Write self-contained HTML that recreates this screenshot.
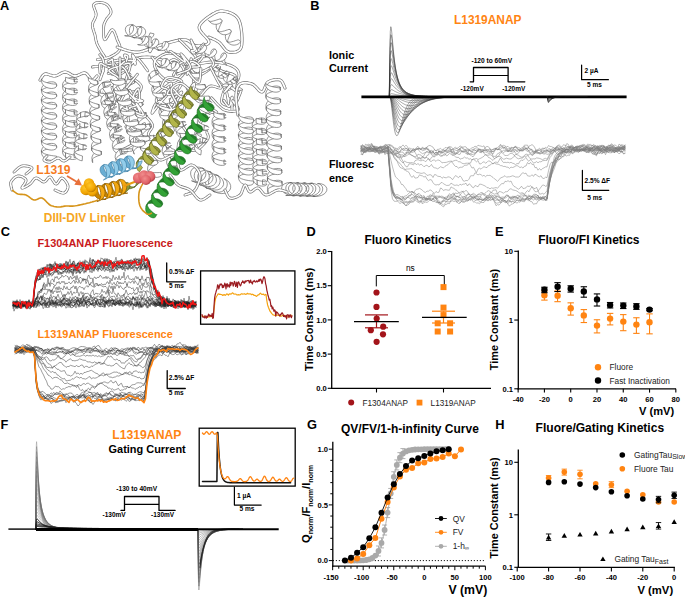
<!DOCTYPE html>
<html><head><meta charset="utf-8"><style>
html,body{margin:0;padding:0;background:#fff;}
use{fill:none}
path{stroke-linejoin:round;stroke-linecap:round}
.og{fill:none;stroke:#707070;stroke-width:4.3}.fg{stroke:#fff;stroke-width:3.0}
.oa{fill:none;stroke:#707070;stroke-width:3.9}.fa{stroke:#fff;stroke-width:2.6}
.ob{fill:none;stroke:#707070;stroke-width:3.5}.fb{stroke:#fff;stroke-width:2.2}
.oc{fill:none;stroke:#707070;stroke-width:3.1}.fc{stroke:#fff;stroke-width:1.8}
.od{fill:none;stroke:#707070;stroke-width:2.9}.fd{stroke:#fff;stroke-width:1.6}
.oe{fill:none;stroke:#707070;stroke-width:2.8}.fe{stroke:#fff;stroke-width:1.5}
svg{display:block;font-family:"Liberation Sans",sans-serif;}
</style></head><body>
<svg width="685" height="597" viewBox="0 0 685 597">
<g class="od"><path id="r1" d="M104.8,57.1l-.6-1-.8-1.3-1.1-1.6-1.1-1.7-1.1-1.8-1-1.8-1-1.7-.7-1.5-.6-1.4-.4-1.3-.3-1.2-.3-1.3-.2-1.1-.2-1.2-.2-1.2-.3-1.3-.4-1.2-.4-1.2-.4-1.3-.4-1.2-.4-1.3-.3-1.2-.2-1.2 0-1.3 .2-1.2 .4-1.3 .6-1.2 .7-1.2 .6-1.3 .6-1.2 .4-1.3 .2-1.2 0-1.3-.4-1.4-.4-1.4-.6-1.3-.5-1.4-.4-1.2-.2-1.1 0-.8 .4-.7 .6-.6 .7-.4 .8-.4 1-.2 .9-.1 1-.1 .9,0 .8,0 1,.1 1,.2 1,.3 1,.4 1,.4 .8,.5 .8,.6 .7,.7 .7,.8 .6,.9 .6,1 .5,1 .4,1 .2,1 0,1-.2,.9-.5,1-.6,.9-.8,.9-.8,1-.8,.9-.7,.9-.5,1-.5,.8-.4,.9-.4,.8-.4,.9-.3,.8-.2,1-.2,1-.1,1.2-.1,1.5 0,1.8 0,2 .1,2 .1,1.9 .3,1.6 .3,1.1 .5,.5 .7-.3 .8-1.1 1-1.6 1-1.8 1.1-1.9 1-1.6 1-1.2 .9-.4 .7,.3 .7,.8 .7,1.1 .6,1.5 .7,1.6 .5,1.7 .5,1.5 .5,1.4 .5,1.3 .6,1.2 .6,1.3 .5,1.3 .4,1.3 .2,1.2 0,1.2-.3,1.1-.6,1.1-.9,1.1-1.2,1-1.3,1-1.5,1-1.5,.8-1.5,.8-1.4,.7-1.5,.5-1.7,.5-1.8,.4-1.8,.3-1.8,.2-1.5,.2-1.4,.2-.9,.2"/></g><use href="#r1" class="fd"/>
<path d="M133.1,25.1l-1.1,.1-1,.7-.9,1.2-.5,1.5-.2,1.9 .2,1.9 .7,1.9 1.2,1.6 1.5,1.2 1.7,.7-1.4-.3-2.6-.9-2.2-1.3-1.8-1.7-1-2-.4-2 .3-1.8 .9-1.5 1.5-1 1.8-.5 1.8,0z" fill="#fff" stroke="#5e5e5e" stroke-width="0.65"/>
<path d="M141.3,26.9l-1,.1-1,.6-.9,1.2-.6,1.6-.2,1.8 .3,2 .7,1.8 1.1,1.6 1.6,1.2 1.7,.7-1.4-.3-2.6-.8-2.3-1.4-1.7-1.7-1.1-1.9-.4-2 .4-1.9 .9-1.5 1.5-1 1.7-.5 1.9,.1z" fill="#fff" stroke="#5e5e5e" stroke-width="0.65"/>
<path d="M126.5,36l2.7,.3 2.6-.3 2.3-.9 1.7-1.3 1.2-1.7 .4-1.8-.2-1.8-.9-1.5-1.5-1.2-1.7-.7-1.5-.3 1,.5 .7,1.1 .3,1.4-.1,1.7-.6,1.7-1,1.7-1.4,1.4-1.7,1-1.9,.5-1.9-.1z" fill="#fff" stroke="#5e5e5e" stroke-width="0.65"/>
<path d="M134.7,37.8l2.7,.2 2.6-.3 2.3-.9 1.8-1.3 1.2-1.7 .4-1.8-.3-1.7-.9-1.6-1.4-1.1-1.8-.7-1.4-.3 .9,.5 .7,1 .3,1.4-.1,1.7-.6,1.8-1,1.7-1.4,1.4-1.7,1-1.8,.5-1.9-.1z" fill="#fff" stroke="#5e5e5e" stroke-width="0.65"/>
<path d="M143,39.5l1.6,.2 1.6,.1 1.6-.2 1.5-.4 1.3-.6 1.1-.8 .9-.9 .7-1 .5-1 .2-1.1-4-.9-.3,1.1-.5,1.1-.6,1-.7,.9-.9,.8-1,.7-1.1,.5-1.1,.2-1.1,.1-1.1-.1z" fill="#fff" stroke="#5e5e5e" stroke-width="0.65"/>
<g class="oc"><path id="r2" d="M117.2,47.1l1.5,.5 2,.7 2.3,.9 2.6,.9 2.8,.8 2.9,.7 2.9,.4 2.9,.1 2.9-.3 3-.7 3.1-1 3.2-1.1 3.2-1.2 3.2-1.2 3.2-1 3-.9 3-.9 3-.8 3-.9 2.9-.8 2.9-.7 2.7-.5 2.5-.3 2.3-.1 2,.3 1.8,.7 1.6,.9 1.4,1.1 1.4,1.1 1.4,1 1.3,.7 1.5,.4 1.7,.1 2-.1 2-.2 1.9-.3 1.8-.6 1.5-.7 1.1-.8 .4-1.1-.3-1.4-1.1-1.6-1.6-1.9-1.9-2-1.9-2.1-1.7-2.1-1.1-2-.3-1.8 .5-1.7 1-1.8 1.5-1.7 1.8-1.7 2-1.6 2-1.5 1.9-1.3 1.7-1.1 1.5-1 1.6-.8 1.5-.8 1.5-.6 1.5-.4 1.5-.3 1.7,0 1.6,.2 1.8,.3 2.1,.5 2.1,.7 2.1,.9 2,1.1 1.9,1.4 1.6,1.7 1.3,2.1 1,2.6 .9,3.4 .6,3.8 .5,4 .2,4 0,3.8-.2,3.2-.5,2.4-.9,1.8-1.2,1.4-1.6,1-1.7,.7-1.9,.3-1.8,.1-1.8,0-1.5-.3-1.4-.6-1.3-.9-1.2-1.3-1.2-1.5-1.2-1.6-1.2-1.5-1.2-1.4-1.2-1.1-1.4-.9-1.4-.8-1.4-.8-1.4-.6-1.4-.6-1.2-.5-1-.4-.8-.4"/></g><use href="#r2" class="fc"/>
<g class="od"><path id="r3" d="M92.4,67l1.3-.2 1.8-.2 2-.2 2.4-.3 2.4-.4 2.6-.3 2.5-.4 2.4-.5 2.3-.5 2.5-.6 2.4-.7 2.5-.7 2.6-.7 2.5-.6 2.5-.6 2.5-.5 2.5-.5 2.5-.5 2.5-.5 2.5-.4 2.4-.4 2.5-.2 2.5-.1 2.5,.1 2.4,.3 2.5,.4 2.4,.7 2.4,.7 2.5,.8 2.5,.8 2.5,.7 2.6,.5 2.7,.5 2.7,.4 2.8,.5 2.8,.3 2.9,.4 2.8,.2 2.9,.2 2.8,0 2.8-.1 2.8-.3 2.8-.5 2.9-.5 2.8-.5 2.8-.4 2.7-.2 2.7,0 2.7,.3 2.8,.3 2.8,.5 2.7,.6 2.6,.7 2.4,.8 2.1,.9 1.7,.9 1.5,1 1.2,1.1 1,1.1 .7,1.3 .5,1.3 .3,1.4 0,1.3-.2,1.4-.5,1.6-.9,1.8-1.2,2-1.4,1.9-1.5,1.8-1.6,1.6-1.5,1.1-1.3,.6-1.3,0-1.4-.6-1.5-1-1.4-1.3-1.3-1.4-1.3-1.3-1-1.1-.7-.7"/></g><use href="#r3" class="fd"/>
<g class="oe"><path id="r4" d="M152,57.1l.7,.9 1,1.3 1.1,1.5 1.3,1.7 1.4,1.6 1.5,1.4 1.5,1 1.4,.5 1.4-.2 1.6-.9 1.6-1.3 1.6-1.5 1.6-1.4 1.6-1.3 1.5-.7 1.5-.1 1.5,.6 1.7,1.1 1.7,1.6 1.6,1.8 1.4,1.9 1.2,2 .7,1.8 .1,1.6-.5,1.4-1,1.6-1.5,1.6-1.8,1.6-2,1.3-2,1.2-1.9,.8-1.7,.4-1.6-.1-1.7-.4-1.7-.8-1.7-1-1.6-1.2-1.5-1.3-1.4-1.4-1.2-1.3-1.1-1.3-1.1-1.5-1-1.6-.8-1.7-.7-1.7-.4-1.6-.1-1.6 .2-1.4 .7-1.3 1.2-1.4 1.4-1.3 1.7-1.2 1.9-1.2 1.9-1 1.9-.7 1.7-.6 1.9-.2 2,.1 2.2,.4 2.2,.4 2,.6 1.9,.5 1.6,.5 1.1,.2"/></g><use href="#r4" class="fe"/>
<g class="od"><path id="r5" d="M179.3,39.7l.7,.8 1.1,1 1.3,1.2 1.4,1.3 1.4,1.5 1.4,1.4 1.4,1.4 1.2,1.3 1.1,1.3 1.3,1.3 1.3,1.3 1.2,1.2 1.1,1.3 .8,1.2 .5,1.2 .1,1.2-.5,1-1.3,1-1.6,.9-1.8,.9-1.9,.9-1.5,.9-1,.9-.3,.9 .5,1 1.1,1.1 1.5,1.2 1.9,1.2 2,1.1 2,.9 1.8,.6 1.6,.3 1.4,0 1.5-.4 1.4-.7 1.4-.9 1.3-.9 1.2-.8 1-.8 .7-.4"/></g><use href="#r5" class="fd"/>
<path d="M221.9,20.5l.1,.5-.2,.9-.4,1.1-.7,1.4-.7,1.5-.6,1.6-.6,1.5-.3,1.4 .1,1.1 .4,.8-1.1-1.2-1-1.5-.6-1.7-.1-1.9 .2-1.8 .6-1.7 .8-1.4 .9-1.1 .9-.6 .8-.3 .4,.2z" fill="#fff" stroke="#5e5e5e" stroke-width="0.65"/>
<path d="M231.1,30.9l.1,.5-.2,.9-.4,1.1-.7,1.4-.7,1.5-.6,1.6-.6,1.5-.3,1.4 .1,1.1 .4,.8-1.1-1.2-1-1.5-.6-1.7-.1-1.9 .2-1.8 .6-1.7 .8-1.4 .9-1.1 .9-.6 .8-.3 .4,.2z" fill="#fff" stroke="#5e5e5e" stroke-width="0.65"/>
<path d="M209.8,21.9l1.4,1.2 1.6,.8 1.8,.4 1.9,0 1.7-.4 1.5-.6 1.2-.8 .7-.8 .4-.7-.1-.5-1.1-1.2-.5-.2-.9,0-1.2,.4-1.4,.4-1.6,.6-1.7,.4-1.5,.4-1.4,.1-1.1-.2-.8-.5z" fill="#fff" stroke="#5e5e5e" stroke-width="0.65"/>
<path d="M219,32.3l1.4,1.2 1.6,.8 1.8,.4 1.9,0 1.7-.4 1.5-.6 1.2-.8 .7-.8 .4-.7-.1-.5-1.1-1.2-.5-.2-.9,0-1.2,.4-1.4,.4-1.6,.6-1.7,.4-1.5,.4-1.4,.1-1.1-.2-.8-.5z" fill="#fff" stroke="#5e5e5e" stroke-width="0.65"/>
<path d="M228.2,42.7l1.4,1.2 1.6,.8 1.8,.4 1.9,0 1.7-.4 1.5-.6 1.2-.8 .7-.8 .4-.7-.1-.5-1.1-1.2-.5-.2-.9,0-1.2,.4-1.4,.4-1.6,.6-1.7,.4-1.5,.4-1.4,.1-1.1-.2-.8-.5z" fill="#fff" stroke="#5e5e5e" stroke-width="0.65"/>
<g class="oe"><path id="r6" d="M182.2,125.5l.7,.9 .8,1.3 1.1,1.5 1.1,1.7 1.2,1.8 1.2,1.8 1.2,1.8 1,1.6 1,1.6 1.2,1.7 1.3,1.7 1.2,1.7 1,1.6 .8,1.4 .3,1.2-.1,.9-.9,.5-1.6,.1-2.1-.1-2.3-.3-2.3-.4-2-.4-1.4-.3-.6-.1 .4,.2 .9,.3 1.6,.4 1.8,.4 2,.3 2.1,.2 2-.1 1.6-.4 1.6-.8 1.6-1.1 1.7-1.4 1.6-1.6 1.5-1.6 1.3-1.6 1.1-1.5 .9-1.2 .4-1.1 .2-1.1-.1-1.1-.3-1-.3-.8-.4-.8-.3-.7-.1-.5"/></g><use href="#r6" class="fe"/>
<g class="oe"><path id="r7" d="M171.8,109.5l-1.1-.7-1.5-1.2-1.9-1.3-2-1.5-2-1.3-2-1.1-1.7-.7-1.5-.1-1.2,.7-1.1,1.3-1.1,1.9-1,2-.7,2.1-.6,1.8-.4,1.3 0,.6 .2-.2 .7-.7 .8-1.1 1.1-1.5 1.2-1.5 1.2-1.7 1.1-1.5 1.1-1.4 1-1.2 1.1-1.3 1.2-1.2 1.1-1.3 1.1-1.3 1.1-1.2 .9-1.3 .8-1.3 .8-1.4 .8-1.7 .8-1.7 .7-1.7 .5-1.5 .2-1.3 0-.8-.5-.3-1,.3-1.6,1-2,1.5-2.2,1.7-2.2,1.8-2,1.7-1.7,1.4-1.2,1"/></g><use href="#r7" class="fe"/>
<g class="oe"><path id="r8" d="M127.6,75.5l1.2,.8 1.7,1 2.1,1.2 2.2,1.4 2.1,1.4 1.9,1.6 1.5,1.5 .9,1.5 .1,1.5-.4,1.7-.8,1.8-1.1,1.8-1.2,1.7-1.1,1.7-.9,1.5-.5,1.2-.2,1 .2,.7 .3,.4 .4,.4 .3,.4 .3,.5 0,.7-.2,.9-.7,1.2-1.1,1.4-1.3,1.5-1.3,1.6-1.4,1.6-1.2,1.7-.9,1.7-.4,1.6 0,1.8 .2,1.9 .5,2 .8,2 .8,1.8 1,1.6 1,1.3 1,.7 1.2,.2 1.4-.4 1.6-.8 1.7-1 1.6-1.1 1.4-1.1 1.3-.9 .9-.5"/></g><use href="#r8" class="fe"/>
<g class="oe"><path id="r9" d="M147.7,70.8l-.8-1.1-1.1-1.5-1.3-1.8-1.4-1.9-1.5-1.9-1.4-1.7-1.3-1.4-1.1-.9-.9-.4-.6,0-.6,.3-.5,.5-.5,.6-.6,.7-.8,.6-1.1,.6-1.4,.6-1.7,.7-1.9,.8-2,.9-2,.8-1.9,.6-1.7,.4-1.3,.2-1.1-.2-1-.6-.9-.7-.7-.9-.5-.9-.4-.8-.1-.8 .2-.5 .5-.3 1.1-.1 1.3-.1 1.5,0 1.6,0 1.3,0 1,0 .6,0 0-.1-.5,0-.7-.1-.9-.1-.9-.1-.9,0-.8-.1-.5,0"/></g><use href="#r9" class="fe"/>
<g class="oe"><path id="r10" d="M193,60.4l1.1-.5 1.5-.8 1.7-1 1.9-1 2-.9 1.9-.8 1.8-.4 1.4,0 1.3,.5 1.4,.9 1.3,1.2 1.2,1.4 1,1.5 .7,1.5 .3,1.4-.2,1.3-.8,1.1-1.3,1.1-1.9,1.2-2.1,1.1-2.1,1-2.1,.9-1.8,.9-1.4,.7-.8,.7-.6,.6-.3,.6-.1,.5-.2,.3-.3,.1-.5-.1-.9-.5-1.3-1-1.6-1.7-1.8-2.1-1.9-2.2-1.9-2.1-1.9-1.8-1.8-1.3-1.6-.5-1.4,.5-1.4,1.2-1.3,1.8-1.2,2.1-1.1,2.2-1,2.1-.9,1.7-.6,1.2"/></g><use href="#r10" class="fe"/>
<g class="oe"><path id="r11" d="M125.9,126.8l1.1,1.1 1.5,1.5 1.8,1.9 1.9,1.9 1.9,2 1.7,1.7 1.4,1.4 .8,.9 .2,.2-.3-.4-.6-.7-.8-.9-.9-.9-.9-.8-.7-.5-.4-.1-.1,.4 .2,.7 .3,1 .4,1.1 .3,1.2 .1,1.2-.1,1.1-.4,1-.9,1-1.5,1-1.7,1-1.9,1-1.8,.9-1.5,.8-1.1,.7-.6,.6 .3,.3 1,.2 1.4,.1 1.6-.1 1.6-.1 1.4-.1 .9-.1 .2,0-.7,0-1.4,0-1.8,0-2.1,0-2.2,0-2,0-1.7,0-1.1,0"/></g><use href="#r11" class="fe"/>
<g class="oe"><path id="r12" d="M112,87.4l.3,.9 .5,1.2 .5,1.4 .6,1.6 .5,1.7 .4,1.7 .3,1.6 0,1.6-.2,1.6-.5,1.7-.6,1.9-.8,1.8-.7,1.6-.7,1.5-.6,1.1-.3,.7-.1,.1 .1-.2 .3-.5 .3-.8 .4-.9 .2-1 .1-1-.1-1-.3-.9-.5-1.1-.6-1.1-.6-1.1-.8-1.2-.8-1.2-.7-1.2-.8-1.2-.9-1.4-1-1.6-1.1-1.7-1.1-1.7-1-1.5-.8-1.2-.6-.7-.3-.1 .1,.7 .5,1.5 .7,1.9 .9,2.3 1,2.3 .9,2.2 .7,1.8 .5,1.2"/></g><use href="#r12" class="fe"/>
<g class="oe"><path id="r13" d="M121.3,59.6l1.2,.1 1.7,.2 1.9,.3 2.2,.2 2.1,.2 2,.2 1.5-.1 1-.1 .5-.5-.1-.8-.4-1-.6-1-.7-1-.6-.8-.5-.5-.2,0 .1,.5 .3,1 .4,1.3 .4,1.6 .5,1.5 .4,1.4 .4,1.1 .1,.7 .2,.2 .1-.2 .1-.6 0-.6-.1-.6-.3-.5-.5-.2-.7,.3-1,.9-1.3,1.4-1.5,1.6-1.7,1.8-1.7,1.9-1.8,1.7-1.8,1.4-1.6,1-1.7,.5-1.9,.3-1.9,0-1.9-.2-1.7-.2-1.7-.3-1.3-.2-1-.1"/></g><use href="#r13" class="fe"/>
<g class="oe"><path id="r14" d="M210.7,67.4l.5,1 .7,1.4 .9,1.6 .9,1.8 .9,1.9 1,1.8 .8,1.7 .8,1.4 .7,1.3 .7,1.3 .8,1.2 .7,1.1 .5,1.1 .4,.8 .1,.8-.3,.5-.7,.1-1-.2-1.4-.4-1.6-.6-1.6-.5-1.7-.4-1.6-.1-1.4,.2-1.3,.8-1.3,1.1-1.4,1.4-1.2,1.5-1.3,1.6-1.2,1.4-1.1,1.1-1,.8-1.1,.3-1.1-.1-1.1-.4-1.1-.5-.8-.5-.6-.3-.2-.1 .2,.3 .9,.7 1.6,1.2 1.9,1.4 2.3,1.5 2.2,1.6 2.1,1.4 1.8,1.2 1.2,.8"/></g><use href="#r14" class="fe"/>
<g class="oe"><path id="r15" d="M228.8,98.1l0,.6 0,.8-.1,1.1 0,1.1 0,1-.1,.9 0,.7-.1,.2 0-.1-.1-.4 0-.6 0-.8-.1-.9-.1-1-.1-1-.2-1-.2-1.2-.3-1.6-.3-1.7-.4-1.7-.3-1.6-.4-1.2-.4-.8-.4-.1-.5,.6-.6,1.4-.7,1.8-.7,2.2-.6,2.2-.4,2.2-.1,1.9 .2,1.3 .7,1 1.1,.8 1.5,.7 1.6,.5 1.6,.3 1.5,.2 1.3,.1 .9,0 .5-.2 .2-.5 0-.6-.1-.7-.2-.8-.2-.7-.1-.6-.1-.4"/></g><use href="#r15" class="fe"/>
<g class="oe"><path id="r16" d="M111.8,80.9l.7,.8 1,1.1 1.2,1.3 1.3,1.4 1.2,1.5 1.1,1.5 .9,1.4 .5,1.3 0,1.1-.5,1.1-.6,1-.9,1.1-.8,.9-.7,1-.4,.9 0,.9 .4,.8 .8,.7 1,.6 1.1,.6 1.2,.6 1.2,.7 1.1,.7 .9,.7 .8,.8 .7,.9 .8,1 .7,.9 .6,1 .5,.9 .3,.9 .2,.9-.1,.8-.2,.9-.4,.8-.6,.8-.6,.8-.6,.6-.7,.6-.7,.4-.7,.2-.8,.1-.9,0-.9-.1-.8-.2-.8-.2-.7-.1-.5-.1"/></g><use href="#r16" class="fe"/>
<g class="oe"><path id="r17" d="M201.6,120.6l-.5,1.1-.8,1.4-.9,1.7-.9,1.9-1,1.9-.8,1.8-.6,1.6-.3,1.1 .2,.8 .6,.5 .9,.3 .9,.2 .9,.1 .7,.1 .3,.1-.3,.2-.9,.2-1.4,.1-1.8,.1-2,.1-2.1,.1-2.1,.1-1.8,.3-1.5,.3-1.3,.4-1.1,.5-1,.5-.9,.5-.8,.7-.8,.6-.6,.8-.5,.8-.5,.9-.3,1.2-.3,1.2-.1,1.2-.1,1.3 0,1.1 .1,.9 .1,.7 .3,.4 .5,.2 .6,0 .6-.1 .7-.1 .6-.2 .5-.1 .4-.1"/></g><use href="#r17" class="fe"/>
<g class="oe"><path id="r18" d="M145.9,116.2l.6,.7 .9,.9 1,1.1 1.1,1.3 1.1,1.3 .9,1.3 .7,1.3 .4,1.3-.1,1.2-.5,1.2-.8,1.3-1,1.3-.8,1.3-.7,1.2-.4,1.1 .1,1 .6,.8 .9,.7 1.2,.6 1.4,.5 1.5,.5 1.6,.6 1.6,.7 1.5,.8 1.7,1.1 1.8,1.3 1.9,1.4 1.9,1.5 1.9,1.4 1.7,1.2 1.4,1.1 1.1,.8 .7,.5 .5,.2 .3,0 .1-.1 0-.2-.3-.2-.3-.1-.5-.1-.8,0-1.1,0-1.3,0-1.5,0-1.4,0-1.4,0-1.1,0-.8,0"/></g><use href="#r18" class="fe"/>
<g class="oe"><path id="r19" d="M223.7,100.3l.5,.6 .6,.9 .7,1.1 .7,1.1 .8,1 .8,.9 .7,.5 .6,.1 .5-.5 .5-1 .4-1.3 .4-1.6 .3-1.5 .3-1.4 .3-1.2 .2-.7 .1-.2 .1,.1 0,.3 0,.5-.1,.5 0,.5-.1,.4 0,.2 0-.2 0-.3 0-.5 0-.5 0-.5 0-.3 0-.1 0,.1 0,.5 0,.8 0,1 0,1.1 0,1.1 0,1.2 0,1.1 0,.9 0,.9 0,.9 0,.9 0,.9 0,.8 0,.7 0,.6 0,.5"/></g><use href="#r19" class="fe"/>
<g class="oe"><path id="r20" d="M103.6,70.2l-.1,.3-.1,.4-.2,.5-.3,.6-.2,.6-.2,.6-.3,.6-.2,.6-.3,.7-.3,1-.4,1-.3,1-.4,.8-.2,.7-.1,.2 0-.2 .2-.8 .4-1.2 .6-1.7 .6-1.9 .6-2 .5-1.9 .5-1.8 .3-1.5 .1-1.2 0-1.2 0-1-.1-1-.2-.9-.2-.8-.2-.8-.2-.8-.3-.7-.4-.7-.4-.6-.4-.5-.4-.5-.4-.4-.4-.4-.2-.3-.1-.2-.1-.1 .1,.1 0,.1 .1,.1"/></g><use href="#r20" class="fe"/>
<g class="oe"><path id="r21" d="M125.5,58.4l-.1-.3-.1-.5-.2-.5-.3-.5-.1-.6-.2-.5 0-.3 .1-.2 .2,0 .5,0 .6,.2 .6,.2 .6,.3 .4,.5 .3,.6-.1,.8-.4,1-.6,1.5-.7,1.7-.9,1.7-1.1,1.8-1.1,1.5-1.3,1.2-1.3,.8-1.4,.4-1.8,0-1.9-.3-1.9-.5-2-.6-1.8-.6-1.7-.6-1.4-.4-1.2-.4-1.1-.5-.9-.6-.8-.5-.7-.4-.6-.3-.5-.1-.4,.3-.4,.6-.1,1.1 0,1.3 0,1.5 .1,1.4 .1,1.4 .1,1.2 0,.8"/></g><use href="#r21" class="fe"/>
<path d="M134.4,82.4l-1.2,.8-1.4,1.1-1.6,1.2-1.5,1.2-1.3,1.2-.9,1.2-.4,1.1 .3,1.1 1,1.6 1.5,1.2-1.3-3.6-1.2-.4-.7-.7-.4-1.6 .1-2 .6-1.9 1.1-1.7 1.4-1.4 1.6-1.1 1.6-.7 1.4-.2z" fill="#fff" stroke="#5e5e5e" stroke-width="0.65"/>
<path d="M138.4,93.7l-1.2,.8-1.4,1.1-1.6,1.1-1.5,1.3-1.3,1.2-.9,1.2-.4,1 .3,1.1 1,1.6 1.5,1.3-1.3-3.6-1.2-.5-.7-.6-.4-1.7 .1-1.9 .6-1.9 1.1-1.7 1.4-1.5 1.6-1.1 1.6-.6 1.4-.3z" fill="#fff" stroke="#5e5e5e" stroke-width="0.65"/>
<path d="M142.4,104.9l-1.2,.9-1.4,1-1.6,1.2-1.5,1.2-1.3,1.3-.9,1.1-.4,1.1 .3,1.1 1,1.6 1.5,1.3-1.3-3.6-1.2-.5-.7-.7-.4-1.6 .1-1.9 .6-1.9 1.1-1.8 1.4-1.4 1.6-1.1 1.6-.7 1.4-.2z" fill="#fff" stroke="#5e5e5e" stroke-width="0.65"/>
<path d="M146.4,116.2l-1.2,.9-1.4,1-1.6,1.2-1.5,1.2-1.3,1.2-.9,1.2-.4,1.1 .3,1.1 1,1.6 1.5,1.3-1.3-3.7-1.2-.4-.7-.7-.4-1.6 .1-1.9 .6-1.9 1.1-1.8 1.4-1.4 1.6-1.1 1.6-.7 1.4-.2z" fill="#fff" stroke="#5e5e5e" stroke-width="0.65"/>
<path d="M150.4,127.5l-1.2,.8-1.4,1.1-1.6,1.1-1.5,1.3-1.3,1.2-.9,1.2-.4,1 .3,1.1 1,1.7 1.5,1.2-1.3-3.6-1.2-.4-.7-.7-.4-1.6 .1-2 .6-1.9 1.1-1.7 1.4-1.5 1.6-1 1.6-.7 1.4-.2z" fill="#fff" stroke="#5e5e5e" stroke-width="0.65"/>
<path d="M124.9,82.9l1.8,.9 2,.4 2,.1 1.8-.4 1.5-.6 1-.7 .5-.8 0-.5-.3,.4-.8,.7-1.3-3.6 1.1,.1 .6,.5-.1,0-.8-.1-1.3,0-1.7,.2-1.9,.1-2,0-1.8-.1-1.6-.2z" fill="#fff" stroke="#5e5e5e" stroke-width="0.65"/>
<path d="M128.9,94.1l1.8,.9 2,.5 2,0 1.8-.3 1.5-.6 1-.8 .5-.8 0-.5-.3,.5-.8,.7-1.3-3.7 1.1,.2 .6,.5-.1-.1-.8,0-1.3,0-1.7,.1-1.9,.1-2,.1-1.8-.1-1.6-.3z" fill="#fff" stroke="#5e5e5e" stroke-width="0.65"/>
<path d="M132.9,105.4l1.8,.9 2,.5 2,0 1.8-.3 1.5-.6 1-.8 .5-.8 0-.5-.3,.5-.8,.6-1.3-3.6 1.1,.2 .6,.4-.1,0-.8-.1-1.3,.1-1.7,.1-1.9,.1-2,0-1.8,0-1.6-.3z" fill="#fff" stroke="#5e5e5e" stroke-width="0.65"/>
<path d="M136.9,116.7l1.8,.9 2,.4 2,.1 1.8-.3 1.5-.6 1-.8 .5-.8 0-.5-.3,.4-.8,.7-1.3-3.6 1.1,.1 .6,.5-.1,0-.8-.1-1.3,.1-1.7,.1-1.9,.1-2,0-1.8-.1-1.6-.2z" fill="#fff" stroke="#5e5e5e" stroke-width="0.65"/>
<path d="M140.9,128l1.8,.9 2,.4 2,.1 1.8-.4 1.5-.6 1-.7 .5-.8 0-.5-.3,.4-.8,.7-1.3-3.6 1.1,.1 .6,.5-.1,0-.8-.1-1.3,0-1.7,.1-1.9,.2-2,0-1.8-.1-1.6-.3z" fill="#fff" stroke="#5e5e5e" stroke-width="0.65"/>
<path d="M144.9,139.2l1.8,.9 2,.5 2,0 1.8-.3 1.5-.6 1-.8 .5-.8 0-.5-.3,.5-.8,.6-1.3-3.6 1.1,.2 .6,.5-.1-.1-.8,0-1.3,0-1.7,.1-1.9,.1-2,.1-1.8-.1-1.6-.3z" fill="#fff" stroke="#5e5e5e" stroke-width="0.65"/>
<path d="M156.7,74.9l1.1-.7 .7-.8 0-.7-.2,.4-.7,.5-1.1,.8-1.5,1-1.6,1.1-1.5,1.1-1.4,1.2-1.4-4.1 1.3-1.7 1.5-1.3 1.6-.9 1.6-.5 1.4-.1 1,.2 .5,.6-.4-.2-.9-.1-1.4,.1z" fill="#fff" stroke="#5e5e5e" stroke-width="0.65"/>
<path d="M160.3,86.1l1.1-.7 .7-.8 0-.7-.2,.4-.7,.5-1.1,.8-1.5,1-1.6,1.1-1.5,1.1-1.4,1.2-1.4-4.1 1.3-1.7 1.5-1.3 1.6-.9 1.6-.5 1.4-.1 1,.2 .5,.6-.4-.2-.9-.1-1.4,.1z" fill="#fff" stroke="#5e5e5e" stroke-width="0.65"/>
<path d="M163.9,97.3l1.1-.7 .7-.8 0-.7-.2,.4-.7,.5-1.1,.8-1.5,1-1.6,1.1-1.5,1.1-1.4,1.2-1.4-4.1 1.3-1.7 1.5-1.3 1.6-.9 1.6-.5 1.4-.1 1,.2 .5,.6-.4-.2-.9-.1-1.4,.1z" fill="#fff" stroke="#5e5e5e" stroke-width="0.65"/>
<path d="M167.5,108.5l1.1-.7 .7-.8 0-.7-.2,.4-.7,.5-1.1,.8-1.5,1-1.6,1.1-1.5,1.1-1.4,1.2-1.4-4.1 1.3-1.7 1.5-1.3 1.6-.9 1.6-.5 1.4-.1 1,.2 .5,.6-.4-.2-.9-.1-1.4,.1z" fill="#fff" stroke="#5e5e5e" stroke-width="0.65"/>
<path d="M171.1,119.7l1.1-.7 .7-.8 0-.7-.2,.4-.7,.5-1.1,.8-1.5,1-1.6,1.1-1.5,1.1-1.4,1.2-1.4-4.1 1.3-1.7 1.5-1.3 1.6-.9 1.6-.5 1.4-.1 1,.2 .5,.6-.4-.2-.9-.1-1.4,.1z" fill="#fff" stroke="#5e5e5e" stroke-width="0.65"/>
<path d="M150.5,78.8l-1,1.2-.6,1 0,1 .8,1.6 1.4,1.4 1.7,1.1 2,.6 2,.2 1.9-.2 1.6-.6-1.4-4.1-1.7,0-1.9,.1-2,0-1.8-.2-1.5-.3-1.1-.6-.5-.7-.3-1.9 .2-1.9 .8-1.8z" fill="#fff" stroke="#5e5e5e" stroke-width="0.65"/>
<path d="M154.1,90l-1,1.2-.6,1 0,1 .8,1.6 1.4,1.4 1.7,1.1 2,.6 2,.2 1.9-.2 1.6-.6-1.4-4.1-1.7,0-1.9,.1-2,0-1.8-.2-1.5-.3-1.1-.6-.5-.7-.3-1.9 .2-1.9 .8-1.8z" fill="#fff" stroke="#5e5e5e" stroke-width="0.65"/>
<path d="M157.7,101.2l-1,1.2-.6,1 0,1 .8,1.6 1.4,1.4 1.7,1.1 2,.6 2,.2 1.9-.2 1.6-.6-1.4-4.1-1.7,0-1.9,.1-2,0-1.8-.2-1.5-.3-1.1-.6-.5-.7-.3-1.9 .2-1.9 .8-1.8z" fill="#fff" stroke="#5e5e5e" stroke-width="0.65"/>
<path d="M161.3,112.4l-1,1.2-.6,1 0,1 .8,1.6 1.4,1.4 1.7,1.1 2,.6 2,.2 1.9-.2 1.6-.6-1.4-4.1-1.7,0-1.9,.1-2,0-1.8-.2-1.5-.3-1.1-.6-.5-.7-.3-1.9 .2-1.9 .8-1.8z" fill="#fff" stroke="#5e5e5e" stroke-width="0.65"/>
<path d="M164.9,123.6l-1,1.2-.6,1 0,1 .8,1.6 1.4,1.4 1.7,1.1 2,.6 2,.2 1.9-.2 1.6-.6-1.4-4.1-1.7,0-1.9,.1-2,0-1.8-.2-1.5-.3-1.1-.6-.5-.7-.3-1.9 .2-1.9 .8-1.8z" fill="#fff" stroke="#5e5e5e" stroke-width="0.65"/>
<path d="M176.4,103.1l-1.6,1-1.6,1.1-1.5,1.2-1.2,1.2-.8,1.1-.3,1 .4,1.3 1.1,1.6 1.5,1.3 1.9,.8-1.4-4.4-1.6-.3-1.3-.5-.9-.6-.4-1.4 0-1.9 .6-1.9 1.1-1.8 1.4-1.4 1.6-1.2 1.6-.7z" fill="#fff" stroke="#5e5e5e" stroke-width="0.65"/>
<path d="M180,114.6l-1.6,1-1.6,1.2-1.5,1.1-1.2,1.2-.9,1.1-.2,1 .4,1.4 1.1,1.6 1.5,1.2 1.9,.9-1.4-4.5-1.7-.3-1.3-.4-.8-.7-.4-1.3 0-1.9 .6-1.9 1-1.8 1.4-1.5 1.6-1.1 1.7-.7z" fill="#fff" stroke="#5e5e5e" stroke-width="0.65"/>
<path d="M183.5,126.2l-1.5,1-1.7,1.1-1.5,1.2-1.2,1.2-.8,1.1-.3,1 .4,1.3 1.1,1.6 1.6,1.3 1.8,.8-1.4-4.4-1.6-.3-1.3-.5-.8-.6-.5-1.4 .1-1.9 .5-1.9 1.1-1.7 1.4-1.5 1.6-1.2 1.6-.7z" fill="#fff" stroke="#5e5e5e" stroke-width="0.65"/>
<path d="M187.1,137.7l-1.6,1-1.6,1.2-1.5,1.2-1.2,1.1-.8,1.2-.3,1 .4,1.3 1.1,1.6 1.5,1.2 1.9,.9-1.4-4.5-1.7-.2-1.3-.5-.8-.7-.4-1.3 0-1.9 .6-1.9 1-1.8 1.4-1.5 1.7-1.1 1.6-.7z" fill="#fff" stroke="#5e5e5e" stroke-width="0.65"/>
<path d="M170.7,103.2l2,.4 2,0 1.8-.3 1.4-.6 .9-.8 .4-.7-.1-.2-.4,.5-1,.7-1.3,.9-1.4-4.5 1.5-.3 1.2,.1 .8,.4 0,.2-.6-.1-1.2-.1-1.6,.1-1.8,0-2,0-1.9-.2z" fill="#fff" stroke="#5e5e5e" stroke-width="0.65"/>
<path d="M174.3,114.7l2,.5 2,0 1.7-.3 1.4-.6 1-.8 .3-.8 0-.1-.5,.5-.9,.6-1.3,.9-1.4-4.4 1.5-.3 1.2,.1 .7,.4 .1,.2-.7-.2-1.1,0-1.6,0-1.9,0-2,0-1.9-.1z" fill="#fff" stroke="#5e5e5e" stroke-width="0.65"/>
<path d="M177.9,126.3l2,.4 1.9,0 1.8-.3 1.4-.6 .9-.7 .4-.8-.1-.2-.4,.5-1,.7-1.3,.9-1.4-4.5 1.5-.3 1.2,.1 .8,.5 0,.1-.6-.1-1.2-.1-1.6,.1-1.8,0-2,0-1.9-.2z" fill="#fff" stroke="#5e5e5e" stroke-width="0.65"/>
<path d="M181.4,137.8l2,.5 2,0 1.7-.3 1.5-.6 .9-.8 .3-.8 0-.1-.5,.5-.9,.7-1.3,.8-1.4-4.4 1.5-.3 1.2,.1 .7,.4 .1,.2-.7-.2-1.1,0-1.6,0-1.9,.1-1.9-.1-2-.1z" fill="#fff" stroke="#5e5e5e" stroke-width="0.65"/>
<path d="M185,149.4l2,.4 1.9,0 1.8-.3 1.4-.6 .9-.7 .4-.8-.1-.2-.4,.5-1,.7-1.3,.9-1.3-4.5 1.5-.3 1.1,.1 .8,.5 0,.1-.6-.1-1.2,0-1.6,0-1.8,0-2,0-1.9-.2z" fill="#fff" stroke="#5e5e5e" stroke-width="0.65"/>
<path d="M145.8,126.8l-.5,.6-1,.7-1.3,1-1.6,1.1-1.5,1.2-1.5,1.2-1.1,1.3-.7,1.1-.2,1 .6,1.5-.8-2.3-.5-1.2-.1-1.9 .4-2 1-1.8 1.3-1.6 1.6-1.3 1.6-.8 1.5-.4 1.2,0 .8,.3z" fill="#fff" stroke="#5e5e5e" stroke-width="0.65"/>
<path d="M149.8,138.8l-.5,.6-1,.7-1.3,1-1.6,1.1-1.5,1.2-1.5,1.2-1.1,1.3-.7,1.1-.2,1 .6,1.5-.8-2.3-.5-1.2-.1-1.9 .4-2 1-1.8 1.3-1.6 1.6-1.3 1.6-.8 1.5-.4 1.2,0 .8,.3z" fill="#fff" stroke="#5e5e5e" stroke-width="0.65"/>
<path d="M153.8,150.8l-.5,.6-1,.7-1.3,1-1.6,1.1-1.5,1.2-1.5,1.2-1.1,1.3-.7,1.1-.2,1 .6,1.5-.8-2.3-.5-1.2-.1-1.9 .4-2 1-1.8 1.3-1.6 1.6-1.3 1.6-.8 1.5-.4 1.2,0 .8,.3z" fill="#fff" stroke="#5e5e5e" stroke-width="0.65"/>
<path d="M157.8,162.8l-.5,.6-1,.7-1.3,1-1.6,1.1-1.5,1.2-1.5,1.2-1.1,1.3-.7,1.1-.2,1 .6,1.5-.8-2.3-.5-1.2-.1-1.9 .4-2 1-1.8 1.3-1.6 1.6-1.3 1.6-.8 1.5-.4 1.2,0 .8,.3z" fill="#fff" stroke="#5e5e5e" stroke-width="0.65"/>
<path d="M133,125.5l1.2,1.5 1.6,1.2 1.9,.8 2,.4 2-.1 1.7-.4 1.4-.6 .8-.8 .3-.7-.1,0-.8-2.3 .2,.3-.6-.2-1.1-.1-1.5,.1-1.9,0-1.9,0-2-.1-1.7-.2-1.4-.5-.9-.6z" fill="#fff" stroke="#5e5e5e" stroke-width="0.65"/>
<path d="M137,137.5l1.2,1.5 1.6,1.2 1.9,.8 2,.4 2-.1 1.7-.4 1.4-.6 .8-.8 .3-.7-.1,0-.8-2.3 .2,.3-.6-.2-1.1-.1-1.5,.1-1.9,0-1.9,0-2-.1-1.7-.2-1.4-.5-.9-.6z" fill="#fff" stroke="#5e5e5e" stroke-width="0.65"/>
<path d="M141,149.5l1.2,1.5 1.6,1.2 1.9,.8 2,.4 2-.1 1.7-.4 1.4-.6 .8-.8 .3-.7-.1,0-.8-2.3 .2,.3-.6-.2-1.1-.1-1.5,.1-1.9,0-1.9,0-2-.1-1.7-.2-1.4-.5-.9-.6z" fill="#fff" stroke="#5e5e5e" stroke-width="0.65"/>
<path d="M145,161.5l1.2,1.5 1.6,1.2 1.9,.8 2,.4 2-.1 1.7-.4 1.4-.6 .8-.8 .3-.7-.1,0-.8-2.3 .2,.3-.6-.2-1.1-.1-1.5,.1-1.9,0-1.9,0-2-.1-1.7-.2-1.4-.5-.9-.6z" fill="#fff" stroke="#5e5e5e" stroke-width="0.65"/>
<path d="M149,173.5l1.2,1.5 1.6,1.2 1.9,.8 2,.4 2-.1 1.7-.4 1.4-.6 .8-.8 .3-.7-.1,0-.8-2.3 .2,.3-.6-.2-1.1-.1-1.5,.1-1.9,0-1.9,0-2-.1-1.7-.2-1.4-.5-.9-.6z" fill="#fff" stroke="#5e5e5e" stroke-width="0.65"/>
<path d="M161.9,136.4l1.7-.3 1.5-.5 1-.7 .5-.7 0-.6-.2,.5-.6,.7-1,.9-1.2,1.1-1.4,1.2-1.8-4.7 1.4-1.1 1.4-.6 1.2-.3 1,.2 .5,.4-.3-.2-.9-.1-1.2,0-1.6,.1-1.8,.1z" fill="#fff" stroke="#5e5e5e" stroke-width="0.65"/>
<path d="M166.5,147.8l1.7-.2 1.4-.6 1-.7 .5-.7 0-.6-.1,.5-.6,.7-1,.9-1.3,1.1-1.3,1.2-1.9-4.7 1.4-1 1.4-.7 1.3-.2 .9,.1 .6,.4-.4-.2-.8-.1-1.3,0-1.6,.1-1.8,.1z" fill="#fff" stroke="#5e5e5e" stroke-width="0.65"/>
<path d="M171.1,159.3l1.7-.3 1.4-.5 1-.7 .5-.8 0-.5-.1,.5-.6,.7-1,.9-1.3,1-1.3,1.2-1.9-4.6 1.4-1.1 1.4-.7 1.3-.2 .9,.1 .5,.5-.3-.3-.8-.1-1.3,0-1.6,.1-1.8,.1z" fill="#fff" stroke="#5e5e5e" stroke-width="0.65"/>
<path d="M175.6,170.7l1.8-.3 1.4-.5 1-.7 .5-.7 0-.6-.2,.5-.6,.7-1,.9-1.2,1.1-1.4,1.1-1.8-4.6 1.4-1.1 1.4-.6 1.2-.3 1,.1 .5,.5-.3-.2-.9-.1-1.2,0-1.6,.1-1.8,0z" fill="#fff" stroke="#5e5e5e" stroke-width="0.65"/>
<path d="M162.2,138l-1.3,1.2-1.2,1.2-.8,1.2-.3,1 .1,.9 1,1.6 1.4,1.3 1.7,.9 1.8,.5 1.9,0-1.9-4.6-1.8,0-1.7,0-1.4-.3-1.1-.4-.6-.7-.4-1.7 0-1.9 .5-1.8 1-1.7 1.3-1.4z" fill="#fff" stroke="#5e5e5e" stroke-width="0.65"/>
<path d="M166.8,149.4l-1.3,1.2-1.2,1.2-.8,1.2-.4,1 .2,1 .9,1.5 1.4,1.3 1.7,.9 1.9,.5 1.9,.1-1.9-4.7-1.8,.1-1.7-.1-1.5-.3-1-.4-.6-.7-.5-1.7 .1-1.8 .5-1.9 1-1.7 1.2-1.4z" fill="#fff" stroke="#5e5e5e" stroke-width="0.65"/>
<path d="M171.4,160.8l-1.4,1.2-1.1,1.3-.8,1.1-.4,1.1 .1,.9 1,1.6 1.4,1.2 1.7,.9 1.9,.5 1.8,.1-1.8-4.7-1.8,.1-1.7-.1-1.5-.2-1-.5-.7-.6-.4-1.7 0-1.9 .6-1.8 .9-1.7 1.3-1.4z" fill="#fff" stroke="#5e5e5e" stroke-width="0.65"/>
<g class="oe"><path id="r22" d="M108.1,61.8l.2-.1 .4-.3 .4-.2 .5-.3 .5-.3 .4-.2 .4-.2 .4-.2 .2-.2 .2-.2 .1-.3 .2-.2 .1-.1 .1,.1 .1,.3 .2,.6 .2,1.1 .2,1.6 .1,1.8 .2,2.1 .2,2 .3,1.8 .5,1.5 .6,.9 .8,.4 1,0 1.2-.4 1.2-.5 1.3-.7 1.2-.6 1.2-.3 1-.1 1,.2 .9,.4 .9,.6 .9,.6 .8,.7 .7,.6 .6,.5 .5,.4"/></g><use href="#r22" class="fe"/>
<g class="oe"><path id="r23" d="M107.9,67.1l.2,.1 .1,0 .1-.1 .2,.1 .3,.1 .4,.3 .6,.5 .8,.8 1.2,1.2 1.5,1.7 1.8,1.9 1.9,2.1 1.9,2.1 1.8,1.8 1.5,1.4 1.2,.9 .9,.4 .6,0 .4-.3 .2-.5 .2-.7 .2-.9 .2-1.1 .4-1.1 .5-1.4 .7-1.7 .7-2.1 .7-2.1 .6-2.1 .4-1.9 .1-1.6-.2-1-.8-.6-1.2-.1-1.5,.3-1.8,.4-1.7,.5-1.7,.6-1.3,.4-1,.3"/></g><use href="#r23" class="fe"/>
<g class="oe"><path id="r24" d="M116.5,67l.4,1 .4,1.3 .6,1.6 .7,1.7 .6,1.7 .5,1.6 .3,1.3 .2,.8-.1,.4-.2,.1-.3-.1-.5-.3-.5-.5-.6-.5-.6-.5-.7-.5-.9-.6-1.2-.7-1.4-.7-1.4-.9-1.3-.8-.9-.8-.6-.7 0-.7 .7-.6 1.3-.7 1.7-.8 2-.6 2.1-.6 2-.3 1.9,0 1.5,.3 1.3,.8 1.3,1.3 1.1,1.6 1,1.9 1,1.8 .8,1.7 .7,1.5 .6,1"/></g><use href="#r24" class="fe"/>
<g class="oe"><path id="r25" d="M176.9,91.3l.5-.8 .8-1.2 1-1.3 .9-1.5 .9-1.5 .6-1.4 .3-1.3-.3-1-.9-.9-1.4-.7-1.8-.8-2.1-.5-2.1-.5-2.1-.3-1.8,0-1.5,.2-1.2,.5-1.2,.9-1,1.2-.9,1.3-.8,1.4-.6,1.3-.4,1.2-.2,.9 .1,.6 .5,.4 .7,.4 .9,.2 .9,.3 .9,.2 .8,.3 .5,.4 .4,.5 .3,.6 .3,.7 .2,.6 .1,.7 .1,.6 .2,.5 .1,.3"/></g><use href="#r25" class="fe"/>
<g class="oe"><path id="r26" d="M137.4,74.3l-.7,.9-1,1.2-1.2,1.5-1.3,1.5-1.4,1.7-1.3,1.7-1.3,1.5-1.2,1.4-1.1,1.2-1.2,1.3-1.2,1.2-1.1,1.1-1.1,1.1-.9,1.1-.8,1-.6,.9-.4,.9-.2,.9 0,.8 .1,.8 .1,.6 .2,.6 .1,.4 .1,.3-.1,.1-.1,0-.2-.1-.2-.2-.1-.4 0-.5 .2-.7 .5-.9 .8-1.3 1.1-1.6 1.4-2 1.5-2 1.5-2.1 1.3-1.8 1.2-1.6 .8-1.1"/></g><use href="#r26" class="fe"/>
<g class="oe"><path id="r27" d="M127.3,111.4l-.1-1.1-.2-1.5-.2-1.9-.2-2-.1-1.9 0-1.6 .4-1.1 .6-.4 1.3,.5 1.8,1.3 2.2,1.8 2.3,2.1 2.2,2.2 1.9,2 1.4,1.6 .6,1-.2,.5-.8,.1-1.3-.2-1.6-.3-1.9-.5-1.8-.6-1.8-.6-1.5-.5-1.4-.5-1.5-.5-1.5-.6-1.6-.6-1.4-.7-1.2-.7-1-.8-.6-.9-.2-1 .2-1.3 .4-1.3 .7-1.4 .7-1.4 .7-1.2 .6-1 .3-.8"/></g><use href="#r27" class="fe"/>
<g class="oe"><path id="r28" d="M203.6,44l-.7,.8-1.1,1.1-1.2,1.3-1.4,1.4-1.4,1.4-1.3,1.2-1.2,1-.9,.6-.7,.3-.6-.1-.4-.3-.4-.4-.3-.5-.2-.5-.1-.4-.1-.3 .1-.1 .4,0 .4,.1 .5,.1 .5,.1 .4-.1 .3-.3 .1-.5-.2-.9-.4-1.4-.6-1.7-.6-1.8-.6-1.7-.5-1.3-.3-.9 0-.2 .4,.6 .6,1.4 .9,1.8 1.1,2.1 1,2.2 1,2.1 .8,1.7 .5,1.2"/></g><use href="#r28" class="fe"/>
<g class="oe"><path id="r29" d="M237.2,91.8l-.4-.4-.6-.5-.7-.7-.7-.7-.7-.6-.5-.5-.4-.4-.1-.1 .4,.3 .7,.6 1,.9 1,.9 1,.9 .8,.7 .5,.5 0,.1-.7-.4-1.1-.8-1.4-1-1.7-1.2-1.7-1.3-1.7-1.1-1.4-1-1.2-.6-.9-.4-.8-.1-.8,0-.6,.2-.5,.2-.3,.2-.1,.1 .2,.1 .6,0 .9,0 1.2,0 1.4,0 1.4,0 1.3,0 1.1,0 .8,0"/></g><use href="#r29" class="fe"/>
<g class="oe"><path id="r30" d="M123.4,104.2l-.2,0-.2,.1-.2,.1-.3,.2-.3,.1-.3,0-.2,0-.3,0-.2-.2-.2-.4-.2-.4-.2-.5-.2-.4-.2-.3-.1,0-.1,.2-.1,.5 0,.8 0,1.1 0,1.1 0,1.2 .1,1.2 0,.9 0,.8 0,.4 0,.3 0,.1 0,.1 0,.1 0,.4 0,.5 0,.7 0,.8 0,.8 0,.8 0,.8 0,.6 0,.5"/></g><use href="#r30" class="fe"/>
<g class="oe"><path id="r31" d="M124.4,61.6l-.3,.3-.6,.5-.6,.5-.7,.7-.6,.6-.7,.5-.5,.4-.3,.3-.3,.1-.1,.1 .1-.1 0-.2 .1-.3 .1-.3 0-.4 0-.7 0-1 0-1.1 0-1.2 0-1 0-.8 0-.5 0,.2 0,.7 0,1.1 0,1.6 0,1.8 0,2 0,2 0,1.9 0,1.7 0,1.7 0,1.8 0,1.9 0,1.8 0,1.7 0,1.6 0,1.3 0,1"/></g><use href="#r31" class="fe"/>
<g class="oe"><path id="r32" d="M140.1,112.1l-.4-.8-.5-1.2-.7-1.5-.7-1.6-.7-1.4-.5-1.3-.3-.7 0-.2 .5,.6 1,1.3 1.2,1.7 1.4,2 1.3,2 1,1.8 .6,1.4 0,.7-.9,.1-1.6-.5-2.1-.8-2.4-1-2.3-1.2-2.1-1.2-1.6-1-.8-.9 0-.6 .7-.4 1.2-.4 1.4-.3 1.5-.4 1.4-.6 .9-.7 .4-1-.2-1.4-.7-1.7-1-2-1.2-2-1.3-2.1-1.2-1.9-.9-1.5-.7-1.1"/></g><use href="#r32" class="fe"/>
<g class="oe"><path id="r33" d="M124.8,88.3l1.1,1.3 1.7,1.8 1.9,2.3 2.1,2.4 2.1,2.3 1.9,1.9 1.6,1.4 1.1,.5 .7-.5 .4-1.4 .2-2 0-2.3-.2-2.5-.3-2.1-.3-1.7-.3-.8-.5,0-.8,.6-.9,1-.9,1.4-.9,1.4-.7,1.4-.3,1.3 0,1 .6,.7 1.1,.6 1.5,.6 1.6,.5 1.6,.4 1.4,.4 1,.4 .5,.3-.2,.2-.7,.2-1.1,.1-1.2,.1-1.4,0-1.2,.1-1.1,0-.7,0"/></g><use href="#r33" class="fe"/>
<g class="oe"><path id="r34" d="M177.3,88.9l-.6,1.1-1,1.7-1.2,1.9-1.2,2.2-1.2,2-.9,1.7-.5,1.3-.1,.6 .7-.3 1.3-1 1.6-1.5 1.9-1.8 1.9-1.8 1.7-1.6 1.3-1.1 .7-.3 .1,.3-.4,.8-.7,1.2-.9,1.5-1,1.7-1.1,1.7-1,1.7-.9,1.5-.8,1.5-.8,1.7-1,1.7-.9,1.8-.8,1.7-.8,1.5-.6,1.4-.5,1.1-.2,.9-.1,.6 0,.5 .2,.4 .1,.3 .2,.1 .2,.2 .1,.2"/></g><use href="#r34" class="fe"/>
<g class="oe"><path id="r35" d="M204.6,56.7l-.6-.6-.8-.9-.9-1.1-1.1-1.2-1-1.1-.8-1-.6-.6-.3-.4 .3,.1 .6,.3 .9,.5 1.1,.7 1,.9 .8,.9 .5,1 0,1.1-.6,1.2-1.1,1.5-1.4,1.7-1.6,1.8-1.7,1.6-1.6,1.4-1.3,1.1-1,.5-.7-.2-.5-.8-.3-1.3-.2-1.5-.1-1.5-.1-1.2-.2-.7-.2-.1-.2,.8-.3,1.5-.3,1.9-.2,2.1-.2,2.2-.3,2.1-.1,1.7-.2,1.2"/></g><use href="#r35" class="fe"/>
<g class="oe"><path id="r36" d="M187.2,88.7l.9,1.1 1.3,1.6 1.5,1.9 1.7,2 1.8,2.1 1.6,1.8 1.6,1.5 1.3,1 1.2,.3 1.1-.2 1-.5 1-.7 .9-.7 .8-.6 .7-.2 .6,.3 .5,.8 .4,1.2 .2,1.6 .1,1.7 .2,1.7 .2,1.7 .4,1.4 .5,1.1 .8,.7 1.1,.6 1.3,.4 1.3,.3 1.2,.2 1.1,.1 .9,0 .4-.1 0-.2-.3-.4-.6-.5-.7-.6-.8-.6-.8-.6-.6-.4-.5-.4"/></g><use href="#r36" class="fe"/>
<path d="M167.2,59.1l-.5,.1-.5,.5-.5,1-.4,1.4-.1,1.6 .2,1.6 .5,1.7 .8,1.4 1.1,1.1 1.4,.7-1.4-.5-2.2-.9-1.8-1.3-1.4-1.7-.9-1.7-.3-1.7 .3-1.6 .7-1.2 1-.8 1.3-.3 1.3,.1z" fill="#fff" stroke="#5e5e5e" stroke-width="0.65"/>
<path d="M177.2,62.3l-.5,.1-.5,.5-.5,1-.4,1.4-.1,1.6 .2,1.6 .5,1.7 .8,1.4 1.1,1.1 1.4,.7-1.4-.5-2.2-.9-1.8-1.3-1.4-1.7-.9-1.7-.3-1.7 .3-1.6 .7-1.2 1-.8 1.3-.3 1.3,.1z" fill="#fff" stroke="#5e5e5e" stroke-width="0.65"/>
<path d="M159.2,67l2.3,.5 2.3-.1 2-.5 1.7-.9 1.3-1.2 .7-1.4 .1-1.4-.4-1.3-.8-1-1.2-.6-1.4-.5 .4,.4 .1,.8-.2,1.1-.5,1.3-.8,1.3-1.1,1.3-1.4,1-1.5,.7-1.5,.3-1.5-.3z" fill="#fff" stroke="#5e5e5e" stroke-width="0.65"/>
<path d="M169.2,70.2l2.3,.5 2.3-.1 2-.5 1.7-.9 1.3-1.2 .7-1.4 .1-1.4-.4-1.3-.8-1-1.2-.6-1.4-.5 .4,.4 .1,.8-.2,1.1-.5,1.3-.8,1.3-1.1,1.3-1.4,1-1.5,.7-1.5,.3-1.5-.3z" fill="#fff" stroke="#5e5e5e" stroke-width="0.65"/>
<path d="M179.2,73.4l2.3,.5 2.3-.1 2-.5 1.7-.9 1.3-1.2 .7-1.4 .1-1.4-.4-1.3-.8-1-1.2-.6-1.4-.5 .4,.4 .1,.8-.2,1.1-.5,1.3-.8,1.3-1.1,1.3-1.4,1-1.5,.7-1.5,.3-1.5-.3z" fill="#fff" stroke="#5e5e5e" stroke-width="0.65"/>
<path d="M112.6,105.4l-1.2,.9-1.4,.9-1.3,1-1.3,.9-.9,1-.6,.9-.1,.8 .6,1.5 1,1.4 1.4,1.2-1.1-4.2-1.2-.4-.8-.6-.4-.8-.1-1.7 .4-1.8 .8-1.6 1.1-1.4 1.3-1.1 1.4-.7 1.3-.3z" fill="#fff" stroke="#5e5e5e" stroke-width="0.65"/>
<path d="M115.4,116.9l-1.2,.8-1.3,.9-1.4,1-1.2,1-1,.9-.5,.9-.2,.8 .6,1.5 1,1.4 1.4,1.2-1-4.2-1.2-.4-.8-.5-.4-.8-.1-1.8 .3-1.7 .8-1.7 1.1-1.3 1.4-1.1 1.4-.7 1.3-.4z" fill="#fff" stroke="#5e5e5e" stroke-width="0.65"/>
<path d="M118.3,128.3l-1.2,.8-1.4,1-1.3,.9-1.3,1-.9,.9-.6,.9-.1,.8 .6,1.5 1,1.5 1.4,1.1-1.1-4.1-1.2-.5-.8-.5-.4-.8-.1-1.8 .4-1.7 .8-1.6 1.1-1.4 1.3-1.1 1.4-.7 1.3-.4z" fill="#fff" stroke="#5e5e5e" stroke-width="0.65"/>
<path d="M105.9,104.4l1.6,.8 1.7,.5 1.6,0 1.4-.2 1.1-.5 .6-.6 .2-.6-.1,.3-.5,.6-.9,.7-1.1-4.1 1.1,0 .8,.3 .2,.4-.4-.4-.8-.3-1.3-.1-1.5-.2-1.6-.2-1.7-.2-1.4-.3z" fill="#fff" stroke="#5e5e5e" stroke-width="0.65"/>
<path d="M108.8,115.9l1.6,.8 1.7,.4 1.6,0 1.4-.2 1-.5 .7-.6 .2-.6-.1,.4-.6,.6-.9,.7-1-4.2 1.1,0 .7,.3 .3,.4-.4-.4-.9-.2-1.2-.2-1.5-.2-1.7-.2-1.6-.2-1.5-.3z" fill="#fff" stroke="#5e5e5e" stroke-width="0.65"/>
<path d="M111.6,127.3l1.6,.8 1.7,.4 1.6,.1 1.4-.3 1.1-.4 .6-.6 .2-.7-.1,.4-.5,.6-.9,.7-1.1-4.2 1.1,0 .8,.3 .3,.4-.5-.3-.8-.3-1.2-.2-1.6-.2-1.6-.1-1.6-.3-1.5-.3z" fill="#fff" stroke="#5e5e5e" stroke-width="0.65"/>
<path d="M114.5,138.7l1.6,.8 1.7,.4 1.6,.1 1.4-.2 1.1-.5 .6-.6 .2-.6-.1,.3-.6,.6-.9,.7-1-4.1 1.1,0 .7,.3 .3,.3-.4-.3-.9-.3-1.2-.2-1.5-.1-1.6-.2-1.7-.2-1.5-.3z" fill="#fff" stroke="#5e5e5e" stroke-width="0.65"/>
<path d="M197.1,64.5l-.7,.7-1.1,.9-1.3,1.1-1.4,1.1-1.3,1.3-1.1,1.1-.8,1.2-.3,.9 .3,1.1 1,1.6-1.1-2.9-.6-.6-.5-1.5 0-1.9 .5-1.8 .9-1.7 1.3-1.4 1.4-1.1 1.4-.7 1.3-.3 1,.1z" fill="#fff" stroke="#5e5e5e" stroke-width="0.65"/>
<path d="M201.4,75.9l-.7,.8-1.1,.9-1.3,1-1.4,1.2-1.3,1.2-1.1,1.2-.8,1.1-.3,1 .3,1 1,1.6-1.1-2.8-.7-.7-.4-1.5 0-1.8 .5-1.9 .9-1.7 1.3-1.4 1.4-1.1 1.4-.7 1.3-.3 1,.1z" fill="#fff" stroke="#5e5e5e" stroke-width="0.65"/>
<path d="M205.7,87.4l-.7,.7-1.1,.9-1.3,1-1.4,1.2-1.3,1.2-1.1,1.2-.8,1.1-.3,1 .2,1.1 1.1,1.5-1.1-2.8-.7-.6-.4-1.5 0-1.9 .5-1.8 .9-1.7 1.2-1.5 1.5-1.1 1.4-.7 1.3-.2 1,0z" fill="#fff" stroke="#5e5e5e" stroke-width="0.65"/>
<path d="M186.1,64l1.4,1.3 1.8,.8 1.8,.5 1.9,0 1.7-.3 1.3-.5 .9-.7 .5-.8-.1-.3-.2,.5-1.1-2.8 .6,.4-.1-.1-.8-.1-1.2-.1-1.5,.1-1.8,0-1.8,.1-1.7-.1-1.5-.3-1.2-.4z" fill="#fff" stroke="#5e5e5e" stroke-width="0.65"/>
<path d="M190.4,75.5l1.4,1.2 1.7,.8 1.9,.5 1.9,0 1.6-.3 1.4-.5 .9-.7 .4-.7 0-.4-.2,.5-1.1-2.8 .6,.4-.1-.1-.8-.1-1.2,0-1.5,0-1.8,.1-1.8,0-1.7-.1-1.5-.2-1.2-.5z" fill="#fff" stroke="#5e5e5e" stroke-width="0.65"/>
<path d="M194.7,86.9l1.4,1.2 1.7,.9 1.9,.4 1.9,.1 1.6-.3 1.4-.6 .9-.7 .4-.7 0-.4-.2,.6-1.1-2.9 .6,.4-.2,0-.7-.2-1.2,0-1.5,0-1.8,.1-1.8,0-1.8-.1-1.5-.2-1.1-.4z" fill="#fff" stroke="#5e5e5e" stroke-width="0.65"/>
<path d="M199,98.3l1.4,1.2 1.7,.9 1.9,.4 1.8,.1 1.7-.3 1.4-.5 .9-.7 .4-.8 0-.3-.2,.5-1.1-2.8 .6,.4-.2-.1-.7-.2-1.2,0-1.6,.1-1.7,0-1.8,0-1.8,0-1.5-.3-1.1-.4z" fill="#fff" stroke="#5e5e5e" stroke-width="0.65"/>
<g class="oe"><path id="r37" d="M151.2,43.4l-.1,.5-.2,.8-.1,1-.2,1-.2,.9-.2,.7-.1,.4-.1-.1-.1-.7 0-1.3 0-1.7 0-1.9 0-1.8 .1-1.7 0-1.2 0-.6 0,.1 0,.5 0,.8 0,1.1 0,1.3 0,1.2 0,1.2 0,1 0,1-.1,1.2-.1,1.1-.1,1.2 0,1 0,.8 .1,.4 .2,.1 .4-.6 .5-1 .7-1.4 .7-1.7 .7-1.7 .6-1.6 .6-1.3 .3-.9"/></g><use href="#r37" class="fe"/>
<g class="oe"><path id="r38" d="M200.9,68.6l-.1,1.2-.1,1.9-.2,2.3-.1,2.4-.3,2.3-.4,1.9-.5,1.4-.8,.5-1.1-.5-1.6-1.2-1.9-1.8-2-2.2-1.8-2.3-1.6-2.2-1-1.9-.4-1.4 .6-.8 1.3-.5 1.9-.4 2.2-.2 2.2-.1 2-.1 1.5-.2 .7-.4-.1-.6-.7-.8-1.1-1-1.4-.9-1.4-.8-1.5-.6-1.3-.2-1,.2-.7,.8-.6,1.4-.6,1.8-.5,2.1-.4,2-.4,1.9-.3,1.6-.3,1.1"/></g><use href="#r38" class="fe"/>
<g class="oe"><path id="r39" d="M170,51.3l.1,0 .1,0 .2,0 .2,.1 .4,.3 .6,.3 .8,.6 1.2,.9 1.6,1.3 1.9,1.5 2,1.6 2,1.6 1.7,1.3 1.4,.9 .9,.4 .2-.4-.4-1-.7-1.4-1-1.6-.9-1.6-.8-1.4-.5-.8 0-.1 .7,.7 1.3,1.3 1.6,1.8 1.7,2.1 1.7,2.2 1.4,2.1 .8,2 .2,1.5-.6,1.2-1.4,1.1-1.8,1-2.1,.8-2.3,.8-2,.6-1.7,.6-1.2,.5"/></g><use href="#r39" class="fe"/>
<g class="oe"><path id="r40" d="M232.5,83.8l-.7,.8-1.1,1.1-1.2,1.4-1.4,1.4-1.2,1.4-1.1,1.2-.8,.8-.4,.2 .1-.2 .6-.7 .8-1.1 1-1.2 1.1-1.4 1.1-1.4 1-1.4 .7-1.1 .8-1.1 .8-1 .8-1.1 .8-1 .6-1 .4-1 .1-.9-.3-.8-.9-.7-1.3-.7-1.8-.6-1.9-.6-2-.5-1.9-.5-1.7-.5-1.4-.5-1-.5-.8-.4-.7-.4-.6-.4-.5-.4-.4-.3-.3-.3-.3-.2"/></g><use href="#r40" class="fe"/>
<g class="oe"><path id="r41" d="M211.4,97.7l1,1 1.3,1.5 1.6,1.8 1.7,1.9 1.9,1.9 1.9,1.7 1.8,1.5 1.8,1 1.8,.6 2,.5 2.1,.2 2.1,0 2-.1 1.7-.3 1.3-.4 .8-.5 .2-.8-.4-1.1-.8-1.3-1.1-1.4-1.1-1.4-1.1-1.3-.8-1.1-.3-.7 0-.2 .2,.1 .3,.4 .5,.5 .6,.5 .6,.3 .7,.1 .5-.4 .6-.9 .7-1.3 .7-1.6 .7-1.8 .7-1.8 .6-1.6 .5-1.4 .4-1"/></g><use href="#r41" class="fe"/>
<g class="oe"><path id="r42" d="M168.3,104.1l.3,.5 .6,.7 .6,.8 .6,.9 .6,.9 .4,.7 .1,.6-.3,.3-.9,0-1.5-.2-1.9-.5-1.9-.5-2-.6-1.6-.5-1.1-.4-.5-.1 .4,.2 .8,.5 1.4,.6 1.6,.7 1.8,.7 1.9,.5 1.9,.2 1.7-.1 1.7-.6 1.9-1.1 2.1-1.4 2-1.5 1.9-1.4 1.7-1.3 1.5-.9 1-.3 .5,.3 .2,.8-.1,1.2-.4,1.4-.4,1.4-.5,1.4-.4,1.2-.2,.7"/></g><use href="#r42" class="fe"/>
<g class="oe"><path id="r43" d="M192.2,94.2l.3-1 .4-1.5 .4-1.8 .5-1.9 .4-1.8 .2-1.5 0-1-.4-.2-.8,.7-1.1,1.5-1.4,2-1.6,2.4-1.6,2.4-1.7,2.1-1.6,1.6-1.5,.8-1.4-.1-1.4-.8-1.5-1.3-1.4-1.6-1.4-1.6-1.3-1.5-1.2-1.1-1-.6-1,.1-.9,.6-.9,.8-.8,1-.6,1.1-.4,1-.2,.9 .2,.5 .6,.2 1.1,.1 1.4-.1 1.5-.2 1.7-.2 1.5-.2 1.2-.2 .9-.1"/></g><use href="#r43" class="fe"/>
<g class="oe"><path id="r44" d="M197.3,94.1l-.5-.3-.8-.5-1-.6-1-.6-1-.6-.9-.5-.6-.3-.4-.1 .1,.2 .4,.5 .7,.8 .8,.8 .7,.8 .6,.6 .2,.2-.3-.1-.9-.8-1.3-1.3-1.6-1.7-1.9-1.8-1.9-1.8-2-1.6-1.8-1.3-1.6-.6-1.5-.1-1.6,.3-1.6,.6-1.5,.9-1.4,1-1.1,1.1-.9,1.3-.5,1.2 0,1.4 .4,1.7 .7,2 1,1.9 1,2 1,1.7 .8,1.5 .5,1.1"/></g><use href="#r44" class="fe"/>
<path d="M205.5,45.6l0,.3-.2,.7-.3,1.1-.2,1.4-.1,1.6 0,1.6 .2,1.6 .4,1.4 .6,1 .9,.6-1.3-.5-1.7-1-1.4-1.3-1-1.6-.5-1.7-.1-1.7 .2-1.5 .6-1.3 .8-.9 .9-.4 .9,.1z" fill="#fff" stroke="#5e5e5e" stroke-width="0.65"/>
<path d="M215.5,49.6l0,.3-.2,.7-.3,1.1-.2,1.4-.1,1.6 0,1.6 .2,1.6 .4,1.4 .6,1 .9,.6-1.3-.5-1.7-1-1.4-1.3-1-1.6-.5-1.7-.1-1.7 .2-1.5 .6-1.3 .8-.9 .9-.4 .9,.1z" fill="#fff" stroke="#5e5e5e" stroke-width="0.65"/>
<path d="M225.5,53.6l0,.3-.2,.7-.3,1.1-.2,1.4-.1,1.6 0,1.6 .2,1.6 .4,1.4 .6,1 .9,.6-1.3-.5-1.7-1-1.4-1.3-1-1.6-.5-1.7-.1-1.7 .2-1.5 .6-1.3 .8-.9 .9-.4 .9,.1z" fill="#fff" stroke="#5e5e5e" stroke-width="0.65"/>
<path d="M196.8,52.9l1.9,.5 1.9,0 1.8-.5 1.6-.9 1.2-1.1 .9-1.3 .5-1.3 0-1.2-.4-.9-.7-.6-1.3-.5-.1,.2-.4,.6-.6,1-.8,1.2-1,1.2-1.1,1.2-1.2,1-1.3,.7-1.2,.3-1-.1z" fill="#fff" stroke="#5e5e5e" stroke-width="0.65"/>
<path d="M206.8,56.9l1.9,.5 1.9,0 1.8-.5 1.6-.9 1.2-1.1 .9-1.3 .5-1.3 0-1.2-.4-.9-.7-.6-1.3-.5-.1,.2-.4,.6-.6,1-.8,1.2-1,1.2-1.1,1.2-1.2,1-1.3,.7-1.2,.3-1-.1z" fill="#fff" stroke="#5e5e5e" stroke-width="0.65"/>
<path d="M216.8,60.9l1.9,.5 1.9,0 1.8-.5 1.6-.9 1.2-1.1 .9-1.3 .5-1.3 0-1.2-.4-.9-.7-.6-1.3-.5-.1,.2-.4,.6-.6,1-.8,1.2-1,1.2-1.1,1.2-1.2,1-1.3,.7-1.2,.3-1-.1z" fill="#fff" stroke="#5e5e5e" stroke-width="0.65"/>
<path d="M219.4,70.1l-.4,1.6-.4,1.6-.3,1.4-.1,1.3 .2,.9 .5,.6 1.6,.7 1.7,.2 1.7-.2 1.7-.6-4-2.7-1.3,.8-1.2,.6-1,.2-.7-.1-1.2-1-.9-1.4-.6-1.7-.1-1.7 .3-1.7 .5-1.5z" fill="#fff" stroke="#5e5e5e" stroke-width="0.65"/>
<path d="M228.1,76.1l-.5,1.6-.4,1.6-.3,1.4 0,1.3 .1,.9 .6,.6 1.6,.7 1.7,.2 1.7-.2 1.6-.6-4-2.7-1.3,.8-1.1,.6-1,.2-.7-.1-1.2-1-1-1.4-.5-1.7-.1-1.7 .2-1.7 .6-1.5z" fill="#fff" stroke="#5e5e5e" stroke-width="0.65"/>
<path d="M236.8,82.1l-.5,1.6-.4,1.6-.3,1.4-.1,1.3 .2,.9 .6,.6 1.5,.7 1.7,.2 1.8-.2 1.6-.6-4-2.7-1.3,.8-1.2,.6-.9,.2-.8-.1-1.1-1-1-1.4-.5-1.7-.2-1.7 .3-1.7 .6-1.5z" fill="#fff" stroke="#5e5e5e" stroke-width="0.65"/>
<path d="M216.9,71.6l1.4-.9 1.2-1.1 .7-1.1 .3-1.1-.1-.8-.3-.4 .2,.5-.1,.8-.3,1.2-.5,1.4-4-2.7 .8-1.2 .9-.8 .8-.4 .7,.1-.3,0-.7,.3-.9,.7-1.2,.8-1.3,1-1.3,1z" fill="#fff" stroke="#5e5e5e" stroke-width="0.65"/>
<path d="M225.6,77.6l1.4-.9 1.1-1.1 .8-1.1 .3-1.1-.1-.8-.3-.4 .1,.5-.1,.8-.3,1.2-.4,1.4-4-2.7 .8-1.2 .8-.8 .9-.4 .7,.1-.3,0-.7,.3-1,.7-1.1,.8-1.3,1-1.3,1z" fill="#fff" stroke="#5e5e5e" stroke-width="0.65"/>
<path d="M234.2,83.6l1.5-.9 1.1-1.1 .7-1.1 .4-1.1-.1-.8-.3-.4 .1,.5-.1,.8-.3,1.2-.4,1.4-4-2.7 .7-1.2 .9-.8 .8-.4 .7,.1-.3,0-.7,.3-.9,.7-1.2,.8-1.2,1-1.4,1z" fill="#fff" stroke="#5e5e5e" stroke-width="0.65"/>
<path d="M147,36.7l-.2,.2-.3,.7-.2,1-.2,1.4 0,1.6 .3,1.7 .4,1.6 .7,1.3 .8,.9 1.1,.6-1.4-.4-1.9-.7-1.6-1.2-1.3-1.5-.8-1.7-.3-1.6 .1-1.6 .5-1.3 .9-.9 1-.5 1,0z" fill="#fff" stroke="#5e5e5e" stroke-width="0.65"/>
<path d="M157,39.4l-.2,.2-.3,.6-.2,1.1-.2,1.4 0,1.6 .3,1.7 .4,1.5 .7,1.3 .8,1 1.1,.6-1.4-.4-1.9-.8-1.6-1.2-1.3-1.4-.8-1.7-.3-1.7 .1-1.5 .5-1.3 .9-1 1-.4 1,0z" fill="#fff" stroke="#5e5e5e" stroke-width="0.65"/>
<path d="M167,42l-.2,.2-.3,.7-.2,1.1-.2,1.4 0,1.6 .3,1.6 .4,1.6 .7,1.3 .8,1 1.1,.5-1.4-.4-1.9-.7-1.6-1.2-1.3-1.5-.8-1.6-.3-1.7 .1-1.6 .5-1.3 .9-.9 1-.5 1,0z" fill="#fff" stroke="#5e5e5e" stroke-width="0.65"/>
<path d="M139.4,45l2,.3 2-.2 1.9-.7 1.5-1 1.1-1.3 .7-1.4 .2-1.4-.3-1.2-.6-.9-.9-.5-1.4-.4 .1,.3-.2,.7-.3,1-.6,1.3-.7,1.4-1,1.4-1.2,1.1-1.2,.8-1.3,.4-1.2-.1z" fill="#fff" stroke="#5e5e5e" stroke-width="0.65"/>
<path d="M149.4,47.7l2,.3 2-.2 1.9-.7 1.5-1 1.1-1.3 .7-1.4 .2-1.4-.3-1.2-.6-1-.9-.4-1.4-.4 .1,.3-.2,.7-.3,1-.6,1.3-.7,1.4-1,1.3-1.2,1.2-1.2,.8-1.3,.4-1.2-.1z" fill="#fff" stroke="#5e5e5e" stroke-width="0.65"/>
<path d="M159.4,50.4l2,.2 2-.2 1.9-.6 1.5-1.1 1.1-1.3 .7-1.4 .2-1.4-.3-1.2-.6-.9-.9-.5-1.4-.4 .1,.3-.2,.7-.3,1.1-.6,1.3-.7,1.4-1,1.3-1.2,1.1-1.2,.8-1.3,.4-1.2,0z" fill="#fff" stroke="#5e5e5e" stroke-width="0.65"/>
<g class="oc"><path id="r45" d="M40,80l.4-.5 .4-.8 .5-.9 .6-.9 .6-1 .8-.8 .8-.7 .9-.4 1-.1 1.1,.2 1.3,.3 1.3,.5 1.3,.4 1.4,.4 1.3,.3 1.3,0 1.2-.3 1.3-.5 1.3-.6 1.2-.7 1.2-.7 1.3-.6 1.3-.4 1.2-.2 1.2,.2 1.3,.4 1.3,.6 1.2,.7 1.2,.8 1.3,.6 1.3,.5 1.2,.2 1.3-.1 1.3-.4 1.3-.6 1.3-.6 1.3-.6 1.2-.5 1.2-.3 1.1,.1 1,.5 1,.8 .9,1.1 .9,1.2 .9,1.1 .8,1.1 .7,.8 .8,.4 .8,0 .7-.3 .7-.6 .7-.7 .7-.7 .5-.7 .5-.6 .4-.4"/></g><use href="#r45" class="fc"/>
<path d="M56.5,86l-.4,.1-1,0-1.7,.2-2.1,.3-2.3,.4-2.3,.6-2.1,.8-1.7,.8-1,1-.4,.9 0-1.7 .4-2 1-1.8 1.7-1.6 2.1-1.2 2.3-.8 2.3-.2 2.1,.1 1.7,.6 1,.8 .4,1z" fill="#fff" stroke="#5e5e5e" stroke-width="0.65"/>
<path d="M56.5,96.3l-.4,0-1,.1-1.7,.2-2.1,.3-2.3,.4-2.3,.6-2.1,.7-1.7,.9-1,.9-.4,1 0-1.7 .4-2 1-1.9 1.7-1.5 2.1-1.2 2.3-.8 2.3-.3 2.1,.2 1.7,.5 1,.9 .4,.9z" fill="#fff" stroke="#5e5e5e" stroke-width="0.65"/>
<path d="M56.5,106.5l-.4,.1-1,.1-1.7,.1-2.1,.3-2.3,.5-2.3,.6-2.1,.7-1.7,.9-1,.9-.4,1 0-1.8 .4-2 1-1.8 1.7-1.6 2.1-1.2 2.3-.7 2.3-.3 2.1,.2 1.7,.5 1,.8 .4,1z" fill="#fff" stroke="#5e5e5e" stroke-width="0.65"/>
<path d="M56.5,116.8l-.4,.1-1,0-1.7,.2-2.1,.3-2.3,.4-2.3,.6-2.1,.8-1.7,.8-1,1-.4,.9 0-1.7 .4-2 1-1.8 1.7-1.6 2.1-1.2 2.3-.8 2.3-.2 2.1,.1 1.7,.6 1,.8 .4,1z" fill="#fff" stroke="#5e5e5e" stroke-width="0.65"/>
<path d="M56.5,127.1l-.4,0-1,.1-1.7,.2-2.1,.3-2.3,.4-2.3,.6-2.1,.7-1.7,.9-1,.9-.4,1 0-1.7 .4-2 1-1.9 1.7-1.5 2.1-1.2 2.3-.8 2.3-.3 2.1,.2 1.7,.5 1,.9 .4,.9z" fill="#fff" stroke="#5e5e5e" stroke-width="0.65"/>
<path d="M56.5,137.3l-.4,.1-1,.1-1.7,.1-2.1,.3-2.3,.5-2.3,.6-2.1,.7-1.7,.9-1,.9-.4,1 0-1.8 .4-2 1-1.8 1.7-1.6 2.1-1.2 2.3-.7 2.3-.3 2.1,.2 1.7,.5 1,.8 .4,1z" fill="#fff" stroke="#5e5e5e" stroke-width="0.65"/>
<path d="M56.5,147.6l-.4,.1-1,0-1.7,.2-2.1,.3-2.3,.4-2.3,.6-2.1,.8-1.7,.8-1,1-.4,.9 0-1.7 .4-2 1-1.8 1.7-1.6 2.1-1.2 2.3-.8 2.3-.2 2.1,.1 1.7,.6 1,.8 .4,1z" fill="#fff" stroke="#5e5e5e" stroke-width="0.65"/>
<path d="M41.5,80.9l.4,2 1,1.8 1.7,1.6 2.1,1.2 2.3,.7 2.3,.3 2.1-.2 1.7-.5 1-.8 .4-1 0-1.7-.4-.1-1-.1-1.7-.1-2.1-.3-2.3-.5-2.3-.6-2.1-.7-1.7-.9-1-.9-.4-1z" fill="#fff" stroke="#5e5e5e" stroke-width="0.65"/>
<path d="M41.5,91.1l.4,2 1,1.9 1.7,1.5 2.1,1.2 2.3,.8 2.3,.3 2.1-.2 1.7-.5 1-.9 .4-.9 0-1.8-.4,0-1-.1-1.7-.2-2.1-.3-2.3-.4-2.3-.6-2.1-.7-1.7-.9-1-.9-.4-1z" fill="#fff" stroke="#5e5e5e" stroke-width="0.65"/>
<path d="M41.5,101.4l.4,2 1,1.8 1.7,1.6 2.1,1.2 2.3,.8 2.3,.2 2.1-.1 1.7-.6 1-.8 .4-1 0-1.7-.4-.1-1,0-1.7-.2-2.1-.3-2.3-.4-2.3-.6-2.1-.8-1.7-.8-1-1-.4-.9z" fill="#fff" stroke="#5e5e5e" stroke-width="0.65"/>
<path d="M41.5,111.7l.4,2 1,1.8 1.7,1.6 2.1,1.2 2.3,.7 2.3,.3 2.1-.2 1.7-.5 1-.8 .4-1 0-1.7-.4-.1-1-.1-1.7-.1-2.1-.3-2.3-.5-2.3-.6-2.1-.7-1.7-.9-1-.9-.4-1z" fill="#fff" stroke="#5e5e5e" stroke-width="0.65"/>
<path d="M41.5,121.9l.4,2 1,1.9 1.7,1.5 2.1,1.2 2.3,.8 2.3,.3 2.1-.2 1.7-.5 1-.9 .4-.9 0-1.8-.4,0-1-.1-1.7-.2-2.1-.3-2.3-.4-2.3-.6-2.1-.7-1.7-.9-1-.9-.4-1z" fill="#fff" stroke="#5e5e5e" stroke-width="0.65"/>
<path d="M41.5,132.2l.4,2 1,1.8 1.7,1.6 2.1,1.2 2.3,.8 2.3,.2 2.1-.1 1.7-.6 1-.8 .4-1 0-1.7-.4-.1-1,0-1.7-.2-2.1-.3-2.3-.4-2.3-.6-2.1-.8-1.7-.8-1-1-.4-.9z" fill="#fff" stroke="#5e5e5e" stroke-width="0.65"/>
<path d="M41.5,142.5l.4,2 1,1.8 1.7,1.6 2.1,1.2 2.3,.7 2.3,.3 2.1-.2 1.7-.5 1-.8 .4-1 0-1.7-.4-.1-1-.1-1.7-.1-2.1-.3-2.3-.5-2.3-.6-2.1-.7-1.7-.9-1-.9-.4-1z" fill="#fff" stroke="#5e5e5e" stroke-width="0.65"/>
<path d="M41.5,152.7l.4,2 1,1.9 1.7,1.5 2.1,1.2 2.3,.8 2.3,.3 2.1-.2 1.7-.5 1-.9 .4-.9 0-1.8-.4,0-1-.1-1.7-.2-2.1-.3-2.3-.4-2.3-.6-2.1-.7-1.7-.9-1-.9-.4-1z" fill="#fff" stroke="#5e5e5e" stroke-width="0.65"/>
<path d="M74.1,82l-2.2,.3-2.3,.5-2.3,.7-2,.8-1.6,.9-1,.9-.2,1.2 .5,2 1.2,1.9 1.7,1.5 0-4.5-1.7-.8-1.2-1-.5-1 .2-1.8 1-2 1.6-1.6 2-1.3 2.3-.9 2.3-.4 2.2,.1z" fill="#fff" stroke="#5e5e5e" stroke-width="0.65"/>
<path d="M74.1,92.8l-2.2,.3-2.3,.5-2.3,.7-2,.8-1.6,.9-1,.9-.2,1.2 .5,2 1.2,1.9 1.7,1.5 0-4.5-1.7-.8-1.2-1-.5-1 .2-1.8 1-2 1.6-1.6 2-1.3 2.3-.9 2.3-.4 2.2,.1z" fill="#fff" stroke="#5e5e5e" stroke-width="0.65"/>
<path d="M74.1,103.6l-2.2,.3-2.3,.5-2.3,.7-2,.8-1.6,.9-1,.9-.2,1.2 .5,2 1.2,1.9 1.7,1.5 0-4.5-1.7-.8-1.2-1-.5-1 .2-1.8 1-2 1.6-1.6 2-1.3 2.3-.9 2.3-.4 2.2,.1z" fill="#fff" stroke="#5e5e5e" stroke-width="0.65"/>
<path d="M74.1,114.4l-2.2,.3-2.3,.5-2.3,.7-2,.8-1.6,.9-1,.9-.2,1.2 .5,2 1.2,1.9 1.7,1.5 0-4.5-1.7-.8-1.2-1-.5-1 .2-1.8 1-2 1.6-1.6 2-1.3 2.3-.9 2.3-.4 2.2,.1z" fill="#fff" stroke="#5e5e5e" stroke-width="0.65"/>
<path d="M74.1,125.2l-2.2,.3-2.3,.5-2.3,.7-2,.8-1.6,.9-1,.9-.2,1.2 .5,2 1.2,1.9 1.7,1.5 0-4.5-1.7-.8-1.2-1-.5-1 .2-1.8 1-2 1.6-1.6 2-1.3 2.3-.9 2.3-.4 2.2,.1z" fill="#fff" stroke="#5e5e5e" stroke-width="0.65"/>
<path d="M74.1,136l-2.2,.3-2.3,.5-2.3,.7-2,.8-1.6,.9-1,.9-.2,1.2 .5,2 1.2,1.9 1.7,1.5 0-4.5-1.7-.8-1.2-1-.5-1 .2-1.8 1-2 1.6-1.6 2-1.3 2.3-.9 2.3-.4 2.2,.1z" fill="#fff" stroke="#5e5e5e" stroke-width="0.65"/>
<path d="M74.1,146.8l-2.2,.3-2.3,.5-2.3,.7-2,.8-1.6,.9-1,.9-.2,1.2 .5,2 1.2,1.9 1.7,1.5 0-4.5-1.7-.8-1.2-1-.5-1 .2-1.8 1-2 1.6-1.6 2-1.3 2.3-.9 2.3-.4 2.2,.1z" fill="#fff" stroke="#5e5e5e" stroke-width="0.65"/>
<path d="M65.9,81.9l2.2,1.1 2.3,.7 2.3,.2 2-.2 1.6-.5 1-.9 .2-.7-.5,0-1.2,.2-1.7,.2 0-4.5 1.7,.5 1.2,.7 .5,.9-.2,.2-1-.2-1.6-.1-2-.3-2.3-.5-2.3-.6-2.2-.7z" fill="#fff" stroke="#5e5e5e" stroke-width="0.65"/>
<path d="M65.9,92.7l2.2,1.1 2.3,.7 2.3,.2 2-.2 1.6-.5 1-.9 .2-.7-.5,0-1.2,.2-1.7,.2 0-4.5 1.7,.5 1.2,.7 .5,.9-.2,.2-1-.2-1.6-.1-2-.3-2.3-.5-2.3-.6-2.2-.7z" fill="#fff" stroke="#5e5e5e" stroke-width="0.65"/>
<path d="M65.9,103.5l2.2,1.1 2.3,.7 2.3,.2 2-.2 1.6-.5 1-.9 .2-.7-.5,0-1.2,.2-1.7,.2 0-4.5 1.7,.5 1.2,.7 .5,.9-.2,.2-1-.2-1.6-.1-2-.3-2.3-.5-2.3-.6-2.2-.7z" fill="#fff" stroke="#5e5e5e" stroke-width="0.65"/>
<path d="M65.9,114.3l2.2,1.1 2.3,.7 2.3,.2 2-.2 1.6-.5 1-.9 .2-.7-.5,0-1.2,.2-1.7,.2 0-4.5 1.7,.5 1.2,.7 .5,.9-.2,.2-1-.2-1.6-.1-2-.3-2.3-.5-2.3-.6-2.2-.7z" fill="#fff" stroke="#5e5e5e" stroke-width="0.65"/>
<path d="M65.9,125.1l2.2,1.1 2.3,.7 2.3,.2 2-.2 1.6-.5 1-.9 .2-.7-.5,0-1.2,.2-1.7,.2 0-4.5 1.7,.5 1.2,.7 .5,.9-.2,.2-1-.2-1.6-.1-2-.3-2.3-.5-2.3-.6-2.2-.7z" fill="#fff" stroke="#5e5e5e" stroke-width="0.65"/>
<path d="M65.9,135.9l2.2,1.1 2.3,.7 2.3,.2 2-.2 1.6-.5 1-.9 .2-.7-.5,0-1.2,.2-1.7,.2 0-4.5 1.7,.5 1.2,.7 .5,.9-.2,.2-1-.2-1.6-.1-2-.3-2.3-.5-2.3-.6-2.2-.7z" fill="#fff" stroke="#5e5e5e" stroke-width="0.65"/>
<path d="M65.9,146.7l2.2,1.1 2.3,.7 2.3,.2 2-.2 1.6-.5 1-.9 .2-.7-.5,0-1.2,.2-1.7,.2 0-4.5 1.7,.5 1.2,.7 .5,.9-.2,.2-1-.2-1.6-.1-2-.3-2.3-.5-2.3-.6-2.2-.7z" fill="#fff" stroke="#5e5e5e" stroke-width="0.65"/>
<path d="M65.9,157.5l2.2,1.1 2.3,.7 2.3,.2 2-.2 1.6-.5 1-.9 .2-.7-.5,0-1.2,.2-1.7,.2 0-4.5 1.7,.5 1.2,.7 .5,.9-.2,.2-1-.2-1.6-.1-2-.3-2.3-.5-2.3-.6-2.2-.7z" fill="#fff" stroke="#5e5e5e" stroke-width="0.65"/>
<path d="M85.2,116.8l1.5-.1 1.2-.3 .7-.7 .1-.3-.5,.2-1,.3-1.5,.2-1.8,.4-1.9,.4-1.9,.5 .3-4.7 1.9-.8 1.9-.3 1.8,0 1.4,.3 1,.6 .5,.8-.1,.1-.6-.4-1.2-.4-1.5-.5z" fill="#fff" stroke="#5e5e5e" stroke-width="0.65"/>
<path d="M84.4,127.8l1.6-.1 1.2-.3 .7-.7 .1-.3-.5,.2-1.1,.3-1.5,.2-1.8,.4-1.9,.4-1.8,.5 .3-4.7 1.9-.8 1.9-.3 1.7,0 1.5,.3 1,.6 .4,.8 0,.1-.7-.4-1.1-.4-1.6-.5z" fill="#fff" stroke="#5e5e5e" stroke-width="0.65"/>
<path d="M83.7,138.8l1.5-.1 1.2-.3 .7-.7 .1-.3-.5,.2-1,.3-1.5,.2-1.8,.4-1.9,.4-1.9,.5 .3-4.7 1.9-.8 1.9-.3 1.8,0 1.4,.3 1,.6 .5,.8-.1,.1-.6-.4-1.2-.4-1.5-.5z" fill="#fff" stroke="#5e5e5e" stroke-width="0.65"/>
<path d="M82.9,149.8l1.6-.1 1.2-.3 .7-.7 .1-.3-.5,.2-1.1,.3-1.5,.2-1.8,.4-1.9,.4-1.8,.5 .3-4.7 1.9-.8 1.9-.3 1.7,0 1.5,.3 1,.6 .4,.8 0,.1-.7-.4-1.1-.4-1.6-.5z" fill="#fff" stroke="#5e5e5e" stroke-width="0.65"/>
<path d="M80.1,117.4l-1.6,.6-1.2,.7-.7,.7-.2,1.2 .4,1.9 .9,1.7 1.4,1.4 1.7,1.1 1.8,.8 1.8,.3 .3-4.7-1.7-.6-1.9-.7-1.7-.7-1.4-.9-1-.8-.4-.9 .2-1.4 .7-1.8 1.3-1.4 1.6-1.2z" fill="#fff" stroke="#5e5e5e" stroke-width="0.65"/>
<path d="M79.4,128.4l-1.6,.6-1.2,.7-.8,.7-.1,1.2 .4,1.9 .9,1.7 1.4,1.4 1.7,1.1 1.8,.8 1.8,.3 .3-4.7-1.8-.6-1.8-.7-1.7-.7-1.4-.9-1-.8-.5-.9 .2-1.4 .8-1.8 1.3-1.4 1.6-1.2z" fill="#fff" stroke="#5e5e5e" stroke-width="0.65"/>
<path d="M78.6,139.4l-1.6,.6-1.2,.7-.7,.7-.2,1.2 .4,1.9 .9,1.7 1.4,1.4 1.7,1.1 1.8,.8 1.8,.3 .3-4.7-1.7-.6-1.9-.7-1.7-.7-1.4-.9-1-.8-.4-.9 .2-1.4 .7-1.8 1.3-1.4 1.6-1.2z" fill="#fff" stroke="#5e5e5e" stroke-width="0.65"/>
<path d="M77.9,150.4l-1.6,.6-1.2,.7-.8,.7-.1,1.2 .4,1.9 .9,1.7 1.4,1.4 1.7,1.1 1.8,.8 1.8,.3 .3-4.7-1.8-.6-1.8-.7-1.7-.7-1.4-.9-1-.8-.5-.9 .2-1.4 .8-1.8 1.3-1.4 1.6-1.2z" fill="#fff" stroke="#5e5e5e" stroke-width="0.65"/>
<path d="M97.7,84.2l-.9,.4-1.3,.6-1.5,.6-1.5,.7-1.5,.7-1.2,.7-.8,.8-.4,.8 .1,1.3 .6,1.7-.1-3.1-.6-.7-.1-1.2 .4-1.7 .8-1.5 1.1-1.4 1.5-1 1.5-.7 1.5-.3 1.3,0 .9,.2z" fill="#fff" stroke="#5e5e5e" stroke-width="0.65"/>
<path d="M98.3,95.9l-1,.5-1.2,.5-1.5,.6-1.5,.7-1.5,.7-1.2,.8-.8,.7-.4,.8 .1,1.3 .6,1.7-.2-3.1-.5-.7-.1-1.2 .3-1.6 .8-1.6 1.2-1.3 1.4-1.1 1.6-.7 1.5-.3 1.2,0 1,.2z" fill="#fff" stroke="#5e5e5e" stroke-width="0.65"/>
<path d="M98.8,107.6l-.9,.5-1.3,.5-1.4,.6-1.6,.7-1.4,.7-1.2,.8-.9,.8-.4,.7 .1,1.4 .7,1.6-.2-3.1-.6-.7-.1-1.2 .4-1.6 .8-1.6 1.2-1.3 1.4-1.1 1.5-.7 1.5-.3 1.3,0 1,.2z" fill="#fff" stroke="#5e5e5e" stroke-width="0.65"/>
<path d="M99.4,119.3l-.9,.5-1.3,.5-1.5,.6-1.5,.7-1.4,.7-1.2,.8-.9,.8-.4,.8 .1,1.3 .6,1.6-.1-3-.6-.8-.1-1.1 .4-1.7 .8-1.6 1.2-1.3 1.4-1 1.5-.7 1.5-.4 1.3,0 1,.3z" fill="#fff" stroke="#5e5e5e" stroke-width="0.65"/>
<path d="M100,131l-1,.5-1.2,.5-1.5,.6-1.5,.7-1.5,.7-1.2,.8-.8,.8-.4,.8 .1,1.3 .6,1.6-.2-3-.5-.8-.1-1.1 .3-1.7 .9-1.6 1.1-1.3 1.5-1 1.5-.7 1.5-.4 1.3,0 .9,.3z" fill="#fff" stroke="#5e5e5e" stroke-width="0.65"/>
<path d="M100.6,142.7l-1,.5-1.2,.6-1.5,.6-1.6,.6-1.4,.7-1.2,.8-.8,.8-.4,.8 .1,1.3 .6,1.6-.2-3-.5-.8-.1-1.1 .3-1.7 .8-1.5 1.2-1.4 1.4-1 1.6-.7 1.4-.4 1.3,0 1,.3z" fill="#fff" stroke="#5e5e5e" stroke-width="0.65"/>
<path d="M101.1,154.4l-.9,.5-1.3,.6-1.5,.6-1.5,.6-1.4,.8-1.2,.7-.9,.8-.4,.8 .1,1.3 .6,1.6-.1-3-.6-.7-.1-1.2 .4-1.7 .8-1.5 1.2-1.4 1.4-1 1.5-.7 1.5-.3 1.3-.1 1,.3z" fill="#fff" stroke="#5e5e5e" stroke-width="0.65"/>
<path d="M88.7,80.7l1.1,1.5 1.3,1.1 1.6,.9 1.5,.4 1.5,.2 1.3-.2 .8-.4 .4-.5-.5,.5-.2-3.1 .6,.5 0,.1-.4-.4-.9-.4-1.3-.4-1.5-.4-1.6-.5-1.5-.6-1.3-.6-1-.7z" fill="#fff" stroke="#5e5e5e" stroke-width="0.65"/>
<path d="M89.3,92.5l1,1.4 1.4,1.1 1.5,.9 1.6,.4 1.5,.2 1.2-.2 .9-.4 .4-.5-.5,.5-.2-3.1 .6,.5 0,.1-.4-.4-.9-.3-1.3-.4-1.5-.5-1.6-.5-1.5-.6-1.3-.6-1-.7z" fill="#fff" stroke="#5e5e5e" stroke-width="0.65"/>
<path d="M89.9,104.2l1,1.4 1.4,1.2 1.5,.8 1.6,.5 1.5,.1 1.2-.2 .9-.4 .4-.5-.1,.1-.5,.4-.1-3.1 .5,.5 .1,.1-.5-.3-.9-.4-1.2-.4-1.5-.5-1.6-.5-1.6-.6-1.3-.6-1-.7z" fill="#fff" stroke="#5e5e5e" stroke-width="0.65"/>
<path d="M90.5,115.9l1,1.4 1.3,1.2 1.6,.8 1.6,.5 1.4,.1 1.3-.2 .8-.3 .5-.5-.1,0-.5,.4-.1-3 .5,.4 .1,.2-.5-.4-.9-.4-1.3-.4-1.5-.5-1.5-.5-1.6-.5-1.3-.7-1-.7z" fill="#fff" stroke="#5e5e5e" stroke-width="0.65"/>
<path d="M91,127.6l1.1,1.4 1.3,1.2 1.5,.8 1.6,.5 1.5,.1 1.2-.1 .9-.4 .4-.5-.5,.4-.2-3 .6,.4 0,.2-.4-.4-.9-.4-1.3-.4-1.5-.5-1.6-.5-1.5-.5-1.3-.7-1-.6z" fill="#fff" stroke="#5e5e5e" stroke-width="0.65"/>
<path d="M91.6,139.3l1,1.4 1.4,1.2 1.5,.8 1.6,.5 1.5,.1 1.2-.1 .9-.4 .4-.5-.5,.4-.2-3 .6,.4 0,.2-.5-.4-.9-.4-1.2-.4-1.5-.4-1.6-.5-1.5-.6-1.4-.6-1-.7z" fill="#fff" stroke="#5e5e5e" stroke-width="0.65"/>
<path d="M92.2,151l1,1.5 1.3,1.1 1.6,.8 1.6,.5 1.5,.2 1.2-.2 .9-.4 .4-.5-.1,0-.5,.4-.1-3 .5,.5 .1,.1-.5-.4-.9-.4-1.2-.4-1.5-.4-1.6-.5-1.6-.6-1.3-.6-1-.7z" fill="#fff" stroke="#5e5e5e" stroke-width="0.65"/>
<path d="M104.8,87l-2,1.2-1.7,1.2-1.4,1.2-.9,1.2-.2,1 .6,1.7 1.3,1.6 1.8,1.3 2.1,.8 2.3,.3-1.2-4.8-2.2-.1-2.1-.3-1.6-.5-1-.7-.5-1.2 0-2 .6-2 1.2-1.9 1.7-1.6 2-1.2z" fill="#fff" stroke="#5e5e5e" stroke-width="0.65"/>
<path d="M107.7,98.2l-2,1.1-1.8,1.2-1.4,1.2-.8,1.2-.3,1.1 .7,1.7 1.2,1.6 1.9,1.2 2.1,.8 2.3,.4-1.3-4.9-2.2-.1-2-.3-1.6-.5-1.1-.7-.5-1.1 0-2.1 .7-2 1.2-1.9 1.7-1.5 1.9-1.3z" fill="#fff" stroke="#5e5e5e" stroke-width="0.65"/>
<path d="M110.5,109.3l-1.9,1.1-1.8,1.3-1.4,1.2-.9,1.2-.2,1 .6,1.7 1.3,1.6 1.8,1.3 2.2,.8 2.2,.3-1.2-4.8-2.2-.1-2-.3-1.7-.5-1-.8-.5-1.1 0-2 .6-2 1.3-1.9 1.6-1.6 2-1.2z" fill="#fff" stroke="#5e5e5e" stroke-width="0.65"/>
<path d="M113.4,120.5l-2,1.1-1.8,1.2-1.4,1.2-.8,1.2-.3,1.1 .7,1.6 1.3,1.7 1.8,1.2 2.1,.8 2.3,.4-1.2-4.9-2.3-.1-2-.3-1.6-.5-1.1-.7-.4-1.1-.1-2.1 .7-2 1.2-1.9 1.7-1.6 1.9-1.2z" fill="#fff" stroke="#5e5e5e" stroke-width="0.65"/>
<path d="M116.2,131.6l-1.9,1.1-1.8,1.2-1.4,1.3-.9,1.2-.2,1 .6,1.7 1.3,1.6 1.8,1.3 2.2,.8 2.3,.3-1.3-4.8-2.2-.2-2-.3-1.6-.5-1.1-.7-.5-1.1 0-2 .6-2 1.3-1.9 1.6-1.6 2-1.2z" fill="#fff" stroke="#5e5e5e" stroke-width="0.65"/>
<path d="M119.1,142.7l-2,1.2-1.7,1.2-1.4,1.2-.9,1.2-.2,1.1 .6,1.6 1.3,1.6 1.8,1.3 2.1,.8 2.3,.3-1.2-4.8-2.3-.1-2-.3-1.6-.5-1-.7-.5-1.2 0-2 .6-2 1.2-1.9 1.7-1.6 1.9-1.2z" fill="#fff" stroke="#5e5e5e" stroke-width="0.65"/>
<path d="M121.9,153.9l-1.9,1.1-1.8,1.2-1.4,1.3-.8,1.1-.3,1.1 .6,1.7 1.3,1.6 1.8,1.2 2.2,.8 2.3,.4-1.3-4.9-2.2-.1-2-.3-1.6-.5-1.1-.7-.5-1.1 0-2 .7-2.1 1.2-1.8 1.7-1.6 1.9-1.3z" fill="#fff" stroke="#5e5e5e" stroke-width="0.65"/>
<path d="M103.9,87.4l2.2-.1 2-.5 1.5-.8 .9-.9 .3-.9-.2,0-.8,.4-1.3,.6-1.8,.8-1.9,1-1.2-4.8 2-.8 1.8-.3 1.5,.1 1,.5 .4,.6-.5-.1-1.2,.1-1.7,.1-2,.1-2.3,0z" fill="#fff" stroke="#5e5e5e" stroke-width="0.65"/>
<path d="M106.7,98.5l2.3-.1 1.9-.5 1.5-.7 1-.9 .2-.9-.2-.1-.7,.4-1.4,.7-1.7,.8-1.9,1-1.3-4.9 2-.7 1.9-.4 1.5,.2 1,.5 .3,.5-.5,0-1.1,.1-1.7,.1-2.1,.1-2.2,0z" fill="#fff" stroke="#5e5e5e" stroke-width="0.65"/>
<path d="M109.6,109.7l2.2-.1 2-.5 1.5-.8 .9-.9 .3-.9-.2,0-.8,.4-1.3,.6-1.7,.8-2,1-1.2-4.8 2-.8 1.8-.3 1.6,.1 1,.5 .3,.6-.5-.1-1.2,.1-1.7,.1-2,.1-2.3,0z" fill="#fff" stroke="#5e5e5e" stroke-width="0.65"/>
<path d="M112.4,120.8l2.3-.1 1.9-.5 1.5-.7 1-.9 .2-1-.2,0-.7,.4-1.4,.6-1.7,.9-1.9,1-1.3-4.9 2-.8 1.9-.3 1.5,.2 1,.5 .4,.5-.6,0-1.1,0-1.7,.2-2.1,.1-2.2,0z" fill="#fff" stroke="#5e5e5e" stroke-width="0.65"/>
<path d="M115.3,132l2.2-.2 2-.4 1.5-.8 .9-.9 .3-.9-.2,0-.8,.4-1.3,.6-1.7,.8-2,1-1.2-4.8 2-.8 1.8-.3 1.6,.1 1,.5 .3,.6-.5-.1-1.2,.1-1.6,.1-2.1,.1-2.2,0z" fill="#fff" stroke="#5e5e5e" stroke-width="0.65"/>
<path d="M118.2,143.1l2.2-.1 1.9-.5 1.6-.8 .9-.9 .3-.9-.2,0-.8,.4-1.3,.6-1.8,.8-1.9,1-1.3-4.8 2-.8 1.9-.3 1.5,.2 1,.5 .4,.5-.6,0-1.1,0-1.7,.1-2,.1-2.3,.1z" fill="#fff" stroke="#5e5e5e" stroke-width="0.65"/>
<path d="M121,154.2l2.2-.1 2-.4 1.5-.8 .9-.9 .3-.9-.2,0-.8,.4-1.3,.6-1.7,.8-2,1-1.2-4.9 2-.7 1.9-.3 1.5,.1 1,.5 .3,.6-.5-.1-1.1,.1-1.7,.1-2.1,.1-2.2,0z" fill="#fff" stroke="#5e5e5e" stroke-width="0.65"/>
<path d="M125.2,81.6l-.9,.4-1.4,.7-1.7,.9-1.9,1.2-1.9,1.2-1.7,1.3-1.2,1.2-.7,1.2-.1,1 .9,1.7-.8-2.5-.6-.9-.3-2 .5-2 1-1.9 1.5-1.7 1.8-1.4 2-1 1.9-.4 1.6,0 1.1,.4z" fill="#fff" stroke="#5e5e5e" stroke-width="0.65"/>
<path d="M128.4,91.9l-.8,.4-1.4,.7-1.7,.9-2,1.1-1.8,1.3-1.7,1.3-1.2,1.2-.7,1.2-.1,1 .9,1.7-.8-2.6-.6-.8-.3-2 .4-2 1.1-1.9 1.5-1.8 1.8-1.3 2-1 1.9-.4 1.6,0 1.1,.4z" fill="#fff" stroke="#5e5e5e" stroke-width="0.65"/>
<path d="M131.7,102.1l-.8,.5-1.4,.7-1.8,.9-1.9,1.1-1.9,1.3-1.6,1.2-1.2,1.3-.7,1.2-.1,1 .9,1.7-.9-2.6-.6-.8-.2-2 .4-2 1.1-2 1.5-1.7 1.8-1.3 2-1 1.9-.4 1.6-.1 1.1,.5z" fill="#fff" stroke="#5e5e5e" stroke-width="0.65"/>
<path d="M135,112.4l-.9,.5-1.3,.7-1.8,.9-1.9,1.1-1.9,1.2-1.6,1.3-1.3,1.3-.7,1.2 0,1 .8,1.7-.8-2.6-.6-.8-.2-2 .4-2 1-2 1.6-1.7 1.8-1.4 2-.9 1.8-.5 1.6,0 1.2,.4z" fill="#fff" stroke="#5e5e5e" stroke-width="0.65"/>
<path d="M138.3,122.7l-.9,.5-1.3,.7-1.8,.9-1.9,1.1-1.9,1.2-1.6,1.3-1.3,1.3-.7,1.1 0,1.1 .8,1.7-.8-2.6-.6-.9-.2-1.9 .4-2 1-2 1.5-1.7 1.9-1.4 1.9-.9 1.9-.5 1.6,0 1.2,.4z" fill="#fff" stroke="#5e5e5e" stroke-width="0.65"/>
<path d="M141.6,133l-.9,.5-1.4,.7-1.7,.9-1.9,1.1-1.9,1.2-1.6,1.3-1.3,1.3-.7,1.1-.1,1 .9,1.8-.8-2.6-.6-.9-.2-1.9 .4-2.1 1-1.9 1.5-1.7 1.9-1.4 1.9-.9 1.9-.5 1.6,0 1.2,.4z" fill="#fff" stroke="#5e5e5e" stroke-width="0.65"/>
<path d="M144.9,143.3l-.9,.4-1.4,.7-1.7,1-1.9,1.1-1.9,1.2-1.7,1.3-1.2,1.2-.7,1.2-.1,1 .9,1.8-.8-2.6-.6-.9-.3-1.9 .5-2.1 1-1.9 1.5-1.7 1.9-1.4 1.9-.9 1.9-.5 1.6,0 1.2,.4z" fill="#fff" stroke="#5e5e5e" stroke-width="0.65"/>
<path d="M111.3,82.2l1.5,1.4 1.9,1 2.2,.6 2.3,.1 2.2-.4 1.8-.7 1.4-.9 .7-1 .1-.9-.2,.2-.9-2.6 .6,.7-.4,0-1,.1-1.6,.2-2,.3-2.2,.2-2.2,.1-2.1-.1-1.7-.4-1.2-.5z" fill="#fff" stroke="#5e5e5e" stroke-width="0.65"/>
<path d="M114.6,92.4l1.5,1.5 1.9,1 2.2,.6 2.3,.1 2.2-.4 1.8-.7 1.4-.9 .7-1 .1-.9-.3,.2-.8-2.6 .6,.7-.4,0-1.1,.1-1.5,.2-2,.3-2.2,.2-2.3,.1-2-.1-1.7-.4-1.2-.5z" fill="#fff" stroke="#5e5e5e" stroke-width="0.65"/>
<path d="M117.9,102.7l1.5,1.5 1.9,1 2.2,.6 2.3,0 2.2-.3 1.8-.7 1.4-.9 .7-1 .1-.9-.3,.1-.8-2.5 .6,.7-.4-.1-1.1,.2-1.5,.2-2,.3-2.2,.2-2.3,.1-2-.2-1.7-.3-1.2-.6z" fill="#fff" stroke="#5e5e5e" stroke-width="0.65"/>
<path d="M121.2,113l1.4,1.5 2,1 2.2,.5 2.3,.1 2.1-.3 1.9-.7 1.3-.9 .8-1 .1-.9-.3,.1-.8-2.6 .5,.7-.4,0-1,.2-1.6,.2-1.9,.3-2.2,.2-2.3,0-2.1-.1-1.7-.3-1.2-.6z" fill="#fff" stroke="#5e5e5e" stroke-width="0.65"/>
<path d="M124.4,123.3l1.5,1.4 2,1.1 2.2,.5 2.3,.1 2.1-.3 1.9-.7 1.3-.9 .8-1 .1-1-.3,.2-.8-2.6 .5,.7-.4,0-1,.2-1.6,.2-1.9,.2-2.3,.2-2.2,.1-2.1-.1-1.7-.3-1.2-.6z" fill="#fff" stroke="#5e5e5e" stroke-width="0.65"/>
<path d="M127.7,133.6l1.5,1.4 1.9,1 2.3,.6 2.2,.1 2.2-.3 1.9-.7 1.3-.9 .8-1 .1-1-.3,.2-.8-2.6 .5,.7-.4,0-1,.1-1.6,.3-2,.2-2.2,.2-2.2,.1-2.1-.1-1.7-.3-1.2-.6z" fill="#fff" stroke="#5e5e5e" stroke-width="0.65"/>
<path d="M131,143.9l1.5,1.4 1.9,1 2.2,.6 2.3,.1 2.2-.4 1.8-.6 1.4-1 .8-1 0-.9-.2,.2-.8-2.6 .5,.7-.4,0-1,.1-1.6,.3-2,.2-2.2,.2-2.2,.1-2.1-.1-1.7-.3-1.2-.6z" fill="#fff" stroke="#5e5e5e" stroke-width="0.65"/>
<g class="od"><path id="r46" d="M47,156l-.3,.3-.5,.5-.5,.5-.6,.6-.5,.6-.4,.5-.2,.6 0,.4 .3,.4 .5,.4 .7,.4 .8,.3 .9,.3 .9,.2 1,.1 .9-.1 .9-.3 1-.4 1-.7 1.1-.7 1.1-.6 1-.7 1-.4 .9-.2 .8,.1 .8,.3 .8,.5 .7,.6 .7,.6 .7,.5 .8,.3 .7,.1 .8-.2 .8-.4 .9-.6 .9-.6 .8-.7 .7-.6 .6-.5 .5-.4"/></g><use href="#r46" class="fd"/>
<g class="od"><path id="r47" d="M12,190l-.1-.6-.3-.9-.3-1-.2-1.1-.3-1.2-.1-1.2 0-1 .3-1 .5-.9 .7-1 .8-.9 .9-1 1.1-.8 1-.6 1-.5 1-.3 1,0 1.2,.2 1.3,.4 1.2,.5 1.1,.7 1,.7 .8,.7 .4,.8 0,.9-.4,1.1-.7,1.2-.9,1.3-.9,1.2-.7,1.1-.4,.7 0,.5 .4,.1 .8-.2 1-.4 1.2-.6 1.2-.7 1.3-.8 1.1-.7 1-.7 .8-.7 .8-.9 .7-.9 .7-1 .7-.9 .7-.8 .8-.5 .8-.3 .9,.1 1,.4 1,.7 1.1,.7 1.1,.8 1,.7 1,.5 .9,.1 .8-.3 .8-.6 .8-.8 .7-1 .7-.9 .7-.8 .8-.5 .7-.1 .8,.4 .7,.8 .7,1.1 .8,1.3 .8,1.2 .7,1.1 .7,.8 .8,.3 .8-.2 .7-.7 .7-1 .8-1.2 .8-1.1 .7-1 .7-.6 .8-.2 .8,.3 .9,.7 1,1 .9,1.2 .9,1.3 .7,1.2 .5,1.3 .3,1 0,1-.2,1.1-.3,1-.6,1.1-.6,1-.7,.8-.8,.6-.8,.4-.9,.1-1.2-.2-1.3-.4-1.4-.6-1.3-.6-1.2-.5-1-.5-.7-.3"/></g><use href="#r47" class="fd"/>
<g class="oe"><path id="r48" d="M14,172l.6-.5 .8-.8 .9-.9 1.1-.9 1.1-1 1.2-.8 1.1-.7 1.2-.4 1.3-.2 1.4,0 1.6,.2 1.6,.2 1.4,.4 1.3,.4 .9,.5 .5,.5 0,.6-.5,.8-.8,.8-1.1,.9-1.1,.9-1,.8-.9,.7-.6,.5"/></g><use href="#r48" class="fe"/>
<g class="oc"><path id="r49" d="M238,115l-.2-1.6-.3-2.2-.4-2.6-.3-2.9-.4-3-.3-2.9-.1-2.6 0-2.2 .2-1.9 .2-1.7 .3-1.7 .4-1.5 .6-1.3 .6-1.1 .8-1 .9-.8 1.1-.6 1.4-.4 1.5-.2 1.6,0 1.7,.1 1.7,.3 1.5,.3 1.5,.5 1.4,.7 1.3,1.2 1.4,1.3 1.3,1.4 1.2,1.4 1.2,1.1 1.2,.7 1,.2 .9-.4 .7-1 .7-1.4 .6-1.6 .6-1.6 .7-1.6 .8-1.4 1-1 1.3-.7 1.4-.6 1.7-.5 1.7-.3 1.6-.2 1.7-.1 1.4,.1 1.2,.3 1,.6 .9,.9 .7,1.1 .6,1.3 .6,1.2 .5,1.2 .4,1 .3,.7"/></g><use href="#r49" class="fc"/>
<path d="M253.5,121l-.4,.1-1,.1-1.7,.1-2.1,.3-2.3,.5-2.3,.6-2.1,.7-1.7,.9-1,.9-.4,1 0-1.8 .4-2 1-1.8 1.7-1.6 2.1-1.2 2.3-.7 2.3-.3 2.1,.2 1.7,.5 1,.8 .4,1z" fill="#fff" stroke="#5e5e5e" stroke-width="0.65"/>
<path d="M253.5,131.3l-.4,.1-1,.1-1.7,.1-2.1,.3-2.3,.5-2.3,.6-2.1,.7-1.7,.9-1,.9-.4,1 0-1.8 .4-2 1-1.8 1.7-1.6 2.1-1.2 2.3-.7 2.3-.3 2.1,.2 1.7,.5 1,.8 .4,1z" fill="#fff" stroke="#5e5e5e" stroke-width="0.65"/>
<path d="M253.5,141.6l-.4,.1-1,.1-1.7,.2-2.1,.3-2.3,.4-2.3,.6-2.1,.7-1.7,.9-1,.9-.4,1 0-1.8 .4-1.9 1-1.9 1.7-1.6 2.1-1.2 2.3-.7 2.3-.3 2.1,.2 1.7,.5 1,.8 .4,1z" fill="#fff" stroke="#5e5e5e" stroke-width="0.65"/>
<path d="M253.5,152l-.4,0-1,.1-1.7,.2-2.1,.3-2.3,.4-2.3,.6-2.1,.7-1.7,.9-1,.9-.4,1 0-1.7 .4-2 1-1.9 1.7-1.6 2.1-1.1 2.3-.8 2.3-.3 2.1,.2 1.7,.5 1,.8 .4,1z" fill="#fff" stroke="#5e5e5e" stroke-width="0.65"/>
<path d="M253.5,162.3l-.4,0-1,.1-1.7,.2-2.1,.3-2.3,.4-2.3,.6-2.1,.7-1.7,.9-1,.9-.4,1 0-1.7 .4-2 1-1.9 1.7-1.5 2.1-1.2 2.3-.8 2.3-.3 2.1,.2 1.7,.5 1,.8 .4,1z" fill="#fff" stroke="#5e5e5e" stroke-width="0.65"/>
<path d="M253.5,172.6l-.4,0-1,.1-1.7,.2-2.1,.3-2.3,.4-2.3,.6-2.1,.7-1.7,.9-1,.9-.4,1 0-1.7 .4-2 1-1.9 1.7-1.5 2.1-1.2 2.3-.8 2.3-.3 2.1,.2 1.7,.5 1,.9 .4,.9z" fill="#fff" stroke="#5e5e5e" stroke-width="0.65"/>
<path d="M238.5,115.9l.4,2 1,1.8 1.7,1.6 2.1,1.2 2.3,.7 2.3,.3 2.1-.2 1.7-.5 1-.8 .4-1 0-1.7-.4-.1-1-.1-1.7-.1-2.1-.3-2.3-.5-2.3-.6-2.1-.7-1.7-.8-1-1-.4-1z" fill="#fff" stroke="#5e5e5e" stroke-width="0.65"/>
<path d="M238.5,126.2l.4,2 1,1.8 1.7,1.6 2.1,1.2 2.3,.7 2.3,.3 2.1-.1 1.7-.6 1-.8 .4-1 0-1.7-.4-.1-1,0-1.7-.2-2.1-.3-2.3-.5-2.3-.6-2.1-.7-1.7-.8-1-1-.4-1z" fill="#fff" stroke="#5e5e5e" stroke-width="0.65"/>
<path d="M238.5,136.5l.4,2 1,1.8 1.7,1.6 2.1,1.2 2.3,.7 2.3,.3 2.1-.1 1.7-.6 1-.8 .4-1 0-1.7-.4,0-1-.1-1.7-.2-2.1-.3-2.3-.5-2.3-.5-2.1-.8-1.7-.8-1-1-.4-1z" fill="#fff" stroke="#5e5e5e" stroke-width="0.65"/>
<path d="M238.5,146.8l.4,2 1,1.8 1.7,1.6 2.1,1.2 2.3,.8 2.3,.2 2.1-.1 1.7-.6 1-.8 .4-.9 0-1.8-.4,0-1-.1-1.7-.2-2.1-.3-2.3-.4-2.3-.6-2.1-.8-1.7-.8-1-1-.4-1z" fill="#fff" stroke="#5e5e5e" stroke-width="0.65"/>
<path d="M238.5,157.1l.4,2 1,1.8 1.7,1.6 2.1,1.2 2.3,.8 2.3,.2 2.1-.1 1.7-.6 1-.8 .4-.9 0-1.8-.4,0-1-.1-1.7-.2-2.1-.3-2.3-.4-2.3-.6-2.1-.8-1.7-.8-1-1-.4-.9z" fill="#fff" stroke="#5e5e5e" stroke-width="0.65"/>
<path d="M238.5,167.4l.4,2 1,1.9 1.7,1.5 2.1,1.2 2.3,.8 2.3,.2 2.1-.1 1.7-.6 1-.8 .4-.9 0-1.8-.4,0-1-.1-1.7-.2-2.1-.3-2.3-.4-2.3-.6-2.1-.8-1.7-.8-1-.9-.4-1z" fill="#fff" stroke="#5e5e5e" stroke-width="0.65"/>
<path d="M238.5,177.7l.4,2 1,1.9 1.7,1.5 2.1,1.2 2.3,.8 2.3,.3 2.1-.2 1.7-.5 1-.9 .4-.9 0-1.8-.4,0-1-.1-1.7-.2-2.1-.3-2.3-.4-2.3-.6-2.1-.7-1.7-.9-1-.9-.4-1z" fill="#fff" stroke="#5e5e5e" stroke-width="0.65"/>
<path d="M261.6,122.8l-2.1,.4-2.2,.6-2,.7-1.6,.8-1.1,.9-.5,1 .3,1.7 .9,1.8 1.5,1.6 1.9,1.2-.1-4.8-1.9-.7-1.5-.8-.8-.9-.3-1.1 .5-1.9 1-1.8 1.6-1.5 2-1.1 2.2-.7 2.1-.2z" fill="#fff" stroke="#5e5e5e" stroke-width="0.65"/>
<path d="M261.8,133.1l-2.2,.4-2.1,.6-2,.7-1.7,.8-1,.9-.5,1 .2,1.7 1,1.8 1.4,1.6 1.9,1.2 0-4.8-1.9-.7-1.5-.8-.9-.9-.2-1.1 .4-1.9 1.1-1.8 1.6-1.4 2-1.2 2.2-.7 2.1-.2z" fill="#fff" stroke="#5e5e5e" stroke-width="0.65"/>
<path d="M261.9,143.4l-2.1,.4-2.2,.6-2,.7-1.6,.9-1.1,.8-.4,1 .2,1.7 .9,1.8 1.5,1.6 1.9,1.2-.1-4.8-1.9-.7-1.4-.8-.9-.9-.3-1.1 .5-1.9 1-1.8 1.7-1.4 1.9-1.2 2.2-.7 2.1-.2z" fill="#fff" stroke="#5e5e5e" stroke-width="0.65"/>
<path d="M262.1,153.7l-2.2,.4-2.1,.6-2,.7-1.7,.9-1,.8-.5,1 .3,1.7 .9,1.8 1.4,1.6 2,1.2-.1-4.8-1.9-.7-1.5-.8-.9-.9-.2-1.1 .4-1.9 1.1-1.7 1.6-1.5 2-1.2 2.2-.6 2.1-.3z" fill="#fff" stroke="#5e5e5e" stroke-width="0.65"/>
<path d="M262.2,164l-2.1,.5-2.2,.5-2,.8-1.6,.8-1.1,.9-.4,.9 .2,1.7 .9,1.8 1.5,1.6 1.9,1.2-.1-4.8-1.9-.7-1.4-.8-.9-.8-.3-1.2 .5-1.9 1-1.7 1.7-1.5 1.9-1.1 2.2-.7 2.2-.3z" fill="#fff" stroke="#5e5e5e" stroke-width="0.65"/>
<path d="M262.4,174.3l-2.2,.5-2.1,.6-2,.7-1.6,.8-1.1,.9-.5,.9 .3,1.7 .9,1.8 1.5,1.6 1.9,1.2-.1-4.8-1.9-.7-1.5-.8-.9-.8-.2-1.1 .4-2 1.1-1.7 1.6-1.5 2-1.1 2.2-.7 2.1-.3z" fill="#fff" stroke="#5e5e5e" stroke-width="0.65"/>
<path d="M256.5,123.2l2.2,.8 2.2,.3 2-.1 1.6-.5 1.1-.7 .5-.9-.3-.1-.8,.2-1.5,.2-1.9,.4-.1-4.8 1.9,.2 1.5,.5 .9,.8 .2,.7-.4-.1-1.1-.2-1.7-.2-2-.3-2.2-.4-2.1-.6z" fill="#fff" stroke="#5e5e5e" stroke-width="0.65"/>
<path d="M256.7,133.5l2.1,.8 2.2,.3 2-.1 1.7-.4 1.1-.8 .4-.9-.2,0-.9,.1-1.5,.2-1.8,.4-.1-4.8 1.9,.2 1.5,.5 .8,.8 .3,.7-.5-.1-1.1-.2-1.6-.2-2-.3-2.2-.4-2.2-.6z" fill="#fff" stroke="#5e5e5e" stroke-width="0.65"/>
<path d="M256.8,143.8l2.2,.8 2.2,.3 2-.1 1.6-.4 1.1-.8 .5-.9-.3,0-.8,.1-1.5,.2-1.9,.4-.1-4.8 1.9,.2 1.5,.5 .9,.8 .2,.7-.4-.1-1.1-.1-1.7-.3-2-.3-2.2-.4-2.1-.6z" fill="#fff" stroke="#5e5e5e" stroke-width="0.65"/>
<path d="M257,154.1l2.2,.8 2.1,.3 2-.1 1.7-.4 1.1-.8 .4-.9-.2,0-.9,.1-1.4,.3-1.9,.3-.1-4.8 1.9,.2 1.5,.5 .9,.8 .2,.7-.5-.1-1.1-.1-1.6-.3-2-.3-2.2-.4-2.2-.6z" fill="#fff" stroke="#5e5e5e" stroke-width="0.65"/>
<path d="M257.2,164.4l2.1,.8 2.2,.3 2-.1 1.6-.4 1.1-.8 .5-.8-.3-.1-.8,.1-1.5,.3-1.9,.3 0-4.8 1.8,.2 1.5,.5 .9,.8 .2,.7-.4-.1-1.1-.1-1.7-.2-2-.4-2.2-.4-2.1-.6z" fill="#fff" stroke="#5e5e5e" stroke-width="0.65"/>
<path d="M257.3,174.7l2.2,.8 2.1,.3 2-.1 1.7-.4 1.1-.8 .4-.8-.2-.1-.9,.1-1.4,.3-1.9,.3-.1-4.8 1.9,.2 1.5,.5 .9,.8 .2,.7-.5-.1-1.1-.1-1.6-.2-2-.4-2.2-.4-2.2-.6z" fill="#fff" stroke="#5e5e5e" stroke-width="0.65"/>
<path d="M257.5,185l2.1,.8 2.2,.3 2-.1 1.6-.4 1.1-.7 .5-.9-.2-.1-.9,.1-1.5,.3-1.9,.3 0-4.8 1.9,.2 1.4,.5 .9,.8 .2,.7-.4-.1-1.1-.1-1.7-.2-2-.4-2.2-.4-2.1-.6z" fill="#fff" stroke="#5e5e5e" stroke-width="0.65"/>
<path d="M280,90l-1.2,.2-1.8,.4-2.2,.4-2.3,.6-2.3,.8-1.9,.8-1.5,1-.9,1.1-.1,1.3 .6,2-.1-3-.6-1 .2-1.8 .8-2 1.5-1.8 1.9-1.4 2.3-1 2.3-.5 2.2-.1 1.8,.4 1.3,.6z" fill="#fff" stroke="#5e5e5e" stroke-width="0.65"/>
<path d="M280.2,101.8l-1.2,.2-1.8,.3-2.1,.5-2.4,.6-2.2,.7-2,.9-1.5,1-.9,1-.1,1.4 .6,2-.1-3-.6-1 .2-1.8 .8-2 1.5-1.8 2-1.4 2.2-1 2.4-.5 2.1-.1 1.8,.3 1.3,.7z" fill="#fff" stroke="#5e5e5e" stroke-width="0.65"/>
<path d="M280.5,113.6l-1.3,.2-1.8,.3-2.1,.5-2.4,.6-2.2,.7-2,.9-1.5,1-.8,1-.2,1.4 .6,2 0-3-.6-1.1 .1-1.8 .8-2 1.5-1.7 2-1.4 2.3-1 2.3-.5 2.2-.1 1.8,.3 1.2,.7z" fill="#fff" stroke="#5e5e5e" stroke-width="0.65"/>
<path d="M280.7,125.4l-1.2,.2-1.8,.3-2.2,.4-2.3,.6-2.3,.8-2,.9-1.5,1-.8,1-.2,1.3 .6,2.1 0-3-.6-1.1 .1-1.8 .9-2 1.4-1.7 2-1.5 2.3-.9 2.3-.6 2.2,0 1.8,.3 1.2,.7z" fill="#fff" stroke="#5e5e5e" stroke-width="0.65"/>
<path d="M280.9,137.2l-1.2,.2-1.8,.3-2.2,.4-2.3,.6-2.3,.8-2,.8-1.4,1-.9,1.1-.1,1.3 .6,2.1-.1-3.1-.6-1 .1-1.8 .9-2 1.5-1.8 1.9-1.4 2.3-1 2.3-.5 2.2-.1 1.8,.4 1.3,.6z" fill="#fff" stroke="#5e5e5e" stroke-width="0.65"/>
<path d="M281.1,148.9l-1.2,.2-1.8,.4-2.2,.4-2.3,.6-2.3,.7-1.9,.9-1.5,1-.9,1.1-.1,1.3 .6,2-.1-3-.6-1 .2-1.8 .8-2 1.5-1.8 2-1.4 2.2-1 2.3-.5 2.2-.1 1.8,.4 1.3,.6z" fill="#fff" stroke="#5e5e5e" stroke-width="0.65"/>
<path d="M281.4,160.7l-1.3,.2-1.8,.3-2.1,.5-2.4,.6-2.2,.7-2,.9-1.5,1-.9,1-.1,1.4 .6,2-.1-3-.5-1 .1-1.9 .8-1.9 1.5-1.8 2-1.4 2.2-1 2.4-.5 2.1-.1 1.8,.3 1.3,.7z" fill="#fff" stroke="#5e5e5e" stroke-width="0.65"/>
<path d="M281.6,172.5l-1.3,.2-1.7,.3-2.2,.5-2.3,.6-2.3,.7-2,.9-1.5,1-.8,1-.2,1.4 .6,2 0-3-.6-1.1 .1-1.8 .9-2 1.4-1.7 2-1.4 2.3-1 2.3-.6 2.2,0 1.8,.3 1.2,.7z" fill="#fff" stroke="#5e5e5e" stroke-width="0.65"/>
<path d="M281.8,184.3l-1.2,.2-1.8,.3-2.2,.4-2.3,.6-2.3,.8-2,.9-1.5,.9-.8,1.1-.2,1.3 .6,2.1 0-3.1-.6-1 .1-1.8 .9-2 1.5-1.7 1.9-1.5 2.3-1 2.3-.5 2.2,0 1.8,.3 1.2,.6z" fill="#fff" stroke="#5e5e5e" stroke-width="0.65"/>
<path d="M266.1,86.9l1.3,1.8 1.8,1.5 2.2,1.1 2.4,.7 2.3,.2 2-.3 1.5-.6 .8-.8 .2-.6-.6,.1 0-3 .5,.9-.1,.1-.9-.1-1.5-.2-2-.3-2.3-.4-2.4-.6-2.1-.7-1.9-.9-1.2-1z" fill="#fff" stroke="#5e5e5e" stroke-width="0.65"/>
<path d="M266.4,98.6l1.2,1.9 1.9,1.5 2.2,1.1 2.3,.7 2.3,.1 2-.2 1.5-.6 .9-.8 .1-.6-.6,.1 0-3 .6,.9-.2,.1-.9-.1-1.5-.2-2-.3-2.3-.4-2.3-.6-2.2-.7-1.8-.9-1.3-1z" fill="#fff" stroke="#5e5e5e" stroke-width="0.65"/>
<path d="M266.6,110.4l1.3,1.9 1.8,1.5 2.2,1.1 2.3,.6 2.3,.2 2-.2 1.5-.6 .9-.8 .1-.6-.5,.1-.1-3 .6,.8-.2,.2-.9-.1-1.5-.2-2-.3-2.3-.5-2.3-.5-2.2-.8-1.8-.8-1.3-1z" fill="#fff" stroke="#5e5e5e" stroke-width="0.65"/>
<path d="M266.8,122.2l1.3,1.8 1.8,1.5 2.2,1.2 2.4,.6 2.2,.2 2-.2 1.5-.6 .9-.8 .2-.7-.6,.2-.1-3 .6,.8-.2,.2-.8-.2-1.5-.1-2-.3-2.3-.5-2.4-.6-2.2-.7-1.8-.8-1.2-1z" fill="#fff" stroke="#5e5e5e" stroke-width="0.65"/>
<path d="M267,134l1.3,1.8 1.8,1.5 2.2,1.1 2.4,.7 2.3,.2 2-.3 1.5-.5 .8-.9 .2-.6-.6,.2 0-3.1 .5,.9-.1,.2-.9-.2-1.5-.2-2-.3-2.3-.4-2.4-.6-2.2-.7-1.8-.9-1.2-.9z" fill="#fff" stroke="#5e5e5e" stroke-width="0.65"/>
<path d="M267.3,145.8l1.2,1.8 1.9,1.5 2.2,1.1 2.3,.7 2.3,.2 2-.3 1.5-.6 .8-.8 .2-.6-.6,.1 0-3 .6,.9-.2,.1-.9-.1-1.5-.2-2-.3-2.3-.4-2.3-.6-2.2-.7-1.8-.9-1.3-1z" fill="#fff" stroke="#5e5e5e" stroke-width="0.65"/>
<path d="M267.5,157.5l1.3,1.9 1.8,1.5 2.2,1.1 2.3,.6 2.3,.2 2-.2 1.5-.6 .9-.8 .1-.6-.5,.1-.1-3 .6,.8-.2,.2-.9-.1-1.5-.2-2-.3-2.3-.4-2.3-.6-2.2-.8-1.8-.8-1.3-1z" fill="#fff" stroke="#5e5e5e" stroke-width="0.65"/>
<path d="M267.7,169.3l1.3,1.8 1.8,1.6 2.2,1.1 2.3,.6 2.3,.2 2-.2 1.5-.6 .9-.8 .1-.7-.5,.2-.1-3 .6,.8-.2,.2-.8-.1-1.6-.2-2-.3-2.2-.5-2.4-.5-2.2-.8-1.8-.8-1.3-1z" fill="#fff" stroke="#5e5e5e" stroke-width="0.65"/>
<path d="M267.9,181.1l1.3,1.8 1.8,1.5 2.2,1.1 2.4,.7 2.3,.2 1.9-.3 1.5-.5 .9-.8 .2-.7-.6,.2-.1-3.1 .6,.9-.1,.2-.9-.2-1.5-.2-2-.3-2.3-.4-2.4-.6-2.2-.7-1.8-.9-1.2-.9z" fill="#fff" stroke="#5e5e5e" stroke-width="0.65"/>
<path d="M223.9,117.7l-1.8,.4-2.1,.4-2.2,.6-2.1,.7-1.7,.8-1.3,.9-.6,1 0,1.6 .7,1.9 1.3,1.7 0-4.1-1.3-.9-.7-1 0-1.4 .6-1.9 1.3-1.8 1.7-1.4 2.1-1.1 2.2-.6 2.1-.1 1.8,.2z" fill="#fff" stroke="#5e5e5e" stroke-width="0.65"/>
<path d="M223.9,129.3l-1.8,.3-2.1,.5-2.2,.5-2.1,.8-1.7,.8-1.3,.9-.6,1 0,1.5 .7,1.9 1.3,1.8 0-4.1-1.3-.9-.7-1 0-1.4 .6-2 1.3-1.7 1.7-1.5 2.1-1 2.2-.6 2.1-.2 1.8,.3z" fill="#fff" stroke="#5e5e5e" stroke-width="0.65"/>
<path d="M223.9,140.8l-1.8,.4-2.1,.4-2.2,.6-2.1,.7-1.7,.8-1.3,1-.6,.9 0,1.6 .7,1.9 1.3,1.7 0-4.1-1.3-.9-.7-.9 0-1.5 .6-1.9 1.3-1.8 1.7-1.4 2.1-1.1 2.2-.5 2.1-.2 1.8,.2z" fill="#fff" stroke="#5e5e5e" stroke-width="0.65"/>
<path d="M223.9,152.4l-1.8,.3-2.1,.5-2.2,.6-2.1,.7-1.7,.8-1.3,.9-.6,1 0,1.5 .7,2 1.3,1.7 0-4.1-1.3-.9-.7-1 0-1.4 .6-2 1.3-1.7 1.7-1.5 2.1-1 2.2-.6 2.1-.2 1.8,.3z" fill="#fff" stroke="#5e5e5e" stroke-width="0.65"/>
<path d="M214.1,116.1l1.8,1.5 2.1,.9 2.2,.6 2.1,.1 1.7-.3 1.3-.5 .6-.8 0-.3-.7,.2-1.3,.2 0-4.1 1.3,.6 .7,.8 0,.4-.6-.2-1.3-.3-1.7-.3-2.1-.4-2.2-.6-2.1-.7-1.8-.8z" fill="#fff" stroke="#5e5e5e" stroke-width="0.65"/>
<path d="M214.1,127.7l1.8,1.4 2.1,1 2.2,.6 2.1,.1 1.7-.3 1.3-.6 .6-.8 0-.3-.7,.2-1.3,.3 0-4.1 1.3,.5 .7,.8 0,.4-.6-.2-1.3-.2-1.7-.3-2.1-.5-2.2-.6-2.1-.7-1.8-.8z" fill="#fff" stroke="#5e5e5e" stroke-width="0.65"/>
<path d="M214.1,139.3l1.8,1.4 2.1,1 2.2,.5 2.1,.1 1.7-.2 1.3-.6 .6-.8 0-.3-.7,.2-1.3,.2 0-4.1 1.3,.6 .7,.8 0,.4-.6-.2-1.3-.3-1.7-.3-2.1-.4-2.2-.6-2.1-.7-1.8-.8z" fill="#fff" stroke="#5e5e5e" stroke-width="0.65"/>
<path d="M214.1,150.8l1.8,1.4 2.1,1 2.2,.6 2.1,.1 1.7-.3 1.3-.6 .6-.8 0-.3-.7,.2-1.3,.3 0-4.1 1.3,.6 .7,.7 0,.4-.6-.2-1.3-.2-1.7-.3-2.1-.5-2.2-.6-2.1-.7-1.8-.8z" fill="#fff" stroke="#5e5e5e" stroke-width="0.65"/>
<path d="M214.1,162.4l1.8,1.4 2.1,1 2.2,.5 2.1,.1 1.7-.2 1.3-.6 .6-.8 0-.3-.7,.2-1.3,.2 0-4 1.3,.5 .7,.8 0,.4-.6-.2-1.3-.2-1.7-.4-2.1-.4-2.2-.6-2.1-.7-1.8-.8z" fill="#fff" stroke="#5e5e5e" stroke-width="0.65"/>
<path d="M206.8,105l1.7,.4 1.4,0 1.1-.4 .5-.6-.2,.1-.7,.3-1.3,.2-1.6,.3-1.9,.4-1.9,.4 .6-4.9 1.9-.5 1.9-.1 1.6,.3 1.1,.5 .6,.6 .1,.4-.4-.4-.9-.5-1.4-.6-1.6-.7z" fill="#fff" stroke="#5e5e5e" stroke-width="0.65"/>
<path d="M205.3,117.5l1.7,.4 1.4,0 1.1-.4 .5-.6-.2,.1-.7,.3-1.3,.2-1.6,.3-1.9,.4-1.9,.4 .6-4.9 1.9-.5 1.9-.1 1.6,.3 1.1,.5 .6,.6 .1,.4-.4-.4-.9-.5-1.4-.6-1.6-.7z" fill="#fff" stroke="#5e5e5e" stroke-width="0.65"/>
<path d="M203.8,130l1.7,.4 1.4,0 1.1-.4 .5-.6-.2,.1-.7,.3-1.3,.2-1.6,.3-1.9,.4-1.9,.4 .6-4.9 1.9-.5 1.9-.1 1.6,.3 1.1,.5 .6,.6 .1,.4-.4-.4-.9-.5-1.4-.6-1.6-.7z" fill="#fff" stroke="#5e5e5e" stroke-width="0.65"/>
<path d="M202.3,142.5l1.7,.4 1.4,0 1.1-.4 .5-.6-.2,.1-.7,.3-1.3,.2-1.6,.3-1.9,.4-1.9,.4 .6-4.9 1.9-.5 1.9-.1 1.6,.3 1.1,.5 .6,.6 .1,.4-.4-.4-.9-.5-1.4-.6-1.6-.7z" fill="#fff" stroke="#5e5e5e" stroke-width="0.65"/>
<path d="M203.9,106.1l-1.8,.5-1.5,.6-1.1,.8-.6,.8 0,1.7 .4,1.9 1,1.7 1.5,1.5 1.7,1.2 1.8,.7 .6-4.8-1.8-.9-1.8-.9-1.4-.9-1.2-1-.5-1 0-1.2 .6-1.8 1.2-1.6 1.6-1.3 1.9-.9z" fill="#fff" stroke="#5e5e5e" stroke-width="0.65"/>
<path d="M202.4,118.6l-1.8,.5-1.5,.6-1.1,.8-.6,.8 0,1.7 .4,1.9 1,1.7 1.5,1.5 1.7,1.2 1.8,.7 .6-4.8-1.8-.9-1.8-.9-1.4-.9-1.2-1-.5-1 0-1.2 .6-1.8 1.2-1.6 1.6-1.3 1.9-.9z" fill="#fff" stroke="#5e5e5e" stroke-width="0.65"/>
<path d="M200.9,131.1l-1.8,.5-1.5,.6-1.1,.8-.6,.8 0,1.7 .4,1.9 1,1.7 1.5,1.5 1.7,1.2 1.8,.7 .6-4.8-1.8-.9-1.8-.9-1.4-.9-1.2-1-.5-1 0-1.2 .6-1.8 1.2-1.6 1.6-1.3 1.9-.9z" fill="#fff" stroke="#5e5e5e" stroke-width="0.65"/>
<path d="M199.4,143.6l-1.8,.5-1.5,.6-1.1,.8-.6,.8 0,1.7 .4,1.9 1,1.7 1.5,1.5 1.7,1.2 1.8,.7 .6-4.8-1.8-.9-1.8-.9-1.4-.9-1.2-1-.5-1 0-1.2 .6-1.8 1.2-1.6 1.6-1.3 1.9-.9z" fill="#fff" stroke="#5e5e5e" stroke-width="0.65"/>
<path d="M291.4,182.6l-1.9,.3-1.6,.9-1.3,1.4-.7,1.8-.1,2 .6,2 1.3,1.8 1.9,1.5 2.3,1 2.5,.4-1.5,0-3.3-.4-3.1-1.1-2.4-1.5-1.7-1.8-.8-2.1 .2-2 1.1-1.8 1.9-1.3 2.4-.9 2.7-.2z" fill="#fff" stroke="#5e5e5e" stroke-width="0.65"/>
<path d="M298.3,182.9l-1.9,.2-1.6,.9-1.3,1.4-.7,1.8-.1,2 .6,2 1.3,1.9 1.9,1.5 2.3,1 2.5,.4-1.5-.1-3.3-.4-3.1-1-2.4-1.5-1.7-1.9-.8-2.1 .2-2 1.1-1.7 1.9-1.4 2.4-.9 2.7-.2z" fill="#fff" stroke="#5e5e5e" stroke-width="0.65"/>
<path d="M305.2,183.1l-1.9,.2-1.6,.9-1.3,1.4-.7,1.8-.1,2 .6,2 1.3,1.9 1.9,1.5 2.3,1 2.5,.4-1.5-.1-3.3-.4-3.1-1-2.5-1.5-1.6-1.9-.8-2 .2-2 1.1-1.8 1.9-1.4 2.4-.8 2.7-.3z" fill="#fff" stroke="#5e5e5e" stroke-width="0.65"/>
<path d="M312.1,183.3l-1.9,.3-1.7,.8-1.2,1.4-.7,1.8-.1,2 .6,2.1 1.3,1.8 1.9,1.5 2.3,1 2.5,.4-1.5,0-3.4-.5-3-1-2.5-1.5-1.7-1.9-.7-2 .2-2 1.1-1.8 1.9-1.4 2.4-.8 2.7-.2z" fill="#fff" stroke="#5e5e5e" stroke-width="0.65"/>
<path d="M287.5,195.5l3.4-.2 3.1-.8 2.6-1.4 1.8-1.7 .9-2-.1-2-1-1.9-1.8-1.5-2.3-1-2.7-.4-1.5,0 1.9,.4 1.6,.9 1.1,1.5 .6,1.9 0,2-.8,1.9-1.4,1.8-2,1.4-2.3,.8-2.5,.3z" fill="#fff" stroke="#5e5e5e" stroke-width="0.65"/>
<path d="M294.4,195.7l3.4-.2 3.1-.8 2.6-1.3 1.8-1.8 .9-2-.1-2-1-1.8-1.8-1.5-2.3-1-2.7-.4-1.5-.1 1.8,.4 1.6,1 1.2,1.4 .6,1.9 0,2-.8,2-1.4,1.7-2,1.4-2.3,.9-2.6,.2z" fill="#fff" stroke="#5e5e5e" stroke-width="0.65"/>
<path d="M301.3,196l3.4-.2 3.1-.9 2.6-1.3 1.8-1.8 .8-2 0-2-1-1.8-1.8-1.5-2.4-1-2.6-.4-1.5-.1 1.8,.4 1.6,1 1.2,1.5 .6,1.8-.1,2-.7,2-1.4,1.8-2,1.3-2.3,.9-2.6,.2z" fill="#fff" stroke="#5e5e5e" stroke-width="0.65"/>
<path d="M308.2,196.2l3.4-.2 3.1-.8 2.5-1.4 1.8-1.8 .9-1.9 0-2-1-1.9-1.8-1.5-2.4-1-2.6-.4-1.5,0 1.8,.3 1.6,1 1.2,1.5 .6,1.8-.1,2-.7,2-1.4,1.8-2,1.4-2.3,.8-2.6,.2z" fill="#fff" stroke="#5e5e5e" stroke-width="0.65"/>
<path d="M315.1,196.4l3.4-.2 3.1-.8 2.5-1.4 1.8-1.7 .9-2 0-2-1-1.9-1.8-1.5-2.4-1-2.7-.4-1.4,0 1.8,.4 1.6,.9 1.2,1.5 .6,1.8-.1,2-.7,2-1.4,1.8-2,1.4-2.3,.8-2.6,.3z" fill="#fff" stroke="#5e5e5e" stroke-width="0.65"/>
<path d="M203.7,168.8l-2.1-.6-2.2,.2-2.1,1-1.6,1.7-1.1,2.2-.4,2.6 .5,2.7 1.2,2.5 2,2.2 2.4,1.7-1.3-.7-3.2-2-2.6-2.5-1.8-2.8-.8-2.9 .2-2.6 1.2-2.2 2-1.5 2.6-.7 2.9,.1 2.9,1z" fill="#fff" stroke="#5e5e5e" stroke-width="0.65"/>
<path d="M210.8,172.2l-2.1-.5-2.2,.2-2,1-1.7,1.6-1.1,2.3-.3,2.5 .4,2.7 1.3,2.6 1.9,2.2 2.5,1.6-1.3-.6-3.3-2-2.6-2.6-1.8-2.8-.8-2.8 .3-2.7 1.1-2.1 2.1-1.5 2.6-.8 2.8,.2 2.9,.9z" fill="#fff" stroke="#5e5e5e" stroke-width="0.65"/>
<path d="M218,175.7l-2.1-.6-2.2,.2-2.1,1-1.6,1.7-1.1,2.2-.4,2.6 .5,2.6 1.2,2.6 1.9,2.2 2.5,1.6-1.3-.6-3.2-2-2.7-2.5-1.7-2.8-.8-2.9 .2-2.6 1.2-2.2 2-1.5 2.6-.7 2.9,.1 2.9,.9z" fill="#fff" stroke="#5e5e5e" stroke-width="0.65"/>
<path d="M193.2,181.5l3.6,1.3 3.6,.5 3.3-.4 2.7-1.2 1.9-1.8 1-2.3-.1-2.5-1.1-2.5-1.9-2.1-2.5-1.7-1.3-.6 1.7,1.3 1.3,1.8 .5,2.2-.3,2.4-1.1,2.2-1.7,1.9-2.4,1.3-2.8,.7-2.9-.2-2.8-.9z" fill="#fff" stroke="#5e5e5e" stroke-width="0.65"/>
<path d="M200.3,185l3.6,1.2 3.6,.5 3.3-.4 2.8-1.1 1.9-1.9 .9-2.2-.1-2.6-1-2.4-1.9-2.2-2.6-1.7-1.3-.6 1.8,1.3 1.2,1.8 .5,2.3-.2,2.3-1.1,2.2-1.8,1.9-2.4,1.3-2.7,.7-3-.2-2.8-.9z" fill="#fff" stroke="#5e5e5e" stroke-width="0.65"/>
<path d="M207.5,188.4l3.6,1.3 3.6,.4 3.3-.3 2.7-1.2 1.9-1.8 1-2.3-.1-2.5-1.1-2.5-1.9-2.2-2.5-1.6-1.3-.7 1.7,1.3 1.2,1.9 .6,2.2-.3,2.3-1.1,2.3-1.8,1.8-2.3,1.4-2.8,.6-2.9-.1-2.8-.9z" fill="#fff" stroke="#5e5e5e" stroke-width="0.65"/>
<path d="M214.6,191.8l3.6,1.3 3.6,.5 3.3-.4 2.8-1.2 1.9-1.8 .9-2.3-.1-2.5-1-2.5-1.9-2.1-2.6-1.7-1.3-.6 1.8,1.3 1.2,1.8 .5,2.2-.3,2.4-1,2.2-1.8,1.9-2.4,1.3-2.8,.6-2.9-.1-2.8-.9z" fill="#fff" stroke="#5e5e5e" stroke-width="0.65"/>
<g class="od"><path id="r50" d="M225,190l.4,.7 .4,1 .5,1.2 .6,1.3 .6,1.3 .8,1.1 .8,.9 .9,.5 1,.2 1.3,0 1.3-.2 1.4-.4 1.4-.5 1.3-.6 1.3-.7 1-.8 .9-1 .7-1.4 .6-1.6 .6-1.6 .5-1.6 .6-1.3 .5-1 .6-.5 .6,.1 .6,.7 .5,1.1 .6,1.2 .6,1.3 .6,1.2 .7,.9 .8,.5 .9,0 .9-.5 1-.7 1-.8 1.1-.8 1-.7 1.1-.5 1,0 1,.4 .9,.9 .9,1 1,1.3 .9,1.2 1,1 1.1,.8 1.2,.4 1.3-.1 1.5-.5 1.5-.7 1.6-.9 1.6-.9 1.6-.9 1.5-.6 1.4-.4 1.3-.1 1.4,.2 1.3,.2 1.2,.4 1.2,.4 1.1,.4 .8,.3 .7,.2"/></g><use href="#r50" class="fd"/>
<g class="od"><path id="r51" d="M150,150l.7,.9 1,1.2 1.1,1.6 1.3,1.6 1.3,1.6 1.5,1.4 1.5,1.1 1.6,.6 1.7,0 1.9-.7 2.1-1 2.1-1.1 2.1-1.1 1.9-.9 1.8-.4 1.4,.2 1.1,1.1 .7,1.7 .5,2.2 .4,2.5 .4,2.5 .4,2.2 .6,1.7 .9,1.1 1.2,.2 1.4-.4 1.6-.9 1.6-1.1 1.7-1.1 1.6-1 1.5-.7 1.4,0 1.3,.5 1.3,.8 1.3,1.1 1.2,1.4 1,1.4 .9,1.6 .6,1.6 .4,1.6 0,1.7-.2,1.9-.5,2.1-.7,2.1-.8,2.1-.9,1.9-.9,1.8-1,1.4-1.1,1.1-1.3,1-1.4,.7-1.5,.6-1.5,.5-1.3,.4-1.1,.4-.8,.3"/></g><use href="#r51" class="fd"/>
<g class="od"><path id="r52" d="M170,175l.6,.8 .7,1.1 .9,1.3 1,1.5 1.2,1.5 1.1,1.4 1.3,1.3 1.2,1.1 1.3,.8 1.5,.7 1.5,.5 1.6,.5 1.6,.5 1.5,.5 1.6,.7 1.4,.8 1.3,1.1 1.3,1.4 1.3,1.5 1.2,1.6 1.2,1.5 1.2,1.3 1.3,1 1.2,.6 1.3,.1 1.4-.4 1.5-.7 1.4-.9 1.4-.9 1.2-1 1-.7 .8-.5"/></g><use href="#r52" class="fd"/>
<path d="M197.6,98.1l-1.2-.7-1.5-.8-1.9-.9-2.1-.7-2.1-.5-1.9-.3-1.6,.2-1.1,.6-1.1,1.6-.6,2.2 2.1-3 0-1.4 .9-1.3 1.8-1.5 2.2-.9 2.3-.4 2.3,.2 2.1,.8 1.7,1.1 1.2,1.3 .6,1.4z" fill="#8e9238" stroke="#5f6420" stroke-width="0.7"/>
<path d="M191,107.4l-1.1-.7-1.6-.8-1.9-.9-2.1-.8-2-.5-2-.2-1.6,.2-1.1,.6-1,1.5-.7,2.2 2.1-2.9 .1-1.4 .9-1.4 1.7-1.4 2.2-1 2.3-.3 2.3,.2 2.1,.7 1.7,1.2 1.2,1.3 .6,1.4z" fill="#8e9238" stroke="#5f6420" stroke-width="0.7"/>
<path d="M184.4,116.6l-1.1-.6-1.6-.9-1.9-.8-2.1-.8-2-.5-2-.2-1.6,.2-1.1,.6-1,1.5-.7,2.2 2.1-3 .1-1.3 .9-1.4 1.8-1.5 2.1-.9 2.3-.3 2.3,.2 2.1,.7 1.7,1.1 1.2,1.4 .6,1.4z" fill="#8e9238" stroke="#5f6420" stroke-width="0.7"/>
<path d="M177.8,125.9l-1.1-.7-1.6-.8-1.9-.9-2-.7-2.1-.5-1.9-.3-1.6,.2-1.2,.6-1,1.6-.7,2.2 2.1-3 .1-1.4 .9-1.3 1.8-1.5 2.1-.9 2.3-.4 2.3,.3 2.1,.7 1.7,1.1 1.2,1.3 .6,1.5z" fill="#8e9238" stroke="#5f6420" stroke-width="0.7"/>
<path d="M171.2,135.2l-1.1-.7-1.6-.8-1.8-.9-2.1-.7-2.1-.6-1.9-.2-1.6,.2-1.2,.6-1,1.5-.7,2.2 2.1-2.9 .1-1.4 .9-1.4 1.8-1.4 2.1-1 2.3-.3 2.3,.2 2.1,.7 1.7,1.2 1.2,1.3 .6,1.4z" fill="#8e9238" stroke="#5f6420" stroke-width="0.7"/>
<path d="M164.6,144.5l-1.1-.7-1.5-.9-1.9-.8-2.1-.8-2.1-.5-1.9-.2-1.6,.2-1.2,.6-1,1.5-.7,2.2 2.1-3 .1-1.3 .9-1.4 1.8-1.5 2.1-.9 2.3-.3 2.3,.2 2.1,.7 1.7,1.1 1.2,1.4 .6,1.4z" fill="#8e9238" stroke="#5f6420" stroke-width="0.7"/>
<path d="M158,153.7l-1.1-.7-1.5-.8-1.9-.9-2.1-.7-2.1-.5-1.9-.2-1.6,.1-1.1,.6-1.1,1.6-.7,2.2 2.2-3 0-1.3 .9-1.4 1.8-1.5 2.1-.9 2.4-.4 2.3,.3 2,.7 1.8,1.1 1.2,1.4 .6,1.4z" fill="#8e9238" stroke="#5f6420" stroke-width="0.7"/>
<path d="M151.5,163l-1.1-.7-1.6-.8-1.9-.9-2.1-.7-2.1-.6-1.9-.2-1.6,.2-1.1,.6-1.1,1.5-.6,2.2 2.1-2.9 0-1.4 .9-1.3 1.8-1.5 2.2-.9 2.3-.4 2.3,.2 2.1,.8 1.7,1.1 1.2,1.3 .6,1.4z" fill="#8e9238" stroke="#5f6420" stroke-width="0.7"/>
<path d="M189,89.5l0,2.3 .5,2.3 1.1,2 1.4,1.7 1.6,1.1 1.7,.6 1.5,0 1.1-.5 .2-.5-.5-.4 2.1-3-.1,1.3-.3,.6-.5-.3-1-.7-1.2-1.2-1.4-1.4-1.5-1.7-1.2-1.8-.9-1.8-.4-1.6z" fill="#b3b64a" stroke="#5f6420" stroke-width="0.7"/>
<path d="M182.5,98.8l-.1,2.3 .5,2.3 1.1,2 1.4,1.7 1.7,1.1 1.6,.6 1.5,0 1.1-.6 .3-.4-.6-.4 2.1-3-.1,1.3-.3,.6-.5-.3-.9-.8-1.3-1.1-1.4-1.5-1.4-1.7-1.3-1.7-.9-1.8-.4-1.6z" fill="#b3b64a" stroke="#5f6420" stroke-width="0.7"/>
<path d="M175.9,108l-.1,2.4 .5,2.2 1.1,2.1 1.4,1.6 1.7,1.2 1.6,.6 1.5,0 1.1-.6 .3-.4-.6-.5 2.1-2.9 0,1.3-.4,.6-.5-.4-.9-.7-1.3-1.1-1.4-1.5-1.4-1.7-1.3-1.8-.9-1.7-.4-1.6z" fill="#b3b64a" stroke="#5f6420" stroke-width="0.7"/>
<path d="M169.3,117.3l-.1,2.3 .6,2.3 1,2 1.4,1.7 1.7,1.1 1.6,.6 1.5,0 1.1-.5 .3-.5-.6-.4 2.1-2.9 0,1.2-.4,.6-.5-.3-.9-.7-1.3-1.2-1.4-1.4-1.4-1.7-1.3-1.8-.9-1.8-.4-1.6z" fill="#b3b64a" stroke="#5f6420" stroke-width="0.7"/>
<path d="M162.7,126.6l-.1,2.3 .6,2.3 1,2 1.5,1.7 1.6,1.1 1.7,.6 1.4,0 1.2-.6 .2-.4-.6-.4 2.1-3 0,1.3-.4,.6-.5-.3-.9-.8-1.3-1.1-1.4-1.5-1.4-1.6-1.2-1.8-.9-1.8-.5-1.6z" fill="#b3b64a" stroke="#5f6420" stroke-width="0.7"/>
<path d="M156.1,135.8l0,2.4 .5,2.2 1,2.1 1.5,1.6 1.6,1.2 1.7,.6 1.4,0 1.2-.6 .2-.4-.6-.4 2.1-3 0,1.3-.4,.6-.4-.4-1-.7-1.3-1.1-1.4-1.5-1.4-1.7-1.2-1.8-.9-1.7-.5-1.6z" fill="#b3b64a" stroke="#5f6420" stroke-width="0.7"/>
<path d="M149.5,145.1l0,2.3 .5,2.3 1.1,2 1.4,1.7 1.6,1.2 1.7,.5 1.5,0 1.1-.5 .2-.5-.6-.4 2.2-2.9-.1,1.2-.3,.6-.5-.3-1-.7-1.2-1.2-1.5-1.4-1.4-1.7-1.2-1.8-.9-1.8-.5-1.6z" fill="#b3b64a" stroke="#5f6420" stroke-width="0.7"/>
<path d="M142.9,154.4l0,2.3 .5,2.3 1.1,2 1.4,1.7 1.6,1.1 1.7,.6 1.5,0 1.1-.5 .2-.5-.5-.4 2.1-3-.1,1.3-.3,.6-.5-.3-1-.8-1.2-1.1-1.4-1.5-1.5-1.6-1.2-1.8-.9-1.8-.4-1.6z" fill="#b3b64a" stroke="#5f6420" stroke-width="0.7"/>
<path d="M136.4,163.6l-.1,1 0,.9 .1,.9 .2,1 .2,.8 .4,.9 .4,.8 .5,.8 .6,.6 .6,.6 3.2-4.4-.6-.6-.6-.7-.5-.7-.5-.7-.5-.8-.4-.7-.3-.7-.3-.7-.2-.6-.1-.6z" fill="#b3b64a" stroke="#5f6420" stroke-width="0.7"/>
<path d="M104.3,164.7l-.5,.6-.2,1.1 .2,1.6 .6,1.8 1,2 1.3,1.8 1.5,1.5 1.6,1.1 1.7,.4 1.5-.1-1.5,.5-2.3,.5-2.4-.2-2.3-.8-1.9-1.4-1.4-1.8-.9-2-.2-2 .4-1.8 1-1.4 1.3-.8z" fill="#6aaed3" stroke="#3f7fa6" stroke-width="0.7"/>
<path d="M112.1,161.9l-.5,.5-.1,1.1 .2,1.6 .6,1.9 1,1.9 1.2,1.8 1.6,1.6 1.6,1 1.6,.5 1.5-.2-1.4,.5-2.4,.5-2.4-.2-2.2-.8-1.9-1.4-1.5-1.8-.8-2-.2-2 .4-1.7 .9-1.4 1.4-.9z" fill="#6aaed3" stroke="#3f7fa6" stroke-width="0.7"/>
<path d="M120,159l-.5,.6-.2,1.1 .2,1.5 .6,1.9 1,1.9 1.3,1.9 1.5,1.5 1.7,1.1 1.6,.4 1.5-.2-1.5,.6-2.3,.5-2.4-.2-2.3-.8-1.9-1.4-1.4-1.8-.9-2-.2-2 .4-1.8 1-1.4 1.3-.9z" fill="#6aaed3" stroke="#3f7fa6" stroke-width="0.7"/>
<path d="M127.8,156.2l-.4,.5-.2,1.1 .2,1.6 .6,1.8 1,2 1.3,1.8 1.5,1.5 1.6,1.1 1.7,.5 1.5-.2-1.5,.5-2.4,.5-2.4-.2-2.2-.8-1.9-1.4-1.5-1.8-.8-2-.2-2 .4-1.8 .9-1.4 1.4-.8z" fill="#6aaed3" stroke="#3f7fa6" stroke-width="0.7"/>
<path d="M105.1,179.3l2.2-1.1 1.7-1.7 1.2-2.1 .5-2.3 0-2.3-.7-2-1.1-1.7-1.4-1.1-1.7-.5-1.5,.2-1.5,.6 .7,.1 .9,.7 .8,1.4 .8,1.8 .5,2.1 .1,2.2-.1,2.2-.6,1.8-1,1.4-1.2,.8z" fill="#93cdea" stroke="#3f7fa6" stroke-width="0.7"/>
<path d="M113,176.5l2.1-1.2 1.7-1.7 1.2-2 .6-2.3-.1-2.3-.6-2.1-1.1-1.7-1.5-1.1-1.6-.4-1.6,.2-1.4,.5 .7,.1 .8,.8 .9,1.3 .7,1.8 .5,2.1 .2,2.3-.2,2.1-.6,1.9-.9,1.4-1.3,.8z" fill="#93cdea" stroke="#3f7fa6" stroke-width="0.7"/>
<path d="M120.8,173.6l2.2-1.1 1.7-1.7 1.2-2.1 .6-2.3-.1-2.3-.6-2-1.2-1.7-1.4-1.1-1.6-.5-1.6,.2-1.5,.5 .7,.1 .9,.8 .8,1.3 .8,1.8 .5,2.2 .2,2.2-.2,2.1-.6,1.9-1,1.4-1.2,.8z" fill="#93cdea" stroke="#3f7fa6" stroke-width="0.7"/>
<path d="M128.7,170.7l2.1-1.1 1.7-1.7 1.2-2.1 .6-2.2 0-2.3-.7-2.1-1.1-1.7-1.5-1.1-1.6-.5-1.6,.3-1.4,.5 .7,.1 .8,.7 .9,1.4 .7,1.8 .5,2.1 .2,2.2-.2,2.2-.5,1.8-1,1.4-1.3,.9z" fill="#93cdea" stroke="#3f7fa6" stroke-width="0.7"/>
<path d="M136.6,167.9l.8-.4 .9-.5 .8-.6 .7-.6 .6-.7 .5-.8 .5-.9 .4-.9 .2-.9 .2-.9-4.1,1.5-.1,.9 0,.8-.2,.8-.2,.8-.3,.7-.3,.6-.4,.6-.5,.4-.5,.4-.5,.2z" fill="#93cdea" stroke="#3f7fa6" stroke-width="0.7"/>
<path d="M212.7,110l-.6-.3-1.3-.5-1.6-.7-2.1-.5-2.1-.5-2.2-.2-1.9,.1-1.6,.4-1,.8-.9,1.7 1.3-2.3 .7-1.5 1.5-1.7 2-1.2 2.3-.7 2.3-.2 2.2,.4 1.9,.9 1.4,1.1 .8,1.3 .2,1.3z" fill="#23802a" stroke="#1c6b20" stroke-width="0.6"/>
<path d="M207,120.7l-.6-.4-1.3-.5-1.7-.6-2-.6-2.1-.4-2.2-.2-1.9,.1-1.6,.4-1,.8-.9,1.7 1.3-2.3 .7-1.5 1.5-1.7 2-1.3 2.3-.7 2.3-.1 2.2,.4 1.9,.9 1.4,1.1 .8,1.3 .2,1.2z" fill="#23802a" stroke="#1c6b20" stroke-width="0.6"/>
<path d="M201.3,131.3l-.7-.3-1.2-.5-1.7-.6-2-.6-2.2-.4-2.1-.3-1.9,.1-1.6,.4-1.1,.8-.8,1.8 1.3-2.4 .6-1.4 1.6-1.8 2-1.2 2.3-.7 2.3-.1 2.2,.4 1.9,.8 1.4,1.2 .8,1.3 .2,1.2z" fill="#23802a" stroke="#1c6b20" stroke-width="0.6"/>
<path d="M195.6,142l-.7-.3-1.2-.5-1.7-.7-2-.5-2.2-.5-2.1-.2-1.9,.1-1.6,.4-1.1,.8-.8,1.7 1.2-2.3 .7-1.5 1.6-1.7 2-1.2 2.3-.7 2.3-.2 2.2,.4 1.9,.9 1.4,1.1 .8,1.3 .1,1.3z" fill="#23802a" stroke="#1c6b20" stroke-width="0.6"/>
<path d="M189.9,152.7l-.7-.4-1.2-.5-1.7-.6-2-.6-2.2-.4-2.1-.2-2,.1-1.5,.4-1.1,.8-.8,1.7 1.2-2.3 .7-1.5 1.6-1.7 2-1.3 2.3-.7 2.3-.1 2.2,.4 1.8,.9 1.4,1.1 .9,1.3 .1,1.2z" fill="#23802a" stroke="#1c6b20" stroke-width="0.6"/>
<path d="M184.2,163.3l-.7-.3-1.2-.5-1.7-.6-2-.6-2.2-.4-2.1-.3-2,.1-1.5,.4-1.1,.8-.8,1.8 1.2-2.4 .7-1.4 1.6-1.8 2-1.2 2.2-.7 2.4-.1 2.2,.4 1.8,.8 1.4,1.2 .8,1.3 .2,1.2z" fill="#23802a" stroke="#1c6b20" stroke-width="0.6"/>
<path d="M178.5,174l-.7-.3-1.2-.5-1.7-.7-2-.5-2.2-.5-2.2-.2-1.9,.1-1.6,.4-1,.8-.8,1.7 1.2-2.3 .7-1.5 1.6-1.7 2-1.2 2.2-.7 2.4-.2 2.1,.4 1.9,.9 1.4,1.1 .8,1.3 .2,1.3z" fill="#23802a" stroke="#1c6b20" stroke-width="0.6"/>
<path d="M172.7,184.7l-.6-.4-1.3-.5-1.6-.6-2.1-.6-2.1-.4-2.2-.2-1.9,.1-1.6,.4-1,.8-.9,1.7 1.3-2.3 .7-1.5 1.5-1.7 2-1.3 2.3-.7 2.3-.1 2.2,.4 1.9,.9 1.4,1.1 .8,1.3 .2,1.2z" fill="#23802a" stroke="#1c6b20" stroke-width="0.6"/>
<path d="M167,195.3l-.6-.3-1.3-.5-1.7-.6-2-.6-2.1-.4-2.2-.3-1.9,.1-1.6,.4-1,.8-.9,1.8 1.3-2.4 .7-1.4 1.5-1.8 2-1.2 2.3-.7 2.3-.1 2.2,.4 1.9,.8 1.4,1.2 .8,1.3 .2,1.2z" fill="#23802a" stroke="#1c6b20" stroke-width="0.6"/>
<path d="M161.3,206l-.7-.3-1.2-.5-1.7-.7-2-.5-2.2-.5-2.1-.2-1.9,.1-1.6,.4-1.1,.8-.8,1.7 1.3-2.3 .6-1.5 1.6-1.7 2-1.2 2.3-.7 2.3-.2 2.2,.4 1.9,.9 1.4,1.1 .8,1.3 .2,1.3z" fill="#23802a" stroke="#1c6b20" stroke-width="0.6"/>
<path d="M203.2,99.7l-.4,2.3 .2,2.3 .8,2.2 1.3,2 1.6,1.4 1.8,1 1.7,.3 1.4-.1 1-.7 .1-.4 1.3-2.3-.3,.6-.5-.2-1-.7-1.3-1-1.6-1.3-1.6-1.5-1.4-1.6-1.1-1.7-.7-1.6-.1-1.4z" fill="#33a236" stroke="#1c6b20" stroke-width="0.6"/>
<path d="M197.4,110.3l-.4,2.3 .3,2.4 .8,2.2 1.3,1.9 1.6,1.5 1.8,.9 1.7,.4 1.4-.2 1-.6 .1-.4 1.3-2.4-.3,.7-.5-.3-1-.6-1.3-1-1.6-1.3-1.6-1.5-1.4-1.6-1.2-1.7-.6-1.6-.1-1.4z" fill="#33a236" stroke="#1c6b20" stroke-width="0.6"/>
<path d="M191.7,121l-.4,2.3 .3,2.4 .8,2.2 1.3,1.9 1.6,1.5 1.8,.9 1.7,.4 1.4-.2 1-.7 .1-.4 1.3-2.3-.3,.7-.5-.3-1-.7-1.3-.9-1.6-1.3-1.6-1.5-1.5-1.7-1.1-1.7-.6-1.5-.1-1.4z" fill="#33a236" stroke="#1c6b20" stroke-width="0.6"/>
<path d="M186,131.7l-.4,2.3 .3,2.3 .8,2.2 1.3,2 1.6,1.4 1.8,1 1.7,.3 1.4-.1 1-.7 .1-.4 1.2-2.3-.2,.6-.5-.2-1-.7-1.4-1-1.5-1.3-1.6-1.5-1.5-1.6-1.1-1.7-.6-1.6-.1-1.4z" fill="#33a236" stroke="#1c6b20" stroke-width="0.6"/>
<path d="M180.3,142.3l-.4,2.3 .2,2.4 .9,2.2 1.3,1.9 1.6,1.5 1.7,.9 1.7,.4 1.5-.2 1-.6 .1-.4 1.2-2.4-.2,.7-.5-.3-1-.6-1.4-1-1.5-1.3-1.6-1.5-1.5-1.6-1.1-1.7-.7-1.6-.1-1.4z" fill="#33a236" stroke="#1c6b20" stroke-width="0.6"/>
<path d="M174.6,153l-.4,2.3 .2,2.4 .9,2.2 1.3,1.9 1.6,1.5 1.7,.9 1.7,.4 1.5-.2 1-.7 .1-.4 1.2-2.3-.2,.7-.5-.3-1-.7-1.4-.9-1.6-1.3-1.6-1.5-1.4-1.7-1.1-1.7-.7-1.5-.1-1.4z" fill="#33a236" stroke="#1c6b20" stroke-width="0.6"/>
<path d="M168.9,163.7l-.4,2.3 .2,2.3 .8,2.2 1.3,2 1.7,1.4 1.7,1 1.7,.3 1.4-.1 1-.7 .2-.4 1.2-2.3-.3,.6-.4-.2-1-.7-1.4-1-1.6-1.3-1.6-1.5-1.4-1.6-1.1-1.7-.7-1.6-.1-1.4z" fill="#33a236" stroke="#1c6b20" stroke-width="0.6"/>
<path d="M163.2,174.3l-.4,2.3 .2,2.4 .8,2.2 1.3,1.9 1.6,1.5 1.8,.9 1.7,.4 1.4-.2 1-.6 .1-.4 1.3-2.4-.3,.7-.5-.3-1-.6-1.3-1-1.6-1.3-1.6-1.5-1.4-1.6-1.1-1.7-.7-1.6-.1-1.4z" fill="#33a236" stroke="#1c6b20" stroke-width="0.6"/>
<path d="M157.4,185l-.4,2.3 .3,2.4 .8,2.2 1.3,1.9 1.6,1.5 1.8,.9 1.7,.4 1.4-.2 1-.7 .1-.4 1.3-2.3-.3,.7-.5-.3-1-.7-1.3-.9-1.6-1.3-1.6-1.5-1.4-1.7-1.2-1.7-.6-1.5-.1-1.4z" fill="#33a236" stroke="#1c6b20" stroke-width="0.6"/>
<path d="M151.7,195.7l-.4,2.3 .3,2.3 .8,2.2 1.3,2 1.6,1.4 1.8,1 1.7,.3 1.4-.1 1-.7 .1-.4 1.3-2.3-.3,.6-.5-.2-1-.7-1.3-1-1.6-1.3-1.6-1.5-1.5-1.6-1.1-1.7-.6-1.6-.1-1.4z" fill="#33a236" stroke="#1c6b20" stroke-width="0.6"/>
<path d="M146,206.3l-.4,2.3 .3,2.4 .8,2.2 1.3,1.9 1.6,1.5 1.8,.9 1.7,.4 1.4-.2 1-.6 .1-.4 1.2-2.4-.2,.7-.5-.3-1-.6-1.4-1-1.5-1.3-1.6-1.5-1.5-1.6-1.1-1.7-.6-1.6-.1-1.4z" fill="#33a236" stroke="#1c6b20" stroke-width="0.6"/>
<polyline points="12.0,190.0 12.6,190.5 13.5,191.1 14.5,191.9 15.6,192.7 16.8,193.5 18.0,194.0 19.2,194.3 20.5,194.4 21.9,194.4 23.3,194.5 24.6,194.6 26.0,195.0 27.3,195.7 28.7,196.6 30.0,197.7 31.3,198.7 32.7,199.5 34.0,200.0 35.3,200.0 36.7,199.5 38.0,198.9 39.3,198.3 40.7,197.9 42.0,198.0 43.3,198.7 44.7,199.9 46.0,201.2 47.3,202.7 48.7,204.0 50.0,205.0 51.3,205.7 52.7,206.1 54.0,206.5 55.3,206.7 56.7,206.9 58.0,207.0 59.3,207.0 60.7,206.9 62.0,206.6 63.3,206.4 64.7,206.1 66.0,206.0 67.3,206.0 68.6,206.0 69.9,206.1 71.2,206.1 72.6,206.1 74.0,206.0 75.6,205.8 77.3,205.5 79.0,205.1 80.7,204.7 82.4,204.4 84.0,204.0 85.5,203.7 86.9,203.3 88.2,203.0 89.6,202.7 90.8,202.3 92.0,202.0 93.2,201.6 94.4,201.3 95.5,200.9 96.5,200.5 97.4,200.2 98.0,200.0" fill="none" stroke="#d6941a" stroke-width="1.6" stroke-linejoin="round"/>
<polyline points="143.0,183.0 142.5,184.1 141.8,185.5 140.9,187.2 140.1,189.1 139.4,191.0 139.0,193.0 138.8,195.1 138.7,197.3 138.8,199.6 139.0,201.9 139.4,204.1 140.0,206.0 140.8,207.7 142.0,209.4 143.2,210.9 144.6,212.2 145.9,213.2 147.0,214.0 148.0,214.3 149.0,214.3 149.9,214.0 150.8,213.6 151.5,213.2 152.0,213.0" fill="none" stroke="#d6941a" stroke-width="1.6" stroke-linejoin="round"/>
<path d="M125.9,182.8l.1,.2 .4,.4 .6,.7 .9,.8 1.1,.7 1.3,.7 1.3,.5 1.4,.1 1.3-.1 1.2-.5-1.4,.9-2,1-2.1,.6-1.9,.2-1.8-.2-1.4-.6-1-.9-.5-1 0-1 .4-.9 .7-.7z" fill="#8e9a3a" stroke="#4d5a18" stroke-width="0.6"/>
<path d="M124.8,192.9l1.8-1.3 1.5-1.6 1-1.7 .6-1.6 .1-1.5-.4-1.3-.7-.9-.9-.5-1,0-.9,.3-1.4,.9 .1,.2 .3,.5 .3,.8 .3,1.2 .2,1.3 0,1.4-.2,1.5-.4,1.3-.7,1.1-1,.8z" fill="#8e9a3a" stroke="#4d5a18" stroke-width="0.6"/>
<path d="M135.5,186.3l1.8-1.4 1.4-1.5 1.1-1.7 .5-1.7 .1-1.5-.3-1.3-.7-.9-.9-.4-1-.1-.9,.4-1.4,.9 .1,.1 .2,.5 .3,.9 .3,1.1 .3,1.3 0,1.5-.2,1.4-.4,1.3-.8,1.1-.9,.9z" fill="#8e9a3a" stroke="#4d5a18" stroke-width="0.6"/>
<path d="M98.4,185.6l-.7,.5-.4,1.2 0,1.8 .4,2 .8,2.2 1.2,2.1 1.4,1.8 1.7,1.2 1.6,.7 1.6-.1-1.5,.4-2.5,.3-2.4-.4-2.3-1.1-1.8-1.7-1.3-2-.7-2.2 0-2.2 .7-1.9 1.1-1.4 1.6-.8z" fill="#c98600" stroke="#8a5a00" stroke-width="0.7"/>
<path d="M105.6,183.6l-.6,.5-.4,1.2 0,1.8 .4,2 .8,2.2 1.2,2.1 1.4,1.8 1.6,1.2 1.7,.7 1.6-.1-1.6,.4-2.4,.3-2.5-.4-2.2-1.1-1.8-1.7-1.3-2-.7-2.2 0-2.2 .6-1.9 1.2-1.4 1.5-.8z" fill="#c98600" stroke="#8a5a00" stroke-width="0.7"/>
<path d="M112.9,181.6l-.7,.5-.4,1.2 0,1.8 .4,2 .8,2.2 1.2,2.1 1.4,1.8 1.7,1.2 1.6,.7 1.6-.1-1.5,.4-2.5,.3-2.4-.4-2.3-1.1-1.8-1.7-1.3-2-.7-2.2 0-2.2 .7-1.9 1.1-1.4 1.6-.8z" fill="#c98600" stroke="#8a5a00" stroke-width="0.7"/>
<path d="M120.1,179.6l-.6,.5-.4,1.2 0,1.8 .4,2 .8,2.2 1.2,2.1 1.4,1.8 1.6,1.2 1.7,.7 1.6-.1-1.6,.4-2.4,.3-2.5-.4-2.2-1.1-1.8-1.7-1.3-2-.7-2.2 0-2.2 .6-1.9 1.2-1.4 1.5-.8z" fill="#c98600" stroke="#8a5a00" stroke-width="0.7"/>
<path d="M98.8,201l2.2-1 1.9-1.6 1.4-2.1 .7-2.4 0-2.4-.5-2.2-1.1-1.9-1.6-1.3-1.7-.6-1.7,.1-1.5,.4 .8,.1 1,.9 .9,1.4 .7,2 .4,2.3 .1,2.4-.3,2.2-.8,2-1.1,1.4-1.4,.7z" fill="#f3a812" stroke="#8a5a00" stroke-width="0.7"/>
<path d="M106,199l2.3-1 1.9-1.6 1.3-2.1 .7-2.4 .1-2.4-.6-2.2-1.1-1.9-1.5-1.3-1.7-.6-1.8,.1-1.5,.4 .9,.1 .9,.9 .9,1.4 .7,2 .5,2.3 0,2.4-.3,2.2-.7,2-1.1,1.4-1.4,.7z" fill="#f3a812" stroke="#8a5a00" stroke-width="0.7"/>
<path d="M113.3,197l2.2-1 1.9-1.6 1.4-2.1 .7-2.4 0-2.4-.5-2.2-1.1-1.9-1.6-1.3-1.7-.6-1.7,.1-1.5,.4 .8,.1 1,.9 .9,1.4 .7,2 .4,2.3 .1,2.4-.3,2.2-.8,2-1.1,1.4-1.4,.7z" fill="#f3a812" stroke="#8a5a00" stroke-width="0.7"/>
<path d="M120.5,195l2.3-1 1.9-1.6 1.3-2.1 .7-2.4 .1-2.4-.6-2.2-1.1-1.9-1.5-1.3-1.7-.6-1.8,.1-1.5,.4 .9,.1 .9,.9 .9,1.4 .7,2 .5,2.3 0,2.4-.3,2.2-.7,2-1.1,1.4-1.4,.7z" fill="#f3a812" stroke="#8a5a00" stroke-width="0.7"/>
<line x1="124" y1="186" x2="137" y2="181" stroke="#e89a10" stroke-width="2"/>
<defs><radialGradient id="og" cx="0.38" cy="0.35" r="0.7"><stop offset="0" stop-color="#ffc629"/><stop offset="0.7" stop-color="#f0a300"/><stop offset="1" stop-color="#b57600"/></radialGradient><radialGradient id="pg" cx="0.38" cy="0.35" r="0.7"><stop offset="0" stop-color="#f08c8c"/><stop offset="0.7" stop-color="#df6066"/><stop offset="1" stop-color="#a8393f"/></radialGradient></defs>
<circle cx="86" cy="189.5" r="5.8" fill="url(#og)"/>
<circle cx="92.5" cy="191" r="5.5" fill="url(#og)"/>
<circle cx="89" cy="183.5" r="5.2" fill="url(#og)"/>
<circle cx="91" cy="187" r="5.2" fill="url(#og)"/>
<circle cx="138.5" cy="178" r="5.6" fill="url(#pg)"/>
<circle cx="144" cy="176" r="5.8" fill="url(#pg)"/>
<circle cx="150" cy="176.5" r="5.4" fill="url(#pg)"/>
<circle cx="146" cy="180" r="5" fill="url(#pg)"/>
<text x="36.3" y="173.8" font-size="12.1" font-weight="bold" fill="#f67c1f">L1319</text>
<line x1="67" y1="176" x2="77.5" y2="182.3" stroke="#e8703a" stroke-width="1.9"/>
<path d="M82,185.6 L74.3,184.8 L78.6,178.2 Z" fill="#e8703a"/>
<text x="43.8" y="222.1" font-size="11.95" font-weight="bold" fill="#f5a623">DIII-DIV Linker</text>
<text x="0" y="9.6" font-size="12.8" font-weight="bold" fill="#000" text-anchor="start" >A</text>
<text x="310.2" y="9.6" font-size="12.8" font-weight="bold" fill="#000" text-anchor="start" >B</text>
<text x="0.7" y="235.7" font-size="12.8" font-weight="bold" fill="#000" text-anchor="start" >C</text>
<text x="306.6" y="235.6" font-size="12.8" font-weight="bold" fill="#000" text-anchor="start" >D</text>
<text x="495" y="235.6" font-size="12.8" font-weight="bold" fill="#000" text-anchor="start" >E</text>
<text x="0.6" y="429.2" font-size="12.8" font-weight="bold" fill="#000" text-anchor="start" >F</text>
<text x="307" y="429.2" font-size="12.8" font-weight="bold" fill="#000" text-anchor="start" >G</text>
<text x="495.2" y="429" font-size="12.8" font-weight="bold" fill="#000" text-anchor="start" >H</text>
<text x="454" y="24" font-size="11.9" font-weight="bold" fill="#ff8412" text-anchor="start" >L1319ANAP</text>
<text x="329" y="59" font-size="10.8" font-weight="bold" fill="#000" text-anchor="start" >Ionic</text>
<text x="329" y="71.8" font-size="10.8" font-weight="bold" fill="#000" text-anchor="start" >Current</text>
<text x="329" y="168.3" font-size="10.8" font-weight="bold" fill="#000" text-anchor="start" >Fluoresc</text>
<text x="329" y="181.7" font-size="10.8" font-weight="bold" fill="#000" text-anchor="start" >ence</text>
<path d="M470.2,81.8l3.3,0 0-14.3 34.6,0 0,14.3 16.7,0" fill="none" stroke="#000" stroke-width="1.3" stroke-linejoin="round" />
<line x1="473.5" y1="75.5" x2="508.1" y2="75.5" stroke="#000" stroke-width="1.2" />
<text x="491.8" y="62.6" font-size="6.6" font-weight="bold" fill="#000" text-anchor="middle" >-120 to 60mV</text>
<text x="460.6" y="91.1" font-size="6.5" font-weight="bold" fill="#000" text-anchor="start" >-120mV</text>
<text x="502.2" y="91.1" font-size="6.5" font-weight="bold" fill="#000" text-anchor="start" >-120mV</text>
<path d="M581.6,65.1l0,14.6 26.8,0" fill="none" stroke="#000" stroke-width="1.2" stroke-linejoin="round" />
<text x="584.6" y="73" font-size="6.5" font-weight="bold" fill="#000" text-anchor="start" >2 µA</text>
<text x="587.1" y="86.7" font-size="6.5" font-weight="bold" fill="#000" text-anchor="start" >5 ms</text>
<path d="M582.4,170.4l0,19.9 26.4,0" fill="none" stroke="#000" stroke-width="1.2" stroke-linejoin="round" />
<text x="584.6" y="183.4" font-size="6.6" font-weight="bold" fill="#000" text-anchor="start" >2.5% ΔF</text>
<text x="587.3" y="199.7" font-size="6.5" font-weight="bold" fill="#000" text-anchor="start" >5 ms</text>
<path d="M388.8,96.7l.5,0 .5,.3 .5,1.3 .5,2.4 .5,3.5 .5,4.1 .5,4.5 .5,4.5 .5,4.2 .5,3.8 .5,3.3 .5,2.6 .5,2.1 .5,1.3 .5,.8 .5,.3 .5-.2 .5-.7 .5-1 .5-1.3 .5-1.5 .5-1.7 .5-1.7 .5-1.9 .5-1.9 .5-1.9 .5-1.9 .5-1.8 .5-1.7 .5-1.7 .5-1.6 .5-1.5 .5-1.4 .5-1.3 .5-1.2 .5-1.1 .5-1 .5-1 .5-.8 .5-.8 .5-.7 .5-.6 .5-.6 .5-.5 .5-.5 .5-.4 .5-.3 .5-.4 .5-.3 .5-.2 .5-.2 .5-.3 .5-.1 .5-.2 .5-.1 .5-.2 .5-.1 .5-.1 .5,0 .5-.1 .5-.1 .5,0 .5-.1 .5,0 .5-.1 .5,0 .5,0 .5,0 .5-.1 .5,0 .5,0 .5,0 .5,0 .5,0 .5,0 .5-.1 .5,0 .5,0 .5,0 .5,0 .5,0 .5,0 .5,0 .5,0 .5,0 .5,0 .5,0 .5,0 .5,0 .5,0 .5,0 .5,0 .5,0 .5,0 .5,0 .5,0 .5,0 .5,0 .5,0 .5,0 .5,0 .5,0 .5,0 .5,0 .5,0 .5,0 .5,0 .5,0 .5,0 .5,0 .5,0 .5,0 .5,0 .5,0 .5,0 .5,0 .5,0 .5,0 .5,0 .5,0 .5,0 .5,0 .5,0 .5,0 .5,0 .5,0 .5,0 .5,0 .5,0 .5,0 .5,0 .5,0 .5,0 .5,0 .5,0 .5,0 .5,0 .5,0 .5,0 .5,0 .5,0 .5,0 .5,0 .5,0 .5,0 .5,0 .5,0 .5,0 .5,0 .5,0 .5,0 .5,0 .5,0 .5,0 .5,0 .5,0 .5,0 .5,0 .5,0 .5,0 .5,0 .5,0 .5,0 .5,0 .5,0 .5,0 .5,0 .5,0 .5,0 .5,0 .5,0 .5,0 .5,0 .5,0 .5,0 .5,0 .5,0 .5,0 .5,0 .5,0 .5,0 .5,0 .5,0 .5,0 .5,0 .5,0 .5,0 .5,0 .5,0 .5,0 .5,0 .5,0 .5,0 .5,0 .5,0 .5,0 .5,0 .5,0 .5,0 .5,0 .5,0 .5,0 .5,0 .5,0 .5,0 .5,0 .5,0 .5,0 .5,0 .5,0 .5,0 .5,0 .5,0 .5,0 .5,0 .5,0 .5,0 .5,0 .5,0 .5,0 .5,0 .5,0 .5,0 .5,0 .5,0 .5,0 .5,0 .5,0 .5,0 .5,0 .5,0 .5,0 .5,0 .5,0 .5,0 .5,0 .5,0 .5,0 .5,0 .5,0" fill="none" stroke="#333" stroke-width="0.45" stroke-linejoin="round" />
<path d="M388.8,96.7l.5,0 .5,.2 .5,.9 .5,1.7 .5,2.5 .5,3.1 .5,3.5 .5,3.7 .5,3.6 .5,3.5 .5,3.1 .5,2.8 .5,2.3 .5,1.9 .5,1.5 .5,1 .5,.5 .5,.2 .5-.2 .5-.4 .5-.8 .5-.9 .5-1.2 .5-1.3 .5-1.4 .5-1.4 .5-1.5 .5-1.6 .5-1.5 .5-1.5 .5-1.5 .5-1.5 .5-1.4 .5-1.4 .5-1.3 .5-1.2 .5-1.1 .5-1.1 .5-1 .5-1 .5-.9 .5-.8 .5-.7 .5-.7 .5-.7 .5-.5 .5-.6 .5-.5 .5-.4 .5-.4 .5-.4 .5-.3 .5-.3 .5-.3 .5-.2 .5-.3 .5-.2 .5-.1 .5-.2 .5-.1 .5-.2 .5-.1 .5-.1 .5-.1 .5-.1 .5,0 .5-.1 .5-.1 .5,0 .5-.1 .5,0 .5,0 .5-.1 .5,0 .5,0 .5,0 .5-.1 .5,0 .5,0 .5,0 .5,0 .5,0 .5,0 .5,0 .5,0 .5-.1 .5,0 .5,0 .5,0 .5,0 .5,0 .5,0 .5,0 .5,0 .5,0 .5,0 .5,0 .5,0 .5,0 .5,0 .5,0 .5,0 .5,0 .5,0 .5,0 .5,0 .5,0 .5,0 .5,0 .5,0 .5,0 .5,0 .5,0 .5,0 .5,0 .5,0 .5,0 .5,0 .5,0 .5,0 .5,0 .5,0 .5,0 .5,0 .5,0 .5,0 .5,0 .5,0 .5,0 .5,0 .5,0 .5,0 .5,0 .5,0 .5,0 .5,0 .5,0 .5,0 .5,0 .5,0 .5,0 .5,0 .5,0 .5,0 .5,0 .5,0 .5,0 .5,0 .5,0 .5,0 .5,0 .5,0 .5,0 .5,0 .5,0 .5,0 .5,0 .5,0 .5,0 .5,0 .5,0 .5,0 .5,0 .5,0 .5,0 .5,0 .5,0 .5,0 .5,0 .5,0 .5,0 .5,0 .5,0 .5,0 .5,0 .5,0 .5,0 .5,0 .5,0 .5,0 .5,0 .5,0 .5,0 .5,0 .5,0 .5,0 .5,0 .5,0 .5,0 .5,0 .5,0 .5,0 .5,0 .5,0 .5,0 .5,0 .5,0 .5,0 .5,0 .5,0 .5,0 .5,0 .5,0 .5,0 .5,0 .5,0 .5,0 .5,0 .5,0 .5,0 .5,0 .5,0 .5,0 .5,0 .5,0 .5,0 .5,0 .5,0 .5,0 .5,0 .5,0 .5,0 .5,0 .5,0 .5,0 .5,0 .5,0 .5,0 .5,0 .5,0 .5,0 .5,0 .5,0 .5,0 .5,0 .5,0 .5,0 .5,0 .5,0 .5,0" fill="none" stroke="#333" stroke-width="0.45" stroke-linejoin="round" />
<path d="M388.8,96.7l.5,0 .5,.1 .5,.6 .5,1.3 .5,1.8 .5,2.4 .5,2.7 .5,2.9 .5,3 .5,3 .5,2.8 .5,2.6 .5,2.4 .5,2 .5,1.7 .5,1.4 .5,1 .5,.8 .5,.4 .5,.1 .5-.1 .5-.4 .5-.5 .5-.8 .5-.8 .5-1 .5-1.1 .5-1.1 .5-1.3 .5-1.2 .5-1.3 .5-1.2 .5-1.3 .5-1.2 .5-1.2 .5-1.2 .5-1.2 .5-1.1 .5-1 .5-1 .5-1 .5-.9 .5-.8 .5-.8 .5-.8 .5-.7 .5-.7 .5-.6 .5-.5 .5-.6 .5-.5 .5-.4 .5-.4 .5-.4 .5-.4 .5-.3 .5-.3 .5-.3 .5-.2 .5-.2 .5-.2 .5-.2 .5-.2 .5-.2 .5-.1 .5-.1 .5-.1 .5-.1 .5-.1 .5-.1 .5-.1 .5-.1 .5,0 .5-.1 .5-.1 .5,0 .5,0 .5-.1 .5,0 .5,0 .5-.1 .5,0 .5,0 .5,0 .5-.1 .5,0 .5,0 .5,0 .5,0 .5,0 .5,0 .5,0 .5,0 .5,0 .5-.1 .5,0 .5,0 .5,0 .5,0 .5,0 .5,0 .5,0 .5,0 .5,0 .5,0 .5,0 .5,0 .5,0 .5,0 .5,0 .5,0 .5,0 .5,0 .5,0 .5,0 .5,0 .5,0 .5,0 .5,0 .5,0 .5,0 .5,0 .5,0 .5,0 .5,0 .5,0 .5,0 .5,0 .5,0 .5,0 .5,0 .5,0 .5,0 .5,0 .5,0 .5,0 .5,0 .5,0 .5,0 .5,0 .5,0 .5,0 .5,0 .5,0 .5,0 .5,0 .5,0 .5,0 .5,0 .5,0 .5,0 .5,0 .5,0 .5,0 .5,0 .5,0 .5,0 .5,0 .5,0 .5,0 .5,0 .5,0 .5,0 .5,0 .5,0 .5,0 .5,0 .5,0 .5,0 .5,0 .5,0 .5,0 .5,0 .5,0 .5,0 .5,0 .5,0 .5,0 .5,0 .5,0 .5,0 .5,0 .5,0 .5,0 .5,0 .5,0 .5,0 .5,0 .5,0 .5,0 .5,0 .5,0 .5,0 .5,0 .5,0 .5,0 .5,0 .5,0 .5,0 .5,0 .5,0 .5,0 .5,0 .5,0 .5,0 .5,0 .5,0 .5,0 .5,0 .5,0 .5,0 .5,0 .5,0 .5,0 .5,0 .5,0 .5,0 .5,0 .5,0 .5,0 .5,0 .5,0 .5,0 .5,0 .5,0 .5,0 .5,0 .5,0 .5,0 .5,0 .5,0 .5,0 .5,0 .5,0 .5,0 .5,0 .5,0 .5,0 .5,0 .5,0" fill="none" stroke="#333" stroke-width="0.45" stroke-linejoin="round" />
<path d="M388.8,96.7l.5,0 .5,.1 .5,.4 .5,.9 .5,1.4 .5,1.8 .5,2 .5,2.4 .5,2.4 .5,2.5 .5,2.4 .5,2.3 .5,2.2 .5,2 .5,1.7 .5,1.5 .5,1.3 .5,1 .5,.8 .5,.5 .5,.3 .5,.1 .5-.1 .5-.3 .5-.4 .5-.5 .5-.7 .5-.8 .5-.8 .5-.9 .5-1 .5-1 .5-1 .5-1 .5-1.1 .5-1 .5-1 .5-1 .5-1 .5-1 .5-.9 .5-.9 .5-.9 .5-.8 .5-.8 .5-.8 .5-.7 .5-.7 .5-.6 .5-.6 .5-.6 .5-.5 .5-.5 .5-.5 .5-.4 .5-.4 .5-.4 .5-.4 .5-.3 .5-.3 .5-.3 .5-.2 .5-.3 .5-.2 .5-.2 .5-.2 .5-.2 .5-.1 .5-.2 .5-.1 .5-.1 .5-.1 .5-.1 .5-.1 .5-.1 .5-.1 .5-.1 .5,0 .5-.1 .5-.1 .5,0 .5-.1 .5,0 .5,0 .5-.1 .5,0 .5,0 .5-.1 .5,0 .5,0 .5,0 .5,0 .5-.1 .5,0 .5,0 .5,0 .5,0 .5,0 .5,0 .5,0 .5,0 .5,0 .5,0 .5-.1 .5,0 .5,0 .5,0 .5,0 .5,0 .5,0 .5,0 .5,0 .5,0 .5,0 .5,0 .5,0 .5,0 .5,0 .5,0 .5,0 .5,0 .5,0 .5,0 .5,0 .5,0 .5,0 .5,0 .5,0 .5,0 .5,0 .5,0 .5,0 .5,0 .5,0 .5,0 .5,0 .5,0 .5,0 .5,0 .5,0 .5,0 .5,0 .5,0 .5,0 .5,0 .5,0 .5,0 .5,0 .5,0 .5,0 .5,0 .5,0 .5,0 .5,0 .5,0 .5,0 .5,0 .5,0 .5,0 .5,0 .5,0 .5,0 .5,0 .5,0 .5,0 .5,0 .5,0 .5,0 .5,0 .5,0 .5,0 .5,0 .5,0 .5,0 .5,0 .5,0 .5,0 .5,0 .5,0 .5,0 .5,0 .5,0 .5,0 .5,0 .5,0 .5,0 .5,0 .5,0 .5,0 .5,0 .5,0 .5,0 .5,0 .5,0 .5,0 .5,0 .5,0 .5,0 .5,0 .5,0 .5,0 .5,0 .5,0 .5,0 .5,0 .5,0 .5,0 .5,0 .5,0 .5,0 .5,0 .5,0 .5,0 .5,0 .5,0 .5,0 .5,0 .5,0 .5,0 .5,0 .5,0 .5,0 .5,0 .5,0 .5,0 .5,0 .5,0 .5,0 .5,0 .5,0 .5,0 .5,0 .5,0 .5,0 .5,0 .5,0 .5,0 .5,0 .5,0 .5,0" fill="none" stroke="#333" stroke-width="0.45" stroke-linejoin="round" />
<path d="M388.8,96.7l.5,0 .5,.1 .5,.2 .5,.7 .5,.9 .5,1.3 .5,1.5 .5,1.7 .5,1.9 .5,2 .5,1.9 .5,2 .5,1.9 .5,1.8 .5,1.6 .5,1.6 .5,1.3 .5,1.2 .5,1 .5,.8 .5,.6 .5,.5 .5,.3 .5,.2 .5,0 .5-.1 .5-.3 .5-.3 .5-.4 .5-.6 .5-.6 .5-.6 .5-.7 .5-.8 .5-.7 .5-.9 .5-.8 .5-.8 .5-.8 .5-.9 .5-.8 .5-.8 .5-.8 .5-.8 .5-.8 .5-.7 .5-.7 .5-.7 .5-.7 .5-.6 .5-.7 .5-.6 .5-.5 .5-.6 .5-.5 .5-.4 .5-.5 .5-.4 .5-.4 .5-.4 .5-.4 .5-.3 .5-.4 .5-.3 .5-.2 .5-.3 .5-.3 .5-.2 .5-.2 .5-.2 .5-.2 .5-.2 .5-.1 .5-.2 .5-.1 .5-.2 .5-.1 .5-.1 .5-.1 .5-.1 .5-.1 .5-.1 .5,0 .5-.1 .5-.1 .5,0 .5-.1 .5,0 .5-.1 .5,0 .5-.1 .5,0 .5,0 .5-.1 .5,0 .5,0 .5,0 .5-.1 .5,0 .5,0 .5,0 .5,0 .5-.1 .5,0 .5,0 .5,0 .5,0 .5,0 .5,0 .5,0 .5,0 .5,0 .5,0 .5,0 .5-.1 .5,0 .5,0 .5,0 .5,0 .5,0 .5,0 .5,0 .5,0 .5,0 .5,0 .5,0 .5,0 .5,0 .5,0 .5,0 .5,0 .5,0 .5,0 .5,0 .5,0 .5,0 .5,0 .5,0 .5,0 .5,0 .5,0 .5,0 .5,0 .5,0 .5,0 .5,0 .5,0 .5,0 .5,0 .5,0 .5,0 .5,0 .5,0 .5,0 .5,0 .5,0 .5,0 .5,0 .5,0 .5,0 .5,0 .5,0 .5,0 .5,0 .5,0 .5,0 .5,0 .5,0 .5,0 .5,0 .5,0 .5,0 .5,0 .5,0 .5,0 .5,0 .5,0 .5,0 .5,0 .5,0 .5,0 .5,0 .5,0 .5,0 .5,0 .5,0 .5,0 .5,0 .5,0 .5,0 .5,0 .5,0 .5,0 .5,0 .5,0 .5,0 .5,0 .5,0 .5,0 .5,0 .5,0 .5,0 .5,0 .5,0 .5,0 .5,0 .5,0 .5,0 .5,0 .5,0 .5,0 .5,0 .5,0 .5,0 .5,0 .5,0 .5,0 .5,0 .5,0 .5,0 .5,0 .5,0 .5,0 .5,0 .5,0 .5,0 .5,0 .5,0 .5,0 .5,0 .5,0 .5,0 .5,0 .5,0 .5,0 .5,0 .5,0 .5,0 .5,0 .5,0" fill="none" stroke="#333" stroke-width="0.45" stroke-linejoin="round" />
<path d="M388.8,96.7l.5,0 .5,0 .5,.2 .5,.4 .5,.6 .5,.9 .5,1.1 .5,1.2 .5,1.5 .5,1.5 .5,1.6 .5,1.6 .5,1.6 .5,1.5 .5,1.5 .5,1.4 .5,1.3 .5,1.2 .5,1.1 .5,.9 .5,.8 .5,.7 .5,.5 .5,.4 .5,.3 .5,.1 .5,.1 .5-.1 .5-.1 .5-.2 .5-.3 .5-.4 .5-.5 .5-.5 .5-.5 .5-.6 .5-.6 .5-.6 .5-.7 .5-.7 .5-.6 .5-.7 .5-.7 .5-.7 .5-.7 .5-.7 .5-.6 .5-.7 .5-.6 .5-.6 .5-.6 .5-.6 .5-.5 .5-.6 .5-.5 .5-.5 .5-.5 .5-.4 .5-.5 .5-.4 .5-.4 .5-.4 .5-.3 .5-.4 .5-.3 .5-.3 .5-.3 .5-.2 .5-.3 .5-.2 .5-.3 .5-.2 .5-.2 .5-.2 .5-.1 .5-.2 .5-.2 .5-.1 .5-.1 .5-.2 .5-.1 .5-.1 .5-.1 .5-.1 .5-.1 .5-.1 .5,0 .5-.1 .5-.1 .5,0 .5-.1 .5-.1 .5,0 .5-.1 .5,0 .5,0 .5-.1 .5,0 .5,0 .5-.1 .5,0 .5,0 .5,0 .5-.1 .5,0 .5,0 .5,0 .5,0 .5,0 .5-.1 .5,0 .5,0 .5,0 .5,0 .5,0 .5,0 .5,0 .5,0 .5,0 .5,0 .5,0 .5,0 .5-.1 .5,0 .5,0 .5,0 .5,0 .5,0 .5,0 .5,0 .5,0 .5,0 .5,0 .5,0 .5,0 .5,0 .5,0 .5,0 .5,0 .5,0 .5,0 .5,0 .5,0 .5,0 .5,0 .5,0 .5,0 .5,0 .5,0 .5,0 .5,0 .5,0 .5,0 .5,0 .5,0 .5,0 .5,0 .5,0 .5,0 .5,0 .5,0 .5,0 .5,0 .5,0 .5,0 .5,0 .5,0 .5,0 .5,0 .5,0 .5,0 .5,0 .5,0 .5,0 .5,0 .5,0 .5,0 .5,0 .5,0 .5,0 .5,0 .5,0 .5,0 .5,0 .5,0 .5,0 .5,0 .5,0 .5,0 .5,0 .5,0 .5,0 .5,0 .5,0 .5,0 .5,0 .5,0 .5,0 .5,0 .5,0 .5,0 .5,0 .5,0 .5,0 .5,0 .5,0 .5,0 .5,0 .5,0 .5,0 .5,0 .5,0 .5,0 .5,0 .5,0 .5,0 .5,0 .5,0 .5,0 .5,0 .5,0 .5,0 .5,0 .5,0 .5,0 .5,0 .5,0 .5,0 .5,0 .5,0 .5,0 .5,0 .5,0 .5,0 .5,0 .5,0 .5,0 .5,0 .5,0 .5,0" fill="none" stroke="#333" stroke-width="0.45" stroke-linejoin="round" />
<path d="M388.8,96.7l.5,0 .5,0 .5,.1 .5,.2 .5,.4 .5,.6 .5,.7 .5,.9 .5,1 .5,1.1 .5,1.1 .5,1.3 .5,1.2 .5,1.3 .5,1.3 .5,1.2 .5,1.1 .5,1.1 .5,1.1 .5,.9 .5,.9 .5,.7 .5,.7 .5,.6 .5,.5 .5,.3 .5,.3 .5,.2 .5,.2 .5,0 .5,0 .5-.1 .5-.2 .5-.2 .5-.3 .5-.4 .5-.3 .5-.4 .5-.5 .5-.4 .5-.5 .5-.6 .5-.5 .5-.5 .5-.6 .5-.5 .5-.6 .5-.5 .5-.6 .5-.5 .5-.5 .5-.6 .5-.5 .5-.5 .5-.5 .5-.5 .5-.4 .5-.5 .5-.4 .5-.5 .5-.4 .5-.4 .5-.3 .5-.4 .5-.4 .5-.3 .5-.3 .5-.3 .5-.3 .5-.3 .5-.3 .5-.2 .5-.2 .5-.3 .5-.2 .5-.2 .5-.2 .5-.2 .5-.1 .5-.2 .5-.1 .5-.2 .5-.1 .5-.2 .5-.1 .5-.1 .5-.1 .5-.1 .5-.1 .5-.1 .5-.1 .5,0 .5-.1 .5-.1 .5,0 .5-.1 .5-.1 .5,0 .5-.1 .5,0 .5,0 .5-.1 .5,0 .5-.1 .5,0 .5,0 .5,0 .5-.1 .5,0 .5,0 .5,0 .5-.1 .5,0 .5,0 .5,0 .5,0 .5,0 .5,0 .5-.1 .5,0 .5,0 .5,0 .5,0 .5,0 .5,0 .5,0 .5,0 .5,0 .5,0 .5,0 .5,0 .5,0 .5-.1 .5,0 .5,0 .5,0 .5,0 .5,0 .5,0 .5,0 .5,0 .5,0 .5,0 .5,0 .5,0 .5,0 .5,0 .5,0 .5,0 .5,0 .5,0 .5,0 .5,0 .5,0 .5,0 .5,0 .5,0 .5,0 .5,0 .5,0 .5,0 .5,0 .5,0 .5,0 .5,0 .5,0 .5,0 .5,0 .5,0 .5,0 .5,0 .5,0 .5,0 .5,0 .5,0 .5,0 .5,0 .5,0 .5,0 .5,0 .5,0 .5,0 .5,0 .5,0 .5,0 .5,0 .5,0 .5,0 .5,0 .5,0 .5,0 .5,0 .5,0 .5,0 .5,0 .5,0 .5,0 .5,0 .5,0 .5,0 .5,0 .5,0 .5,0 .5,0 .5,0 .5,0 .5,0 .5,0 .5,0 .5,0 .5,0 .5,0 .5,0 .5,0 .5,0 .5,0 .5,0 .5,0 .5,0 .5,0 .5,0 .5,0 .5,0 .5,0 .5,0 .5,0 .5,0 .5,0 .5,0 .5,0 .5,0 .5,0 .5,0 .5,0 .5,0 .5,0 .5,0 .5,0 .5,0 .5,0" fill="none" stroke="#333" stroke-width="0.45" stroke-linejoin="round" />
<path d="M388.8,96.7l.5,0 .5,0 .5,.1 .5,.1 .5,.2 .5,.4 .5,.4 .5,.6 .5,.7 .5,.8 .5,.8 .5,.9 .5,1 .5,.9 .5,1 .5,1 .5,1 .5,.9 .5,.9 .5,.9 .5,.8 .5,.8 .5,.6 .5,.7 .5,.5 .5,.5 .5,.4 .5,.4 .5,.2 .5,.2 .5,.2 .5,.1 .5,0 .5,0 .5-.1 .5-.1 .5-.2 .5-.2 .5-.3 .5-.2 .5-.3 .5-.4 .5-.3 .5-.4 .5-.4 .5-.4 .5-.4 .5-.4 .5-.5 .5-.4 .5-.4 .5-.5 .5-.4 .5-.5 .5-.4 .5-.4 .5-.4 .5-.4 .5-.4 .5-.4 .5-.4 .5-.4 .5-.4 .5-.3 .5-.3 .5-.4 .5-.3 .5-.3 .5-.3 .5-.3 .5-.3 .5-.2 .5-.3 .5-.2 .5-.3 .5-.2 .5-.2 .5-.2 .5-.2 .5-.2 .5-.2 .5-.1 .5-.2 .5-.1 .5-.2 .5-.1 .5-.1 .5-.2 .5-.1 .5-.1 .5-.1 .5-.1 .5-.1 .5-.1 .5,0 .5-.1 .5-.1 .5-.1 .5,0 .5-.1 .5-.1 .5,0 .5-.1 .5,0 .5-.1 .5,0 .5,0 .5-.1 .5,0 .5,0 .5-.1 .5,0 .5,0 .5,0 .5-.1 .5,0 .5,0 .5,0 .5-.1 .5,0 .5,0 .5,0 .5,0 .5,0 .5,0 .5,0 .5-.1 .5,0 .5,0 .5,0 .5,0 .5,0 .5,0 .5,0 .5,0 .5,0 .5,0 .5,0 .5,0 .5,0 .5-.1 .5,0 .5,0 .5,0 .5,0 .5,0 .5,0 .5,0 .5,0 .5,0 .5,0 .5,0 .5,0 .5,0 .5,0 .5,0 .5,0 .5,0 .5,0 .5,0 .5,0 .5,0 .5,0 .5,0 .5,0 .5,0 .5,0 .5,0 .5,0 .5,0 .5,0 .5,0 .5,0 .5,0 .5,0 .5,0 .5,0 .5,0 .5,0 .5,0 .5,0 .5,0 .5,0 .5,0 .5,0 .5,0 .5,0 .5,0 .5,0 .5,0 .5,0 .5,0 .5,0 .5,0 .5,0 .5,0 .5,0 .5,0 .5,0 .5,0 .5,0 .5,0 .5,0 .5,0 .5,0 .5,0 .5,0 .5,0 .5,0 .5,0 .5,0 .5,0 .5,0 .5,0 .5,0 .5,0 .5,0 .5,0 .5,0 .5,0 .5,0 .5,0 .5,0 .5,0 .5,0 .5,0 .5,0 .5,0 .5,0 .5,0 .5,0 .5,0 .5,0 .5,0 .5,0 .5,0 .5,0 .5,0 .5,0 .5,0" fill="none" stroke="#333" stroke-width="0.45" stroke-linejoin="round" />
<path d="M388.8,96.7l.5,0 .5,0 .5,0 .5,.1 .5,.1 .5,.3 .5,.3 .5,.3 .5,.5 .5,.5 .5,.6 .5,.6 .5,.7 .5,.7 .5,.8 .5,.7 .5,.8 .5,.7 .5,.8 .5,.7 .5,.7 .5,.6 .5,.6 .5,.6 .5,.6 .5,.5 .5,.4 .5,.4 .5,.3 .5,.3 .5,.3 .5,.2 .5,.1 .5,.1 .5,.1 .5,0 .5,0 .5-.1 .5-.1 .5-.1 .5-.1 .5-.2 .5-.2 .5-.3 .5-.2 .5-.3 .5-.2 .5-.3 .5-.3 .5-.4 .5-.3 .5-.3 .5-.3 .5-.4 .5-.3 .5-.4 .5-.3 .5-.3 .5-.4 .5-.3 .5-.3 .5-.4 .5-.3 .5-.3 .5-.3 .5-.3 .5-.3 .5-.3 .5-.3 .5-.2 .5-.3 .5-.2 .5-.3 .5-.2 .5-.2 .5-.3 .5-.2 .5-.2 .5-.2 .5-.2 .5-.1 .5-.2 .5-.2 .5-.1 .5-.2 .5-.1 .5-.2 .5-.1 .5-.1 .5-.2 .5-.1 .5-.1 .5-.1 .5-.1 .5-.1 .5-.1 .5-.1 .5,0 .5-.1 .5-.1 .5-.1 .5,0 .5-.1 .5-.1 .5,0 .5-.1 .5,0 .5-.1 .5,0 .5,0 .5-.1 .5,0 .5-.1 .5,0 .5,0 .5-.1 .5,0 .5,0 .5,0 .5-.1 .5,0 .5,0 .5,0 .5,0 .5,0 .5-.1 .5,0 .5,0 .5,0 .5,0 .5,0 .5,0 .5-.1 .5,0 .5,0 .5,0 .5,0 .5,0 .5,0 .5,0 .5,0 .5,0 .5,0 .5,0 .5,0 .5,0 .5,0 .5,0 .5-.1 .5,0 .5,0 .5,0 .5,0 .5,0 .5,0 .5,0 .5,0 .5,0 .5,0 .5,0 .5,0 .5,0 .5,0 .5,0 .5,0 .5,0 .5,0 .5,0 .5,0 .5,0 .5,0 .5,0 .5,0 .5,0 .5,0 .5,0 .5,0 .5,0 .5,0 .5,0 .5,0 .5,0 .5,0 .5,0 .5,0 .5,0 .5,0 .5,0 .5,0 .5,0 .5,0 .5,0 .5,0 .5,0 .5,0 .5,0 .5,0 .5,0 .5,0 .5,0 .5,0 .5,0 .5,0 .5,0 .5,0 .5,0 .5,0 .5,0 .5,0 .5,0 .5,0 .5,0 .5,0 .5,0 .5,0 .5,0 .5,0 .5,0 .5,0 .5,0 .5,0 .5,0 .5,0 .5,0 .5,0 .5,0 .5,0 .5,0 .5,0 .5,0 .5,0 .5,0 .5,0 .5,0 .5,0 .5,0 .5,0 .5,0 .5,0 .5,0" fill="none" stroke="#333" stroke-width="0.45" stroke-linejoin="round" />
<path d="M388.8,96.7l.5,0 .5,0 .5,0 .5,0 .5,.1 .5,.1 .5,.2 .5,.2 .5,.3 .5,.3 .5,.4 .5,.4 .5,.4 .5,.5 .5,.5 .5,.6 .5,.5 .5,.6 .5,.6 .5,.5 .5,.6 .5,.5 .5,.5 .5,.5 .5,.5 .5,.4 .5,.5 .5,.3 .5,.4 .5,.3 .5,.3 .5,.2 .5,.2 .5,.2 .5,.2 .5,.1 .5,0 .5,.1 .5,0 .5,0 .5-.1 .5,0 .5-.1 .5-.1 .5-.2 .5-.1 .5-.2 .5-.2 .5-.1 .5-.3 .5-.2 .5-.2 .5-.2 .5-.3 .5-.2 .5-.3 .5-.2 .5-.3 .5-.3 .5-.2 .5-.3 .5-.2 .5-.3 .5-.3 .5-.2 .5-.3 .5-.2 .5-.2 .5-.3 .5-.2 .5-.2 .5-.3 .5-.2 .5-.2 .5-.2 .5-.2 .5-.2 .5-.2 .5-.1 .5-.2 .5-.2 .5-.1 .5-.2 .5-.2 .5-.1 .5-.1 .5-.2 .5-.1 .5-.1 .5-.1 .5-.2 .5-.1 .5-.1 .5-.1 .5-.1 .5-.1 .5,0 .5-.1 .5-.1 .5-.1 .5,0 .5-.1 .5-.1 .5,0 .5-.1 .5-.1 .5,0 .5-.1 .5,0 .5,0 .5-.1 .5,0 .5-.1 .5,0 .5,0 .5-.1 .5,0 .5,0 .5-.1 .5,0 .5,0 .5,0 .5-.1 .5,0 .5,0 .5,0 .5,0 .5,0 .5-.1 .5,0 .5,0 .5,0 .5,0 .5,0 .5,0 .5,0 .5-.1 .5,0 .5,0 .5,0 .5,0 .5,0 .5,0 .5,0 .5,0 .5,0 .5,0 .5,0 .5,0 .5,0 .5,0 .5,0 .5-.1 .5,0 .5,0 .5,0 .5,0 .5,0 .5,0 .5,0 .5,0 .5,0 .5,0 .5,0 .5,0 .5,0 .5,0 .5,0 .5,0 .5,0 .5,0 .5,0 .5,0 .5,0 .5,0 .5,0 .5,0 .5,0 .5,0 .5,0 .5,0 .5,0 .5,0 .5,0 .5,0 .5,0 .5,0 .5,0 .5,0 .5,0 .5,0 .5,0 .5,0 .5,0 .5,0 .5,0 .5,0 .5,0 .5,0 .5,0 .5,0 .5,0 .5,0 .5,0 .5,0 .5,0 .5,0 .5,0 .5,0 .5,0 .5,0 .5,0 .5,0 .5,0 .5,0 .5,0 .5,0 .5,0 .5,0 .5,0 .5,0 .5,0 .5,0 .5,0 .5,0 .5,0 .5,0 .5,0 .5,0 .5,0 .5,0 .5,0 .5,0 .5,0 .5,0 .5,0 .5,0 .5,0 .5,0 .5,0" fill="none" stroke="#333" stroke-width="0.45" stroke-linejoin="round" />
<path d="M388.8,96.7l.5,0 .5,0 .5,0 .5,0 .5,0 .5,.1 .5,.1 .5,.1 .5,.1 .5,.2 .5,.2 .5,.2 .5,.3 .5,.3 .5,.3 .5,.3 .5,.4 .5,.4 .5,.3 .5,.4 .5,.4 .5,.4 .5,.4 .5,.3 .5,.4 .5,.4 .5,.3 .5,.3 .5,.3 .5,.3 .5,.3 .5,.2 .5,.3 .5,.2 .5,.1 .5,.2 .5,.1 .5,.2 .5,0 .5,.1 .5,.1 .5,0 .5,0 .5,0 .5,0 .5-.1 .5,0 .5-.1 .5-.1 .5-.1 .5-.1 .5-.1 .5-.2 .5-.1 .5-.1 .5-.2 .5-.2 .5-.1 .5-.2 .5-.2 .5-.2 .5-.1 .5-.2 .5-.2 .5-.2 .5-.2 .5-.1 .5-.2 .5-.2 .5-.2 .5-.2 .5-.1 .5-.2 .5-.2 .5-.1 .5-.2 .5-.2 .5-.1 .5-.2 .5-.1 .5-.2 .5-.1 .5-.2 .5-.1 .5-.1 .5-.1 .5-.2 .5-.1 .5-.1 .5-.1 .5-.1 .5-.1 .5-.1 .5-.1 .5-.1 .5-.1 .5-.1 .5-.1 .5,0 .5-.1 .5-.1 .5-.1 .5,0 .5-.1 .5,0 .5-.1 .5-.1 .5,0 .5-.1 .5,0 .5-.1 .5,0 .5,0 .5-.1 .5,0 .5-.1 .5,0 .5,0 .5-.1 .5,0 .5,0 .5,0 .5-.1 .5,0 .5,0 .5,0 .5,0 .5-.1 .5,0 .5,0 .5,0 .5,0 .5-.1 .5,0 .5,0 .5,0 .5,0 .5,0 .5,0 .5,0 .5,0 .5-.1 .5,0 .5,0 .5,0 .5,0 .5,0 .5,0 .5,0 .5,0 .5,0 .5,0 .5,0 .5,0 .5,0 .5,0 .5,0 .5,0 .5,0 .5-.1 .5,0 .5,0 .5,0 .5,0 .5,0 .5,0 .5,0 .5,0 .5,0 .5,0 .5,0 .5,0 .5,0 .5,0 .5,0 .5,0 .5,0 .5,0 .5,0 .5,0 .5,0 .5,0 .5,0 .5,0 .5,0 .5,0 .5,0 .5,0 .5,0 .5,0 .5,0 .5,0 .5,0 .5,0 .5,0 .5,0 .5,0 .5,0 .5,0 .5,0 .5,0 .5,0 .5,0 .5,0 .5,0 .5,0 .5,0 .5,0 .5,0 .5,0 .5,0 .5,0 .5,0 .5,0 .5,0 .5,0 .5,0 .5,0 .5,0 .5,0 .5,0 .5,0 .5,0 .5,0 .5,0 .5,0 .5,0 .5,0 .5,0 .5,0 .5,0 .5,0 .5,0 .5,0 .5,0 .5,0 .5,0 .5,0 .5,0 .5,0" fill="none" stroke="#333" stroke-width="0.45" stroke-linejoin="round" />
<path d="M388.8,96.7l.5,0 .5,0 .5,0 .5,0 .5,0 .5,0 .5,.1 .5,0 .5,.1 .5,.1 .5,.1 .5,.1 .5,.1 .5,.2 .5,.1 .5,.2 .5,.2 .5,.2 .5,.2 .5,.2 .5,.3 .5,.2 .5,.2 .5,.3 .5,.2 .5,.3 .5,.2 .5,.2 .5,.2 .5,.2 .5,.2 .5,.2 .5,.2 .5,.2 .5,.1 .5,.2 .5,.1 .5,.1 .5,.1 .5,.1 .5,.1 .5,.1 .5,0 .5,0 .5,.1 .5,0 .5,0 .5,0 .5,0 .5,0 .5-.1 .5,0 .5-.1 .5,0 .5-.1 .5-.1 .5-.1 .5,0 .5-.1 .5-.1 .5-.1 .5-.1 .5-.1 .5-.1 .5-.1 .5-.2 .5-.1 .5-.1 .5-.1 .5-.1 .5-.1 .5-.1 .5-.2 .5-.1 .5-.1 .5-.1 .5-.1 .5-.1 .5-.1 .5-.1 .5-.1 .5-.1 .5-.1 .5-.1 .5-.1 .5-.1 .5-.1 .5-.1 .5-.1 .5-.1 .5-.1 .5-.1 .5,0 .5-.1 .5-.1 .5-.1 .5,0 .5-.1 .5-.1 .5,0 .5-.1 .5,0 .5-.1 .5,0 .5-.1 .5,0 .5-.1 .5,0 .5-.1 .5,0 .5-.1 .5,0 .5,0 .5-.1 .5,0 .5,0 .5-.1 .5,0 .5,0 .5-.1 .5,0 .5,0 .5,0 .5-.1 .5,0 .5,0 .5,0 .5,0 .5-.1 .5,0 .5,0 .5,0 .5,0 .5,0 .5-.1 .5,0 .5,0 .5,0 .5,0 .5,0 .5,0 .5,0 .5,0 .5-.1 .5,0 .5,0 .5,0 .5,0 .5,0 .5,0 .5,0 .5,0 .5,0 .5,0 .5,0 .5,0 .5,0 .5,0 .5,0 .5,0 .5,0 .5,0 .5-.1 .5,0 .5,0 .5,0 .5,0 .5,0 .5,0 .5,0 .5,0 .5,0 .5,0 .5,0 .5,0 .5,0 .5,0 .5,0 .5,0 .5,0 .5,0 .5,0 .5,0 .5,0 .5,0 .5,0 .5,0 .5,0 .5,0 .5,0 .5,0 .5,0 .5,0 .5,0 .5,0 .5,0 .5,0 .5,0 .5,0 .5,0 .5,0 .5,0 .5,0 .5,0 .5,0 .5,0 .5,0 .5,0 .5,0 .5,0 .5,0 .5,0 .5,0 .5,0 .5,0 .5,0 .5,0 .5,0 .5,0 .5,0 .5,0 .5,0 .5,0 .5,0 .5,0 .5,0 .5,0 .5,0 .5,0 .5,0 .5,0 .5,0 .5,0 .5,0 .5,0 .5,0 .5,0 .5,0 .5,0 .5,0" fill="none" stroke="#333" stroke-width="0.45" stroke-linejoin="round" />
<path d="M388.8,96.7l.5,0 .5,0 .5,0 .5,0 .5,0 .5,0 .5,0 .5,0 .5,.1 .5,0 .5,.1 .5,0 .5,.1 .5,.1 .5,0 .5,.1 .5,.1 .5,.1 .5,.2 .5,.1 .5,.1 .5,.2 .5,.1 .5,.2 .5,.1 .5,.1 .5,.2 .5,.1 .5,.2 .5,.1 .5,.2 .5,.1 .5,.1 .5,.2 .5,.1 .5,.1 .5,.1 .5,.1 .5,.1 .5,.1 .5,0 .5,.1 .5,.1 .5,0 .5,.1 .5,0 .5,0 .5,.1 .5,0 .5,0 .5,0 .5,0 .5,0 .5,0 .5,0 .5-.1 .5,0 .5,0 .5-.1 .5,0 .5-.1 .5,0 .5-.1 .5,0 .5-.1 .5-.1 .5,0 .5-.1 .5-.1 .5,0 .5-.1 .5-.1 .5,0 .5-.1 .5-.1 .5-.1 .5,0 .5-.1 .5-.1 .5-.1 .5,0 .5-.1 .5-.1 .5,0 .5-.1 .5-.1 .5,0 .5-.1 .5-.1 .5,0 .5-.1 .5,0 .5-.1 .5-.1 .5,0 .5-.1 .5,0 .5-.1 .5,0 .5-.1 .5,0 .5-.1 .5,0 .5-.1 .5,0 .5,0 .5-.1 .5,0 .5-.1 .5,0 .5,0 .5-.1 .5,0 .5,0 .5-.1 .5,0 .5,0 .5,0 .5-.1 .5,0 .5,0 .5,0 .5-.1 .5,0 .5,0 .5,0 .5,0 .5,0 .5-.1 .5,0 .5,0 .5,0 .5,0 .5,0 .5-.1 .5,0 .5,0 .5,0 .5,0 .5,0 .5,0 .5,0 .5,0 .5,0 .5-.1 .5,0 .5,0 .5,0 .5,0 .5,0 .5,0 .5,0 .5,0 .5,0 .5,0 .5,0 .5,0 .5,0 .5,0 .5,0 .5,0 .5,0 .5,0 .5,0 .5,0 .5-.1 .5,0 .5,0 .5,0 .5,0 .5,0 .5,0 .5,0 .5,0 .5,0 .5,0 .5,0 .5,0 .5,0 .5,0 .5,0 .5,0 .5,0 .5,0 .5,0 .5,0 .5,0 .5,0 .5,0 .5,0 .5,0 .5,0 .5,0 .5,0 .5,0 .5,0 .5,0 .5,0 .5,0 .5,0 .5,0 .5,0 .5,0 .5,0 .5,0 .5,0 .5,0 .5,0 .5,0 .5,0 .5,0 .5,0 .5,0 .5,0 .5,0 .5,0 .5,0 .5,0 .5,0 .5,0 .5,0 .5,0 .5,0 .5,0 .5,0 .5,0 .5,0 .5,0 .5,0 .5,0 .5,0 .5,0 .5,0 .5,0 .5,0 .5,0 .5,0 .5,0 .5,0 .5,0" fill="none" stroke="#333" stroke-width="0.45" stroke-linejoin="round" />
<path d="M388.8,96.7l.5,0 .5,0 .5,0 .5,0 .5,0 .5,0 .5,0 .5,0 .5,0 .5,0 .5,.1 .5,0 .5,0 .5,0 .5,.1 .5,0 .5,.1 .5,0 .5,.1 .5,0 .5,.1 .5,0 .5,.1 .5,.1 .5,0 .5,.1 .5,.1 .5,0 .5,.1 .5,.1 .5,0 .5,.1 .5,.1 .5,0 .5,.1 .5,0 .5,.1 .5,.1 .5,0 .5,.1 .5,0 .5,0 .5,.1 .5,0 .5,0 .5,.1 .5,0 .5,0 .5,0 .5,.1 .5,0 .5,0 .5,0 .5,0 .5,0 .5,0 .5,0 .5,0 .5,0 .5,0 .5,0 .5-.1 .5,0 .5,0 .5,0 .5,0 .5-.1 .5,0 .5,0 .5,0 .5-.1 .5,0 .5,0 .5-.1 .5,0 .5,0 .5-.1 .5,0 .5,0 .5-.1 .5,0 .5,0 .5-.1 .5,0 .5,0 .5-.1 .5,0 .5,0 .5-.1 .5,0 .5,0 .5-.1 .5,0 .5,0 .5-.1 .5,0 .5,0 .5,0 .5-.1 .5,0 .5,0 .5,0 .5-.1 .5,0 .5,0 .5,0 .5-.1 .5,0 .5,0 .5,0 .5-.1 .5,0 .5,0 .5,0 .5,0 .5-.1 .5,0 .5,0 .5,0 .5,0 .5,0 .5,0 .5-.1 .5,0 .5,0 .5,0 .5,0 .5,0 .5,0 .5,0 .5-.1 .5,0 .5,0 .5,0 .5,0 .5,0 .5,0 .5,0 .5,0 .5,0 .5,0 .5-.1 .5,0 .5,0 .5,0 .5,0 .5,0 .5,0 .5,0 .5,0 .5,0 .5,0 .5,0 .5,0 .5,0 .5,0 .5,0 .5,0 .5,0 .5,0 .5,0 .5,0 .5,0 .5,0 .5-.1 .5,0 .5,0 .5,0 .5,0 .5,0 .5,0 .5,0 .5,0 .5,0 .5,0 .5,0 .5,0 .5,0 .5,0 .5,0 .5,0 .5,0 .5,0 .5,0 .5,0 .5,0 .5,0 .5,0 .5,0 .5,0 .5,0 .5,0 .5,0 .5,0 .5,0 .5,0 .5,0 .5,0 .5,0 .5,0 .5,0 .5,0 .5,0 .5,0 .5,0 .5,0 .5,0 .5,0 .5,0 .5,0 .5,0 .5,0 .5,0 .5,0 .5,0 .5,0 .5,0 .5,0 .5,0 .5,0 .5,0 .5,0 .5,0 .5,0 .5,0 .5,0 .5,0 .5,0 .5,0 .5,0 .5,0 .5,0 .5,0 .5,0 .5,0 .5,0 .5,0 .5,0 .5,0 .5,0" fill="none" stroke="#333" stroke-width="0.45" stroke-linejoin="round" />
<path d="M388.8,96.7l.5,0 .5-46.7 .5-18.5 .5-4.8 .5,1.7 .5,4.5 .5,5.6 .5,5.7 .5,5.5 .5,5 .5,4.6 .5,4.2 .5,3.7 .5,3.3 .5,2.9 .5,2.6 .5,2.3 .5,2.1 .5,1.8 .5,1.7 .5,1.4 .5,1.3 .5,1.1 .5,1 .5,.9 .5,.8 .5,.7 .5,.6 .5,.6 .5,.5 .5,.4 .5,.4 .5,.4 .5,.3 .5,.2 .5,.3 .5,.2 .5,.2 .5,.2 .5,.1 .5,.1 .5,.2 .5,.1 .5,.1 .5,0 .5,.1 .5,.1 .5,0 .5,.1 .5,0 .5,.1 .5,0 .5,0 .5,.1 .5,0 .5,0 .5,0 .5,.1 .5,0 .5,0 .5,0 .5,0 .5,0 .5,0 .5,0 .5,0 .5,.1 .5,0 .5,0 .5,0 .5,0 .5,0 .5,0 .5,0 .5,0 .5,0 .5,0 .5,0 .5,0 .5,0 .5,0 .5,0 .5,0 .5,0 .5,0 .5,0 .5,0 .5,0 .5,0 .5,0 .5,0 .5,0 .5,0 .5,0 .5,0 .5,0 .5,0 .5,0 .5,0 .5,0 .5,0 .5,0 .5,0 .5,0 .5,0 .5,0 .5,0 .5,0 .5,0 .5,0 .5,0 .5,0 .5,0 .5,0 .5,0 .5,0 .5,0 .5,0 .5,0 .5,0 .5,0 .5,0 .5,0 .5,0 .5,0 .5,0 .5,0 .5,0 .5,0 .5,0 .5,0 .5,0 .5,0 .5,0 .5,0 .5,0 .5,0 .5,0 .5,0 .5,0 .5,0 .5,0 .5,0 .5,0 .5,0 .5,0 .5,0 .5,0 .5,0 .5,0 .5,0 .5,0 .5,0 .5,0 .5,0 .5,0 .5,0 .5,0 .5,0 .5,0 .5,0 .5,0 .5,0 .5,0 .5,0 .5,0 .5,0 .5,0 .5,0 .5,0 .5,0 .5,0 .5,0 .5,0 .5,0 .5,0 .5,0 .5,0 .5,0 .5,0 .5,0 .5,0 .5,0 .5,0 .5,0 .5,0 .5,0 .5,0 .5,0 .5,0 .5,0 .5,0 .5,0 .5,0 .5,0 .5,0 .5,0 .5,0 .5,0 .5,0" fill="none" stroke="#333" stroke-width="0.45" stroke-linejoin="round" />
<path d="M388.8,96.7l.5,0 .5-40.1 .5-16.8 .5-5.1 .5,.6 .5,3.2 .5,4.3 .5,4.5 .5,4.5 .5,4.3 .5,3.9 .5,3.6 .5,3.2 .5,2.9 .5,2.7 .5,2.4 .5,2.2 .5,1.9 .5,1.8 .5,1.6 .5,1.4 .5,1.3 .5,1.1 .5,1.1 .5,.9 .5,.9 .5,.7 .5,.7 .5,.6 .5,.6 .5,.5 .5,.5 .5,.4 .5,.3 .5,.4 .5,.3 .5,.2 .5,.3 .5,.2 .5,.2 .5,.2 .5,.1 .5,.2 .5,.1 .5,.1 .5,.1 .5,.1 .5,.1 .5,.1 .5,.1 .5,0 .5,.1 .5,0 .5,.1 .5,0 .5,.1 .5,0 .5,0 .5,.1 .5,0 .5,0 .5,0 .5,0 .5,.1 .5,0 .5,0 .5,0 .5,0 .5,0 .5,0 .5,0 .5,0 .5,0 .5,0 .5,.1 .5,0 .5,0 .5,0 .5,0 .5,0 .5,0 .5,0 .5,0 .5,0 .5,0 .5,0 .5,0 .5,0 .5,0 .5,0 .5,0 .5,0 .5,0 .5,0 .5,0 .5,0 .5,0 .5,0 .5,0 .5,0 .5,0 .5,0 .5,0 .5,0 .5,0 .5,0 .5,0 .5,0 .5,0 .5,0 .5,0 .5,0 .5,0 .5,0 .5,0 .5,0 .5,0 .5,0 .5,0 .5,0 .5,0 .5,0 .5,0 .5,0 .5,0 .5,0 .5,0 .5,0 .5,0 .5,0 .5,0 .5,0 .5,0 .5,0 .5,0 .5,0 .5,0 .5,0 .5,0 .5,0 .5,0 .5,0 .5,0 .5,0 .5,0 .5,0 .5,0 .5,0 .5,0 .5,0 .5,0 .5,0 .5,0 .5,0 .5,0 .5,0 .5,0 .5,0 .5,0 .5,0 .5,0 .5,0 .5,0 .5,0 .5,0 .5,0 .5,0 .5,0 .5,0 .5,0 .5,0 .5,0 .5,0 .5,0 .5,0 .5,0 .5,0 .5,0 .5,0 .5,0 .5,0 .5,0 .5,0 .5,0 .5,0 .5,0 .5,0 .5,0 .5,0 .5,0 .5,0 .5,0 .5,0 .5,0 .5,0 .5,0 .5,0 .5,0 .5,0 .5,0" fill="none" stroke="#333" stroke-width="0.45" stroke-linejoin="round" />
<path d="M388.8,96.7l.5,0 .5-34.1 .5-14.8 .5-5 .5-.1 .5,2.2 .5,3.3 .5,3.6 .5,3.6 .5,3.4 .5,3.3 .5,3 .5,2.8 .5,2.5 .5,2.3 .5,2.1 .5,2 .5,1.7 .5,1.6 .5,1.5 .5,1.3 .5,1.3 .5,1.1 .5,1 .5,.9 .5,.8 .5,.8 .5,.7 .5,.6 .5,.6 .5,.5 .5,.5 .5,.5 .5,.4 .5,.3 .5,.4 .5,.3 .5,.2 .5,.3 .5,.2 .5,.2 .5,.2 .5,.2 .5,.2 .5,.1 .5,.1 .5,.2 .5,.1 .5,.1 .5,.1 .5,0 .5,.1 .5,.1 .5,.1 .5,0 .5,.1 .5,0 .5,.1 .5,0 .5,0 .5,.1 .5,0 .5,0 .5,0 .5,.1 .5,0 .5,0 .5,0 .5,0 .5,.1 .5,0 .5,0 .5,0 .5,0 .5,0 .5,0 .5,0 .5,0 .5,0 .5,0 .5,0 .5,.1 .5,0 .5,0 .5,0 .5,0 .5,0 .5,0 .5,0 .5,0 .5,0 .5,0 .5,0 .5,0 .5,0 .5,0 .5,0 .5,0 .5,0 .5,0 .5,0 .5,0 .5,0 .5,0 .5,0 .5,0 .5,0 .5,0 .5,0 .5,0 .5,0 .5,0 .5,0 .5,0 .5,0 .5,0 .5,0 .5,0 .5,0 .5,0 .5,0 .5,0 .5,0 .5,0 .5,0 .5,0 .5,0 .5,0 .5,0 .5,0 .5,0 .5,0 .5,0 .5,0 .5,0 .5,0 .5,0 .5,0 .5,0 .5,0 .5,0 .5,0 .5,0 .5,0 .5,0 .5,0 .5,0 .5,0 .5,0 .5,0 .5,0 .5,0 .5,0 .5,0 .5,0 .5,0 .5,0 .5,0 .5,0 .5,0 .5,0 .5,0 .5,0 .5,0 .5,0 .5,0 .5,0 .5,0 .5,0 .5,0 .5,0 .5,0 .5,0 .5,0 .5,0 .5,0 .5,0 .5,0 .5,0 .5,0 .5,0 .5,0 .5,0 .5,0 .5,0 .5,0 .5,0 .5,0 .5,0 .5,0 .5,0 .5,0 .5,0 .5,0 .5,0 .5,0 .5,0 .5,0 .5,0 .5,0" fill="none" stroke="#333" stroke-width="0.45" stroke-linejoin="round" />
<path d="M388.8,96.7l.5,0 .5-28.2 .5-12.7 .5-4.6 .5-.5 .5,1.5 .5,2.4 .5,2.7 .5,2.9 .5,2.7 .5,2.6 .5,2.5 .5,2.2 .5,2.1 .5,2 .5,1.8 .5,1.6 .5,1.5 .5,1.4 .5,1.3 .5,1.2 .5,1.1 .5,1 .5,.9 .5,.9 .5,.7 .5,.8 .5,.6 .5,.6 .5,.6 .5,.5 .5,.5 .5,.4 .5,.4 .5,.4 .5,.3 .5,.3 .5,.3 .5,.3 .5,.2 .5,.2 .5,.2 .5,.2 .5,.2 .5,.2 .5,.1 .5,.1 .5,.2 .5,.1 .5,.1 .5,.1 .5,.1 .5,.1 .5,0 .5,.1 .5,.1 .5,0 .5,.1 .5,0 .5,.1 .5,0 .5,.1 .5,0 .5,0 .5,.1 .5,0 .5,0 .5,0 .5,.1 .5,0 .5,0 .5,0 .5,0 .5,0 .5,0 .5,.1 .5,0 .5,0 .5,0 .5,0 .5,0 .5,0 .5,0 .5,0 .5,0 .5,0 .5,0 .5,0 .5,.1 .5,0 .5,0 .5,0 .5,0 .5,0 .5,0 .5,0 .5,0 .5,0 .5,0 .5,0 .5,0 .5,0 .5,0 .5,0 .5,0 .5,0 .5,0 .5,0 .5,0 .5,0 .5,0 .5,0 .5,0 .5,0 .5,0 .5,0 .5,0 .5,0 .5,0 .5,0 .5,0 .5,0 .5,0 .5,0 .5,0 .5,0 .5,0 .5,0 .5,0 .5,0 .5,0 .5,0 .5,0 .5,0 .5,0 .5,0 .5,0 .5,0 .5,0 .5,0 .5,0 .5,0 .5,0 .5,0 .5,0 .5,0 .5,0 .5,0 .5,0 .5,0 .5,0 .5,0 .5,0 .5,0 .5,0 .5,0 .5,0 .5,0 .5,0 .5,0 .5,0 .5,0 .5,0 .5,0 .5,0 .5,0 .5,0 .5,0 .5,0 .5,0 .5,0 .5,0 .5,0 .5,0 .5,0 .5,0 .5,0 .5,0 .5,0 .5,0 .5,0 .5,0 .5,0 .5,0 .5,0 .5,0 .5,0 .5,0 .5,0 .5,0 .5,0 .5,0 .5,0 .5,0 .5,0 .5,0 .5,0 .5,0 .5,0 .5,0" fill="none" stroke="#333" stroke-width="0.45" stroke-linejoin="round" />
<path d="M388.8,96.7l.5,0 .5-22.8 .5-10.5 .5-4 .5-.7 .5,.9 .5,1.8 .5,2 .5,2.2 .5,2.1 .5,2.1 .5,1.9 .5,1.8 .5,1.7 .5,1.5 .5,1.5 .5,1.3 .5,1.3 .5,1.1 .5,1.1 .5,1 .5,.9 .5,.9 .5,.8 .5,.7 .5,.7 .5,.7 .5,.5 .5,.6 .5,.5 .5,.5 .5,.4 .5,.4 .5,.4 .5,.3 .5,.3 .5,.3 .5,.3 .5,.3 .5,.2 .5,.2 .5,.2 .5,.2 .5,.2 .5,.1 .5,.2 .5,.1 .5,.2 .5,.1 .5,.1 .5,.1 .5,.1 .5,.1 .5,.1 .5,0 .5,.1 .5,.1 .5,0 .5,.1 .5,0 .5,.1 .5,0 .5,.1 .5,0 .5,0 .5,.1 .5,0 .5,0 .5,.1 .5,0 .5,0 .5,0 .5,.1 .5,0 .5,0 .5,0 .5,0 .5,0 .5,0 .5,.1 .5,0 .5,0 .5,0 .5,0 .5,0 .5,0 .5,0 .5,0 .5,0 .5,0 .5,0 .5,0 .5,0 .5,0 .5,.1 .5,0 .5,0 .5,0 .5,0 .5,0 .5,0 .5,0 .5,0 .5,0 .5,0 .5,0 .5,0 .5,0 .5,0 .5,0 .5,0 .5,0 .5,0 .5,0 .5,0 .5,0 .5,0 .5,0 .5,0 .5,0 .5,0 .5,0 .5,0 .5,0 .5,0 .5,0 .5,0 .5,0 .5,0 .5,0 .5,0 .5,0 .5,0 .5,0 .5,0 .5,0 .5,0 .5,0 .5,0 .5,0 .5,0 .5,0 .5,0 .5,0 .5,0 .5,0 .5,0 .5,0 .5,0 .5,0 .5,0 .5,0 .5,0 .5,0 .5,0 .5,0 .5,0 .5,0 .5,0 .5,0 .5,0 .5,0 .5,0 .5,0 .5,0 .5,0 .5,0 .5,0 .5,0 .5,0 .5,0 .5,0 .5,0 .5,0 .5,0 .5,0 .5,0 .5,0 .5,0 .5,0 .5,0 .5,0 .5,0 .5,0 .5,0 .5,0 .5,0 .5,0 .5,0 .5,0 .5,0 .5,0 .5,0 .5,0 .5,0 .5,0 .5,0 .5,0 .5,0 .5,0" fill="none" stroke="#333" stroke-width="0.45" stroke-linejoin="round" />
<path d="M388.8,96.7l.5,0 .5-18.3 .5-8.5 .5-3.4 .5-.8 .5,.6 .5,1.2 .5,1.5 .5,1.7 .5,1.6 .5,1.6 .5,1.5 .5,1.4 .5,1.3 .5,1.2 .5,1.2 .5,1.1 .5,1 .5,1 .5,.8 .5,.9 .5,.7 .5,.7 .5,.7 .5,.6 .5,.6 .5,.6 .5,.5 .5,.4 .5,.5 .5,.4 .5,.4 .5,.3 .5,.4 .5,.3 .5,.3 .5,.2 .5,.3 .5,.2 .5,.2 .5,.2 .5,.2 .5,.2 .5,.2 .5,.1 .5,.2 .5,.1 .5,.1 .5,.2 .5,.1 .5,.1 .5,.1 .5,.1 .5,0 .5,.1 .5,.1 .5,.1 .5,0 .5,.1 .5,0 .5,.1 .5,0 .5,.1 .5,0 .5,.1 .5,0 .5,0 .5,.1 .5,0 .5,0 .5,0 .5,.1 .5,0 .5,0 .5,0 .5,0 .5,.1 .5,0 .5,0 .5,0 .5,0 .5,0 .5,0 .5,.1 .5,0 .5,0 .5,0 .5,0 .5,0 .5,0 .5,0 .5,0 .5,0 .5,0 .5,0 .5,0 .5,0 .5,0 .5,0 .5,.1 .5,0 .5,0 .5,0 .5,0 .5,0 .5,0 .5,0 .5,0 .5,0 .5,0 .5,0 .5,0 .5,0 .5,0 .5,0 .5,0 .5,0 .5,0 .5,0 .5,0 .5,0 .5,0 .5,0 .5,0 .5,0 .5,0 .5,0 .5,0 .5,0 .5,0 .5,0 .5,0 .5,0 .5,0 .5,0 .5,0 .5,0 .5,0 .5,0 .5,0 .5,0 .5,0 .5,0 .5,0 .5,0 .5,0 .5,0 .5,0 .5,0 .5,0 .5,0 .5,0 .5,0 .5,0 .5,0 .5,0 .5,0 .5,0 .5,0 .5,0 .5,0 .5,0 .5,0 .5,0 .5,0 .5,0 .5,0 .5,0 .5,0 .5,0 .5,0 .5,0 .5,0 .5,0 .5,0 .5,0 .5,0 .5,0 .5,0 .5,0 .5,0 .5,0 .5,0 .5,0 .5,0 .5,0 .5,0 .5,0 .5,0 .5,0 .5,0 .5,0 .5,0 .5,0 .5,0 .5,0 .5,0 .5,0 .5,0 .5,0" fill="none" stroke="#333" stroke-width="0.45" stroke-linejoin="round" />
<path d="M388.8,96.7l.5,0 .5-13.9 .5-6.6 .5-2.8 .5-.7 .5,.3 .5,.9 .5,1 .5,1.2 .5,1.2 .5,1.1 .5,1.2 .5,1 .5,1 .5,.9 .5,.9 .5,.8 .5,.8 .5,.7 .5,.7 .5,.6 .5,.6 .5,.6 .5,.5 .5,.5 .5,.5 .5,.4 .5,.4 .5,.4 .5,.4 .5,.3 .5,.3 .5,.3 .5,.3 .5,.3 .5,.2 .5,.2 .5,.3 .5,.2 .5,.1 .5,.2 .5,.2 .5,.1 .5,.2 .5,.1 .5,.2 .5,.1 .5,.1 .5,.1 .5,.1 .5,.1 .5,.1 .5,.1 .5,0 .5,.1 .5,.1 .5,0 .5,.1 .5,.1 .5,0 .5,.1 .5,0 .5,0 .5,.1 .5,0 .5,.1 .5,0 .5,0 .5,.1 .5,0 .5,0 .5,0 .5,.1 .5,0 .5,0 .5,0 .5,0 .5,.1 .5,0 .5,0 .5,0 .5,0 .5,0 .5,0 .5,0 .5,.1 .5,0 .5,0 .5,0 .5,0 .5,0 .5,0 .5,0 .5,0 .5,0 .5,0 .5,0 .5,0 .5,0 .5,0 .5,0 .5,0 .5,0 .5,.1 .5,0 .5,0 .5,0 .5,0 .5,0 .5,0 .5,0 .5,0 .5,0 .5,0 .5,0 .5,0 .5,0 .5,0 .5,0 .5,0 .5,0 .5,0 .5,0 .5,0 .5,0 .5,0 .5,0 .5,0 .5,0 .5,0 .5,0 .5,0 .5,0 .5,0 .5,0 .5,0 .5,0 .5,0 .5,0 .5,0 .5,0 .5,0 .5,0 .5,0 .5,0 .5,0 .5,0 .5,0 .5,0 .5,0 .5,0 .5,0 .5,0 .5,0 .5,0 .5,0 .5,0 .5,0 .5,0 .5,0 .5,0 .5,0 .5,0 .5,0 .5,0 .5,0 .5,0 .5,0 .5,0 .5,0 .5,0 .5,0 .5,0 .5,0 .5,0 .5,0 .5,0 .5,0 .5,0 .5,0 .5,0 .5,0 .5,0 .5,0 .5,0 .5,0 .5,0 .5,0 .5,0 .5,0 .5,0 .5,0 .5,0 .5,0 .5,0 .5,0 .5,0 .5,0 .5,0 .5,0" fill="none" stroke="#333" stroke-width="0.45" stroke-linejoin="round" />
<path d="M388.8,96.7l.5,0 .5-10.3 .5-5 .5-2.1 .5-.6 .5,.2 .5,.5 .5,.8 .5,.8 .5,.8 .5,.8 .5,.8 .5,.8 .5,.7 .5,.7 .5,.6 .5,.6 .5,.6 .5,.5 .5,.5 .5,.5 .5,.5 .5,.4 .5,.4 .5,.4 .5,.3 .5,.4 .5,.3 .5,.3 .5,.2 .5,.3 .5,.3 .5,.2 .5,.2 .5,.2 .5,.2 .5,.2 .5,.2 .5,.1 .5,.2 .5,.1 .5,.2 .5,.1 .5,.1 .5,.1 .5,.1 .5,.1 .5,.1 .5,.1 .5,.1 .5,.1 .5,.1 .5,0 .5,.1 .5,.1 .5,0 .5,.1 .5,0 .5,.1 .5,0 .5,.1 .5,0 .5,.1 .5,0 .5,0 .5,.1 .5,0 .5,0 .5,.1 .5,0 .5,0 .5,0 .5,0 .5,.1 .5,0 .5,0 .5,0 .5,0 .5,.1 .5,0 .5,0 .5,0 .5,0 .5,0 .5,0 .5,0 .5,0 .5,.1 .5,0 .5,0 .5,0 .5,0 .5,0 .5,0 .5,0 .5,0 .5,0 .5,0 .5,0 .5,0 .5,0 .5,0 .5,0 .5,0 .5,0 .5,.1 .5,0 .5,0 .5,0 .5,0 .5,0 .5,0 .5,0 .5,0 .5,0 .5,0 .5,0 .5,0 .5,0 .5,0 .5,0 .5,0 .5,0 .5,0 .5,0 .5,0 .5,0 .5,0 .5,0 .5,0 .5,0 .5,0 .5,0 .5,0 .5,0 .5,0 .5,0 .5,0 .5,0 .5,0 .5,0 .5,0 .5,0 .5,0 .5,0 .5,0 .5,0 .5,0 .5,0 .5,0 .5,0 .5,0 .5,0 .5,0 .5,0 .5,0 .5,0 .5,0 .5,0 .5,0 .5,0 .5,0 .5,0 .5,0 .5,0 .5,0 .5,0 .5,0 .5,0 .5,0 .5,0 .5,0 .5,0 .5,0 .5,0 .5,0 .5,0 .5,0 .5,0 .5,0 .5,0 .5,0 .5,0 .5,0 .5,0 .5,0 .5,0 .5,0 .5,0 .5,0 .5,0 .5,0 .5,0 .5,0 .5,0 .5,0 .5,0 .5,0 .5,0 .5,0" fill="none" stroke="#333" stroke-width="0.45" stroke-linejoin="round" />
<path d="M388.8,96.7l.5,0 .5-6.8 .5-3.3 .5-1.4 .5-.5 .5,.1 .5,.3 .5,.4 .5,.5 .5,.6 .5,.5 .5,.5 .5,.5 .5,.4 .5,.5 .5,.4 .5,.4 .5,.4 .5,.3 .5,.4 .5,.3 .5,.3 .5,.2 .5,.3 .5,.3 .5,.2 .5,.2 .5,.2 .5,.3 .5,.1 .5,.2 .5,.2 .5,.2 .5,.1 .5,.2 .5,.1 .5,.1 .5,.1 .5,.2 .5,.1 .5,.1 .5,.1 .5,.1 .5,.1 .5,0 .5,.1 .5,.1 .5,.1 .5,0 .5,.1 .5,.1 .5,0 .5,.1 .5,0 .5,.1 .5,0 .5,.1 .5,0 .5,0 .5,.1 .5,0 .5,0 .5,.1 .5,0 .5,0 .5,0 .5,.1 .5,0 .5,0 .5,0 .5,.1 .5,0 .5,0 .5,0 .5,0 .5,0 .5,.1 .5,0 .5,0 .5,0 .5,0 .5,0 .5,0 .5,0 .5,0 .5,.1 .5,0 .5,0 .5,0 .5,0 .5,0 .5,0 .5,0 .5,0 .5,0 .5,0 .5,0 .5,0 .5,0 .5,0 .5,0 .5,0 .5,0 .5,0 .5,0 .5,.1 .5,0 .5,0 .5,0 .5,0 .5,0 .5,0 .5,0 .5,0 .5,0 .5,0 .5,0 .5,0 .5,0 .5,0 .5,0 .5,0 .5,0 .5,0 .5,0 .5,0 .5,0 .5,0 .5,0 .5,0 .5,0 .5,0 .5,0 .5,0 .5,0 .5,0 .5,0 .5,0 .5,0 .5,0 .5,0 .5,0 .5,0 .5,0 .5,0 .5,0 .5,0 .5,0 .5,0 .5,0 .5,0 .5,0 .5,0 .5,0 .5,0 .5,0 .5,0 .5,0 .5,0 .5,0 .5,0 .5,0 .5,0 .5,0 .5,0 .5,0 .5,0 .5,0 .5,0 .5,0 .5,0 .5,0 .5,0 .5,0 .5,0 .5,0 .5,0 .5,0 .5,0 .5,0 .5,0 .5,0 .5,0 .5,0 .5,0 .5,0 .5,0 .5,0 .5,0 .5,0 .5,0 .5,0 .5,0 .5,0 .5,0 .5,0 .5,0 .5,0 .5,0 .5,0" fill="none" stroke="#333" stroke-width="0.45" stroke-linejoin="round" />
<path d="M388.8,96.7l.5,0 .5-3.9 .5-1.9 .5-.9 .5-.3 .5,0 .5,.2 .5,.2 .5,.3 .5,.3 .5,.3 .5,.3 .5,.2 .5,.3 .5,.2 .5,.3 .5,.2 .5,.2 .5,.2 .5,.2 .5,.2 .5,.2 .5,.1 .5,.2 .5,.1 .5,.2 .5,.1 .5,.1 .5,.2 .5,.1 .5,.1 .5,.1 .5,.1 .5,.1 .5,.1 .5,0 .5,.1 .5,.1 .5,.1 .5,0 .5,.1 .5,.1 .5,0 .5,.1 .5,0 .5,.1 .5,0 .5,.1 .5,0 .5,0 .5,.1 .5,0 .5,.1 .5,0 .5,0 .5,0 .5,.1 .5,0 .5,0 .5,.1 .5,0 .5,0 .5,0 .5,0 .5,.1 .5,0 .5,0 .5,0 .5,0 .5,0 .5,0 .5,.1 .5,0 .5,0 .5,0 .5,0 .5,0 .5,0 .5,0 .5,0 .5,.1 .5,0 .5,0 .5,0 .5,0 .5,0 .5,0 .5,0 .5,0 .5,0 .5,0 .5,0 .5,0 .5,0 .5,0 .5,0 .5,0 .5,0 .5,0 .5,0 .5,0 .5,0 .5,.1 .5,0 .5,0 .5,0 .5,0 .5,0 .5,0 .5,0 .5,0 .5,0 .5,0 .5,0 .5,0 .5,0 .5,0 .5,0 .5,0 .5,0 .5,0 .5,0 .5,0 .5,0 .5,0 .5,0 .5,0 .5,0 .5,0 .5,0 .5,0 .5,0 .5,0 .5,0 .5,0 .5,0 .5,0 .5,0 .5,0 .5,0 .5,0 .5,0 .5,0 .5,0 .5,0 .5,0 .5,0 .5,0 .5,0 .5,0 .5,0 .5,0 .5,0 .5,0 .5,0 .5,0 .5,0 .5,0 .5,0 .5,0 .5,0 .5,0 .5,0 .5,0 .5,0 .5,0 .5,0 .5,0 .5,0 .5,0 .5,0 .5,0 .5,0 .5,0 .5,0 .5,0 .5,0 .5,0 .5,0 .5,0 .5,0 .5,0 .5,0 .5,0 .5,0 .5,0 .5,0 .5,0 .5,0 .5,0 .5,0 .5,0 .5,0 .5,0 .5,0 .5,0 .5,0 .5,0 .5,0 .5,0" fill="none" stroke="#333" stroke-width="0.45" stroke-linejoin="round" />
<path d="M388.8,96.7l.5,0 .5-1.7 .5-.8 .5-.4 .5-.1 .5,0 .5,.1 .5,.1 .5,.1 .5,.1 .5,.1 .5,.1 .5,.1 .5,.2 .5,.1 .5,.1 .5,.1 .5,0 .5,.1 .5,.1 .5,.1 .5,.1 .5,0 .5,.1 .5,.1 .5,0 .5,.1 .5,0 .5,.1 .5,0 .5,.1 .5,0 .5,.1 .5,0 .5,0 .5,.1 .5,0 .5,.1 .5,0 .5,0 .5,0 .5,.1 .5,0 .5,0 .5,0 .5,.1 .5,0 .5,0 .5,0 .5,0 .5,.1 .5,0 .5,0 .5,0 .5,0 .5,0 .5,.1 .5,0 .5,0 .5,0 .5,0 .5,0 .5,0 .5,0 .5,0 .5,0 .5,0 .5,.1 .5,0 .5,0 .5,0 .5,0 .5,0 .5,0 .5,0 .5,0 .5,0 .5,0 .5,0 .5,0 .5,0 .5,0 .5,0 .5,0 .5,0 .5,0 .5,0 .5,0 .5,0 .5,.1 .5,0 .5,0 .5,0 .5,0 .5,0 .5,0 .5,0 .5,0 .5,0 .5,0 .5,0 .5,0 .5,0 .5,0 .5,0 .5,0 .5,0 .5,0 .5,0 .5,0 .5,0 .5,0 .5,0 .5,0 .5,0 .5,0 .5,0 .5,0 .5,0 .5,0 .5,0 .5,0 .5,0 .5,0 .5,0 .5,0 .5,0 .5,0 .5,0 .5,0 .5,0 .5,0 .5,0 .5,0 .5,0 .5,0 .5,0 .5,0 .5,0 .5,0 .5,0 .5,0 .5,0 .5,0 .5,0 .5,0 .5,0 .5,0 .5,0 .5,0 .5,0 .5,0 .5,0 .5,0 .5,0 .5,0 .5,0 .5,0 .5,0 .5,0 .5,0 .5,0 .5,0 .5,0 .5,0 .5,0 .5,0 .5,0 .5,0 .5,0 .5,0 .5,0 .5,0 .5,0 .5,0 .5,0 .5,0 .5,0 .5,0 .5,0 .5,0 .5,0 .5,0 .5,0 .5,0 .5,0 .5,0 .5,0 .5,0 .5,0 .5,0 .5,0 .5,0 .5,0 .5,0 .5,0 .5,0 .5,0 .5,0 .5,0" fill="none" stroke="#333" stroke-width="0.45" stroke-linejoin="round" />
<line x1="361.4" y1="96.8" x2="626.6" y2="96.8" stroke="#000" stroke-width="2.7" />
<path d="M546.8,96.7l.7,0 .5,5.4 .5,.5 .5-.6 .5-.7 .5-.7 .5-.6 .5-.5 .5-.4 .5-.4 .5-.3 .5-.3 .5-.2 .5-.2 .5-.1 .5-.2 .5-.1 .5-.1 .5-.1 .5,0 .5-.1 .5,0 .5-.1 .5,0 .5,0 .5-.1 .5,0 .5,0 .5,0 .5,0 .5,0 .5,0 .5-.1 .5,0 .5,0 .5,0 .5,0 .5,0 .5,0 .5,0 .5,0 .5,0 .5,0 .5,0 .5,0 .5,0 .5,0 .5,0 .5,0 .5,0 .5,0 .5,0 .5,0 .5,0 .5,0 .5,0 .5,0 .5,0 .5,0 .5,0 .5,0 .5,0 .5,0 .5,0 .5,0 .5,0 .5,0 .5,0 .5,0 .5,0 .5,0 .5,0 .5,0 .5,0 .5,0 .5,0 .5,0 .5,0 .5,0 .5,0" fill="none" stroke="#111" stroke-width="0.6" stroke-linejoin="round" />
<path d="M546.8,96.7l.7,0 .5,4.3 .5,.5 .5-.3 .5-.6 .5-.5 .5-.4 .5-.4 .5-.4 .5-.3 .5-.2 .5-.2 .5-.2 .5-.2 .5-.2 .5-.1 .5-.1 .5-.1 .5-.1 .5,0 .5-.1 .5-.1 .5,0 .5,0 .5-.1 .5,0 .5,0 .5-.1 .5,0 .5,0 .5,0 .5,0 .5,0 .5,0 .5,0 .5-.1 .5,0 .5,0 .5,0 .5,0 .5,0 .5,0 .5,0 .5,0 .5,0 .5,0 .5,0 .5,0 .5,0 .5,0 .5,0 .5,0 .5,0 .5,0 .5,0 .5,0 .5,0 .5,0 .5,0 .5,0 .5,0 .5,0 .5,0 .5,0 .5,0 .5,0 .5,0 .5,0 .5,0 .5,0 .5,0 .5,0 .5,0 .5,0 .5,0 .5,0 .5,0 .5,0 .5,0 .5,0" fill="none" stroke="#111" stroke-width="0.6" stroke-linejoin="round" />
<path d="M546.8,96.7l.7,0 .5,3.1 .5,.5 .5-.2 .5-.4 .5-.3 .5-.3 .5-.3 .5-.3 .5-.2 .5-.2 .5-.1 .5-.2 .5-.1 .5-.1 .5-.1 .5-.1 .5-.1 .5-.1 .5,0 .5-.1 .5,0 .5-.1 .5,0 .5-.1 .5,0 .5,0 .5,0 .5,0 .5-.1 .5,0 .5,0 .5,0 .5,0 .5,0 .5,0 .5,0 .5-.1 .5,0 .5,0 .5,0 .5,0 .5,0 .5,0 .5,0 .5,0 .5,0 .5,0 .5,0 .5,0 .5,0 .5,0 .5,0 .5,0 .5,0 .5,0 .5,0 .5,0 .5,0 .5,0 .5,0 .5,0 .5,0 .5,0 .5,0 .5,0 .5,0 .5,0 .5,0 .5,0 .5,0 .5,0 .5,0 .5,0 .5,0 .5,0 .5,0 .5,0 .5,0 .5,0" fill="none" stroke="#111" stroke-width="0.6" stroke-linejoin="round" />
<path d="M546.8,96.7l.7,0 .5,1.9 .5,.3 .5-.1 .5-.2 .5-.2 .5-.2 .5-.1 .5-.2 .5-.1 .5-.1 .5-.1 .5-.1 .5-.1 .5-.1 .5,0 .5-.1 .5,0 .5-.1 .5,0 .5-.1 .5,0 .5,0 .5-.1 .5,0 .5,0 .5,0 .5-.1 .5,0 .5,0 .5,0 .5,0 .5,0 .5,0 .5,0 .5,0 .5,0 .5-.1 .5,0 .5,0 .5,0 .5,0 .5,0 .5,0 .5,0 .5,0 .5,0 .5,0 .5,0 .5,0 .5,0 .5,0 .5,0 .5,0 .5,0 .5,0 .5,0 .5,0 .5,0 .5,0 .5,0 .5,0 .5,0 .5,0 .5,0 .5,0 .5,0 .5,0 .5,0 .5,0 .5,0 .5,0 .5,0 .5,0 .5,0 .5,0 .5,0 .5,0 .5,0 .5,0" fill="none" stroke="#111" stroke-width="0.6" stroke-linejoin="round" />
<path d="M361,147.3l1.5,1.2 1.5,.1 1.5,.1 1.5-.7 1.5,0 1.5,.8 1.5,0 1.5,.4 1.5,2.2 1.5,1.1 1.5-.9 1.5,2 1.5-1.8 1.5-1.7 1.5-1 1.5,.3 1.5-2.3 1.5-.1 1.5,.7 1.5,1.4 1.5,.6 1.5,.9 1.5,.6 1.5-1.7 1.5,.4 1.5-2.1 1.5-1.2 1.5-1.7 1.5,1.8 1.5-1.5 1.5,1.6 1.5,3.4 1.5,1.4 1.5,.9 1.5-.6 1.5-.5 1.5-2.6 1.5,0 1.5-.5 1.5,1.4 1.5-.7 1.5-.1 1.5-.7 1.5,1.5 1.5-.6 1.5,1.7 1.5-.6 1.5,1.8 1.5-2.5 1.5,1.5 1.5-.8 1.5,1.2 1.5-.3 1.5,.8 1.5-1.8 1.5,.9 1.5-.8 1.5,1 1.5-.5 1.5,1.3 1.5-.2 1.5-.2 1.5-1.4 1.5,.5 1.5-1.1 1.5-1.5 1.5-.7 1.5,.4 1.5,1.3 1.5,1.5 1.5,2.1 1.5,1.1 1.5,.1 1.5-1.3 1.5-.2 1.5,.7 1.5-1.1 1.5-1.3 1.5,1.7 1.5-.5 1.5-.8 1.5,1.2 1.5-.4 1.5,.4 1.5,1.5 1.5-.7 1.5-.2 1.5,1.3 1.5-3.3 1.5-1.8 1.5,.2 1.5,.3 1.5,.6 1.5,.9 1.5,1.5 1.5-1.2 1.5-.3 1.5,.4 1.5-.3 1.5-3.1 1.5-.2 1.5-.5 1.5-.6 1.5,1.8 1.5,.8 1.5,.9 1.5,.4 1.5-.7 1.5-3.8 1.5,1.7 1.5,2.3 1.5,.4 1.5-.8 1.5,1.9 1.5-.5 1.5,.1 1.5-.3 1.5,1 1.5,1.9 1.5-.3 1.5-.6 1.5-1.3 1.5-.6 1.5-.8 1.5,1.5 1.5-1.2 1.5,1 1.5-1.3 1.5-1.5 1.5-2 1.5-1.1 1.5,.3 1.5,1.4 1.5,1.5 1.5,.7 1.5,.2 1.5-.5 1.5,.8 1.5,0 1.5-.5 1.5,.1 1.5-1.5 1.5,1.2 1.5,.6 1.5,.3 1.5-.3 1.5,.1 1.5-1.4 1.5-1.2 1.5,2.3 1.5,.7 1.5,.5 1.5-2.6 1.5,1.2 1.5-2 1.5-1.8 1.5,1 1.5,.8 1.5,2 1.5,.9 1.5,2.2 1.5-.4 1.5-.5 1.5-3.5 1.5-2.7 1.5,.1 1.5-2 1.5,1.2 1.5,1.4 1.5,3.1 1.5-1.7 1.5,.6 1.5,1.7 1.5-.3 1.5-2.6 1.5,.4" fill="none" stroke="#7c7c7c" stroke-width="0.5" stroke-linejoin="round" />
<path d="M361,148.4l1.5,2.7 1.5,1.1 1.5,.5 1.5-2.2 1.5-.8 1.5-3.3 1.5-1.7 1.5,.9 1.5,2.3 1.5,1 1.5,2.6 1.5,2 1.5-1.4 1.5-1.3 1.5-1.2 1.5-2.4 1.5-1.9 1.5-.8 1.5,0 1.5,.6 1.5,.7 1.5,3.1 1.5,1.7 1.5,.6 1.5,1.1 1.5-.3 1.5-3.3 1.5,.5 1.5-1.2 1.5,.1 1.5,1.1 1.5,3 1.5,0 1.5-1.4 1.5-.6 1.5-1 1.5-1.7 1.5-1.2 1.5,2.8 1.5,.2 1.5,1.6 1.5-.8 1.5-.2 1.5-3.1 1.5-1 1.5-.4 1.5,.9 1.5,.8 1.5,2.6 1.5,1.1 1.5-1.4 1.5-.1 1.5-1 1.5,1.5 1.5,.1 1.5,.7 1.5,1 1.5,.9 1.5-1.5 1.5-1.3 1.5-.2 1.5-1.5 1.5-.7 1.5,1.4 1.5,.8 1.5,.3 1.5,1.1 1.5,.7 1.5-1.3 1.5-1.2 1.5,.2 1.5,.4 1.5-.8 1.5-1.1 1.5-.4 1.5-1.2 1.5,.6 1.5-1.6 1.5,.6 1.5,.3 1.5,.5 1.5-.8 1.5,3.4 1.5,.4 1.5,.4 1.5,0 1.5-.2 1.5-.2 1.5-.5 1.5-.9 1.5-.7 1.5-1 1.5-2.2 1.5,1.5 1.5,1.4 1.5,1 1.5,2.6 1.5,.7 1.5-.4 1.5,.5 1.5-1.3 1.5-3 1.5-.2 1.5,.1 1.5,.5 1.5,.3 1.5,2.6 1.5,.5 1.5-1.3 1.5-1.8 1.5,.9 1.5-2.8 1.5-.6 1.5-.9 1.5,1.1 1.5,2.3 1.5,4.5 1.5,.7 1.5-.5 1.5-.9 1.5-3 1.5-.7 1.5,.9 1.5,1 1.5,1.2 1.5,1.3 1.5-3.6 1.5-1.1 1.5,.4 1.5-.9 1.5-.4 1.5,1.2 1.5,.7 1.5-.3 1.5-.9 1.5,1.3 1.5,.7 1.5,.2 1.5-1 1.5,.8 1.5-.7 1.5-1.7 1.5,.7 1.5,1.2 1.5,.5 1.5-.9 1.5,1.5 1.5,.1 1.5,0 1.5,1.1 1.5-.6 1.5-1.2 1.5-.4 1.5-.7 1.5-1.9 1.5,1.7 1.5,2.1 1.5-2.5 1.5,1.6 1.5,2.2 1.5,.3 1.5-1.5 1.5,1.2 1.5-.8 1.5-3 1.5-1.4 1.5,0 1.5,.5 1.5,1.4 1.5,.9 1.5-1.1 1.5,1.2 1.5-.9 1.5-1.6 1.5,.1 1.5,1.1" fill="none" stroke="#7c7c7c" stroke-width="0.5" stroke-linejoin="round" />
<path d="M361,149.2l1.5,2.1 1.5,1 1.5-1.4 1.5,1.4 1.5-1.8 1.5-2 1.5-.6 1.5-.2 1.5,.4 1.5,2.4 1.5,.6 1.5-.1 1.5-.7 1.5-1 1.5,.2 1.5-.1 1.5-.8 1.5-.7 1.5,1 1.5,.8 1.5,1.5 1.5,1.8 1.5,1.7 1.5-1 1.5-.6 1.5-1.9 1.5-1 1.5-1.6 1.5,.8 1.5-1.2 1.5,.9 1.5,.6 1.5,2.1 1.5-1.5 1.5-.4 1.5,.9 1.5-1.5 1.5-.8 1.5,.2 1.5,.8 1.5-2.6 1.5,1.8 1.5-.9 1.5-.4 1.5,2.2 1.5,2.5 1.5,2.7 1.5,.9 1.5,.6 1.5-2 1.5,.9 1.5-3.5 1.5,.1 1.5,.8 1.5-1 1.5-1.4 1.5-.5 1.5-1.7 1.5,.4 1.5,1.5 1.5,0 1.5-.4 1.5-.8 1.5-.4 1.5-.7 1.5-1.7 1.5,.8 1.5,.5 1.5-.5 1.5,.2 1.5,2 1.5,.3 1.5,1.6 1.5-1.1 1.5-.5 1.5-.8 1.5-.5 1.5,.1 1.5,1.8 1.5,1.9 1.5-2 1.5,.7 1.5-.5 1.5,1.6 1.5-.7 1.5,.9 1.5,0 1.5-.3 1.5-1.2 1.5-2 1.5,1.5 1.5-.5 1.5,.4 1.5-1.5 1.5-.8 1.5,.5 1.5,1.2 1.5,0 1.5-.4 1.5,2 1.5,.1 1.5-1.2 1.5,.1 1.5,2.4 1.5-1.3 1.5-1.2 1.5-1.7 1.5-.6 1.5-2.1 1.5,.1 1.5-.1 1.5,3.6 1.5,.5 1.5,.6 1.5,3.1 1.5,.7 1.5-3.5 1.5,.6 1.5-.8 1.5-.6 1.5-1.1 1.5,1.1 1.5-2 1.5,1 1.5-2.8 1.5,1 1.5,.1 1.5,.8 1.5,.8 1.5,1.8 1.5,.1 1.5-.5 1.5-.5 1.5-.7 1.5,1.4 1.5-.5 1.5,.1 1.5,.3 1.5-1.3 1.5-3.3 1.5,.2 1.5,2.2 1.5,.7 1.5,.6 1.5-.7 1.5,.4 1.5-1.4 1.5-1.2 1.5-.6 1.5,1.6 1.5,.8 1.5,.6 1.5,1.4 1.5,.8 1.5,.3 1.5-1 1.5,1.5 1.5-1.3 1.5,0 1.5,.9 1.5-.3 1.5-.7 1.5,1.1 1.5,.5 1.5-1.6 1.5-1.1 1.5-2.4 1.5,2.2 1.5,.5 1.5,1 1.5,2.3 1.5,1.5 1.5-1.2 1.5-.9 1.5-.8 1.5,.1" fill="none" stroke="#7c7c7c" stroke-width="0.5" stroke-linejoin="round" />
<path d="M361,147.2l1.5-.4 1.5,.3 1.5-.1 1.5,2.1 1.5-.7 1.5,.9 1.5,1 1.5,.6 1.5-.6 1.5,1.4 1.5-1.7 1.5,1.3 1.5-.3 1.5-1.2 1.5,1 1.5,1.4 1.5,.6 1.5,.9 1.5-.4 1.5-1.6 1.5,1.2 1.5-1.9 1.5-3.1 1.5,.8 1.5-.6 1.5-1.8 1.5,2 1.5,2.1 1.5-.1 1.5-.1 1.5,.4 1.5-2.6 1.5,.4 1.5,.7 1.5-.2 1.5,.6 1.5-.6 1.5,.5 1.5-1.1 1.5,.7 1.5-.8 1.5,.9 1.5-.3 1.5-.5 1.5,2.2 1.5,.9 1.5,.4 1.5-.9 1.5,2.8 1.5-1.1 1.5,.3 1.5-1.2 1.5,.2 1.5-1 1.5-1.8 1.5-1.5 1.5,.2 1.5-.3 1.5-.6 1.5-.1 1.5,1.2 1.5,3.9 1.5,2.5 1.5-1 1.5,.9 1.5,.1 1.5-2.9 1.5-.7 1.5,.7 1.5-.7 1.5-.4 1.5,0 1.5,.3 1.5,1 1.5-1 1.5,0 1.5-.7 1.5-.5 1.5-.5 1.5,2.2 1.5,.4 1.5-1.1 1.5-.4 1.5,0 1.5-.4 1.5-1.2 1.5,2 1.5-1.2 1.5-.9 1.5-.1 1.5,1.6 1.5-.9 1.5-1 1.5-1.8 1.5-.9 1.5,.7 1.5,.9 1.5-.6 1.5,1.6 1.5,1 1.5,.5 1.5,1.2 1.5,2.6 1.5,1.1 1.5-1.5 1.5-2.1 1.5-1.5 1.5-1.1 1.5-.1 1.5,.6 1.5,.8 1.5,1.8 1.5,1.4 1.5,.4 1.5,.1 1.5-1.8 1.5-1.5 1.5-.2 1.5-1.4 1.5,1.5 1.5,1.1 1.5,.5 1.5-.8 1.5-.3 1.5,.5 1.5-1.1 1.5,.3 1.5-.3 1.5,1.4 1.5-3 1.5,.7 1.5-.1 1.5,2.4 1.5-1.1 1.5,.8 1.5,1.3 1.5-1.5 1.5-1.3 1.5,.1 1.5,.6 1.5-.5 1.5,1.8 1.5-.4 1.5-.4 1.5,.1 1.5-1.5 1.5-.5 1.5,1.1 1.5,1.8 1.5-1.2 1.5,2.2 1.5-.5 1.5-2.7 1.5-1 1.5,2 1.5-1.5 1.5-.1 1.5,.9 1.5-1.3 1.5-1.9 1.5,.7 1.5,.1 1.5,.1 1.5-.4 1.5,1.7 1.5,.3 1.5,.8 1.5,1.5 1.5,1.7 1.5-1.8 1.5-.4 1.5,.6 1.5-2.9 1.5,.2 1.5-.1 1.5,.2" fill="none" stroke="#7c7c7c" stroke-width="0.5" stroke-linejoin="round" />
<path d="M361,148.7l1.5-3 1.5,1.2 1.5,.7 1.5,.6 1.5-1 1.5,2.6 1.5-2.3 1.5,1.6 1.5-2.5 1.5,2.7 1.5-1.5 1.5-.1 1.5-1.3 1.5,2.2 1.5-2.4 1.5-.1 1.5,1.8 1.5,.1 1.5-3.1 1.5,1 1.5,1.2 1.5,.3 1.5,1.4 1.5,2.4 1.5,3.1 1.5,.4 1.5,.1 1.5,.1 1.5,1.6 1.5-2.4 1.5-1.3 1.5,.7 1.5-.7 1.5-2.8 1.5-1.1 1.5,1 1.5-.9 1.5-.1 1.5,2.5 1.5,1.2 1.5,1.1 1.5-.7 1.5-.6 1.5-.4 1.5,.6 1.5-.7 1.5,2 1.5-.1 1.5,.9 1.5-.3 1.5-1.8 1.5-1.6 1.5,2.5 1.5-.4 1.5-.9 1.5-1.3 1.5-.6 1.5-2.8 1.5-.7 1.5,2.8 1.5,3.1 1.5,1 1.5-.2 1.5-1.3 1.5-2.4 1.5-1.2 1.5,2.6 1.5,.5 1.5,.6 1.5,1.3 1.5,.5 1.5-4.1 1.5,1.6 1.5,.3 1.5-2.4 1.5,.3 1.5,1.7 1.5-1.7 1.5,1 1.5,2.2 1.5-1.2 1.5-2.5 1.5-2.1 1.5-.8 1.5,.4 1.5,1.9 1.5,3.4 1.5,4.2 1.5,.1 1.5-.2 1.5-2.5 1.5-.6 1.5-1.5 1.5-.1 1.5-1.5 1.5,.4 1.5-.5 1.5,.9 1.5-.3 1.5,1 1.5,.4 1.5,.1 1.5-2.2 1.5,.7 1.5-.7 1.5,.9 1.5-.8 1.5-.2 1.5-.7 1.5,1.3 1.5,1.2 1.5,.3 1.5,1.9 1.5,1.1 1.5-.6 1.5-3.1 1.5,.6 1.5-1.7 1.5,.4 1.5,.4 1.5,2.1 1.5-2.8 1.5,1.6 1.5-.5 1.5-2.5 1.5,0 1.5,2.3 1.5-1 1.5-1.5 1.5,.1 1.5-1.5 1.5,2.9 1.5,.3 1.5,.9 1.5,.3 1.5-.2 1.5-3.6 1.5-1.1 1.5,.6 1.5,.4 1.5,1.5 1.5-.6 1.5,1.7 1.5-.8 1.5,.9 1.5-1 1.5,.3 1.5,.3 1.5-.5 1.5-.8 1.5-.7 1.5,1 1.5-1.5 1.5,.7 1.5,.5 1.5,.2 1.5-1.6 1.5,.8 1.5,.6 1.5,.3 1.5-.4 1.5,2 1.5-.1 1.5-.6 1.5-.3 1.5,.9 1.5-.4 1.5,.5 1.5-.8 1.5-1.8 1.5,.2 1.5,0 1.5-2.7 1.5-.2 1.5,2 1.5-.1" fill="none" stroke="#7c7c7c" stroke-width="0.5" stroke-linejoin="round" />
<path d="M361,150.3l1.5-.8 1.5,.1 1.5-.1 1.5-1.6 1.5-.6 1.5,2 1.5,1.8 1.5-.2 1.5-1.9 1.5,.7 1.5-.6 1.5-1.9 1.5,.3 1.5,3.1 1.5,1.1 1.5-1.3 1.5,.5 1.5,0 1.5,.1 1.5,.8 1.5,2.4 1.5,1 1.5-1.1 1.5-2.6 1.5-.3 1.5,1.2 1.5-.3 1.5,0 1.5,2.5 1.5-.4 1.5-3.5 1.5-.3 1.5-.6 1.5,1.4 1.5-1.1 1.5,2.2 1.5,2.6 1.5,3 1.5-.6 1.5,2.3 1.5-2.1 1.5-2.2 1.5-2.6 1.5-1.7 1.5,1 1.5-.4 1.5,.9 1.5-.5 1.5,1.6 1.5-1.3 1.5,1.1 1.5,1.5 1.5,1.3 1.5,0 1.5-1 1.5-.1 1.5-2.4 1.5-.2 1.5-.6 1.5-.2 1.5,2.9 1.5,.1 1.5-.3 1.5-1.3 1.5-.9 1.5-3.7 1.5-.8 1.5,1.3 1.5,.8 1.5,.6 1.5,1.8 1.5,2 1.5-.3 1.5,.7 1.5-.4 1.5-.6 1.5-1.8 1.5-.7 1.5-1.6 1.5,.2 1.5,.1 1.5,.5 1.5-.1 1.5,.3 1.5,1.7 1.5-.2 1.5-.8 1.5,.5 1.5-.6 1.5-2.4 1.5,.5 1.5-.7 1.5-3.4 1.5,1.4 1.5,2.1 1.5-1.8 1.5,.8 1.5,3.7 1.5-2.2 1.5-1.9 1.5,.5 1.5,.7 1.5-2.5 1.5,2.8 1.5,.7 1.5,1.5 1.5-.1 1.5-.2 1.5-1 1.5-1.2 1.5-.3 1.5-.5 1.5,1.8 1.5-.1 1.5,2.1 1.5,.8 1.5-.2 1.5,.3 1.5,1.6 1.5-.2 1.5-1.5 1.5,.9 1.5-.4 1.5-.5 1.5-1.1 1.5,.6 1.5,1.9 1.5-1.3 1.5-2.2 1.5-1.9 1.5-2.1 1.5-1.5 1.5,1.6 1.5,2.5 1.5-.3 1.5,.7 1.5,.5 1.5,.7 1.5-.7 1.5,2.7 1.5,.9 1.5-1.4 1.5-1 1.5,0 1.5-1.1 1.5,.3 1.5,1.5 1.5-1.2 1.5-1.6 1.5,.8 1.5-.6 1.5-1.6 1.5,3.2 1.5,1.1 1.5-.9 1.5,1.3 1.5,2.6 1.5-3.1 1.5-1.1 1.5,.5 1.5-1.7 1.5-.3 1.5,1.6 1.5,.3 1.5,.3 1.5-.1 1.5-2.8 1.5-.4 1.5,2.8 1.5-2.7 1.5,1.2 1.5,1.9 1.5,.6 1.5-.5 1.5,2.7 1.5-.3" fill="none" stroke="#7c7c7c" stroke-width="0.5" stroke-linejoin="round" />
<path d="M361,148.4l1.5-.4 1.5,0 1.5-3.8 1.5,.8 1.5,.3 1.5,.6 1.5,1.6 1.5,2.1 1.5-.3 1.5,.2 1.5,.5 1.5-1.7 1.5-1.4 1.5-.3 1.5,.7 1.5,.3 1.5,0 1.5,1.7 1.5,2.5 1.5,1.4 1.5-.8 1.5,1.2 1.5,1.8 1.5,1.8 1.5,.5 1.5-.3 1.5,.8 1.5-1.6 1.5-2.3 1.5-2.1 1.5,.6 1.5-.4 1.5,2.1 1.5,.8 1.5,1.1 1.5,.5 1.5-.7 1.5-2 1.5,.5 1.5,.4 1.5,1.9 1.5,1 1.5,.2 1.5-2.8 1.5-.4 1.5-3.7 1.5,1.3 1.5-.6 1.5,1.6 1.5-1.7 1.5,1.2 1.5-2.5 1.5,1.8 1.5,.2 1.5,.2 1.5-1.4 1.5,.8 1.5-1.6 1.5-1.3 1.5,1.7 1.5,1.8 1.5,.1 1.5-.1 1.5,.6 1.5-1.1 1.5-1.4 1.5,.5 1.5,1 1.5-1.1 1.5,.5 1.5,2.8 1.5-.4 1.5,.8 1.5,1.5 1.5-.1 1.5-2.4 1.5-1.2 1.5-3 1.5-.6 1.5,.2 1.5,1.8 1.5,2 1.5,1.9 1.5,0 1.5,.1 1.5-.6 1.5,.6 1.5,1.8 1.5,1.9 1.5-1.5 1.5-.4 1.5-1.6 1.5-2.6 1.5-.4 1.5,1.8 1.5,1.3 1.5,0 1.5-.1 1.5-1.4 1.5-.8 1.5,.5 1.5,1.3 1.5,1.9 1.5,1.2 1.5,.7 1.5-.5 1.5-.2 1.5-.2 1.5-1.8 1.5,.2 1.5-.4 1.5-1.7 1.5-.3 1.5,1.8 1.5-1 1.5-2.1 1.5,.6 1.5,0 1.5-.3 1.5-1.5 1.5,2.1 1.5,.6 1.5-.4 1.5,.5 1.5,.1 1.5-2 1.5-.8 1.5-1.1 1.5-.6 1.5,3.2 1.5,1.1 1.5-.6 1.5-1.4 1.5-.2 1.5-2.5 1.5-1.5 1.5-.4 1.5-.7 1.5,.5 1.5-1.4 1.5,1.4 1.5,1.5 1.5,2.1 1.5,.4 1.5,.8 1.5-.9 1.5-1.6 1.5-.7 1.5,.3 1.5,.6 1.5-.8 1.5,1.1 1.5,.2 1.5-2.8 1.5,.3 1.5-.2 1.5,.3 1.5,.9 1.5,2.4 1.5-.7 1.5,2.4 1.5-.8 1.5,.3 1.5-.6 1.5,.6 1.5-1.6 1.5,.7 1.5,.9 1.5-.3 1.5-.6 1.5-.2 1.5-1.2 1.5-1.3 1.5-.2 1.5-1.3 1.5,.4" fill="none" stroke="#7c7c7c" stroke-width="0.5" stroke-linejoin="round" />
<path d="M361,149.8l1.5-.3 1.5-1.1 1.5-1 1.5,2.1 1.5-.5 1.5-.2 1.5,.9 1.5-1.2 1.5-.3 1.5-.9 1.5-.1 1.5,.7 1.5,3.4 1.5,.8 1.5-.6 1.5,1.9 1.5-1.2 1.5-1.8 1.5-.4 1.5,3 1.5,.3 1.5,1.5 1.5,.5 1.5,1 1.5-.5 1.5,.7 1.5-.4 1.5,.2 1.5,.1 1.5-.3 1.5-1.1 1.5-.9 1.5,.6 1.5,.8 1.5,.4 1.5,1.8 1.5,.6 1.5,.2 1.5-.1 1.5-.2 1.5-1.8 1.5,1.7 1.5-.5 1.5-.2 1.5,1.9 1.5,.5 1.5-2.5 1.5-.8 1.5,.5 1.5-1.5 1.5-1.2 1.5-.3 1.5,1 1.5,.7 1.5-1.1 1.5-1.1 1.5,2.4 1.5-.8 1.5-1.8 1.5,.9 1.5,1.3 1.5-.1 1.5,1.4 1.5,.7 1.5-.2 1.5,1.9 1.5-.6 1.5-.3 1.5-1.3 1.5,1.2 1.5-.3 1.5,1.4 1.5-.6 1.5,1.4 1.5-1.2 1.5,.1 1.5-.5 1.5,1.1 1.5-.9 1.5-.6 1.5-.9 1.5-1 1.5-1.8 1.5,1 1.5,2.1 1.5,.5 1.5,1.3 1.5,1.1 1.5-1.6 1.5-1.5 1.5-.7 1.5-.4 1.5,.5 1.5,1.1 1.5,1.5 1.5-.4 1.5-.8 1.5,.6 1.5,.3 1.5,0 1.5-1 1.5-1.5 1.5-2.3 1.5,.5 1.5,.6 1.5,1.2 1.5,.7 1.5-.2 1.5-1.8 1.5-1.1 1.5,.3 1.5,2.8 1.5,1.7 1.5,.2 1.5-.3 1.5,.2 1.5-1.1 1.5,.2 1.5,.3 1.5,.6 1.5,.7 1.5-.8 1.5-.6 1.5,1 1.5-3 1.5-2.6 1.5,.3 1.5-1.1 1.5-1.9 1.5,.3 1.5-1.2 1.5-1.5 1.5-1.6 1.5,0 1.5-2.3 1.5,.6 1.5,.7 1.5,1.1 1.5-.8 1.5,3.4 1.5,0 1.5,.6 1.5-.4 1.5-.2 1.5,0 1.5,.2 1.5-.7 1.5,1.7 1.5,.1 1.5-1.7 1.5-.1 1.5-.2 1.5-1.2 1.5,.1 1.5,0 1.5,1.3 1.5-.9 1.5,.6 1.5,.7 1.5-.1 1.5-.4 1.5,.4 1.5,.7 1.5,1.4 1.5,.9 1.5,.3 1.5,0 1.5-2.3 1.5,.1 1.5,.9 1.5-.5 1.5-.4 1.5,1.1 1.5,.1 1.5-1.4 1.5-1.2" fill="none" stroke="#7c7c7c" stroke-width="0.5" stroke-linejoin="round" />
<path d="M361,146.2l1.5,1.6 1.5,1.8 1.5-1.4 1.5-.1 1.5,.4 1.5-1.8 1.5-2.3 1.5,2.4 1.5-.6 1.5,1.1 1.5,1 1.5,1 1.5-1.5 1.5,1.6 1.5-.5 1.5-2.7 1.5-.8 1.5,1.1 1.5,1 1.5,1.3 1.5,2.6 1.5,1.8 1.5-.1 1.5,3.7 1.5,0 1.5,3.1 1.5,1.7 1.5,1.4 1.5-2.1 1.5,1.2 1.5,.4 1.5,.2 1.5,0 1.5-.1 1.5,.7 1.5-2.5 1.5-.7 1.5-.5 1.5,.8 1.5,.5 1.5-.7 1.5,.1 1.5,1.6 1.5-1.8 1.5-1.7 1.5,2.8 1.5,.1 1.5-1.3 1.5,.1 1.5,1.3 1.5-1.5 1.5,.3 1.5,.9 1.5,1.8 1.5-.4 1.5,0 1.5-.2 1.5-.5 1.5-.5 1.5-.2 1.5,.3 1.5-.6 1.5-.5 1.5,0 1.5,1.6 1.5-.2 1.5,1.1 1.5,.9 1.5-.1 1.5-.4 1.5,0 1.5-.1 1.5,0 1.5-3.5 1.5-.3 1.5,1.1 1.5,1.4 1.5-1.3 1.5,3.4 1.5,0 1.5-1.5 1.5-.7 1.5,1.4 1.5-.8 1.5-1.5 1.5,.5 1.5,1.1 1.5,1.7 1.5-1.6 1.5-.6 1.5,1 1.5-2.4 1.5-2.7 1.5,3 1.5,1.8 1.5-.3 1.5,.3 1.5-.4 1.5,.7 1.5-.6 1.5,.9 1.5,.4 1.5,1.1 1.5-1.2 1.5,.4 1.5-2.8 1.5-1 1.5,.4 1.5-1.7 1.5-1.4 1.5,2.8 1.5,1.1 1.5-1.9 1.5,2 1.5,1.4 1.5-.1 1.5-1.1 1.5,1.2 1.5-1.1 1.5,.2 1.5-1.1 1.5-.3 1.5-.1 1.5,0 1.5-2.5 1.5-3.1 1.5-2.6 1.5-1.9 1.5,.7 1.5-1.9 1.5,.9 1.5,1.8 1.5,0 1.5-.6 1.5,.7 1.5-.8 1.5-1.6 1.5,.4 1.5-2.1 1.5-.8 1.5-.6 1.5,1.1 1.5,.3 1.5,.6 1.5,1.1 1.5,1.7 1.5-.4 1.5-1 1.5,1.1 1.5-3.2 1.5-1.8 1.5,.5 1.5,2.7 1.5-1.2 1.5,3.8 1.5,2.9 1.5,1.2 1.5-4.2 1.5,1.8 1.5-1.3 1.5-1.3 1.5-2 1.5,1.7 1.5-1.3 1.5,1.3 1.5-.2 1.5-.1 1.5,1 1.5,1 1.5-.9 1.5-.8 1.5-.4 1.5-1.1 1.5-1.3 1.5-1 1.5-1.5" fill="none" stroke="#7c7c7c" stroke-width="0.5" stroke-linejoin="round" />
<path d="M361,146.1l1.5,2.8 1.5,.3 1.5,.7 1.5,.3 1.5-.5 1.5-2.3 1.5-1.7 1.5,.8 1.5,0 1.5-.2 1.5,.6 1.5,.5 1.5-1.2 1.5,.3 1.5-.4 1.5-.5 1.5,.6 1.5,.5 1.5-1.2 1.5,3.6 1.5,2.3 1.5,.1 1.5,1.3 1.5,1.2 1.5-1.2 1.5,2 1.5,3.8 1.5,3 1.5,2.9 1.5,2.2 1.5,.1 1.5-2.9 1.5-.1 1.5,.4 1.5,.6 1.5-1.7 1.5,1.8 1.5-1.5 1.5,1.9 1.5-1.3 1.5,1.3 1.5,1.5 1.5-1.1 1.5-.6 1.5,1.7 1.5-.4 1.5-2 1.5,2.6 1.5,.8 1.5,.2 1.5,.8 1.5-.8 1.5-1.3 1.5,.7 1.5,.5 1.5-1.6 1.5-.9 1.5-.7 1.5-1.6 1.5-1.6 1.5,1.1 1.5,2.3 1.5,1.6 1.5,0 1.5,1.8 1.5-1.1 1.5,.1 1.5-.4 1.5-1.7 1.5,0 1.5-.1 1.5-1.9 1.5,2.2 1.5,2.7 1.5-.8 1.5,2.9 1.5,2.5 1.5-3.7 1.5-.8 1.5,1 1.5-1.5 1.5-1 1.5,.6 1.5,.3 1.5-2 1.5-.4 1.5-1.3 1.5-.4 1.5-.5 1.5,1 1.5,.2 1.5,.2 1.5,1.2 1.5,.1 1.5,.8 1.5-.1 1.5,.7 1.5,.1 1.5,1.2 1.5-1.3 1.5,.4 1.5-.5 1.5-.9 1.5-.6 1.5,.9 1.5,1.2 1.5-.7 1.5,1.2 1.5-1.9 1.5-.2 1.5-3.5 1.5,1.6 1.5-1.7 1.5,2.1 1.5-.4 1.5,3.6 1.5-.3 1.5,2.8 1.5-1.7 1.5,1.7 1.5-1.7 1.5-.6 1.5-1 1.5,0 1.5-5.7 1.5-3.8 1.5-1.6 1.5-2.6 1.5-1.6 1.5-.7 1.5-1.8 1.5,.6 1.5-1 1.5,1.7 1.5-1 1.5,1.4 1.5-1.5 1.5,.5 1.5-1 1.5-.2 1.5-.2 1.5,.8 1.5,.5 1.5-2.3 1.5-.6 1.5,.1 1.5,1.2 1.5,.4 1.5,2.5 1.5,1.6 1.5-.5 1.5-.6 1.5-1.6 1.5-1.6 1.5,1.4 1.5-.3 1.5,.2 1.5,.7 1.5-.1 1.5-1.8 1.5,.6 1.5-1.2 1.5-.8 1.5-.3 1.5,2.5 1.5,.3 1.5,.8 1.5,.6 1.5,1.9 1.5-3.9 1.5-.6 1.5-4.2 1.5,1 1.5-.2 1.5,.1 1.5,1.9" fill="none" stroke="#7c7c7c" stroke-width="0.5" stroke-linejoin="round" />
<path d="M361,154.3l1.5,.2 1.5-3 1.5-.6 1.5-.2 1.5,.6 1.5-1.9 1.5-1.2 1.5,.4 1.5,1.1 1.5-1.4 1.5-.6 1.5,2 1.5,.8 1.5,.1 1.5,.4 1.5,3.7 1.5-1.6 1.5,.2 1.5-.4 1.5,1 1.5-.1 1.5,4 1.5,2 1.5,1.1 1.5,3.8 1.5,2.6 1.5,.8 1.5,.3 1.5,1.7 1.5-1 1.5-.1 1.5,0 1.5-.3 1.5,0 1.5,1.6 1.5,.8 1.5,1.4 1.5,.2 1.5,.2 1.5,.5 1.5-.2 1.5-.5 1.5,.9 1.5,1.8 1.5-.3 1.5-.5 1.5,.6 1.5,2.3 1.5-2.9 1.5,.2 1.5,1.3 1.5,.4 1.5,0 1.5,1.8 1.5-1.3 1.5,.7 1.5,0 1.5-.9 1.5,.3 1.5,.8 1.5,1.8 1.5-2.2 1.5-1.9 1.5,.9 1.5,1.2 1.5-1.8 1.5,1.6 1.5,3.2 1.5,.5 1.5-.8 1.5,.3 1.5-1.5 1.5-3.3 1.5-.2 1.5,.1 1.5-3.1 1.5,1.1 1.5,1.1 1.5-.7 1.5,.4 1.5,1.4 1.5-.7 1.5,1.4 1.5-1.4 1.5,.2 1.5-.2 1.5,1.1 1.5,1 1.5,1.5 1.5,1 1.5,1.4 1.5-1.4 1.5-2 1.5-.5 1.5-.7 1.5-1 1.5,1.5 1.5-.4 1.5,0 1.5-.4 1.5-.6 1.5,.4 1.5,.8 1.5,0 1.5,0 1.5-.9 1.5-2.4 1.5-1 1.5,.9 1.5-.5 1.5,2.7 1.5,.3 1.5,.1 1.5-1.5 1.5,1.7 1.5-2.3 1.5,.9 1.5,1.2 1.5,.6 1.5-1.1 1.5,2.5 1.5,.4 1.5-1.4 1.5,.5 1.5-6.9 1.5-6 1.5-2.6 1.5,.5 1.5-1.4 1.5-.6 1.5-1.8 1.5-3.3 1.5-1.6 1.5-1.8 1.5-2.3 1.5,1.9 1.5,1.1 1.5-.6 1.5-.1 1.5-.9 1.5-2.5 1.5-.8 1.5-1.5 1.5,1 1.5,1.5 1.5,.6 1.5,0 1.5,.1 1.5-2.6 1.5-.5 1.5-2.5 1.5,.4 1.5-.1 1.5,1.2 1.5,.2 1.5,2.5 1.5-1.3 1.5-.8 1.5,.2 1.5,1.6 1.5,.6 1.5,.9 1.5,.6 1.5,1.1 1.5,.6 1.5-1.2 1.5-1 1.5,.7 1.5-1.1 1.5-2.1 1.5,2.9 1.5-1 1.5-1.2 1.5-.1 1.5,1.9 1.5-4.1" fill="none" stroke="#7c7c7c" stroke-width="0.5" stroke-linejoin="round" />
<path d="M361,151.2l1.5-.4 1.5-1.1 1.5-2.4 1.5-1.8 1.5-1.5 1.5,.9 1.5-1.7 1.5,2.2 1.5,3.2 1.5,2.5 1.5,.6 1.5,2.5 1.5-.9 1.5-.4 1.5-.5 1.5,.1 1.5-2.1 1.5-.9 1.5-.4 1.5,2.9 1.5,2.1 1.5,2.4 1.5,1.8 1.5,2.3 1.5,1.8 1.5,1 1.5,2.1 1.5,1.7 1.5,1.7 1.5,2 1.5,.5 1.5,1 1.5,3.3 1.5,1.7 1.5-1.8 1.5,2.5 1.5-.2 1.5-.4 1.5-2.7 1.5,.8 1.5,.3 1.5,1.2 1.5-.8 1.5,2.9 1.5,1.4 1.5-1 1.5,.3 1.5,2.8 1.5,1.7 1.5,.6 1.5-.4 1.5,.4 1.5-1.9 1.5-.8 1.5,1.5 1.5,.8 1.5,.8 1.5,0 1.5-.2 1.5-2.1 1.5,1 1.5,1.1 1.5,.1 1.5-.4 1.5,.9 1.5-1.6 1.5,.8 1.5-.9 1.5,0 1.5-.9 1.5,2.8 1.5-2.2 1.5,.9 1.5,2.3 1.5,.8 1.5-2.3 1.5,.6 1.5,.7 1.5-2.6 1.5,0 1.5,.6 1.5,.7 1.5,.6 1.5,1.6 1.5,.1 1.5,1 1.5-.9 1.5,.4 1.5-.4 1.5-.3 1.5,.4 1.5-1.3 1.5-2.1 1.5-1.1 1.5,.3 1.5-2.5 1.5,.3 1.5-.9 1.5,1 1.5-.7 1.5,3.4 1.5,2 1.5,.7 1.5,1.2 1.5,.9 1.5-1.1 1.5-1.9 1.5,2.3 1.5-.2 1.5-.5 1.5-1.9 1.5,.7 1.5-.9 1.5,1.3 1.5,2.2 1.5,2.4 1.5,.1 1.5-.6 1.5-2 1.5-2 1.5-2 1.5,0 1.5,1.2 1.5-.4 1.5-7.7 1.5-6.2 1.5-4.9 1.5-5.1 1.5-1.7 1.5-2.3 1.5-.1 1.5-1.4 1.5,.3 1.5-3.5 1.5-1.3 1.5-2.1 1.5-.8 1.5-1.5 1.5,.2 1.5,0 1.5-.7 1.5,.5 1.5-.3 1.5-.1 1.5-.3 1.5,.6 1.5-1.3 1.5,.4 1.5,2.2 1.5,.2 1.5,.5 1.5,1.8 1.5-.9 1.5,.1 1.5,2.7 1.5-1.5 1.5,1.5 1.5,0 1.5,.2 1.5-4.3 1.5,2.1 1.5-1.9 1.5-.6 1.5-2.3 1.5,.8 1.5-2 1.5,.2 1.5,1.1 1.5-1.7 1.5,.8 1.5,1.3 1.5-.3 1.5,1.9 1.5,.6 1.5,.6 1.5-.4" fill="none" stroke="#7c7c7c" stroke-width="0.5" stroke-linejoin="round" />
<path d="M361,147l1.5-2.5 1.5,1.7 1.5,1.3 1.5,.9 1.5-2.7 1.5,2.3 1.5-1.2 1.5-.5 1.5,.1 1.5,4.2 1.5-.3 1.5,.8 1.5,1.7 1.5-1.6 1.5-1.9 1.5-.6 1.5-.9 1.5-1.1 1.5,6.9 1.5,6.9 1.5,6.4 1.5,5.4 1.5,4.6 1.5,1.3 1.5,1.4 1.5,1.7 1.5,3.2 1.5,.2 1.5,2.3 1.5,1.8 1.5,2.7 1.5-.5 1.5,1.3 1.5-1 1.5,1.3 1.5-1.9 1.5-1.5 1.5-.1 1.5-.7 1.5,.8 1.5,1.1 1.5,1.6 1.5,.5 1.5-1.3 1.5,.1 1.5-1.4 1.5,.7 1.5,1.9 1.5,1 1.5-1.9 1.5,1 1.5-.3 1.5-4.2 1.5,.7 1.5,1.9 1.5-.9 1.5,.1 1.5,.4 1.5,0 1.5-3.3 1.5,.9 1.5,.6 1.5,1.4 1.5,.7 1.5,2 1.5,.2 1.5-1.4 1.5,.4 1.5,2.2 1.5,2 1.5-1 1.5-1 1.5,1.4 1.5-1 1.5-1 1.5,1.2 1.5,1 1.5-.9 1.5,.1 1.5,0 1.5-1.7 1.5,1.2 1.5-1.3 1.5-1.5 1.5-.8 1.5,.8 1.5,1.2 1.5,.9 1.5,.7 1.5-.6 1.5,.6 1.5-2.5 1.5,0 1.5,.6 1.5,1 1.5-1.5 1.5-.1 1.5-.5 1.5-2 1.5-.5 1.5,1.1 1.5,.4 1.5,.3 1.5,.6 1.5,1.2 1.5,1.1 1.5-.6 1.5,.1 1.5,1.4 1.5-2.3 1.5-1.4 1.5,1.2 1.5-3 1.5-2 1.5,1.1 1.5,.9 1.5-1.6 1.5,3.4 1.5,3.5 1.5-.1 1.5-.7 1.5,1 1.5-1.8 1.5-1.7 1.5-9.3 1.5-6.4 1.5-4.3 1.5-3.4 1.5-3.8 1.5-2.5 1.5-1.1 1.5-4.4 1.5-1.3 1.5-1.8 1.5-1 1.5-1.5 1.5,1.1 1.5,.3 1.5,.6 1.5-1.1 1.5-1.6 1.5-1.6 1.5-.6 1.5-.7 1.5,1.5 1.5,1.6 1.5,.4 1.5-1.3 1.5,1 1.5-1.7 1.5-.8 1.5,1.5 1.5,.6 1.5,1.2 1.5,.1 1.5,.2 1.5-1 1.5-2.5 1.5-1.9 1.5,.6 1.5,.2 1.5,.2 1.5,2.2 1.5-.4 1.5-.1 1.5,.1 1.5-.1 1.5,1.9 1.5,1.4 1.5-.4 1.5,.2 1.5-1.9 1.5-1.2 1.5-1.8 1.5,.6 1.5,.1" fill="none" stroke="#7c7c7c" stroke-width="0.5" stroke-linejoin="round" />
<path d="M361,148.6l1.5,.9 1.5,.8 1.5-2.7 1.5,.9 1.5,1.6 1.5-1.1 1.5-1 1.5,1.6 1.5,0 1.5-1.5 1.5,1 1.5-1.1 1.5-.2 1.5,1.9 1.5-.4 1.5-.8 1.5-.7 1.5-.8 1.5,14 1.5,18.5 1.5,7.1 1.5,7.4 1.5,1.3 1.5,1.7 1.5,.5 1.5,1.2 1.5-.9 1.5-.6 1.5,2.2 1.5-.5 1.5-1.4 1.5-2.5 1.5,1.1 1.5-3.9 1.5,.5 1.5,.1 1.5,2 1.5-.4 1.5,1.9 1.5,2 1.5,1.7 1.5-.1 1.5-.2 1.5,1.3 1.5-3.8 1.5-2.6 1.5,1.1 1.5,.4 1.5-.1 1.5,2.2 1.5,3.6 1.5,.5 1.5,1.1 1.5-1.9 1.5,0 1.5-.8 1.5-1.6 1.5-3.4 1.5,.2 1.5-.9 1.5-1.5 1.5-.5 1.5,4 1.5-.9 1.5,.8 1.5-1.9 1.5-1.8 1.5-2.1 1.5,.5 1.5-1.3 1.5,1.3 1.5,2.7 1.5,1.6 1.5,.8 1.5,1.1 1.5,0 1.5-1.6 1.5-2 1.5-.5 1.5-1.3 1.5,.4 1.5,1.7 1.5,1.9 1.5,1.7 1.5,.2 1.5-1.8 1.5-1.8 1.5,1.4 1.5-.6 1.5,.5 1.5,3.4 1.5,.7 1.5-.3 1.5-1.1 1.5,.1 1.5-.7 1.5-.7 1.5-1.8 1.5,2.3 1.5,.8 1.5-1.7 1.5,.9 1.5,.1 1.5-2.7 1.5,0 1.5,2.3 1.5,.3 1.5,.9 1.5,1.1 1.5-.3 1.5-2 1.5,.9 1.5,.5 1.5-.8 1.5-1 1.5,1.3 1.5-.9 1.5-.2 1.5,.9 1.5,.8 1.5-1.9 1.5,.5 1.5-1 1.5-1.7 1.5-12 1.5-8.7 1.5-6.4 1.5-5.6 1.5-5.9 1.5-2.4 1.5-1.2 1.5-2.6 1.5-1 1.5,1.8 1.5,.8 1.5,.9 1.5-.6 1.5,1.1 1.5-.1 1.5-1.9 1.5-1 1.5-1.4 1.5-1.9 1.5-1 1.5,.3 1.5,0 1.5-1 1.5,.6 1.5,1.3 1.5,.2 1.5,.5 1.5,2.7 1.5-.7 1.5-1.3 1.5,.9 1.5,.1 1.5-1.8 1.5-.4 1.5-.2 1.5,.1 1.5-1.3 1.5,.2 1.5,2.2 1.5,1.6 1.5-.5 1.5,.8 1.5,1 1.5-1.4 1.5,.4 1.5,.2 1.5-.7 1.5,.3 1.5,1.8 1.5-1.4 1.5-1.8 1.5,.6" fill="none" stroke="#7c7c7c" stroke-width="0.5" stroke-linejoin="round" />
<path d="M361,152l1.5,3.1 1.5-3.6 1.5-.7 1.5-2.2 1.5,.8 1.5-2 1.5,2.8 1.5-.3 1.5,.7 1.5-2 1.5,.9 1.5-2.5 1.5,.5 1.5,.3 1.5,0 1.5-1.4 1.5,2.5 1.5-1.4 1.5,18.5 1.5,19 1.5,7.5 1.5,.2 1.5,4 1.5,2.1 1.5-.8 1.5-.4 1.5,2.4 1.5-1.5 1.5-2.5 1.5-.1 1.5-1.2 1.5-1.7 1.5-1.1 1.5-.5 1.5,.9 1.5,2.7 1.5,2.5 1.5-1.5 1.5,.7 1.5-1.5 1.5,1.1 1.5-.7 1.5,2.8 1.5,.8 1.5,0 1.5-1.8 1.5-1.5 1.5-2.6 1.5,1.8 1.5,1.5 1.5,2.6 1.5,1.6 1.5,3 1.5-1 1.5-2.4 1.5-3.1 1.5-.4 1.5-.9 1.5-2.4 1.5,1.7 1.5-.3 1.5-.8 1.5,1.9 1.5,.5 1.5-.5 1.5,1.8 1.5,0 1.5-1.4 1.5,.3 1.5,.1 1.5-2.9 1.5-.1 1.5,1.1 1.5-.3 1.5,.1 1.5,3.1 1.5,1.4 1.5-.1 1.5,.2 1.5-.2 1.5,1 1.5-1.7 1.5-.8 1.5,0 1.5-.2 1.5-4.7 1.5-.1 1.5-2.5 1.5-.1 1.5-.4 1.5,4.3 1.5,1.3 1.5,2.6 1.5,.5 1.5-.4 1.5-.9 1.5-1.6 1.5-.5 1.5,1.5 1.5,1.2 1.5-.5 1.5-.2 1.5,1.2 1.5-.5 1.5,.9 1.5,1.7 1.5-.6 1.5-1.1 1.5,.2 1.5-.4 1.5-1.3 1.5,2 1.5-1.5 1.5-.7 1.5,.8 1.5-.4 1.5-.6 1.5,2.4 1.5-1.7 1.5-.8 1.5,1.6 1.5-.1 1.5-1.6 1.5,2.2 1.5-11.5 1.5-10.7 1.5-6.1 1.5-5.9 1.5-3.8 1.5-3.8 1.5-2.2 1.5-1.3 1.5,.2 1.5-1.5 1.5,1.6 1.5,1.4 1.5,.9 1.5-1 1.5,.4 1.5-3.3 1.5-.9 1.5-1 1.5-.3 1.5-.5 1.5,2.4 1.5-1 1.5-2 1.5,2.2 1.5-1.8 1.5-.7 1.5,1.1 1.5,.9 1.5,0 1.5,2.8 1.5,.3 1.5,.8 1.5,.5 1.5-2.8 1.5-1.8 1.5-.2 1.5-1.6 1.5-2.4 1.5,3.5 1.5-1.2 1.5-1.4 1.5,.2 1.5,1.9 1.5-.7 1.5,1.8 1.5,1.5 1.5,.2 1.5-.9 1.5-2.8 1.5-.7 1.5,.6 1.5-1" fill="none" stroke="#7c7c7c" stroke-width="0.5" stroke-linejoin="round" />
<path d="M361,151.2l1.5-1.2 1.5,.7 1.5-1.2 1.5,1.2 1.5-.9 1.5,.5 1.5,.5 1.5-.4 1.5-2.1 1.5,0 1.5,.8 1.5-1.7 1.5-.2 1.5-.1 1.5-.4 1.5-2.3 1.5,.2 1.5,1.6 1.5,17.5 1.5,18.1 1.5,7.6 1.5,4 1.5,1.4 1.5-.2 1.5,.3 1.5,1.5 1.5,.2 1.5-.2 1.5,2.4 1.5-1.4 1.5-.3 1.5,.7 1.5,1 1.5-1.7 1.5,.7 1.5-1.3 1.5-.6 1.5-2.4 1.5,.4 1.5,1.4 1.5,3.5 1.5-2 1.5,2.7 1.5,.1 1.5-.1 1.5-1.9 1.5,3.3 1.5-1.8 1.5,0 1.5-.7 1.5,.4 1.5-2.1 1.5,.6 1.5,.8 1.5,.3 1.5-.8 1.5,1.5 1.5,.4 1.5-.3 1.5-.5 1.5-2.2 1.5-1.4 1.5-2.3 1.5,.9 1.5-.7 1.5,1.4 1.5,1.4 1.5,2.5 1.5,.6 1.5,.2 1.5,.9 1.5,.6 1.5-1.9 1.5-1.4 1.5-.4 1.5-.8 1.5-.4 1.5,.9 1.5-.1 1.5,.7 1.5,2.1 1.5,.1 1.5-1.4 1.5,2.6 1.5,.1 1.5-1.7 1.5-1.2 1.5,.7 1.5-1.5 1.5-1.1 1.5,.2 1.5,.2 1.5,2.3 1.5-.3 1.5,1.9 1.5,.5 1.5,.9 1.5-1.6 1.5-2.8 1.5,0 1.5-.9 1.5,.1 1.5,.2 1.5,1.9 1.5-1.3 1.5-.7 1.5-.4 1.5-.4 1.5-.4 1.5,.6 1.5,1.3 1.5-.9 1.5,0 1.5,.2 1.5-2.2 1.5-.2 1.5,.7 1.5,.9 1.5,1.9 1.5,1.9 1.5,.5 1.5,.2 1.5-.8 1.5-.4 1.5-9.3 1.5-10.3 1.5-5.3 1.5-5.4 1.5-5.5 1.5-4.6 1.5-1.4 1.5-4.5 1.5-.2 1.5,0 1.5-1.1 1.5,.3 1.5,.8 1.5-1.4 1.5,.2 1.5,.5 1.5-1.2 1.5,.1 1.5-2 1.5-2.3 1.5,.5 1.5,1.3 1.5-2.2 1.5,1.8 1.5,.5 1.5-.8 1.5-.5 1.5,3.1 1.5,1.8 1.5,1.6 1.5,.9 1.5-.5 1.5-3.3 1.5-1.4 1.5-2.1 1.5-1.7 1.5-.1 1.5,.3 1.5,1.4 1.5,1.8 1.5,1.4 1.5,.4 1.5,1.8 1.5-1.7 1.5,.1 1.5-1 1.5-.2 1.5-.1 1.5,.7 1.5-1.8 1.5,.9 1.5-.4" fill="none" stroke="#7c7c7c" stroke-width="0.5" stroke-linejoin="round" />
<path d="M361,151.2l1.5,.7 1.5-.2 1.5,.3 1.5-1.3 1.5-.7 1.5-.6 1.5,.8 1.5-1.5 1.5,.8 1.5,0 1.5-.7 1.5-1.5 1.5,.5 1.5,0 1.5,.4 1.5,.9 1.5-.3 1.5-.6 1.5,18.6 1.5,18.4 1.5,6.6 1.5,3.1 1.5,3.4 1.5-1.2 1.5,.9 1.5,.6 1.5,1 1.5-1.2 1.5,1.9 1.5-1.1 1.5-2 1.5-.5 1.5-1.9 1.5-.5 1.5,.9 1.5,2.8 1.5-.7 1.5,4.3 1.5,1.4 1.5-1.1 1.5-2.9 1.5,.4 1.5-1 1.5,.2 1.5-.4 1.5,.1 1.5-.1 1.5,.9 1.5-2.1 1.5-.8 1.5-.3 1.5,1.6 1.5-1.1 1.5-.4 1.5,1.1 1.5,2.2 1.5-1 1.5-1.3 1.5-.1 1.5-.4 1.5,1.1 1.5,.8 1.5,1.5 1.5,2.4 1.5-1.7 1.5-1.2 1.5,.5 1.5-1.2 1.5-2.4 1.5,2.6 1.5-.4 1.5-1.8 1.5-.1 1.5,.6 1.5-.3 1.5,1.4 1.5,.8 1.5-.1 1.5,2.9 1.5-.2 1.5-1.2 1.5-.1 1.5-.3 1.5-4.5 1.5,.4 1.5,1.7 1.5-1.7 1.5,0 1.5,2 1.5-.9 1.5-.9 1.5,1.7 1.5-.3 1.5-.6 1.5,.1 1.5,0 1.5-2.4 1.5,1.5 1.5,1.5 1.5,.7 1.5-.3 1.5,1.9 1.5,0 1.5-1.5 1.5-1.4 1.5-1.4 1.5-1.8 1.5,.1 1.5,.3 1.5,2.4 1.5,1.4 1.5,3 1.5-1.8 1.5-2 1.5-1.6 1.5-.6 1.5-.3 1.5,1.1 1.5,1.7 1.5,.6 1.5,.6 1.5-.2 1.5,.5 1.5-.3 1.5-11.1 1.5-10.3 1.5-7.9 1.5-5.7 1.5-3.2 1.5-3.7 1.5-2.4 1.5,.1 1.5-2 1.5-3.3 1.5-1.1 1.5-.5 1.5-3.9 1.5,.1 1.5,3 1.5-.1 1.5,.2 1.5,3.4 1.5,.3 1.5-1.8 1.5,2 1.5-.5 1.5-1.2 1.5,.4 1.5,.3 1.5-2.6 1.5,.3 1.5,1.8 1.5-.6 1.5-.5 1.5,2.2 1.5-.8 1.5-1.8 1.5-1.7 1.5,1.6 1.5-2 1.5,1.9 1.5-.9 1.5,1.9 1.5-1.1 1.5,1 1.5-.4 1.5,1.1 1.5-.3 1.5-.8 1.5,.6 1.5,1.1 1.5-1.5 1.5-.8 1.5-.3 1.5-.3 1.5-2.2" fill="none" stroke="#7c7c7c" stroke-width="0.5" stroke-linejoin="round" />
<path d="M361,150.8l1.5-1.2 1.5,.4 1.5,1.1 1.5-1.9 1.5,2.1 1.5,.3 1.5-.2 1.5-.2 1.5,.8 1.5-1.6 1.5,.3 1.5-.6 1.5,0 1.5,1.6 1.5,.4 1.5-.7 1.5-.3 1.5-1.9 1.5,18 1.5,16.9 1.5,7.8 1.5,4.3 1.5,1.5 1.5-1.4 1.5,.6 1.5,2.1 1.5,.2 1.5,2.2 1.5,2.7 1.5,1.7 1.5-.8 1.5-.8 1.5-2 1.5-.6 1.5,.5 1.5-2.3 1.5,1.5 1.5,1 1.5-.6 1.5-.5 1.5,2.8 1.5-1.7 1.5-.3 1.5,.5 1.5-1.2 1.5-1.4 1.5,.6 1.5-1.7 1.5-1.8 1.5,1.2 1.5-1.1 1.5-1.4 1.5,1.1 1.5,.7 1.5-.4 1.5,.9 1.5,2 1.5-.5 1.5-.7 1.5-1.3 1.5-.7 1.5-.1 1.5,2.3 1.5,.4 1.5,1.8 1.5,1.5 1.5-1.5 1.5-2.1 1.5,.3 1.5-2.4 1.5,.8 1.5-.7 1.5-.4 1.5,.6 1.5,.6 1.5-1.1 1.5,.9 1.5,2.2 1.5-1.3 1.5,1.4 1.5,.3 1.5-.5 1.5-1.9 1.5-1.1 1.5-1.8 1.5-.1 1.5,1.4 1.5,1.7 1.5,3.1 1.5,2.1 1.5-.2 1.5-.3 1.5-1.3 1.5-1 1.5-.2 1.5,.4 1.5,.7 1.5,.1 1.5-.4 1.5,.8 1.5-.8 1.5,1.7 1.5-.5 1.5,1 1.5-1.4 1.5,.4 1.5-2.7 1.5,1.1 1.5-1 1.5-.4 1.5-2 1.5-.6 1.5-.7 1.5,.6 1.5,.6 1.5,1.4 1.5,1.7 1.5-1 1.5,.5 1.5-.2 1.5-1 1.5-.8 1.5,2.3 1.5-.9 1.5-12.7 1.5-5.8 1.5-7.7 1.5-4.5 1.5-3.4 1.5-2.5 1.5-3.3 1.5,.7 1.5-2.1 1.5-1.4 1.5,.4 1.5-1.7 1.5-2.3 1.5-1.2 1.5,.3 1.5-.7 1.5,1.5 1.5-1.1 1.5-.4 1.5-2.8 1.5-1.7 1.5-1.7 1.5,1.1 1.5-.6 1.5,.4 1.5,1.5 1.5-1.9 1.5,.2 1.5,0 1.5-.2 1.5,.6 1.5-.2 1.5,.6 1.5,.7 1.5,1.8 1.5-.3 1.5,2.6 1.5-.7 1.5-1.3 1.5-.1 1.5-.9 1.5-1.2 1.5,.4 1.5,.2 1.5,.5 1.5-.7 1.5,1.6 1.5-.2 1.5,2.6 1.5,.1 1.5,2.2 1.5-.9" fill="none" stroke="#7c7c7c" stroke-width="0.5" stroke-linejoin="round" />
<path d="M361,145.8l1.5-.2 1.5,.5 1.5,.7 1.5,.7 1.5,.2 1.5,.5 1.5,1.3 1.5-1.5 1.5,0 1.5,3.3 1.5-.4 1.5,0 1.5,.5 1.5,1.2 1.5-1.3 1.5,.5 1.5-.6 1.5,.9 1.5,15.3 1.5,17.4 1.5,7.1 1.5,4 1.5,1.8 1.5,2.7 1.5,1.8 1.5,1.3 1.5-.9 1.5,.2 1.5,.4 1.5-2 1.5,.5 1.5,.3 1.5-2.3 1.5-1.7 1.5,.3 1.5-2.3 1.5,.5 1.5,.2 1.5,1.5 1.5-.7 1.5,.1 1.5-.7 1.5,1.2 1.5,.5 1.5,.5 1.5,.7 1.5,.7 1.5,1.2 1.5-.5 1.5,1.5 1.5-.5 1.5,.6 1.5-.7 1.5-1.1 1.5-1.1 1.5,1.5 1.5,.2 1.5,.3 1.5-.2 1.5-.4 1.5-.5 1.5,.7 1.5-.4 1.5,1 1.5,1.4 1.5-.3 1.5-2.1 1.5,.2 1.5,.6 1.5-1.4 1.5-1.7 1.5,.1 1.5,.7 1.5-1.5 1.5,.7 1.5,1.8 1.5-.4 1.5-.2 1.5-1.4 1.5-2.9 1.5-1.7 1.5,1.3 1.5-1 1.5,2.7 1.5,2 1.5,1.6 1.5-1 1.5-.1 1.5,.3 1.5,.8 1.5-1.4 1.5,1.1 1.5,2.4 1.5-.3 1.5-1.6 1.5,2 1.5-.4 1.5-2.3 1.5,.3 1.5,2.1 1.5-1.3 1.5-.1 1.5,0 1.5-1 1.5,.4 1.5,.1 1.5,.4 1.5,.6 1.5,.1 1.5-2.6 1.5,1 1.5-1.6 1.5,.4 1.5-.1 1.5,1.2 1.5-1.1 1.5,.3 1.5-1.7 1.5,.1 1.5-.2 1.5,.7 1.5,.5 1.5,1.8 1.5,.1 1.5-11 1.5-9.2 1.5-6.5 1.5-5.4 1.5-4.9 1.5-4.5 1.5-1.9 1.5-1.5 1.5-2.1 1.5-.3 1.5-1 1.5-2 1.5-1 1.5-.5 1.5-1.8 1.5,1.5 1.5-1.1 1.5,1 1.5-1.1 1.5,.6 1.5-1.6 1.5,.5 1.5-1.5 1.5-.9 1.5,.2 1.5,1.2 1.5,1 1.5,.2 1.5,.5 1.5-1.5 1.5-1.5 1.5,1.3 1.5,.4 1.5-.4 1.5,3.5 1.5,1.9 1.5,0 1.5,.6 1.5,3 1.5-3.3 1.5-.5 1.5-1.8 1.5,.9 1.5-.6 1.5,1.6 1.5-.3 1.5-1.3 1.5-1.8 1.5-1.4 1.5,1.3 1.5,1 1.5,1.9" fill="none" stroke="#7c7c7c" stroke-width="0.5" stroke-linejoin="round" />
<path d="M361,150.6l1.5,.1 1.5-.7 1.5,2.2 1.5-2.6 1.5,.5 1.5,1 1.5-.6 1.5-.3 1.5,2.2 1.5-.2 1.5-1.7 1.5,.9 1.5-2.7 1.5-.2 1.5,1.6 1.5,.1 1.5,.9 1.5,.2 1.5,17.9 1.5,17.1 1.5,7.5 1.5,2.3 1.5,1.8 1.5,0 1.5,.4 1.5,1.5 1.5,.1 1.5,.8 1.5,1 1.5,.7 1.5,.2 1.5-.7 1.5,0 1.5,.3 1.5-1 1.5-2.2 1.5,.2 1.5,.4 1.5,1.8 1.5-1 1.5,1.8 1.5-1 1.5-.5 1.5-4.3 1.5-.2 1.5,.2 1.5-.4 1.5-.2 1.5,1.1 1.5,2 1.5,1.6 1.5,3.6 1.5,.4 1.5,1.3 1.5,1.1 1.5-2.2 1.5-.4 1.5-1 1.5,.3 1.5-3.8 1.5,.2 1.5-1.8 1.5,.6 1.5-2.9 1.5,1.7 1.5,.1 1.5,1.6 1.5,.8 1.5-.2 1.5,0 1.5,1.3 1.5-1.5 1.5-1.3 1.5,.8 1.5-.5 1.5-1.9 1.5-.2 1.5,.4 1.5,2.5 1.5-.6 1.5,1.3 1.5-.8 1.5,.6 1.5-.3 1.5,.4 1.5-1.4 1.5,1.1 1.5-.3 1.5-1.6 1.5,.9 1.5,1.3 1.5,.6 1.5-1.4 1.5,1.4 1.5,.8 1.5-.9 1.5,1.3 1.5,1.6 1.5-2 1.5-2.3 1.5,.1 1.5-2.6 1.5-.4 1.5,1.5 1.5,.9 1.5,.4 1.5-.3 1.5-1.8 1.5-1 1.5-1 1.5,1.2 1.5-1.4 1.5,3.1 1.5-2.1 1.5,1 1.5-.9 1.5,1.3 1.5-2.1 1.5,3.7 1.5-.9 1.5-.1 1.5,1.1 1.5,1.6 1.5-2.1 1.5-8.9 1.5-8.8 1.5-5.9 1.5-7.4 1.5-1.8 1.5-4.6 1.5-1.7 1.5-3.5 1.5,.7 1.5-2.2 1.5-2.7 1.5,.9 1.5-.6 1.5-.8 1.5-.6 1.5,1.2 1.5-3 1.5,1.4 1.5,.3 1.5,1 1.5-1.2 1.5,1.1 1.5-2.4 1.5,1.3 1.5-.6 1.5,2.7 1.5-.8 1.5,1.6 1.5-3 1.5,1.6 1.5-1.5 1.5,1.1 1.5-.9 1.5,.5 1.5-2.3 1.5,.2 1.5-1.6 1.5,1.4 1.5,.8 1.5-1.2 1.5-.3 1.5-.8 1.5,.4 1.5-1.8 1.5,2 1.5,.6 1.5,1.2 1.5-2.9 1.5,2.9 1.5-.6 1.5,.5 1.5,1.1" fill="none" stroke="#7c7c7c" stroke-width="0.5" stroke-linejoin="round" />
<path d="M361,150l1.5,.9 1.5,1.9 1.5-1.8 1.5-.7 1.5,1.4 1.5,.1 1.5-.3 1.5-.3 1.5-.1 1.5-1.2 1.5,1.3 1.5,1.8 1.5-1.2 1.5,.4 1.5-.8 1.5-1.4 1.5-.6 1.5,2.8 1.5,17.6 1.5,20.7 1.5,8.4 1.5,2.2 1.5,.3 1.5-.2 1.5-1.3 1.5,1.6 1.5-.4 1.5,2.1 1.5,1 1.5,1.7 1.5-2.8 1.5-.2 1.5-1.8 1.5-.9 1.5-.7 1.5-1.2 1.5-.1 1.5-.3 1.5-.4 1.5,0 1.5,.7 1.5-.4 1.5,1.7 1.5-.5 1.5-.2 1.5,.7 1.5,.7 1.5-2 1.5,2.9 1.5-.5 1.5,2.2 1.5-.3 1.5,.9 1.5,.6 1.5,1 1.5-1.4 1.5-2.3 1.5-.8 1.5-2.7 1.5,.1 1.5,.3 1.5,1.7 1.5-.6 1.5,1 1.5-.4 1.5-.2 1.5,1.7 1.5,1.1 1.5-.6 1.5-.8 1.5-.1 1.5-2.3 1.5,1.7 1.5-1 1.5,2.8 1.5-.5 1.5,1.5 1.5-.4 1.5,.9 1.5-1.4 1.5,.2 1.5-.1 1.5-2 1.5-1 1.5-2 1.5,.2 1.5-.6 1.5,2.2 1.5,2.8 1.5,3.7 1.5-1.1 1.5,.5 1.5-1.6 1.5-3.6 1.5-.3 1.5,1.9 1.5,.6 1.5,2.1 1.5,2 1.5-1.9 1.5-.4 1.5-.7 1.5-1.5 1.5-1.8 1.5,.8 1.5-.5 1.5,0 1.5-.8 1.5,1.1 1.5-2.2 1.5,.9 1.5,.2 1.5,2.2 1.5,.1 1.5,2.6 1.5-.6 1.5,.1 1.5-3 1.5-.4 1.5-1.5 1.5-2.4 1.5-.2 1.5,.5 1.5,.8 1.5-9.9 1.5-6.9 1.5-5.5 1.5-3.5 1.5-3.8 1.5-4.6 1.5-2.2 1.5-1.5 1.5-1.3 1.5-.8 1.5-2.3 1.5-3.1 1.5-.4 1.5-1.3 1.5-.1 1.5,2 1.5,1.7 1.5-1.5 1.5-.8 1.5,0 1.5,.2 1.5-.7 1.5-1.3 1.5,1 1.5-.6 1.5-.6 1.5,1.3 1.5-.5 1.5-1.8 1.5-.4 1.5-2.1 1.5,.1 1.5,1.8 1.5,1.5 1.5,.3 1.5,3.7 1.5-.2 1.5-1.3 1.5-2.4 1.5-3 1.5-1.8 1.5,.6 1.5-.9 1.5,1.9 1.5,1.5 1.5-.3 1.5-.7 1.5,1.7 1.5-1.4 1.5,1.5 1.5,.1 1.5-2.1" fill="none" stroke="#7c7c7c" stroke-width="0.5" stroke-linejoin="round" />
<text x="37.4" y="246.9" font-size="10.95" font-weight="bold" fill="#c91a20" text-anchor="start" >F1304ANAP Fluorescence</text>
<text x="37.4" y="337.8" font-size="10.95" font-weight="bold" fill="#ff8412" text-anchor="start" >L1319ANAP Fluorescence</text>
<path d="M13,302.1l1,2.2 1,1.6 1-2 1,.7 1-2.4 1,1.6 1-.4 1,2.3 1-1 1,0 1-.5 1-.3 1,1.4 1,2.2 1-5 1-1.7 1,7.9 1-1.2 1-1.5 1-.2 1-1.1 1,0 1-1.3 1,2.3 1-1.1 1-2.3 1,2 1-.5 1,.2 1,4.6 1-.8 1-7.1 1,5.8 1,.6 1,.6 1-1.1 1-4.9 1,4.4 1-1.6 1,2.7 1-1.2 1-3.4 1,5.5 1-5.7 1,3.9 1-.8 1-1.6 1-3 1,2.8 1,.5 1,1.3 1-.2 1,3 1-1.9 1,1.1 1-4.1 1,1.9 1,2.5 1-.2 1-.3 1-2.1 1-1.3 1,4.2 1-4.5 1,.2 1,3.5 1-3 1-1 1,3.1 1-2.1 1,2.1 1-2.3 1-1.1 1,5.1 1-2 1-1.4 1,0 1-1.5 1,1.3 1-.7 1,3.6 1-.1 1-2.7 1-.1 1,1.7 1-.3 1,.9 1-.3 1-.3 1,.2 1-2.8 1,3.2 1-5.3 1,3.5 1-.1 1,.9 1-.8 1,.7 1-3.6 1,2.6 1-1 1,1.9 1-.3 1-1.4 1-.6 1,.3 1,.7 1,.7 1,.8 1-2 1-1.6 1,0 1,2.3 1-1.9 1,1.2 1-3.1 1,5.2 1-1.6 1-1.4 1,1.3 1,1.3 1-1.3 1,.9 1-.1 1-1.9 1-.7 1,4.2 1-2.3 1,2.7 1,.1 1-2.4 1-.4 1,.2 1,3.7 1-2.7 1-.5 1,1.7 1-3.4 1,.4 1,.1 1,.8 1-2.6 1,1.1 1,1.2 1-2 1-.7 1,2.2 1-2.3 1,1.4 1,1.7 1-.7 1,2.9 1-3.5 1-2.4 1,3.4 1-.1 1,.9 1-3.4 1,2.4 1,2.3 1-1.9 1,1.4 1-3 1,1.9 1-.6 1,2.5 1-4.2 1,3.9 1-1.8 1-.1 1-.9 1-.1 1-.5 1,2.9 1-1.1 1,3.4 1-1.2 1-.1 1,1.2 1-2.2 1,1.5 1-4.2 1,1.9" fill="none" stroke="#222" stroke-width="0.45" stroke-linejoin="round" />
<path d="M13,304l1-.3 1-3 1,4.3 1-1.8 1,1.5 1-2.4 1,2.9 1,.7 1-1.2 1-.6 1-.2 1,3.2 1-3.1 1-1 1,.8 1,1.3 1-.8 1,.2 1,.5 1,1.8 1,.7 1-4.2 1,.3 1-.3 1,2.2 1,.9 1-.9 1-1.7 1,1 1-1.9 1,1.1 1-.1 1-1 1,.9 1,2.2 1-2.3 1,.9 1-.8 1-3 1,4.3 1-3.3 1-1.3 1,3.3 1,0 1,1 1-.5 1,1.8 1-2 1,1.3 1-.4 1-3.5 1,2.7 1,.5 1,.1 1-.4 1,.2 1,3 1-1.9 1-2 1,2.5 1-1.1 1-.8 1-.3 1-3.4 1-.3 1,2.9 1,3.3 1-.5 1-3.8 1,3.5 1,1.1 1-4.8 1,1.1 1-1.4 1,.7 1-1.4 1,1.6 1,2.1 1,.2 1,.6 1,.2 1-1.9 1-3.1 1,3.9 1-.1 1-1.4 1,4 1-2.9 1,2.1 1-.2 1,1.4 1-5 1,.1 1,.9 1,2.7 1,.9 1-3.2 1,.5 1,2.4 1-3.6 1,1.1 1,.8 1-.2 1-1.6 1,1 1-.9 1-.6 1-.7 1,2.3 1,2.3 1-3.1 1-.2 1,.9 1-2 1,1 1,.8 1-.3 1,1.4 1-1.1 1-.7 1,1.6 1,.7 1,1.4 1-4.8 1,1.1 1,5 1-3.3 1,2.5 1-1.8 1-1.5 1-.6 1,.1 1,2.7 1-5.2 1,1 1,2.3 1,.3 1-1.5 1,.2 1-.6 1,.9 1,3.2 1-2.6 1,.2 1,1.3 1-1.5 1-2.6 1,5.6 1-4.8 1,2.4 1,1.9 1-4.4 1,3.8 1-2.3 1-.3 1,1.5 1-.8 1-1 1,.6 1,1.6 1-1.4 1-1.1 1,1.2 1-.1 1-1.6 1,2.4 1-1.2 1,1.6 1-.5 1-.3 1-.5 1,2.8 1-.5 1-.2 1-.7 1,2.3 1-3 1-1.1 1,3.3 1-2.4 1,0 1,2.1 1,.2" fill="none" stroke="#222" stroke-width="0.45" stroke-linejoin="round" />
<path d="M13,304.6l1,2.6 1-2.1 1,1.4 1-2.5 1,3.5 1-2.9 1,.8 1,.3 1-3 1,3.2 1-3 1,.2 1,3.9 1-3.1 1-1.5 1,.9 1,.2 1,.5 1,.4 1-2 1,3 1,.5 1,2.1 1-2 1-2.2 1,1 1,.2 1-2.2 1,.2 1-.4 1,3.2 1-1.2 1,1.6 1-1.7 1,.4 1,2.7 1-3.4 1-.1 1,.1 1-1.5 1-.1 1,.4 1,.7 1,2.1 1-1.1 1,.4 1-1.1 1,2.6 1,.5 1-2.4 1-1.7 1,1.6 1-1.6 1,1 1,1.4 1-2.3 1,2.6 1-2.1 1-2.7 1,1.9 1-.9 1,.6 1-.7 1,2.6 1,.2 1,.5 1-1.2 1-1 1-1.2 1,2.3 1-.1 1-1.4 1-.5 1,2.1 1,.8 1,1.6 1-1.8 1-.4 1-.2 1-2 1,3.4 1,0 1-4.1 1,2.8 1,.8 1,.1 1-1 1-.3 1-1.3 1,1.9 1-1.2 1-2.4 1,1.8 1-2.2 1,1.9 1-2.6 1,3.2 1-3.3 1,1.6 1,3.7 1-4.9 1,5.1 1-2.5 1-.4 1,1.9 1-.2 1,1.9 1-1.4 1-2 1,3.3 1-1.4 1-.9 1,.5 1,1.8 1-2.2 1,3.7 1-.4 1-3.4 1,1.3 1,1 1-.7 1,.6 1-2.1 1-1.4 1,4.5 1-3.8 1-.9 1,5.6 1-3.4 1,1.7 1-1.3 1,.5 1-1.2 1,.9 1,3.4 1-3.6 1,1.7 1-2.5 1,1 1-.2 1-1.1 1,1.9 1-1.7 1-1 1-.4 1,.7 1,2.9 1-.5 1-2.8 1,2 1,1.8 1-4 1-2 1,1.4 1,4.9 1-7.1 1,6.4 1-2.6 1,1.1 1,.2 1-2.2 1,4.3 1-.1 1-4.4 1,3.8 1,.8 1-1.7 1-.9 1-.1 1,1.5 1,.4 1-2.8 1,4.1 1-2.1 1,4.7 1-3.7 1-2 1,1.9 1,.7 1,1 1-3 1,1.7 1-2.3" fill="none" stroke="#222" stroke-width="0.45" stroke-linejoin="round" />
<path d="M13,302.4l1-1 1,4.9 1-2.5 1,.1 1,2.8 1-1.2 1,.8 1-2.1 1-3 1,4.1 1-1.4 1-.3 1-2.6 1,2.4 1-1.9 1-1.7 1,3.3 1,1 1,.6 1,.7 1-.7 1-1.8 1,3.2 1,.7 1-3 1-2.5 1,1.8 1,1.5 1,0 1-1.7 1-.8 1,1.7 1,.4 1-.8 1-.2 1-1.8 1,1.2 1,.3 1,.4 1,.9 1-1.4 1,.4 1-1.9 1,3.7 1-3.5 1,.2 1-.5 1,.6 1,1.7 1-.6 1,3 1-4.6 1,1.5 1,3.1 1-3.2 1-.1 1-1.1 1,3.2 1,1.1 1-.5 1,1.6 1-3.3 1,.5 1-3.5 1,5.9 1-1.7 1-2.7 1,.9 1,.7 1-2 1,.5 1-1.8 1,.8 1-1.6 1,3.3 1-3.2 1,4.7 1-1.5 1,2.4 1-4.6 1,2.5 1-.9 1,1.5 1-.8 1,.6 1-1.9 1,2.8 1-.5 1,.8 1-1.4 1,.7 1,3.4 1-4.2 1,0 1-1.1 1,2.2 1-1.2 1-.3 1,.5 1,.5 1-1 1,2.6 1-3.9 1,2.1 1-3.1 1,5 1-2.6 1-.2 1-.9 1,.9 1,2 1,.8 1-4 1,1.8 1,2.2 1-3.4 1,1.8 1,.9 1,1 1,3.9 1-4.9 1-.7 1,2.4 1-5 1,2.8 1,.2 1-1.1 1,2.8 1,.8 1-2 1-1.9 1,.2 1,0 1-1.6 1,2.5 1-.9 1-.5 1,.6 1,1.5 1,.2 1,.7 1-2.7 1,3.6 1-.9 1-2.2 1,.8 1-.6 1-.9 1-.9 1,3.9 1-6 1,6.4 1-4.3 1,3.1 1,1.1 1-2 1-3 1,1.4 1-1.8 1,4.8 1,2.3 1-1.9 1-1.9 1-.7 1,3.1 1-2.1 1,.5 1,1 1-2.3 1-.6 1,.2 1,3.6 1-2.4 1-2.6 1,.1 1,1.9 1-.7 1,1.1 1,1.9 1-3.5 1-.3 1,1.7 1-.6" fill="none" stroke="#222" stroke-width="0.45" stroke-linejoin="round" />
<path d="M13,306.1l1-2 1-.5 1-2.6 1,.4 1,4.7 1-.5 1-2.8 1-.5 1-1.2 1,4 1-1.7 1,1 1,.7 1-4.1 1,1.1 1,2.3 1-.7 1,2.9 1-2.9 1,.4 1,1.2 1-.4 1-.1 1,.7 1-4.8 1,1.6 1,1.3 1,.1 1,2.3 1-3 1,.9 1,.9 1-1 1,.6 1-3.8 1,1.4 1,3.2 1-2.9 1-2.3 1,3.2 1,1.6 1-3.2 1-.5 1,0 1,2.1 1-1.2 1,3.6 1,.6 1-2.8 1,.3 1,.9 1-1.6 1-.2 1,2.3 1-2 1,3 1-2.9 1-1.2 1,.6 1,1 1-1.3 1,.3 1-2.4 1-2.8 1,0 1,1.1 1-.2 1,3 1,.7 1-3.3 1,1.5 1,1.3 1,1.7 1,2.3 1-1.6 1-.8 1-.7 1,2.7 1-1.7 1,.6 1-.9 1,1.3 1,.1 1-2.4 1-.9 1,2.7 1,.5 1-2.2 1,.7 1-3.3 1,2.7 1,1 1-.6 1-1.4 1-1.4 1,2.8 1,.9 1-2.6 1,.1 1-2 1,5.4 1-.9 1-.8 1-.3 1-1.2 1,2.3 1-3.7 1,3.1 1,.6 1-.4 1-.6 1,2.2 1-3.7 1,2 1-1.2 1,1 1-1.5 1,3.5 1-3.7 1,3.6 1-.8 1-.1 1-1.5 1-1.4 1,3.4 1,.4 1-4 1,2.6 1,.8 1-2.4 1,1.5 1-1.3 1-2.3 1,1.3 1,1.4 1,1.9 1,.1 1-2.5 1,.7 1-.9 1,3.7 1-2 1,0 1,2 1-.1 1,.4 1-3.2 1,1.4 1-2.7 1,2.3 1,5.5 1-5.7 1-.5 1,.5 1-1 1,2.6 1-.5 1-1.6 1,2.3 1,.8 1-3.6 1,1.1 1-.6 1,2.8 1,3.2 1-1.9 1-1.6 1,.7 1-1.2 1,1.7 1-.6 1,1 1-.9 1,1.2 1-.5 1-.5 1,.2 1,0 1-.4 1-.2 1-4.5 1,2.4 1-1.1" fill="none" stroke="#222" stroke-width="0.45" stroke-linejoin="round" />
<path d="M13,304.5l1-.8 1,4.1 1-2 1,3.3 1-4.2 1,.8 1,.3 1,.4 1-1.6 1,.7 1,1.3 1-4.3 1,.7 1,2.5 1-2.9 1-3.1 1,2.5 1,4.7 1-.6 1-2.7 1-1.2 1,.8 1-2.2 1,2.8 1-2.9 1,2.6 1-1.3 1-1.2 1,.2 1,1.2 1-.7 1,.5 1,5.7 1-5.7 1,.9 1,.1 1-3.3 1,4.6 1-2 1,0 1,3.2 1,.8 1-4.4 1,1.5 1-.1 1-.8 1,0 1-3.3 1,3.7 1-4.1 1,1.6 1-1.2 1,2.5 1-1.6 1,3.3 1-3.5 1-.7 1,4 1-1.4 1-.1 1-.2 1-2.2 1,.5 1,1.4 1-1.1 1-.7 1,4.2 1-6 1,4.6 1,.1 1-5.1 1,2.9 1,2.8 1-2.8 1,1.2 1-.4 1,1.2 1-.6 1-1.7 1,.9 1-2.1 1,1.6 1,2.5 1-4 1,2.3 1,2.3 1,1.2 1-9.3 1,6 1-4.4 1,5 1-2.5 1,3.5 1-2.2 1,3 1-6.1 1,3.7 1-1.1 1,.6 1-1.2 1,3.7 1,0 1-1.4 1,2.6 1-1.8 1,.4 1,.7 1-4 1,1.8 1-2.6 1,2.2 1-.2 1,1.6 1,.5 1-1.4 1,1.1 1-2.7 1,1.1 1,2 1,1 1-.2 1-2.7 1,1.8 1,2.6 1-5.1 1,.6 1,3.6 1-2.3 1-4.2 1-.1 1,3.2 1-.6 1-1.3 1,1.4 1,2.2 1-4.1 1,2.5 1-1.7 1-1.7 1,3.8 1,1.9 1-1.4 1,1.4 1,1.9 1-4.7 1,2.9 1,2.4 1-3 1-2.5 1,2.2 1,1 1,2.1 1-.3 1-1.4 1,.1 1-.3 1,0 1,.8 1-1.6 1,.2 1-.1 1,.2 1-3 1,2 1-2 1,1 1,0 1,1.9 1,.4 1-1.7 1-1.2 1,6.7 1-3.9 1-2.9 1,3.2 1-.9 1,3.2 1-3.1 1,3.6 1-.5 1-3.7 1,3 1,1.5" fill="none" stroke="#222" stroke-width="0.45" stroke-linejoin="round" />
<path d="M13,303.6l1,.9 1-2 1-.8 1,1.7 1-1.9 1,1.4 1,1.2 1-.9 1,3.7 1-2.6 1-1.2 1-1 1,.9 1,1.4 1-.1 1-2.7 1,.3 1,.4 1,1.1 1,1.3 1-2.6 1,.1 1-3.1 1-2.2 1,4.6 1-1.3 1-2.2 1-1.8 1,3.8 1-.3 1-1.6 1,4.2 1-1.9 1-2 1,.8 1-.5 1,3 1-1.2 1-.6 1,.2 1,3.8 1,.1 1-3.8 1,.1 1-1.2 1,1.5 1,.6 1,3.5 1-4.7 1,1.6 1-3.7 1,1.7 1,1.3 1-.9 1,.1 1,0 1,3.9 1-4 1,.3 1-.5 1,1.7 1,3.1 1-2.7 1-1.2 1-1 1,2.2 1,2.1 1-.7 1-1.9 1,.1 1-2.5 1,1.9 1,4.3 1-4.1 1-1.6 1,.2 1-.7 1,1.1 1,1.5 1-1.3 1-1.4 1,2 1,.1 1,.2 1-2 1,.3 1,0 1,3.1 1,.6 1-2 1-1.3 1,3.6 1-2.7 1,3.3 1-2.7 1,0 1,.8 1-2 1,0 1,.1 1,.6 1-.1 1,.6 1,1.3 1-2.9 1,2.6 1,2 1-.2 1-1.7 1,.5 1,1 1-.3 1-2.6 1-2.2 1,.6 1,1.2 1,.1 1,1.9 1-1.7 1-3.4 1-.3 1,3.3 1-1.1 1,1 1-3.4 1,1.8 1,1.4 1-.8 1-2.2 1,1.5 1,.3 1,.2 1,2.3 1-1.8 1,1 1-2.2 1,2.8 1-1.2 1,3 1-1.8 1,.4 1,1.2 1,3.4 1-3.6 1,.7 1,1.8 1-.1 1,.9 1,1.6 1-2.3 1-2.5 1,2.5 1,3.2 1-2.6 1-.6 1,.4 1-.3 1,1.1 1-.3 1,1.2 1-4 1,2.2 1-.7 1-2 1,.7 1-1.1 1,1.2 1,2.5 1-.6 1-.8 1-.7 1,.2 1-1.1 1,.7 1,2 1,0 1,.3 1,0 1-1.1 1,1.3 1,2.3 1-3.3 1,.8" fill="none" stroke="#222" stroke-width="0.45" stroke-linejoin="round" />
<path d="M13,304.7l1-.8 1,.7 1-1.6 1-3.4 1,6 1-.4 1,.6 1,1.4 1-.5 1-1.6 1,1 1-3.7 1,1.2 1,.6 1-1.5 1,.4 1,2.7 1-2.7 1,2.5 1-2.8 1,1.9 1-2 1,.1 1-1.3 1,1.5 1-1.6 1,1.9 1-2.1 1-4.4 1,2.8 1,1.4 1-1.4 1,1.6 1,3.4 1-2.4 1-2.3 1-2.9 1,2.7 1-.1 1,2.8 1-2.6 1-1.4 1-1.9 1,4 1-.7 1,1.5 1-2.7 1,2.2 1,.4 1-3.2 1,.8 1-.4 1,.9 1,2.7 1-3.7 1,1.2 1,2.1 1-1.5 1,0 1-.3 1,1 1-1.4 1,.4 1,2.3 1-4.5 1,4.5 1,.4 1-3 1-.5 1-3.6 1,6 1-1 1-4.1 1,2.8 1,.4 1,.1 1-.4 1-2.8 1,1.3 1-.1 1,1.1 1-.9 1,.8 1-.4 1,2.6 1-1.2 1,.2 1-.2 1-.1 1,.6 1-3.5 1,2.4 1-.3 1,2.4 1-1 1-.2 1,1.2 1-1.6 1-1.7 1,3 1,.8 1-2.4 1,3.1 1-2.9 1,1.3 1,.9 1-1.8 1,3.4 1-3.8 1-.7 1,1.2 1,1 1-3.9 1,1.8 1,.9 1-.3 1-1.3 1,0 1,1.8 1-2.8 1,2.2 1-1.4 1,2.2 1,.3 1-.9 1,.5 1-1.9 1-.7 1,2.8 1-3.1 1,1.1 1,.3 1,.9 1-2.2 1,.8 1,.1 1,1.7 1,.9 1-1.2 1,.8 1,2.6 1-2.6 1,2.6 1,1.5 1,.4 1,1.2 1,.3 1-3.7 1,4.5 1-2.4 1,1.9 1-3.1 1,3.2 1-2 1-.6 1-2.3 1,3.3 1,1.4 1-2.1 1,2.4 1-1.4 1,.2 1,.6 1,.1 1-1.5 1-.8 1,1.7 1,.5 1-4.3 1,.8 1-.8 1,1.9 1-1.4 1-.4 1,3.8 1-.7 1-1.3 1,1.4 1-.5 1-1.7 1,3 1-1.4 1-.3" fill="none" stroke="#222" stroke-width="0.45" stroke-linejoin="round" />
<path d="M13,306l1-1.2 1-1.6 1,2.2 1-2.3 1-1 1,3.1 1,.9 1,2.4 1-4.5 1,0 1-.4 1,3.8 1-.5 1-4.8 1,5.8 1-3.5 1-1.1 1,.7 1,.3 1-3.2 1,1.8 1-3.1 1,2 1-.9 1,.1 1-1 1-2.3 1-1.1 1,4 1-5.2 1,2.5 1-.6 1,1.7 1-1 1,.3 1,1.3 1-3 1-2.3 1,4.4 1-2.2 1-.4 1,1.1 1,2.1 1-2.6 1-2.5 1,3.2 1,1.3 1-.9 1-.2 1-2 1,4.5 1-5.3 1,4 1-.7 1,1.5 1,.7 1-3.6 1,1.2 1,2.5 1-3.6 1,2.6 1-3.1 1,.3 1,1.9 1,.6 1,2.8 1-2.6 1-1.3 1,0 1-2.9 1,1.6 1,1 1,.9 1-2.5 1,.6 1,3 1-2.1 1-2.6 1,4.9 1-2.7 1-.5 1,2.2 1-2.4 1,.9 1-1.8 1,1.2 1,.5 1-.7 1-2.5 1,2.3 1,1.4 1-.2 1-.3 1-.2 1-1.2 1-3.8 1,5.5 1-.6 1-.8 1,.6 1-1 1,1.3 1,2.7 1-1.8 1,.5 1-1 1,4.9 1-5.8 1,.9 1-.3 1-3 1,5.3 1-1.9 1-1.6 1,.2 1,.7 1,1.5 1,2.1 1-1.3 1-3.3 1,3 1,1.7 1-4 1,1.8 1-2.1 1-.8 1-.7 1,2.6 1-3.1 1,1.4 1,1.5 1-3.5 1-2 1,4.3 1,2.4 1-1.6 1-.8 1,3.6 1-1.6 1,1.7 1,1.1 1,1.2 1,2.1 1-4.7 1,1.7 1,4 1-1.8 1,1.9 1,1.2 1-2.2 1-.4 1,.9 1,.6 1-3.5 1,3 1-1.2 1-1.9 1,5.3 1-1.4 1-1.3 1-1.2 1,.1 1,.8 1,.7 1,.4 1-3.4 1,3.9 1-.3 1,1.9 1,.3 1-4.5 1,.9 1-1.2 1,1 1-.9 1,2.7 1-1 1,.2 1,1.5 1-3.6 1,2.3 1-.7 1-1.8" fill="none" stroke="#222" stroke-width="0.45" stroke-linejoin="round" />
<path d="M13,303.3l1-1 1,3.7 1,1.4 1-2.8 1-2.1 1,2.6 1,.2 1,1.4 1-1.5 1,.2 1,.7 1-1.2 1-.1 1,.9 1,.3 1,2.1 1,1.2 1-3.8 1-1 1,2.1 1-3.3 1-1.5 1-1.2 1-2.8 1-1.7 1,3 1-2.1 1-1.4 1,2.1 1-2 1-2.5 1,.2 1,1.2 1-1.3 1-3.2 1,1.3 1-1.2 1,1.5 1-1.8 1,4 1-3.1 1,.8 1-1 1,2.4 1-2.1 1,1.6 1-1.8 1,.6 1,3.3 1,1.8 1-2.3 1,1.8 1-1.8 1,.3 1-2.8 1,2.8 1-1.5 1-2.1 1,4.6 1-2 1-1.5 1,1.5 1-1 1-.2 1-.3 1,4.3 1-3.3 1-1.4 1,2.9 1-2.1 1,3.2 1-2.5 1,.9 1-.9 1,.6 1,.5 1,2.1 1-3.6 1-1.5 1-1.5 1,5.5 1-.8 1-1.4 1,1.3 1-.9 1,1.1 1-.4 1-1.4 1-3.3 1,3 1-.5 1-.2 1,2.7 1-3.8 1,2.9 1-3.7 1,1.5 1,1.6 1,1 1-5.1 1,3.8 1,1.6 1,0 1,3.2 1-4.5 1,1.7 1,1.8 1-.4 1-.3 1,0 1-1.5 1-.2 1-4 1,2.8 1,2.2 1-.4 1-1.5 1,1.2 1-.2 1-1.2 1-.4 1,2.4 1-1.9 1,1.4 1-2.9 1-.2 1,2 1-2.3 1,2.5 1-2.8 1,.6 1,.2 1,.3 1-1.3 1,1.8 1-.7 1,1.1 1,4.1 1,.6 1,.5 1,.9 1,1.1 1-.7 1,.4 1,.8 1,1.8 1,1.1 1,1.4 1-3.5 1,.7 1-.3 1,3.2 1-1 1-2.1 1,4.3 1-.1 1-.4 1,.6 1-4.2 1,2.9 1-.6 1-.9 1,1.4 1-.6 1-1.2 1-.8 1,1.5 1-2.8 1,1 1,2.4 1-6 1,4.1 1,2.5 1-2.8 1,1.7 1-7.5 1,4.9 1,1.1 1-1.7 1,5.3 1-1.7 1-1.1 1,1.8" fill="none" stroke="#222" stroke-width="0.45" stroke-linejoin="round" />
<path d="M13,304.1l1,1.5 1,.1 1-.5 1,2.3 1-3.7 1,2.5 1,1.5 1-3.1 1,.8 1-2.6 1-1 1,4 1-1 1-.5 1-1.4 1,1.6 1,1.4 1-3.3 1,2.1 1,.2 1-3.3 1-3.5 1,1.5 1-1.9 1-2.6 1-.9 1-2.8 1,1.5 1-4.6 1,.8 1,.3 1,.1 1-.6 1,.8 1-.8 1,.9 1-.6 1,4.1 1-3.6 1-.7 1-3 1,1.6 1,1.9 1-2.7 1,3.2 1-3.6 1,3 1-1.7 1,1.2 1,1.1 1-4.3 1,2.1 1,1.3 1-2.6 1,3 1-.4 1,.9 1-2.7 1,.6 1-2.2 1,.3 1,2.9 1-3 1,5.6 1-3.7 1-1.2 1-.2 1,.8 1,.6 1-.4 1,2.2 1-2.1 1-1 1-1.1 1,1.7 1-1.3 1-2.1 1,1.7 1,.5 1,.7 1,.5 1-.2 1-1.3 1-1.3 1,1.4 1-1.5 1,.7 1,.5 1,.6 1,.7 1,0 1-.5 1,.4 1,1 1,3.8 1-6 1,.6 1,2.5 1-2.7 1,3.7 1-3.8 1,3 1-2.7 1-1.1 1,.2 1,2.9 1-2.4 1,.6 1,1.9 1,.7 1,.6 1-2.3 1,.5 1-3.4 1,2.9 1,.1 1-.3 1,1.3 1,.5 1-1.1 1,3.6 1-1.4 1-1 1-1.8 1,3.6 1-3.1 1-2.4 1,4.4 1-.2 1-4.6 1,1.2 1,1.4 1-.7 1,.8 1-2.4 1-.2 1,6.1 1,2.5 1,.7 1,.9 1,1.7 1,.6 1,0 1,4.4 1-2.3 1,1.8 1,2.6 1-6.1 1,5.6 1-3.6 1,1.1 1,3.4 1-1.9 1,1.6 1-2 1-.3 1-1 1,3.2 1,.4 1-2.2 1,3.4 1-4.6 1,4.4 1,.5 1-3.3 1,2 1-1.8 1,2.6 1,1.7 1-3.6 1-2.8 1,2.8 1,3.8 1-1.8 1-.2 1-1.2 1,.3 1-1.6 1,.9 1,1.9 1-.6 1-1.6 1-.9" fill="none" stroke="#222" stroke-width="0.45" stroke-linejoin="round" />
<path d="M13,302.8l1,1.9 1-2 1,4.7 1-.3 1-3.2 1,2.2 1-3.4 1,3.1 1,.5 1-2.4 1,1 1-3.4 1,1.8 1,1.2 1-1.4 1,1.5 1-2.4 1,3.4 1-.5 1,1.1 1-2.9 1-.6 1-4.8 1,1.3 1-7.6 1,.3 1-.3 1-2.4 1,2.1 1-6.5 1-.2 1,4.2 1-3.6 1,1.4 1-3.1 1-.8 1,3.8 1-3.1 1-.3 1,1 1,.5 1,1.4 1-1.4 1-2.7 1,1.3 1-1.8 1,2.7 1-1.1 1-1.9 1,1.6 1-1.5 1,3.2 1-1.6 1,1.2 1-1.1 1-1.1 1,1.5 1,.5 1-1.8 1-.7 1-1.3 1,3.5 1-2.8 1,1.5 1,1.1 1-3.5 1,3.4 1,.1 1-2.6 1-2.3 1,1.8 1-1.2 1,4.7 1-2.1 1-1.1 1,4.1 1-.2 1-2.1 1,1.1 1-4.4 1,7.6 1-3.1 1,.6 1-1.1 1,2.5 1,.3 1-1 1-1 1,.1 1,1.4 1-1.4 1,.9 1-.8 1-2.2 1,.2 1,2.2 1-4.1 1,3.3 1,1.3 1-.8 1-1.6 1,2.4 1,.3 1-3.4 1-.2 1,2.7 1-2.1 1,2 1-1.3 1,1.2 1-.9 1-2.1 1,1.8 1,2.5 1-2.6 1-1.1 1,1.3 1,0 1-1.8 1-.1 1,2.7 1-2.9 1,1.5 1,1.3 1,1.6 1-2.7 1-3.5 1,3.9 1,2.7 1-2.6 1,1.9 1-3 1-2.8 1,5.8 1-2.5 1,.9 1,1 1,3 1,4.7 1,3.3 1-.5 1-.6 1,2 1,.5 1,1.9 1-.1 1,3.9 1,.4 1-1.8 1,3.4 1-3.3 1,.8 1-2.8 1-.1 1,2.8 1,2.7 1,.6 1-4.2 1,3.1 1-.4 1,.2 1-3.1 1,2.2 1,1.1 1-.5 1,3 1-1.6 1,1.7 1-1.7 1,.7 1,1.6 1-.1 1-3.5 1,.1 1,.5 1,2.9 1-1 1,2.6 1-3.2 1,0 1-1.5 1,1.4 1,.2" fill="none" stroke="#222" stroke-width="0.45" stroke-linejoin="round" />
<path d="M13,305.7l1-1.3 1-.5 1,1.9 1-3.9 1,4 1-3 1,1 1-.1 1-.2 1,.5 1,1 1-1 1,0 1,1.3 1-2 1,1.7 1-.9 1-2.4 1-.1 1,3.8 1,1.9 1-6.6 1-2.2 1-1.9 1-3.2 1-1.3 1-1.5 1-.7 1-1.2 1-.3 1-5.9 1,2.1 1,.3 1-.5 1-6.4 1,5.7 1,.4 1-3.8 1-1.1 1-.1 1,2.9 1-5.4 1,1.4 1-1.8 1,2.6 1,.5 1-1.8 1,.1 1-2.7 1,1.8 1,.1 1-1 1-.6 1,1.2 1,.2 1,3.2 1-3.2 1-.1 1,2.6 1-1.7 1,.5 1-2.1 1,4.2 1-4.7 1,4.4 1-1.2 1-1.3 1,.4 1,1.1 1,2.5 1-2.7 1,1.3 1-1.1 1,2 1-5 1-.6 1,3.5 1-.7 1,.6 1,.3 1-1.5 1-.4 1,1.9 1-1.5 1,0 1,.1 1-2.2 1,.6 1,1.6 1,1.1 1-1.6 1,1.4 1-2.2 1,2.6 1-2.1 1,1.2 1,1.5 1-.9 1,2.5 1-5.8 1,2.6 1,2 1-2.9 1,1.2 1,1.6 1-4.1 1,4.4 1-1.2 1-2.5 1,1.7 1-5.8 1,7.7 1-1.3 1-2.1 1-1.2 1,3.6 1,.3 1,0 1,.6 1-1.4 1,1.8 1-2.6 1-1.5 1,2.8 1-2.1 1,2.8 1-.2 1,.7 1-4.3 1,3.8 1,1.1 1-1.2 1-.2 1-2.4 1,1.2 1-1.2 1,4.6 1,5.5 1,.5 1,1 1,2.5 1,1.9 1,1.5 1,3.4 1,2.1 1-1 1-.9 1,3 1-1.2 1,.5 1,1.2 1,.1 1,1.6 1,.5 1,3.2 1-4.4 1-.2 1-.7 1,2.7 1,1.1 1,1 1-.3 1,1.5 1-4 1,2.3 1-1 1,1.9 1-3.4 1,2.2 1,1.4 1-3.5 1-1.4 1,4.9 1-4.3 1,.3 1-.5 1,1.7 1,.2 1-2 1,3 1-.7 1-2.1 1,.7" fill="none" stroke="#222" stroke-width="0.45" stroke-linejoin="round" />
<path d="M13,305.2l1-2.2 1,1.6 1-.9 1,1.6 1,.1 1-2.9 1,1.5 1,1.3 1,.9 1-.5 1-1 1-1.1 1,3.6 1-.9 1-2.9 1-1.4 1,2.8 1-.7 1,1.2 1-1.3 1-9.4 1-9 1-3.4 1-3.6 1-.1 1,1.4 1-.9 1-3.6 1,1 1-1.5 1-.4 1,0 1,.2 1,2.8 1-3.2 1,2.1 1-2.6 1,1.9 1,.4 1-2.1 1-1.3 1,.2 1-1 1-1.6 1,4.2 1-1.8 1-.4 1,.8 1,.2 1-2.4 1,1.4 1-.9 1,.6 1-.5 1,.1 1-1.4 1,.7 1,.5 1-.2 1,3.1 1-6 1,1.3 1,2.9 1,.7 1-1.2 1-2.4 1,3 1-.2 1-1.1 1-1.4 1,3.4 1-2.5 1,1.5 1-2.3 1-2.5 1,2.3 1,2.6 1-2.1 1,2.6 1-3.6 1,2.1 1-5 1,3 1,.5 1-1.9 1,.8 1-.9 1,2.4 1,.4 1-2.9 1,2.9 1,.8 1-4.1 1,2.8 1,.5 1-1 1,2.7 1-2.9 1,.9 1,.3 1-.3 1-1.8 1-.8 1,2.6 1-2.9 1-.3 1,1.3 1-1.7 1,0 1,2.9 1-2.1 1,3.7 1-2.8 1-.6 1,2.2 1-3.8 1,2.8 1-.1 1-1.8 1,1.2 1,3 1-3 1-1.2 1,3.4 1-2.8 1-.9 1,3.6 1-4.2 1,2.1 1-.3 1,.6 1-2.9 1,5 1-6 1,2.3 1-2.6 1,8.2 1,5.9 1,5.5 1-.8 1,5.2 1,.6 1,2.7 1,3.5 1-1 1,3.8 1,2 1-1.7 1,1.9 1,.4 1-1.8 1,2 1-1.4 1,2.1 1,3.4 1-2.7 1,.5 1-.9 1,1.9 1-.7 1-1 1,2.7 1-2.7 1,3.5 1,.2 1-2.1 1-.9 1,.7 1-3.5 1,1.7 1,3 1-.6 1,1.1 1,.6 1-3.6 1,1 1-2 1,2.5 1-3.3 1,2.7 1-.4 1,2.9 1-.3" fill="none" stroke="#222" stroke-width="0.45" stroke-linejoin="round" />
<path d="M13,305.1l1,6.1 1-2.9 1-.2 1-3.8 1,4.1 1-1.1 1,.9 1-1.7 1,.2 1-2.3 1,.6 1,.3 1-4.5 1,3.8 1,0 1,.3 1,.9 1-1.4 1-.3 1,1.5 1-10.6 1-8.1 1-5.4 1-3.5 1,2.2 1-1.1 1,.8 1-2.2 1-.7 1,.1 1-5.5 1,1.9 1,.8 1-3.6 1-.9 1,4.8 1-1.1 1,.8 1-.6 1,1.1 1-2.3 1-2.3 1,.9 1,1.7 1-2.8 1,4.7 1-1.6 1-.4 1,.2 1,.9 1-2.5 1-.7 1-1.6 1,.8 1,2.1 1,1.6 1-2.9 1,1.2 1,1.9 1,2.5 1-6.7 1,3 1,1.2 1-2.3 1-.9 1,2.4 1-2.1 1-2.1 1,.2 1-1.3 1,1.8 1,2.8 1-4.2 1,2.3 1-1.8 1,.9 1-1.5 1,1.4 1-.8 1,0 1,1.9 1-3.7 1,2 1,.9 1,1.9 1-3.7 1,1.7 1-.7 1,.2 1-.2 1-.2 1,.3 1,1.2 1-.4 1-1.6 1,.9 1,.8 1-.9 1-1.7 1,1.8 1,2.8 1-2.4 1-1.1 1-3.4 1,2.9 1-1.4 1,.7 1,.5 1,2.2 1-.5 1-3.5 1,3.2 1-1.8 1,1.8 1-.9 1-5.1 1,4.6 1,.7 1-.7 1-1.6 1-1 1,1.6 1,1.1 1-.1 1,.8 1-2.2 1-3 1,6.2 1-3.3 1-.6 1,1.8 1-1.9 1,2.7 1-1.3 1,.3 1,1.9 1,6.1 1,2.8 1,4.7 1,2 1,1.1 1,3.1 1,3.7 1,.3 1,.1 1,3.1 1,1.8 1,.6 1,1.8 1-4.7 1,3.5 1,3.7 1-.4 1-1 1,.7 1-1.1 1,.8 1-.2 1,.5 1,3 1-1.4 1,.7 1,1.9 1-.5 1-1.4 1,1.8 1-3.4 1,3.8 1,.4 1-2.7 1,1.7 1-3.3 1,2.7 1-.5 1-.8 1-.9 1,1.5 1-.3 1,.8 1-1.6 1,2.4 1-1 1,.5" fill="none" stroke="#222" stroke-width="0.45" stroke-linejoin="round" />
<path d="M13,302.5l1,1.1 1-1.4 1,2.7 1-3.2 1,4.6 1-3.4 1,4.7 1-5.2 1-.4 1,1.7 1,1.1 1,0 1,3.9 1-5.9 1,1.2 1,.6 1-1.5 1-.1 1,0 1,1.5 1-11.9 1-7.6 1-3.7 1-1.5 1,.8 1-.7 1-3.4 1-1.6 1-.7 1,3.5 1-3.7 1-.4 1,.8 1-.1 1-1 1-.7 1,1.5 1,.2 1-2 1,.7 1-2.5 1,1.8 1-1.3 1,.9 1-1.4 1,.6 1,.5 1,3.1 1-2.2 1-1 1-.1 1-1.9 1-.6 1,.2 1-1.4 1,3.5 1,1.3 1-3.1 1,3.5 1-2.9 1,.8 1-3.3 1,3.4 1-.4 1-.4 1,.5 1-1.7 1,.7 1,.2 1-2.1 1,0 1,.1 1-.1 1-1.6 1,.9 1,3 1-3.1 1,1.8 1-1.7 1-.5 1-.9 1,3.1 1-4.3 1,1.5 1,3.9 1-.5 1-3.3 1,1.5 1,.1 1,.2 1-.4 1,.5 1-.2 1-.1 1-.1 1,2.9 1-1.8 1-1.6 1,5.1 1-5 1-.2 1-2.1 1,.3 1,4.4 1-.1 1-1 1-1.7 1,.3 1-1 1,1.2 1,.2 1-1.3 1,.3 1,.5 1,1.1 1,.5 1-1.8 1,1.2 1,1 1-.5 1-2 1,1.6 1-.2 1,.5 1-.2 1-1.9 1,.7 1,2.2 1,0 1,.7 1-1.2 1-.7 1-2.4 1,4.5 1-3.8 1,1 1,6.8 1,4.9 1,3.5 1,.3 1,3.7 1,.1 1,5.3 1-.6 1-1.3 1,4.5 1,2.3 1-.2 1,.4 1,2.5 1-.5 1,3 1,1.6 1,.7 1-.5 1-.7 1,2.3 1-1 1-1.6 1,.5 1-.6 1,2.8 1-1.9 1-1.3 1,1.1 1-2.4 1,3 1-.4 1-.2 1,1.6 1-1.3 1-2.4 1,.5 1,2.3 1-1.3 1-.2 1,2.6 1,1.6 1-4.9 1,3.5 1-1.3 1,.6 1-3.1" fill="none" stroke="#222" stroke-width="0.45" stroke-linejoin="round" />
<path d="M13,301.4l1-.4 1,5.9 1-1.2 1-.6 1-2 1,4.5 1-2.4 1-1.2 1,1.4 1-4.7 1,2.3 1,.1 1,.6 1,1.4 1,1.6 1-2.4 1-.2 1,3.7 1-2 1-1 1-11.4 1-8.1 1-3.7 1-3.4 1-2.1 1-1.9 1,5.5 1-1.6 1-5.5 1-.1 1-1.4 1-2 1,1.8 1-.9 1-1 1,4.5 1-1.4 1-2.8 1,1.1 1-1 1-.1 1-1.2 1,2.2 1-3 1,1.9 1-1.8 1-1.2 1,3.7 1-.4 1-4.7 1,4.4 1-1.3 1-.7 1,2.1 1-1.7 1,1.9 1-2.1 1,2.1 1-.2 1-.6 1,1.2 1,0 1,.1 1,1.6 1-3.6 1,3.3 1,2.6 1-2.9 1,0 1-3.5 1,.6 1,.5 1-2.5 1,2.7 1-1.3 1,1.9 1,.5 1-2 1,2.4 1-2.4 1-.5 1-1.7 1,.9 1,.3 1,1.9 1-3.1 1,1.5 1-.2 1,.1 1-2.6 1,3.9 1-2.4 1-1 1-.3 1,.9 1-.6 1,.7 1-2.3 1-1.1 1,2.2 1,.3 1,3.5 1-2.6 1-.3 1,2.1 1-4.3 1,2.9 1-.6 1-3.4 1,3.4 1-.8 1,1.3 1,.8 1-.4 1-.8 1,.6 1,.6 1-.9 1-.8 1,2.8 1-2.1 1,.4 1-.6 1-1.4 1,.5 1,.2 1-2.5 1,5 1-.8 1-2.6 1-1.3 1,5.1 1-3.2 1-.9 1,2.5 1-3.1 1,7.4 1,6.7 1,5.8 1-.2 1,6 1-.1 1,1.7 1,2.4 1,3.7 1,2.9 1-2.5 1,1.1 1,1 1-.3 1,3.8 1-2 1,1 1-3.3 1,3.5 1,1.9 1-1.7 1,.7 1,.6 1-4.3 1,1.5 1,.1 1,1.4 1-.7 1,3.9 1-2.1 1,2.4 1-6.2 1,2 1,.1 1,3.9 1-1.6 1,.1 1,.2 1-3.3 1,4.1 1-.3 1-.3 1-.5 1,1.1 1-1.1 1-1.1 1,2.1" fill="none" stroke="#222" stroke-width="0.45" stroke-linejoin="round" />
<path d="M13,305.3l1,.1 1-.5 1,0 1,1.4 1-4.7 1,2.3 1,.9 1,1.7 1-2.1 1,2 1-.1 1-2.9 1,3.4 1-.4 1-4.8 1,2.5 1-.8 1,4.2 1-3.3 1-.7 1-9.8 1-7 1-7.8 1-2.6 1,.1 1-2.6 1-.5 1-2.1 1,2.6 1-3.6 1,.5 1,2.3 1-1.7 1-.3 1-2.4 1-1.1 1,4 1-1.1 1-2.8 1-1.9 1,3.8 1,.9 1,.3 1-1.5 1-.3 1-1.4 1,2.5 1-3.3 1,3.5 1-.4 1-.4 1-1.4 1,4.9 1,.3 1-5.9 1,3.2 1-.9 1,.3 1-.8 1,1.3 1-2.7 1-.8 1-.3 1,1.9 1-.5 1-1.6 1,.6 1,.8 1-1.5 1,.4 1-.7 1,1.2 1,.4 1-.1 1-1.4 1-1.5 1,1.9 1-1.8 1,1.5 1,2.7 1-1.9 1,.5 1-1.7 1,1.5 1-.9 1,.5 1-.2 1-1.5 1-1.4 1,0 1,.3 1-.7 1,2.6 1-1.7 1,3.7 1-2.4 1,2.3 1-1.8 1,1 1-.2 1-2.6 1,.3 1,.9 1,0 1,.4 1-.5 1-.6 1,2.4 1-.1 1-3.3 1-.1 1-1.3 1,1.2 1,.1 1-.7 1,.3 1,.2 1,2.9 1-5 1,2 1-1.9 1-2.2 1,4.3 1-.4 1-1.4 1,2 1,.4 1-2 1,3.5 1-2.3 1,1.7 1,1.7 1-.6 1-2.2 1-.8 1-1.5 1,8.4 1,5.4 1,.3 1,7 1,.1 1,1.9 1,4 1,4.4 1,2.2 1-.1 1,2.1 1,2.2 1-2.9 1,4.8 1-.1 1,3.4 1-1 1-5.3 1,3.6 1-4.1 1,3.1 1,4.7 1-2.3 1-.6 1-.1 1-.3 1-1.1 1,3.8 1-1.7 1,1.4 1-2.4 1,2 1,2 1-2.3 1-1.5 1,2.8 1-1.7 1,3 1-2.8 1,3.6 1-.4 1-3.4 1,4 1,1.9 1-5.2 1,1.9 1-.3" fill="none" stroke="#222" stroke-width="0.45" stroke-linejoin="round" />
<path d="M13,305.6l1,.3 1-.8 1-.6 1,1.5 1,.5 1-.7 1-1.4 1,1.6 1,.2 1-.1 1,.4 1-2.1 1,3.3 1-3.4 1-.9 1,2.7 1-2.2 1-.7 1,1.9 1-1.1 1-12.7 1-6.2 1-6.9 1,.6 1-2.8 1-.1 1-2.5 1-.1 1-2.4 1-3 1,3.5 1,1.8 1-4.6 1-.5 1,3.3 1-3.2 1-1.6 1,2.8 1-1.8 1,.9 1,0 1-1.2 1,1.2 1-.3 1-2.2 1,3 1-3.9 1,1.4 1,2.9 1-3.8 1,2.8 1,.2 1,1.7 1-4.3 1,1.2 1,.2 1,.7 1-.9 1-4.1 1,3.9 1,.9 1-2.9 1,1.8 1-1.7 1-2.1 1,2.8 1-2 1,1.4 1,.1 1,4.4 1-4.6 1,1.6 1-.8 1-.1 1-.1 1,.2 1-.9 1,3.1 1-2.4 1-1.5 1,2.1 1-1.5 1-.6 1,1 1-2 1,1 1-3.3 1,5.4 1-1.4 1-1.8 1,3.6 1-1.9 1-.9 1,1.4 1-.3 1,2.2 1-4 1,.2 1,2.4 1-.2 1,.3 1,.8 1-2.7 1-.5 1,0 1,1.5 1,1.4 1,1.4 1,.4 1-3.7 1,0 1,1 1-3.3 1,1.8 1,1.1 1-.5 1,1.9 1-3 1,.5 1-2.5 1,.6 1,3.8 1-4 1,.1 1,.5 1-.1 1,.2 1,.7 1-.9 1-1 1-.1 1,4.7 1-1.4 1-2.6 1,1.4 1-2 1,7.4 1,5.2 1,5.8 1,4.2 1,5.6 1-2 1,4.5 1,1.8 1,.1 1,1.9 1,1.4 1,1.4 1,0 1,.6 1,1.4 1,1.9 1-1.5 1-1 1-.3 1,3.8 1,.2 1,.3 1-2.6 1,2.7 1,.6 1,.1 1-2.4 1,.1 1,4.3 1-4 1,.1 1-.6 1,1.8 1,2 1-4 1,3.6 1-.8 1,.2 1-1.7 1-1.7 1,3.8 1-.9 1-1.9 1,1.1 1,2.7 1-.6 1-1.4" fill="none" stroke="#222" stroke-width="0.45" stroke-linejoin="round" />
<path d="M13,301l1,2.7 1-1.5 1-.2 1,2.4 1,1 1,.4 1-3.4 1-1 1,1.7 1,2.3 1-.3 1-2.6 1,1.8 1,2.3 1,2.2 1-3.2 1-1.9 1,2.1 1-1.1 1,.7 1-13 1-10.3 1-.9 1-4.9 1-1.2 1-1.2 1-1.5 1,1.7 1-3.2 1,1.8 1-1.8 1-.9 1-.2 1-1.3 1-.6 1,1 1-.6 1-4.3 1,5.1 1-1 1-3.6 1-3 1,3.6 1,1 1-.7 1,1.5 1,1.9 1-1.9 1-3.2 1,3.4 1,.8 1-1.4 1-2.2 1,4.1 1-2.1 1-.5 1,.5 1,.7 1,.8 1-.6 1-3.4 1,3.8 1,2.7 1-2.8 1-4.5 1,2 1,.2 1-.2 1,.7 1-1.6 1,1.7 1-1.4 1,.2 1,3.1 1-2.2 1,.4 1-1 1,1.1 1,.1 1-3.1 1,.3 1,2.6 1-.8 1-1 1,1.8 1,.1 1-1.7 1,.8 1-2 1,.6 1-2 1,.7 1,1.8 1,1 1,.2 1-1.4 1,1.7 1-2 1-.7 1,.1 1,1.9 1-1.7 1,.3 1,0 1,.5 1,.8 1-2.5 1,1.8 1-1 1-.6 1,.4 1-1.1 1,3.7 1-4.6 1,1.5 1,.4 1-.1 1,2 1-.9 1,0 1,.3 1-1 1-1.3 1,2.6 1-.1 1-2 1,3 1-3.5 1,3.9 1-1.7 1-2.4 1,2.7 1-1.6 1-1.2 1-.6 1,4.6 1,3.6 1,7.3 1,.2 1,6.6 1,1.1 1,4.6 1,2.4 1-.6 1,3.1 1-.6 1,3.2 1,3.3 1,1.7 1-1.3 1,2.4 1-1.7 1,1.1 1-5.7 1,4.5 1,.5 1,2.3 1,1.1 1-2.1 1,0 1-2.5 1,.8 1-.1 1,.7 1,.8 1,3.2 1-2 1,.6 1-.3 1,.5 1-2.8 1,.7 1,2.8 1-.6 1-.6 1,.6 1,1.4 1-2 1,2 1-4.3 1,3.2 1-.1 1-3.4" fill="none" stroke="#222" stroke-width="0.45" stroke-linejoin="round" />
<path d="M13,305.6l1-2.7 1,1.4 1,.9 1-1.7 1,2.6 1,.4 1-.8 1,2.7 1-1.8 1-4 1,2.3 1,.5 1-2 1-.7 1,2.5 1-1.1 1,1 1,.1 1-1.1 1-2.1 1-9.3 1-10.3 1-6.5 1-.7 1,1.1 1-2.6 1,.4 1-1.2 1-1.5 1-3.6 1,3.1 1-.8 1-.4 1-.3 1-1.3 1,1 1-5 1,5.2 1-4.4 1,2.7 1-2.2 1,2.2 1-.6 1-.4 1-.9 1,1.2 1-3.8 1,4.9 1-1.9 1-1.2 1-.6 1,.9 1,1.4 1-.5 1-4.4 1,6.7 1-1.8 1-1.5 1-1.8 1-.5 1,3 1-.1 1,.1 1-1 1,2.2 1-1.9 1-1.1 1,4.4 1-3.3 1,1.3 1-.3 1-4 1,3.1 1-.8 1,2.8 1-3.3 1-4.3 1,3.1 1,2.3 1-5.1 1,1 1,4.5 1-4.1 1,1.7 1-.7 1-.5 1,3.6 1,.2 1,.7 1-2.2 1-4.7 1,2.5 1,1.4 1-4.2 1,4.6 1,.6 1-2.3 1,.8 1,.7 1-.8 1,.6 1-2 1,.2 1,.8 1-2 1,2.1 1-.2 1-2.4 1,.5 1,.5 1,1.5 1,2.9 1-1.7 1,.4 1-.1 1-1.9 1-1.7 1,1.2 1-1 1,.6 1,1.5 1-4.3 1-.1 1,2.5 1,1.2 1-3.5 1,3.8 1-2.2 1,.6 1,.7 1-.5 1,.1 1-1.7 1,1.1 1-1 1,4.7 1,4 1,.8 1,5.1 1,5.5 1,7.6 1,.1 1,4.2 1-.6 1,1.8 1,1.4 1,1.1 1,1.8 1,1.7 1-.5 1-.9 1,1.2 1,4.2 1,1.6 1,.2 1-1.8 1-.2 1,1.2 1-1.1 1,1.6 1,2.2 1-.7 1-2.5 1,2.7 1-.1 1-2.7 1,4.3 1-3.5 1-.3 1,3 1,1.2 1-2.8 1-3.7 1,.9 1,2.5 1-1.1 1,1.5 1-.4 1-.2 1-.2 1,1.7 1-1.3 1,1.1" fill="none" stroke="#222" stroke-width="0.45" stroke-linejoin="round" />
<path d="M13,308.6l1-5.3 1,3.6 1-1.2 1,.6 1-1 1,2.6 1-1.7 1-1.1 1,2.3 1,.8 1-4.4 1-.6 1,2.2 1,.1 1-2.3 1,0 1,1.2 1-.4 1,1.9 1-.7 1-11.6 1-12.7 1-1.8 1-2.1 1-1.5 1-2.6 1-4 1,2.1 1-2.2 1-1.4 1,2.1 1-2 1-1 1,3.1 1-5.3 1,1 1-1.9 1,3.1 1-.5 1,1.5 1-1.3 1-1 1-2.1 1,4.3 1-2.7 1,.1 1,3.1 1-4.3 1,3.2 1-.6 1-1.9 1,.1 1-2.2 1-.4 1,4.5 1-2.6 1,1 1-.6 1,1.7 1-4.8 1,.9 1,4.2 1-.4 1,.1 1-2.7 1-.4 1,1.9 1-2.4 1,2.8 1-4.2 1,4.3 1-4.2 1,1.5 1-.7 1,1.2 1,2 1-1.1 1-1.9 1,2.2 1-4.9 1,2.2 1,.8 1,3.2 1-2 1-3.3 1,1.7 1-1.7 1,3.2 1-.5 1-1 1,5.2 1-6.7 1,4.1 1,1.5 1-3.4 1-3.5 1,4.1 1-1.4 1,2.7 1-2.1 1,2.3 1-3.9 1-3.5 1,5.5 1-.7 1,1.2 1-1.1 1,.5 1,1.3 1-.7 1-.7 1-1.5 1,.8 1,.9 1,.4 1-.8 1-.6 1-2.3 1,2.6 1,2.2 1-3.9 1,.1 1-.6 1-.7 1,.7 1,1.4 1-1.1 1,.3 1-2.2 1,1.6 1-3.1 1,2.6 1,.9 1-2.8 1,3.3 1-.1 1,6.2 1,2.5 1,5.4 1,5 1,6.6 1,.4 1,6.6 1-1.4 1,5.8 1-1.7 1,1.2 1,.8 1,3.9 1-1.1 1,1.7 1-.5 1,1.8 1-1.4 1,2.9 1-2.6 1,2.2 1-.7 1,1.4 1-.5 1,2.5 1-6.5 1,1.9 1,.8 1-.4 1-1.8 1,6.5 1-2.8 1-.5 1,.9 1-3.3 1,1.3 1,2.4 1,.6 1,.8 1-2.6 1-1.3 1,1.3 1-.9 1-.4 1,.4 1-2.4 1,2.7" fill="none" stroke="#222" stroke-width="0.45" stroke-linejoin="round" />
<path d="M13,306.9l1-1.1 1-1.7 1-1.6 1-1.2 1-.3 1,2.6 1-4.1 1,3.3 1,0 1,3 1,.2 1-1.4 1,.3 1-2 1,1.3 1,.4 1-1.1 1,1.7 1-2.5 1-.2 1-11.1 1-11.1 1-4.2 1-4 1-.8 1-2.4 1,1.5 1-2.7 1,.9 1,0 1-1.7 1,1.4 1-1.1 1-2.8 1,2.2 1-1.7 1,.4 1-1.2 1,1.8 1-1.9 1,.5 1-1 1,2.5 1-.1 1-2 1,2.1 1,.8 1-1.4 1,.4 1,2.3 1-2.6 1-1.2 1-3.4 1,5.4 1-3.2 1-.4 1-3.4 1,5.9 1,.2 1-2.7 1-1.9 1,2.7 1,3 1-3.1 1-.3 1-1.3 1-1.1 1,1.1 1,1.3 1,0 1,.1 1-3.5 1,1.4 1,0 1,1.2 1,1.3 1-5.9 1,1.9 1,2.1 1-2.3 1,1.9 1-.1 1-.1 1,.7 1-1.1 1-.5 1,2.9 1-5.3 1,1.1 1-.2 1,3 1-3.4 1,3.4 1-3.3 1,4.2 1-1.6 1,2.7 1-3.4 1,3.2 1-2 1,.3 1,2.5 1,.4 1-1.2 1,1.6 1-4.4 1-.1 1-.8 1-.9 1,3.3 1,1.1 1,.7 1-2.1 1-1.7 1,1.1 1-.7 1-.1 1,2.5 1,.1 1-2.6 1-1.9 1,2.8 1,.1 1-2.5 1,.1 1,3 1-3.2 1,.8 1,3 1-3.8 1,2 1-.2 1,.2 1-1.4 1-.2 1,.8 1,5.7 1,2.4 1,6.5 1,3.5 1,4.1 1,4.8 1,3.1 1,3.7 1-2 1,2.9 1,.5 1,2 1,2 1-2 1,2.5 1,2.4 1,1.9 1-1.1 1,3.2 1-2.3 1,.6 1-2.5 1,4.1 1-1.4 1-1.4 1,1.3 1-.6 1,1.6 1-5.2 1,2.6 1-.6 1-.5 1,1.9 1,2.4 1-2.9 1,2.8 1-1.3 1,1.3 1,.2 1-3.8 1-.2 1,2 1-.1 1,1.2 1-1 1-.1 1-.2" fill="none" stroke="#222" stroke-width="0.45" stroke-linejoin="round" />
<path d="M13,303.1l1-.3 1,1.4 1-1.1 1,2.3 1-2.9 1,.1 1,3.4 1,2.1 1-6.5 1,.3 1,2.1 1-2.2 1,2.3 1,4.4 1-6 1,3.6 1-3.3 1,1.7 1,1.4 1-3.4 1-11.3 1-7.3 1-4.9 1-2.1 1-7 1,5.3 1-4.3 1,2.6 1-3.4 1,3.4 1-2.6 1-3.3 1,.9 1,1.6 1-2.3 1,4.8 1-3.8 1,1.2 1,.5 1-.9 1-2.7 1,1.7 1,2.1 1-6.5 1,3.2 1,.2 1,0 1,1.1 1-2.6 1,2.2 1-4.5 1,3.1 1-.7 1,2.5 1-1.6 1,1 1-3.2 1,2.1 1-1.5 1,.5 1-.9 1,2.6 1-.3 1,2.5 1-3.1 1,1.2 1-5.2 1,.7 1-.6 1,3.5 1-2.2 1,1.4 1,4.3 1-5.5 1,4.6 1-3.2 1-1.7 1,2.5 1,.9 1,.1 1-1.7 1,.6 1-3.9 1,.7 1-3.1 1,2.3 1,.4 1,1.3 1-2.3 1,.6 1,3.3 1-4 1,1.9 1,1.7 1-3.1 1,1 1-2.6 1,.4 1,3.7 1,3.4 1-4.5 1,2.3 1-2.3 1-1.6 1-.4 1,2.8 1-2.6 1,1.6 1-2.7 1,2.5 1-.9 1-.3 1,.8 1-.2 1-1.6 1,2 1-.6 1,.2 1,1.4 1-2.7 1,1.3 1-1.8 1,.7 1,3.5 1-.2 1-.3 1-1.6 1,0 1-6.9 1-.3 1,0 1,4.6 1,.1 1-2.1 1,5 1,3 1-.3 1,11.1 1,2.8 1-.3 1,7.4 1-.6 1,3.5 1,4 1,2.2 1-3.9 1,3.4 1,1.3 1,6.7 1-4.4 1-.6 1,.6 1,2.4 1,1.3 1,.6 1,.4 1,.2 1-1 1,.5 1-1.4 1,4.2 1,1.2 1,.2 1-3.5 1,.2 1,.6 1-1.9 1,4.1 1-.9 1-4.2 1,1.4 1,.6 1,.4 1,2.4 1,1 1-3.5 1,3 1-4.6 1,1.4 1-3.7 1,3.9 1-.9 1,1" fill="none" stroke="#f01515" stroke-width="1.5" stroke-linejoin="round" />
<path d="M15,349.5l1.5-1.2 1.5,2.3 1.5,.3 1.5,.7 1.5-.6 1.5-.5 1.5-.6 1.5-1.7 1.5-.2 1.5,.4 1.5,.7 1.5,2 1.5,1.3 1.5-2.3 1.5-1.2 1.5,1.3 1.5-2 1.5,.8 1.5,2.3 1.5,1.6 1.5-.9 1.5,1 1.5-2.8 1.5-.3 1.5-.8 1.5-1.1 1.5-.6 1.5,.9 1.5-.2 1.5-.1 1.5,.6 1.5-1.6 1.5,2.3 1.5,.3 1.5,1.2 1.5-.4 1.5,1.4 1.5-.6 1.5-1 1.5-1.5 1.5,.4 1.5-.7 1.5-1.2 1.5-.7 1.5,.1 1.5,.1 1.5,.4 1.5,.9 1.5-.3 1.5,1.9 1.5-1.6 1.5-1.2 1.5-.8 1.5,2.4 1.5,.6 1.5,2.7 1.5,0 1.5,.8 1.5-2.4 1.5-1 1.5-.8 1.5,1.5 1.5,.5 1.5,.2 1.5-.2 1.5-1.4 1.5-.5 1.5,.1 1.5,1.9 1.5,.5 1.5,1.4 1.5-2.3 1.5-1 1.5-.6 1.5-.4 1.5,.1 1.5,.7 1.5-.6 1.5,.6 1.5-.1 1.5,.1 1.5,1.8 1.5-.3 1.5-2 1.5-.7 1.5,.5 1.5-.9 1.5,.2 1.5,.9 1.5-.8 1.5,.2 1.5,1.4 1.5,.5 1.5-1.1 1.5,1.4 1.5-.5 1.5-2.7 1.5,.3 1.5,1 1.5,.4 1.5-2.6 1.5,1 1.5-.1 1.5,2 1.5-.1 1.5,1.9 1.5,1 1.5,.8 1.5-1.9 1.5-.3 1.5,.7 1.5-.5 1.5,.2 1.5,1.3 1.5-.1 1.5-1.3 1.5-.7 1.5-3 1.5,2 1.5-.1 1.5,2.8 1.5-.5" fill="none" stroke="#3a3a3a" stroke-width="0.5" stroke-linejoin="round" />
<path d="M15,351.4l1.5,.9 1.5-3.4 1.5-.9 1.5-1.7 1.5-1.5 1.5,.5 1.5,1.2 1.5,.3 1.5,1.2 1.5,1 1.5-2.2 1.5,1.1 1.5,.6 1.5-1.5 1.5,.6 1.5,.9 1.5,.3 1.5-.4 1.5,2.2 1.5-.5 1.5-.7 1.5-.9 1.5,3 1.5-1.9 1.5-1.7 1.5,1.7 1.5-.1 1.5-2.4 1.5,0 1.5,2.3 1.5-.7 1.5,.4 1.5,.5 1.5,.8 1.5-.8 1.5,.2 1.5-.9 1.5-.8 1.5-.4 1.5,.2 1.5,.4 1.5,.9 1.5,.5 1.5,.7 1.5,.5 1.5-1.9 1.5-.3 1.5,.3 1.5,0 1.5-1.7 1.5,1.6 1.5,.6 1.5-1.3 1.5-.1 1.5,2 1.5-.2 1.5,.4 1.5,1.2 1.5,.3 1.5-1.2 1.5,.9 1.5-.5 1.5,.2 1.5-.6 1.5,.6 1.5,1.5 1.5-.1 1.5-1.9 1.5,0 1.5-.4 1.5-1.6 1.5,.4 1.5,.4 1.5,.8 1.5-.4 1.5-.5 1.5-2 1.5,1.9 1.5,1.3 1.5,1.8 1.5-.3 1.5,1.7 1.5-1.5 1.5,0 1.5-.5 1.5,.9 1.5-1.1 1.5,2.3 1.5-.7 1.5-1.8 1.5-1 1.5,1.7 1.5-3.3 1.5-1.1 1.5,.8 1.5,.5 1.5-1.9 1.5-.9 1.5,1 1.5-.1 1.5,.7 1.5,1.3 1.5,1.2 1.5-.9 1.5-.7 1.5-2.3 1.5,1.5 1.5-.5 1.5-.5 1.5-.5 1.5,.6 1.5-2.2 1.5,.1 1.5,.3 1.5,2.1 1.5,.3 1.5,.2 1.5,.6 1.5-.5 1.5-1 1.5-.3 1.5-.8" fill="none" stroke="#3a3a3a" stroke-width="0.5" stroke-linejoin="round" />
<path d="M15,351.6l1.5,2.1 1.5-1.7 1.5,1.3 1.5-1.5 1.5,.4 1.5-1.6 1.5,.3 1.5-.7 1.5,.9 1.5-2.9 1.5,.1 1.5-.8 1.5-.6 1.5-.4 1.5,1.1 1.5,.2 1.5,.6 1.5,.4 1.5,1.8 1.5,.9 1.5,.9 1.5,1.3 1.5-.5 1.5-.7 1.5,.5 1.5-.6 1.5-.4 1.5,1 1.5-.6 1.5-.3 1.5-.1 1.5-.3 1.5,.7 1.5,.7 1.5-.4 1.5,.4 1.5-.4 1.5-.9 1.5-1.1 1.5-.7 1.5-.7 1.5-.2 1.5,.5 1.5,1.5 1.5,.6 1.5-.3 1.5,.6 1.5-2.4 1.5-1.3 1.5-.1 1.5,1.3 1.5-.8 1.5,2.6 1.5-.4 1.5,.9 1.5-.1 1.5,1.7 1.5,1.4 1.5-.7 1.5,.5 1.5-.4 1.5-1 1.5-2.8 1.5,.8 1.5-3 1.5-.2 1.5-.1 1.5,.9 1.5,.4 1.5,1.9 1.5,0 1.5,1.1 1.5-.3 1.5,.7 1.5,.5 1.5-1.7 1.5-.2 1.5-2.1 1.5-1.1 1.5-.8 1.5,2.6 1.5-.7 1.5,3.8 1.5-1 1.5,.2 1.5-2.8 1.5,1 1.5-2.2 1.5,1.5 1.5,1.6 1.5,2.6 1.5-1 1.5,2.4 1.5-.4 1.5-1.7 1.5-2.3 1.5-.1 1.5-1.8 1.5,.1 1.5-.2 1.5-.8 1.5,.3 1.5-.8 1.5-1.4 1.5-.8 1.5,1.8 1.5-.2 1.5,.4 1.5,1.1 1.5,.5 1.5-.8 1.5,.3 1.5-1.2 1.5-.6 1.5,0 1.5,1 1.5-1.2 1.5,1.9 1.5-.4 1.5,1.9 1.5,.1 1.5,2.6" fill="none" stroke="#3a3a3a" stroke-width="0.5" stroke-linejoin="round" />
<path d="M15,349.9l1.5,1.6 1.5,.3 1.5,.9 1.5,.9 1.5-.4 1.5-2.7 1.5-2.1 1.5-2.1 1.5-1.2 1.5,.2 1.5,1.9 1.5,1.6 1.5,2.1 1.5-.6 1.5,.6 1.5,.1 1.5-.1 1.5-.8 1.5,.4 1.5-1 1.5,1.4 1.5-.4 1.5,2.3 1.5,.5 1.5,1.4 1.5-.2 1.5-1 1.5-3.3 1.5-.9 1.5-.7 1.5-1.2 1.5,2.1 1.5,1.1 1.5,1.1 1.5-1.1 1.5,1.2 1.5,.4 1.5-.8 1.5,.6 1.5,1.5 1.5-1.4 1.5-1.4 1.5,0 1.5-.6 1.5-.4 1.5,0 1.5-.8 1.5,.8 1.5-.4 1.5,1.5 1.5,.2 1.5-1.7 1.5-.8 1.5-1.7 1.5-1.1 1.5-.1 1.5,2.5 1.5,1.6 1.5,3.7 1.5-.9 1.5-.6 1.5-.9 1.5-1.3 1.5-2.1 1.5,.9 1.5,1.8 1.5,1.4 1.5,.9 1.5,.7 1.5,.7 1.5-2.6 1.5-.5 1.5,1 1.5-1.3 1.5-2.2 1.5,1 1.5-.4 1.5-1.5 1.5-.3 1.5,2.5 1.5-.3 1.5-2.3 1.5,1.1 1.5,1.8 1.5-1.6 1.5,1 1.5,2 1.5-2 1.5-1.9 1.5,.5 1.5,.5 1.5,.9 1.5,1.4 1.5-.1 1.5-.5 1.5-.5 1.5,.1 1.5-.7 1.5,1.1 1.5,.1 1.5,.4 1.5-1.1 1.5-1.8 1.5-.4 1.5,2 1.5,.4 1.5-.5 1.5,1.2 1.5,1.7 1.5,.4 1.5-2.6 1.5,1 1.5,.8 1.5-1.6 1.5-3.1 1.5,3.1 1.5,1 1.5,.2 1.5,.9 1.5,.3 1.5,.3 1.5-1.7" fill="none" stroke="#3a3a3a" stroke-width="0.5" stroke-linejoin="round" />
<path d="M15,348l1.5-1 1.5-1.3 1.5,1.7 1.5,.4 1.5,1.1 1.5,.3 1.5,2.1 1.5,.5 1.5-1.9 1.5-.1 1.5,.7 1.5-2.7 1.5-1.5 1.5,1.1 1.5-.6 1.5,.4 1.5,1.7 1.5,2.2 1.5,2.2 1.5,.9 1.5-2 1.5,0 1.5-.8 1.5-2.1 1.5-1.1 1.5,2 1.5-2.4 1.5-1 1.5,1.6 1.5,.5 1.5-.2 1.5,4.5 1.5,.8 1.5-.6 1.5,.2 1.5-.6 1.5-2.1 1.5-.1 1.5,.8 1.5-1.9 1.5,.7 1.5-.3 1.5-.3 1.5-.1 1.5,.5 1.5-.4 1.5,1.2 1.5-.2 1.5-1.1 1.5,3.2 1.5,.1 1.5-2.1 1.5-.1 1.5,0 1.5-1 1.5,2 1.5,1 1.5,.5 1.5,.9 1.5,.1 1.5-2 1.5,0 1.5,0 1.5-.8 1.5-1.7 1.5,.4 1.5-.2 1.5,.5 1.5,.2 1.5,2.3 1.5,1 1.5,.4 1.5,.9 1.5-2.4 1.5-1.4 1.5-2.1 1.5,1 1.5-1.6 1.5,3.8 1.5,1 1.5,.6 1.5-1.4 1.5-.9 1.5-.7 1.5,1.5 1.5,1.1 1.5,1.2 1.5-.3 1.5-.9 1.5-3.3 1.5-1.7 1.5-.9 1.5,2.1 1.5-.7 1.5-.1 1.5,2.9 1.5-1.7 1.5-1.9 1.5,1 1.5-.1 1.5-2.7 1.5,.3 1.5,.8 1.5-.7 1.5,.7 1.5-2.2 1.5,1 1.5-2.7 1.5,0 1.5-1.7 1.5,2.4 1.5,.5 1.5,2.7 1.5,.2 1.5,2.4 1.5,.8 1.5-.1 1.5,0 1.5-.2 1.5,1.2 1.5,.5 1.5-2.1" fill="none" stroke="#3a3a3a" stroke-width="0.5" stroke-linejoin="round" />
<path d="M15,347l1.5-1.7 1.5,1.2 1.5,.1 1.5,2.5 1.5,2.5 1.5,.5 1.5-.8 1.5-.3 1.5-.5 1.5-.8 1.5-.4 1.5-.2 1.5-1.8 1.5,2.8 1.5,.4 1.5,1.1 1.5,.7 1.5,2 1.5-2.6 1.5-1.7 1.5-.1 1.5-.2 1.5-.7 1.5,1.5 1.5,1.5 1.5,0 1.5,.4 1.5,.4 1.5-.8 1.5-.9 1.5,1.2 1.5-1.2 1.5,1.7 1.5,.7 1.5-.9 1.5,1.2 1.5,1.7 1.5-.9 1.5,0 1.5,.7 1.5-1.7 1.5-.5 1.5-1 1.5,0 1.5,.3 1.5,1.5 1.5-1.4 1.5-.6 1.5,.1 1.5,.8 1.5-2.9 1.5,1.3 1.5-1 1.5,.2 1.5,.9 1.5-.2 1.5-.9 1.5,2 1.5-.5 1.5-1.6 1.5,1.9 1.5,.9 1.5,1.2 1.5-.8 1.5,1.2 1.5-1 1.5,.2 1.5-3.4 1.5,.6 1.5,.4 1.5-.8 1.5,1.2 1.5,3.2 1.5,.7 1.5-.1 1.5,1 1.5-1.2 1.5,.6 1.5-.6 1.5,2.4 1.5,1.9 1.5-.7 1.5,.1 1.5-.5 1.5-2.3 1.5-3.5 1.5,.3 1.5-1.8 1.5-1.8 1.5-1.5 1.5,.2 1.5-1.8 1.5-2 1.5,2.5 1.5,.7 1.5,.8 1.5,2.1 1.5,1.5 1.5-.9 1.5,.2 1.5,.5 1.5-2.3 1.5,.1 1.5,1.2 1.5,.2 1.5-.3 1.5,2.9 1.5,1.4 1.5-.7 1.5-.6 1.5,1.3 1.5-1.2 1.5-3 1.5,.4 1.5-.7 1.5-2.3 1.5-1.3 1.5,1.9 1.5-.5 1.5-.4 1.5,.8 1.5,1.5" fill="none" stroke="#3a3a3a" stroke-width="0.5" stroke-linejoin="round" />
<path d="M15,348.7l1.5,1 1.5,.7 1.5,.3 1.5-.4 1.5-1.4 1.5-1.1 1.5-.4 1.5,.9 1.5-.9 1.5-.2 1.5,1.5 1.5-1.4 1.5,2.1 1.5,3.4 1.5,4.4 1.5-.6 1.5,1.3 1.5-1.6 1.5-2 1.5-1.5 1.5,1.5 1.5-1.3 1.5,.9 1.5,.8 1.5-.5 1.5-.8 1.5,1.3 1.5,.3 1.5,1.8 1.5,1.8 1.5,.3 1.5-1.6 1.5-.8 1.5-1.9 1.5-3 1.5,.1 1.5,.8 1.5,.2 1.5,1.9 1.5,1.2 1.5,.6 1.5-.3 1.5,.2 1.5-.4 1.5-.6 1.5-.5 1.5,1.5 1.5-1.1 1.5,.6 1.5-.1 1.5,.2 1.5-.9 1.5,1.1 1.5-.5 1.5,1 1.5-1 1.5,1.2 1.5-.6 1.5-.3 1.5-.9 1.5-.5 1.5-.4 1.5-.9 1.5-.4 1.5,1 1.5,.1 1.5,.6 1.5,1.1 1.5-.8 1.5-1.7 1.5,.7 1.5-.5 1.5-.3 1.5-.4 1.5,2.3 1.5,.9 1.5,1.5 1.5,.8 1.5,2.4 1.5,.9 1.5,.7 1.5-2.3 1.5-1.7 1.5-.7 1.5-2.5 1.5-.5 1.5,.2 1.5-1.1 1.5,1.4 1.5,.5 1.5-1 1.5-.4 1.5-1.2 1.5-3.1 1.5-.8 1.5-.3 1.5-1.5 1.5-1.1 1.5,.5 1.5,1.2 1.5,1.6 1.5,.8 1.5,3.2 1.5-1.1 1.5-1.5 1.5-1 1.5-.1 1.5-.3 1.5,.3 1.5,.5 1.5-.2 1.5-1.4 1.5-1.6 1.5-.4 1.5,.1 1.5-.4 1.5,1.4 1.5,2.1 1.5-1.9 1.5-1.4 1.5-.4 1.5-1.2" fill="none" stroke="#3a3a3a" stroke-width="0.5" stroke-linejoin="round" />
<path d="M15,350.6l1.5,.4 1.5,.9 1.5-.7 1.5-1.7 1.5,1.3 1.5,1.6 1.5-.6 1.5,0 1.5,.5 1.5-.8 1.5-3.3 1.5,0 1.5,1.3 1.5,3.1 1.5,2.8 1.5,3.8 1.5,.8 1.5-2.6 1.5,.6 1.5-.6 1.5-.6 1.5,1.2 1.5,2.6 1.5,.4 1.5-1.2 1.5,.4 1.5-1.1 1.5-1.3 1.5-2.5 1.5,2.5 1.5,.7 1.5,1 1.5,.6 1.5,2.1 1.5-1.8 1.5-.7 1.5-1 1.5,1.9 1.5,0 1.5,.3 1.5-.5 1.5-.2 1.5-1.3 1.5,.4 1.5,.7 1.5,.3 1.5-.1 1.5,1.6 1.5,.1 1.5-.1 1.5,.8 1.5,.3 1.5-1.1 1.5,.9 1.5,.3 1.5-1 1.5,2.4 1.5-.4 1.5-.1 1.5-3.3 1.5-1.8 1.5-2.7 1.5,.9 1.5-1.1 1.5,2.2 1.5,1.4 1.5,.4 1.5-1 1.5,1.7 1.5-.1 1.5,2.7 1.5-.4 1.5,.5 1.5-2.3 1.5-.4 1.5-2.2 1.5,.3 1.5,3.1 1.5,1.1 1.5,2.8 1.5,.3 1.5-.2 1.5-3.2 1.5-.5 1.5-2.4 1.5-1 1.5-2 1.5-4.2 1.5-2.5 1.5-1.9 1.5-.8 1.5,.4 1.5,.9 1.5-.1 1.5,1 1.5-.5 1.5,.2 1.5,.1 1.5,1.4 1.5-.5 1.5,2.3 1.5-.2 1.5-1.6 1.5-.8 1.5-1.1 1.5-1.4 1.5,1.7 1.5,2.1 1.5-.1 1.5,1.1 1.5-1 1.5-1.4 1.5-1.1 1.5-.2 1.5,.9 1.5,.2 1.5-1 1.5,1 1.5-.4 1.5,1.4 1.5,1.6 1.5,.4" fill="none" stroke="#3a3a3a" stroke-width="0.5" stroke-linejoin="round" />
<path d="M15,350.1l1.5,0 1.5-.3 1.5,.2 1.5-.7 1.5,0 1.5,.4 1.5,.3 1.5,1.5 1.5,0 1.5,.8 1.5-.3 1.5-.6 1.5-2.7 1.5,4.4 1.5,1.4 1.5,1.8 1.5,.5 1.5,2.7 1.5-.2 1.5-.8 1.5,3 1.5,2.1 1.5,.6 1.5,1 1.5,3.2 1.5-2 1.5-.9 1.5-.8 1.5-1.6 1.5-.7 1.5,.2 1.5,2.4 1.5,.8 1.5,1.6 1.5-.9 1.5,0 1.5-1.2 1.5,.5 1.5,.4 1.5,.5 1.5-1.2 1.5,1.1 1.5-.2 1.5-1.3 1.5-.1 1.5,2.7 1.5-1.3 1.5-.1 1.5,1.1 1.5,0 1.5-1.3 1.5,.3 1.5-1.6 1.5-.8 1.5-.4 1.5-1.1 1.5-.3 1.5,1.6 1.5-1 1.5,1 1.5,1.1 1.5,.6 1.5-.3 1.5,.9 1.5-.4 1.5-.5 1.5-1.7 1.5-.2 1.5,2 1.5,1.1 1.5,1.1 1.5,.9 1.5,.5 1.5-3.2 1.5-1.5 1.5-1.6 1.5,1.9 1.5,0 1.5,1.7 1.5-1 1.5,.5 1.5-1.3 1.5,.9 1.5,.8 1.5,1.6 1.5-.6 1.5-2 1.5-4.6 1.5-3.3 1.5-3.2 1.5,.2 1.5-3.6 1.5-2.4 1.5-1.5 1.5-.2 1.5-2.4 1.5,1.2 1.5,.9 1.5,.5 1.5-.7 1.5,2.8 1.5,.9 1.5-1.6 1.5,0 1.5,.9 1.5-.8 1.5,.9 1.5,2.5 1.5-1.3 1.5,0 1.5-1.7 1.5-.3 1.5-.1 1.5,1 1.5,.6 1.5,.1 1.5-.9 1.5-.2 1.5,0 1.5,.2 1.5-.4 1.5-.6" fill="none" stroke="#3a3a3a" stroke-width="0.5" stroke-linejoin="round" />
<path d="M15,353.9l1.5-.7 1.5-.7 1.5-2.5 1.5,.1 1.5-2.1 1.5,.5 1.5-.4 1.5,.5 1.5,.7 1.5,1.6 1.5-1.1 1.5,1.8 1.5,.7 1.5,2.4 1.5,1.7 1.5,1.8 1.5,.7 1.5,2.2 1.5,1.9 1.5,1.7 1.5,2.5 1.5,.4 1.5-.3 1.5,.7 1.5-.6 1.5-1.5 1.5,1.6 1.5,1.8 1.5-.1 1.5,1.7 1.5,.4 1.5-.4 1.5-.3 1.5,3 1.5,1.7 1.5-.1 1.5,.9 1.5-.7 1.5-1.2 1.5-3 1.5,2.7 1.5-1 1.5,1.4 1.5-1.1 1.5,1.1 1.5-1.8 1.5-.1 1.5-.8 1.5-.2 1.5-.7 1.5-.4 1.5,1.1 1.5,1 1.5,.9 1.5,.3 1.5,2 1.5-.8 1.5-1.2 1.5-.8 1.5,2.2 1.5-.9 1.5,.1 1.5,0 1.5-.7 1.5-.8 1.5-.7 1.5,.2 1.5-.2 1.5,1.1 1.5-.1 1.5,2 1.5-.9 1.5-1.7 1.5,1.2 1.5,.4 1.5-2.1 1.5,0 1.5,2.2 1.5-2.6 1.5-.4 1.5-.3 1.5,1.7 1.5-.5 1.5,1 1.5-.7 1.5,.1 1.5-4.2 1.5-8 1.5-3.5 1.5-3.9 1.5-1.4 1.5,.6 1.5,.6 1.5-1.4 1.5-.2 1.5,.7 1.5-1.1 1.5-1.2 1.5-.9 1.5,1.8 1.5-2.8 1.5-.1 1.5,1.1 1.5,1.4 1.5-.5 1.5,1 1.5-.6 1.5-.3 1.5,1.8 1.5-.2 1.5,.6 1.5-.6 1.5,1.1 1.5-1.9 1.5,.1 1.5-1.4 1.5-.4 1.5-1.1 1.5-.8 1.5-.7 1.5,1.6 1.5,1.7" fill="none" stroke="#3a3a3a" stroke-width="0.5" stroke-linejoin="round" />
<path d="M15,349l1.5-.6 1.5,.2 1.5,1.8 1.5,0 1.5,0 1.5,.5 1.5,.7 1.5,.4 1.5-.8 1.5,.6 1.5-1.3 1.5-1.2 1.5,.5 1.5,4.5 1.5,3.1 1.5,1.9 1.5,2.9 1.5,1.6 1.5-.3 1.5,3 1.5,2.2 1.5,1.5 1.5,.6 1.5,1.8 1.5-1.5 1.5,1.7 1.5-.4 1.5,2.4 1.5,.5 1.5,1.7 1.5,1 1.5,1 1.5-.6 1.5,2.4 1.5-.1 1.5-.4 1.5,0 1.5-1.6 1.5,.3 1.5-1.3 1.5-1 1.5,.5 1.5,.9 1.5-.9 1.5,1.4 1.5,.1 1.5,.4 1.5-.7 1.5-1.2 1.5-.6 1.5,2.3 1.5-1.2 1.5,.5 1.5-.2 1.5-.8 1.5-.9 1.5-.8 1.5-.6 1.5,1 1.5-.8 1.5-.5 1.5,1 1.5,1.6 1.5-.2 1.5,.7 1.5-.5 1.5-.3 1.5-1.1 1.5,.3 1.5-.6 1.5-1.2 1.5,.2 1.5-.5 1.5-2 1.5,.8 1.5,2.2 1.5-.8 1.5,1.3 1.5,.3 1.5,.6 1.5,.5 1.5,1 1.5-.6 1.5,1.7 1.5-.3 1.5-.3 1.5-3.6 1.5-7.8 1.5-5.9 1.5-4 1.5-2.9 1.5-3.3 1.5-.9 1.5-1.2 1.5,.8 1.5-.1 1.5,1.9 1.5,.1 1.5,1.1 1.5-1.8 1.5,1.1 1.5-1.1 1.5,1.5 1.5-.3 1.5,0 1.5-2.3 1.5,2.4 1.5-2.4 1.5-.1 1.5-.7 1.5,.4 1.5-.7 1.5,.7 1.5,.9 1.5-.1 1.5-1.2 1.5-2 1.5,1.8 1.5-1.2 1.5,.3 1.5,.5 1.5-1.1" fill="none" stroke="#3a3a3a" stroke-width="0.5" stroke-linejoin="round" />
<path d="M15,351.4l1.5-1.2 1.5,1 1.5,.4 1.5,1.3 1.5-1.1 1.5,2.9 1.5-2.1 1.5-.8 1.5-.6 1.5-1.1 1.5-.8 1.5,1.6 1.5,2.4 1.5,1.5 1.5,4.6 1.5,2.3 1.5,1.1 1.5,2.9 1.5,3.1 1.5,1.8 1.5,1.9 1.5,2.6 1.5,.6 1.5,1.5 1.5,1.4 1.5-1 1.5-.2 1.5,.1 1.5,.8 1.5,1.5 1.5,0 1.5,2.2 1.5,1.5 1.5,0 1.5-.6 1.5,.9 1.5,.7 1.5,.2 1.5,.5 1.5,.4 1.5,2 1.5-2.9 1.5,.2 1.5,1 1.5-1.9 1.5-.5 1.5,1 1.5-1.3 1.5,.1 1.5,1.2 1.5,.8 1.5,.8 1.5,.8 1.5-.5 1.5-.8 1.5-2 1.5-.6 1.5-.2 1.5-.7 1.5-.2 1.5,.8 1.5,.4 1.5-1 1.5-1.8 1.5,2.3 1.5,.3 1.5-2 1.5,2.4 1.5,2.7 1.5-2 1.5-.7 1.5,3.8 1.5-.3 1.5-.4 1.5,.3 1.5,1.2 1.5-1.8 1.5-1.2 1.5-.3 1.5-.2 1.5-1.3 1.5-.4 1.5,.2 1.5-.1 1.5,.9 1.5,.6 1.5-2.1 1.5-9.3 1.5-5.3 1.5-5.7 1.5-1.6 1.5-4 1.5-1.2 1.5-1.4 1.5,.2 1.5-1.9 1.5-.5 1.5-1.1 1.5-1.5 1.5,.7 1.5-.1 1.5-.8 1.5,.1 1.5,1.6 1.5-.5 1.5-.6 1.5,1.9 1.5,0 1.5,0 1.5,1.3 1.5,1.9 1.5-.2 1.5-.6 1.5,1.2 1.5-.9 1.5-.2 1.5-1.6 1.5-.4 1.5-2.4 1.5-1.1 1.5-1.2 1.5,1" fill="none" stroke="#3a3a3a" stroke-width="0.5" stroke-linejoin="round" />
<path d="M15,348.8l1.5,.5 1.5,1.2 1.5-.9 1.5,1 1.5-1.2 1.5-1.7 1.5-2.1 1.5-1.6 1.5,1.9 1.5,1.1 1.5-.2 1.5,2.5 1.5,2.9 1.5,5.2 1.5,4.5 1.5,5.2 1.5,1.6 1.5,3.5 1.5,2.8 1.5,3.5 1.5,2.6 1.5,4.6 1.5,.7 1.5,2.7 1.5,0 1.5-1.2 1.5-1.9 1.5,.8 1.5-.2 1.5,1.6 1.5,1.5 1.5-1 1.5,.3 1.5-1.4 1.5-.4 1.5-.8 1.5,.7 1.5-1.7 1.5,.6 1.5,.1 1.5-.6 1.5,.3 1.5,3.4 1.5,1.5 1.5-1.3 1.5,2.3 1.5,.4 1.5-2.5 1.5-1.4 1.5,2 1.5-3.2 1.5-.1 1.5,1.6 1.5-1.6 1.5-3.2 1.5,.7 1.5-.9 1.5-.1 1.5,1.2 1.5,1.4 1.5,.1 1.5,2.1 1.5-.3 1.5,1.5 1.5-.6 1.5,1.4 1.5-.5 1.5-.6 1.5-.7 1.5,2.3 1.5-.7 1.5,.1 1.5-1.1 1.5,.1 1.5-2.7 1.5,1.3 1.5-.7 1.5,1.1 1.5-.1 1.5,1.5 1.5-1.1 1.5-.5 1.5-1.2 1.5,.5 1.5-2.1 1.5,.5 1.5-4.5 1.5-7 1.5-7.7 1.5-4.6 1.5-3.2 1.5-2 1.5-3.9 1.5-2.8 1.5-1.9 1.5-1.5 1.5,.4 1.5-1.7 1.5,.8 1.5,2.7 1.5-2.7 1.5-.4 1.5,1.3 1.5,1 1.5-1.1 1.5,3.5 1.5-.5 1.5-.3 1.5,1.3 1.5,.9 1.5-.1 1.5,.1 1.5,.4 1.5-2.8 1.5,1.2 1.5,.1 1.5-1.1 1.5-.3 1.5,1.8 1.5-.8 1.5-.6 1.5,.1" fill="none" stroke="#3a3a3a" stroke-width="0.5" stroke-linejoin="round" />
<path d="M15,347.4l1.5-.1 1.5-.3 1.5,.5 1.5,.8 1.5,1.2 1.5,.6 1.5,.5 1.5,0 1.5-.9 1.5,.1 1.5,.8 1.5-.6 1.5,6.1 1.5,22.5 1.5,8.8 1.5,3 1.5,2.3 1.5-1.6 1.5,.9 1.5,1.1 1.5,1.6 1.5-.4 1.5,.4 1.5-1.8 1.5,.7 1.5-1.2 1.5,2.2 1.5-.6 1.5,.3 1.5-.1 1.5,2.1 1.5-1.8 1.5,.5 1.5,1.6 1.5,1.2 1.5-.4 1.5,.7 1.5-1.6 1.5,.7 1.5-1.4 1.5-1.2 1.5,.1 1.5,2 1.5-3.5 1.5-.8 1.5,1 1.5-3.2 1.5,.2 1.5,1.5 1.5,.6 1.5,.1 1.5,3.9 1.5-.9 1.5,.3 1.5,.3 1.5,.5 1.5-3.1 1.5,1.2 1.5,1.1 1.5-1 1.5-1.5 1.5,1 1.5-2.1 1.5-1.1 1.5-.1 1.5,2.4 1.5,1.4 1.5,.7 1.5,.3 1.5-1.6 1.5-2.3 1.5,.9 1.5,.1 1.5,.5 1.5,1.9 1.5,1.4 1.5-1.8 1.5,0 1.5-.1 1.5-.2 1.5-1.1 1.5-.9 1.5-.9 1.5,0 1.5,.6 1.5,.2 1.5-3.1 1.5-8.9 1.5-7.6 1.5-7.2 1.5-5 1.5-4.3 1.5-4 1.5-1.9 1.5,.7 1.5-.2 1.5-.4 1.5,.4 1.5-.7 1.5,0 1.5,.2 1.5,1.7 1.5-2 1.5-1.9 1.5-1.5 1.5-.2 1.5-.7 1.5,1.3 1.5,2.4 1.5,.6 1.5,0 1.5-1.2 1.5,.4 1.5-1.8 1.5,0 1.5-.4 1.5,.6 1.5,.3 1.5,.9 1.5,.9 1.5,.9 1.5-.7" fill="none" stroke="#3a3a3a" stroke-width="0.5" stroke-linejoin="round" />
<path d="M15,350.3l1.5-.1 1.5-1.5 1.5-1.4 1.5-.2 1.5,1.7 1.5-.8 1.5,.2 1.5,.3 1.5,1.8 1.5,.5 1.5,.9 1.5-.5 1.5,4.2 1.5,21.3 1.5,9.4 1.5,5.4 1.5,3.2 1.5-.6 1.5,1.8 1.5,.4 1.5-1.6 1.5,.8 1.5,2.5 1.5-2.8 1.5-.4 1.5,.3 1.5-2 1.5-1 1.5,1.6 1.5-.5 1.5,1.1 1.5,.7 1.5-.7 1.5-.3 1.5,0 1.5-.9 1.5-.1 1.5,.3 1.5,1.9 1.5,2 1.5,1.2 1.5-.5 1.5-.2 1.5-.7 1.5-1.1 1.5-1.7 1.5,0 1.5-.5 1.5-1.1 1.5-.4 1.5,1 1.5-.3 1.5-.5 1.5,1.2 1.5,.5 1.5,.6 1.5,.2 1.5,2.2 1.5-2.5 1.5-1.1 1.5-.8 1.5,1.2 1.5-.1 1.5,.5 1.5,1.3 1.5,.9 1.5-2.1 1.5,.2 1.5,.7 1.5,.2 1.5-1.2 1.5,1.7 1.5-2.1 1.5,1.1 1.5-1 1.5-1.5 1.5-.4 1.5,1.5 1.5,.8 1.5-.2 1.5,.5 1.5,.3 1.5,0 1.5-1.4 1.5,.8 1.5,3.3 1.5-5 1.5-13.6 1.5-6.5 1.5-5.2 1.5-4.3 1.5-2 1.5-1.5 1.5-1.5 1.5-1.4 1.5-1.6 1.5-.2 1.5,1 1.5-3.4 1.5-.2 1.5-1.7 1.5-1.4 1.5-3.2 1.5,1.1 1.5,1.1 1.5,.8 1.5,1.3 1.5,2.3 1.5-.8 1.5-.2 1.5,.3 1.5-.7 1.5,.3 1.5,2.9 1.5-1.1 1.5-.5 1.5-.4 1.5,.4 1.5-1.2 1.5,.3 1.5,1.4 1.5,0" fill="none" stroke="#3a3a3a" stroke-width="0.5" stroke-linejoin="round" />
<path d="M15,350.5l1.5-2.8 1.5,2.2 1.5,1.2 1.5-1 1.5-2.3 1.5,2.2 1.5-1.1 1.5,.2 1.5-.3 1.5,2.2 1.5-.2 1.5,1.9 1.5,3.7 1.5,23.7 1.5,9.2 1.5,2.9 1.5-.2 1.5,1.2 1.5,2.2 1.5,1.8 1.5,.8 1.5,1.4 1.5-.5 1.5-1.3 1.5,.9 1.5,1.5 1.5,2.7 1.5-.9 1.5,.2 1.5-1 1.5-.6 1.5-3.8 1.5,.7 1.5,1.4 1.5-1.9 1.5,.2 1.5,.9 1.5,.5 1.5-1 1.5,2 1.5,1.1 1.5-1.8 1.5-.6 1.5-1.4 1.5-1 1.5-1.6 1.5,4 1.5,1.3 1.5,1.2 1.5-.5 1.5-.3 1.5-3.5 1.5-1.1 1.5,1.7 1.5,.7 1.5-1 1.5,0 1.5,1.3 1.5-2.3 1.5-.7 1.5,1.3 1.5,2.1 1.5-1.1 1.5,1 1.5,.5 1.5-3 1.5-2 1.5,.6 1.5-.1 1.5-1.4 1.5,3.4 1.5-.1 1.5,.7 1.5,.9 1.5-.2 1.5,.6 1.5,.5 1.5-.7 1.5-2.1 1.5,1.3 1.5-1.1 1.5,.8 1.5-.6 1.5,.4 1.5,.5 1.5-.1 1.5-7.7 1.5-12.8 1.5-9.6 1.5-6 1.5-3.3 1.5-1.5 1.5-1.4 1.5-1.5 1.5,.6 1.5-2.1 1.5-.6 1.5,.2 1.5,1.2 1.5-2.4 1.5-.2 1.5,1.8 1.5-.5 1.5,.7 1.5-1.2 1.5,.5 1.5-1.4 1.5-.9 1.5-.1 1.5,1.6 1.5-.9 1.5,1.3 1.5,.4 1.5,.1 1.5-.7 1.5-.6 1.5-.1 1.5-1.2 1.5-.6 1.5,1.7 1.5,.6 1.5-1.3" fill="none" stroke="#3a3a3a" stroke-width="0.5" stroke-linejoin="round" />
<path d="M15,348.1l1.5,1.4 1.5,.1 1.5,2.4 1.5-.3 1.5-.7 1.5-.5 1.5-1.2 1.5-1.8 1.5,1.2 1.5,3 1.5-1.2 1.5,1.3 1.5,6.4 1.5,25.2 1.5,6.9 1.5,5.7 1.5,2.1 1.5,.7 1.5-3.1 1.5,2.4 1.5-1.3 1.5,0 1.5-1.5 1.5,1.4 1.5-.6 1.5-.9 1.5-1.6 1.5,.8 1.5-1.1 1.5-2.4 1.5,1.9 1.5,.8 1.5,2.3 1.5,3.2 1.5,.6 1.5-1.3 1.5,.9 1.5,.6 1.5-.1 1.5,2.1 1.5,1.6 1.5,2.5 1.5-1.5 1.5-3 1.5-1 1.5,.1 1.5-3.3 1.5-.6 1.5,2.4 1.5-1.4 1.5-.8 1.5-.2 1.5-.5 1.5-2.1 1.5,.1 1.5,0 1.5,1.2 1.5,.8 1.5-1.2 1.5,1.2 1.5-1 1.5-.1 1.5-2.7 1.5,3.3 1.5,.3 1.5,.5 1.5-.1 1.5,2 1.5-2.5 1.5,0 1.5,1 1.5-1.3 1.5-.1 1.5-1.1 1.5-1.5 1.5-.5 1.5,1.8 1.5,1.4 1.5,1.4 1.5,1.2 1.5,.4 1.5-2.2 1.5-1.1 1.5-.2 1.5-.1 1.5-1.6 1.5-3.5 1.5-13.8 1.5-7.7 1.5-5 1.5-2.8 1.5-2 1.5-.8 1.5-.3 1.5-2.8 1.5-1 1.5-2.3 1.5,2.1 1.5,.1 1.5,1.6 1.5,.1 1.5,1.5 1.5-3.2 1.5-.3 1.5-1.3 1.5,0 1.5-.9 1.5,1.1 1.5-1.9 1.5,1.1 1.5-.5 1.5-.2 1.5,.5 1.5,1.2 1.5-1.3 1.5-.5 1.5-.4 1.5-.6 1.5,.1 1.5-.2 1.5,1.1 1.5,0" fill="none" stroke="#3a3a3a" stroke-width="0.5" stroke-linejoin="round" />
<path d="M15,351.6l1.5,.4 1.5-2.5 1.5,.6 1.5-1.5 1.5,1.1 1.5-.3 1.5,.8 1.5-1.2 1.5,.5 1.5,.2 1.5,2 1.5-.8 1.5,5.8 1.5,22.8 1.5,11.1 1.5,2.9 1.5,1.2 1.5,1.9 1.5,2.2 1.5-.5 1.5,.6 1.5,1.6 1.5-.3 1.5-1.6 1.5-.4 1.5,1.6 1.5,.5 1.5,.7 1.5,.1 1.5-.1 1.5,.1 1.5-.6 1.5-.1 1.5-.9 1.5-.1 1.5-1.4 1.5-1.1 1.5-.4 1.5,.5 1.5,1.3 1.5-1.7 1.5,.4 1.5-1.5 1.5,.6 1.5-1.1 1.5,2.1 1.5-1.1 1.5,.4 1.5-.5 1.5-.1 1.5-1.9 1.5,1.3 1.5-1 1.5-.5 1.5-1.6 1.5,3.3 1.5,.8 1.5,2.6 1.5,1.1 1.5,2.3 1.5-2.1 1.5-1 1.5,0 1.5,.2 1.5-1.6 1.5-.8 1.5-1.2 1.5-.7 1.5,.4 1.5,1.5 1.5,1.5 1.5,.3 1.5,.2 1.5-.2 1.5-1.1 1.5-.1 1.5,2.8 1.5-.8 1.5,.2 1.5,.2 1.5-.8 1.5-1.5 1.5,1 1.5-.9 1.5,1.7 1.5,1.5 1.5-5 1.5-13.6 1.5-9 1.5-7.5 1.5-5.4 1.5-4.6 1.5-1.9 1.5-1.5 1.5-1.5 1.5-1 1.5,.1 1.5-1.3 1.5-.1 1.5-.2 1.5-.7 1.5,.5 1.5,1.1 1.5-.6 1.5,1.1 1.5-.7 1.5-1.1 1.5-.4 1.5,1 1.5-1.1 1.5,2.7 1.5-.5 1.5-.5 1.5-.6 1.5,2.9 1.5-1.1 1.5,.5 1.5,1 1.5-.6 1.5-4 1.5,.5 1.5,.8" fill="none" stroke="#3a3a3a" stroke-width="0.5" stroke-linejoin="round" />
<path d="M15,351.7l1.5,.2 1.5-1.6 1.5,.9 1.5,1.5 1.5-1.5 1.5-.9 1.5-1.1 1.5,.7 1.5-2.1 1.5,1 1.5,1.1 1.5,1.8 1.5,4 1.5,25.3 1.5,9.9 1.5,4.4 1.5,4.4 1.5-.1 1.5,0 1.5-1.1 1.5-1.9 1.5-1.5 1.5,.6 1.5,.2 1.5,.8 1.5,1.1 1.5,.5 1.5,1 1.5-1.3 1.5,.7 1.5-.6 1.5,.9 1.5,.6 1.5,.2 1.5-1.8 1.5,.2 1.5-.9 1.5-1.2 1.5,.5 1.5,1.3 1.5,.8 1.5-1.9 1.5,.1 1.5-.6 1.5-1 1.5-.3 1.5,3 1.5,.3 1.5,1.4 1.5,2.7 1.5,.4 1.5-1.8 1.5,.3 1.5-1.2 1.5-1.3 1.5,.6 1.5,.3 1.5-.3 1.5,1.9 1.5-.8 1.5-1.1 1.5,.3 1.5-.5 1.5-1.9 1.5,.9 1.5,1 1.5,.6 1.5-.3 1.5,.4 1.5-1.2 1.5-1.1 1.5-1.7 1.5-1.7 1.5,.2 1.5,.3 1.5-.2 1.5,.7 1.5,1.3 1.5,.5 1.5,.6 1.5-.2 1.5,.8 1.5,1.7 1.5-.4 1.5-.8 1.5,2.1 1.5-6.4 1.5-15.7 1.5-10 1.5-6.4 1.5-3.9 1.5-5.3 1.5,0 1.5-2.3 1.5,1.2 1.5-3.2 1.5,1.5 1.5-1.8 1.5,.2 1.5-1.1 1.5-.7 1.5-.5 1.5,2.4 1.5-.8 1.5,.4 1.5,1.6 1.5,1 1.5-.4 1.5,1.1 1.5,1.4 1.5-.7 1.5-.2 1.5-.7 1.5,.7 1.5-3.1 1.5-.4 1.5,0 1.5,.2 1.5,.4 1.5,2.4 1.5-.2 1.5,0" fill="none" stroke="#3a3a3a" stroke-width="0.5" stroke-linejoin="round" />
<path d="M15,348.4l1.5,1.5 1.5-1.1 1.5-1.2 1.5-.3 1.5-.4 1.5-.8 1.5,.3 1.5,3 1.5-.5 1.5,1.1 1.5-.4 1.5-.4 1.5,3.1 1.5,25.4 1.5,11.7 1.5,4.9 1.5,1.6 1.5,1.5 1.5-1 1.5,1.2 1.5,.7 1.5,1 1.5,.8 1.5,3.4 1.5-1.1 1.5-1 1.5,.7 1.5-2.2 1.5-2.6 1.5-1.2 1.5-.3 1.5-1.1 1.5,2.3 1.5-2.9 1.5,.6 1.5,1 1.5,2.1 1.5,1 1.5,3.5 1.5-.7 1.5-1.2 1.5-1 1.5-4.3 1.5,0 1.5-.5 1.5,2 1.5-.9 1.5,.5 1.5-1.6 1.5,1.7 1.5,.1 1.5-.1 1.5,2.3 1.5-.3 1.5,0 1.5-.8 1.5,.1 1.5,.2 1.5,3.1 1.5-1.2 1.5,0 1.5,.1 1.5-1.2 1.5-.6 1.5,1.6 1.5,.3 1.5,.1 1.5,.2 1.5-2.1 1.5-3 1.5,0 1.5,1.3 1.5,.4 1.5,.8 1.5,1.6 1.5,2.2 1.5-.4 1.5-2.6 1.5,1.1 1.5,.6 1.5-3.4 1.5-2.3 1.5,.9 1.5,.5 1.5,1.7 1.5,1.6 1.5-4.7 1.5-12.3 1.5-10.3 1.5-8.6 1.5-5 1.5-4.5 1.5-3 1.5-1.5 1.5-.5 1.5,1 1.5,2 1.5,.8 1.5-1.3 1.5-.6 1.5-2.4 1.5,2.1 1.5,1.9 1.5,1.7 1.5,.7 1.5-.1 1.5-1.4 1.5-1.7 1.5-1.3 1.5-1.9 1.5-.3 1.5-1.2 1.5,.4 1.5-.2 1.5,1.6 1.5,.9 1.5,1.5 1.5-.9 1.5-.1 1.5,.1 1.5,0 1.5-1.5" fill="none" stroke="#3a3a3a" stroke-width="0.5" stroke-linejoin="round" />
<path d="M15,345.2l1.5,1.6 1.5,.8 1.5,1.7 1.5,1 1.5-2.2 1.5-1 1.5,2 1.5,.5 1.5-.7 1.5,3.2 1.5,.8 1.5-2.3 1.5,4.8 1.5,24.5 1.5,8.6 1.5,3.2 1.5,2.6 1.5,2.5 1.5,.8 1.5,.7 1.5,.4 1.5,.4 1.5-1.3 1.5,.3 1.5,1.1 1.5,2.6 1.5-1.1 1.5,1.9 1.5-1.8 1.5-.6 1.5,.2 1.5,.4 1.5-1.7 1.5,3.6 1.5-2.2 1.5-1 1.5,.4 1.5-1.9 1.5-2.2 1.5,1.4 1.5-.4 1.5-.1 1.5,1 1.5,0 1.5,.3 1.5-.5 1.5-.3 1.5,2.3 1.5,1.5 1.5,1 1.5,.4 1.5,2.1 1.5-2.2 1.5-2.3 1.5-.1 1.5,1.4 1.5-2.1 1.5,.1 1.5-.3 1.5,.2 1.5-.8 1.5,0 1.5,1.1 1.5,1 1.5-1.5 1.5,.6 1.5,1.4 1.5-1.8 1.5-.4 1.5,.5 1.5,.9 1.5-1.4 1.5,1 1.5,1.5 1.5-1.2 1.5-1.9 1.5,1.2 1.5-1.1 1.5,.3 1.5,2 1.5,0 1.5-.5 1.5,.7 1.5-1.5 1.5-1.1 1.5,.9 1.5-6.9 1.5-12.2 1.5-8.3 1.5-6.8 1.5-5.5 1.5-1.7 1.5-1.6 1.5-1.7 1.5-.1 1.5-1.1 1.5-1.8 1.5-3 1.5-.3 1.5-1.2 1.5,.9 1.5-1.3 1.5,2.3 1.5-1.3 1.5,.5 1.5-2 1.5,1.3 1.5-.8 1.5-.3 1.5,1.8 1.5,3.3 1.5,.5 1.5,.4 1.5,1 1.5-.1 1.5-1.5 1.5-.1 1.5,.6 1.5,.3 1.5-.4 1.5,.1 1.5,.1" fill="none" stroke="#3a3a3a" stroke-width="0.5" stroke-linejoin="round" />
<path d="M15,352.1l1.5-1 1.5-.8 1.5-1 1.5-.9 1.5-1.1 1.5,2 1.5,1.1 1.5,1 1.5-.5 1.5,1.5 1.5-.2 1.5-.4 1.5,3.7 1.5,23.1 1.5,10.3 1.5,5 1.5,3.1 1.5,.7 1.5,2.1 1.5,.8 1.5,.2 1.5-.2 1.5,.7 1.5-.1 1.5-.4 1.5,.4 1.5-.6 1.5-.9 1.5-2.9 1.5-1.1 1.5-.3 1.5,3.2 1.5,.3 1.5,.8 1.5,1.4 1.5,1.4 1.5-3.5 1.5,.8 1.5,1.3 1.5-.3 1.5-1 1.5,0 1.5,1.7 1.5,1 1.5-.9 1.5-1.3 1.5,1 1.5-2.2 1.5-2 1.5,1.3 1.5,3 1.5-.7 1.5,.6 1.5-.8 1.5,.5 1.5-1.7 1.5,2.1 1.5-1.4 1.5,2.2 1.5-.8 1.5,.9 1.5-1.2 1.5-.2 1.5-.9 1.5-.7 1.5,.6 1.5-1.3 1.5,1.8 1.5-.2 1.5-.7 1.5-1 1.5,0 1.5,.4 1.5-1.8 1.5-.6 1.5-1.6 1.5,1.4 1.5,.1 1.5,1 1.5,.7 1.5,.2 1.5-.5 1.5,2.4 1.5-.4 1.5,1.4 1.5,1.4 1.5-4 1.5-15.3 1.5-8 1.5-7.1 1.5-3.2 1.5-5 1.5-3 1.5-1.2 1.5-2.1 1.5-4.2 1.5,1.5 1.5-1.1 1.5-.4 1.5,1 1.5,1 1.5-3 1.5,.6 1.5-.1 1.5-.3 1.5,.7 1.5-.1 1.5-.1 1.5-.2 1.5,1.5 1.5-1.5 1.5,.2 1.5,.2 1.5,.5 1.5,1 1.5,2.1 1.5,1.4 1.5-.5 1.5-1 1.5-2.9 1.5-1.2 1.5-.9" fill="none" stroke="#ff8412" stroke-width="1.6" stroke-linejoin="round" />
<path d="M166.7,263l0,18.8 19.1,0" fill="none" stroke="#000" stroke-width="1.3" stroke-linejoin="round" />
<text x="169" y="273.8" font-size="6.6" font-weight="bold" fill="#000" text-anchor="start" >0.5% ΔF</text>
<text x="169" y="287.9" font-size="6.5" font-weight="bold" fill="#000" text-anchor="start" >5 ms</text>
<path d="M167.2,370.6l0,17.9 18.1,0" fill="none" stroke="#000" stroke-width="1.3" stroke-linejoin="round" />
<text x="168.8" y="379.7" font-size="6.6" font-weight="bold" fill="#000" text-anchor="start" >2.5% ΔF</text>
<text x="168.8" y="395.2" font-size="6.5" font-weight="bold" fill="#000" text-anchor="start" >5 ms</text>
<rect x="200.6" y="270.9" width="94.3" height="53.3" fill="none" stroke="#000" stroke-width="1.3"/>
<path d="M202,316.2l.8-.2 .8,.5 .8-.1 .8,.6 .8,0 .8,.5 .8-.3 .8-.2 .8-.2 .8-.1 .8-.2 .8,.2 .8,.2 .8-.1 .8-7 .8-7.2 .8-4.2 .8-1.9 .8-1 .8-1.4 .8-.3 .8,.6 .8-.1 .8,.2 .8,.3 .8,.7 .8-.7 .8-.2 .8,.8 .8-.7 .8-.8 .8,.3 .8,.9 .8-1 .8-.3 .8,.3 .8-.4 .8-.8 .8,.4 .8,.8 .8-.1 .8,0 .8,.6 .8,.3 .8-.1 .8-.2 .8,.4 .8-.3 .8-.8 .8-.1 .8,.4 .8-.2 .8-.3 .8,.4 .8,.2 .8-.4 .8-.6 .8,.7 .8,0 .8-.3 .8,.3 .8,.7 .8-.5 .8,.3 .8,.9 .8-.1 .8,.4 .8,.7 .8-.7 .8-.8 .8,0 .8-1 .8-.8 .8,.8 .8,.5 .8-.1 .8-.1 .8,.9 .8-.3 .8-.4 .8,6.1 .8,4.4 .8,2.4 .8,2 .8,1.9 .8,1 .8,1.1 .8,.9 .8,.8 .8,.1 .8,.4 .8,0 .8-.4 .8,0 .8,0 .8,.3 .8,.2 .8,.5 .8,.1 .8-.4 .8-.4 .8-.1 .8,.1 .8,.4 .8,.4 .8,.4 .8,.2 .8,0 .8-.4 .8-.2 .8-.7 .8-.3" fill="none" stroke="#f5a20f" stroke-width="1.2" stroke-linejoin="round" />
<path d="M202,314.5l.6,2.5 .6-.2 .6,.6 .6,.5 .6-2.3 .6,1.7 .6,1 .6-2.3 .6,1.3 .6-1.5 .6-1.7 .6,2 .6-1.1 .6,1.1 .6-.7 .6,1 .6-3 .6,5.1 .6-.9 .6-11.4 .6-8.2 .6-3.3 .6-2 .6-2.3 .6-1.3 .6-4.3 .6,.7 .6,3.3 .6-1.9 .6-2.9 .6,.9 .6-1 .6,.5 .6,3.2 .6-2.2 .6,2 .6-1.5 .6-2.7 .6,1.2 .6,4.4 .6-4.7 .6-.5 .6,3.4 .6-1.9 .6-.2 .6,2.2 .6-5 .6,3.2 .6-2.3 .6-.6 .6,.8 .6,2.9 .6-2 .6-2.7 .6,1 .6,4 .6-.9 .6-3.3 .6,5.3 .6-4.4 .6-1.3 .6,1.5 .6,1.6 .6,.9 .6-.9 .6-2.3 .6-.3 .6-1.5 .6,2.1 .6-.9 .6,1.2 .6-2.4 .6,1.1 .6-.7 .6-.6 .6,0 .6,.2 .6-.4 .6,2.6 .6-.8 .6-2.2 .6,2.7 .6-.4 .6,1.7 .6-2.6 .6-.1 .6-.8 .6,1.1 .6,.5 .6-.6 .6-.7 .6,1.2 .6-.8 .6,.1 .6-1.9 .6,1.7 .6-1.9 .6,.1 .6,1.5 .6,2.9 .6-2 .6-3.1 .6-1.8 .6,.3 .6,1.9 .6,4.6 .6,2.2 .6,4.3 .6,2.4 .6,3 .6,1.6 .6,3.1 .6-1 .6,3.2 .6,3.9 .6-.7 .6,3.3 .6-1.8 .6,2.3 .6,1.9 .6-1.5 .6,1.1 .6,5.3 .6-4.4 .6,.4 .6,.5 .6,1.3 .6,.1 .6,1.8 .6-.1 .6-1.6 .6,.2 .6-1.5 .6,0 .6,1.3 .6,2.3 .6-.9 .6,1.2 .6,.2 .6-1.6 .6,3.5 .6-4 .6-.1 .6,.3 .6,2.5 .6-2 .6-.9 .6,1.8 .6,1.1 .6-1.9" fill="none" stroke="#9b1b20" stroke-width="1.2" stroke-linejoin="round" />
<text x="364.5" y="243.6" font-size="11.95" font-weight="bold" fill="#000" text-anchor="start" >Fluoro Kinetics</text>
<text transform="translate(312.8,319.35) rotate(-90)" x="0" y="0" font-size="11.07" font-weight="bold" text-anchor="middle" >Time Constant (ms)</text>
<line x1="331.7" y1="250.9" x2="331.7" y2="388.95" stroke="#000" stroke-width="1.3" />
<line x1="331.05" y1="388.3" x2="491" y2="388.3" stroke="#000" stroke-width="1.3" />
<line x1="327.7" y1="251.5" x2="331.7" y2="251.5" stroke="#000" stroke-width="1.1" />
<text x="326.8" y="254.2" font-size="7.6" font-weight="bold" fill="#000" text-anchor="end" >2.0</text>
<line x1="327.7" y1="285.7" x2="331.7" y2="285.7" stroke="#000" stroke-width="1.1" />
<text x="326.8" y="288.4" font-size="7.6" font-weight="bold" fill="#000" text-anchor="end" >1.5</text>
<line x1="327.7" y1="319.9" x2="331.7" y2="319.9" stroke="#000" stroke-width="1.1" />
<text x="326.8" y="322.59999999999997" font-size="7.6" font-weight="bold" fill="#000" text-anchor="end" >1.0</text>
<line x1="327.7" y1="354.1" x2="331.7" y2="354.1" stroke="#000" stroke-width="1.1" />
<text x="326.8" y="356.8" font-size="7.6" font-weight="bold" fill="#000" text-anchor="end" >0.5</text>
<line x1="327.7" y1="388.3" x2="331.7" y2="388.3" stroke="#000" stroke-width="1.1" />
<text x="326.8" y="391.0" font-size="7.6" font-weight="bold" fill="#000" text-anchor="end" >0.0</text>
<line x1="376.5" y1="388.3" x2="376.5" y2="392.5" stroke="#000" stroke-width="1.1" />
<line x1="443.5" y1="388.3" x2="443.5" y2="392.5" stroke="#000" stroke-width="1.1" />
<path d="M376.3,286l0-10.5 68,0 0,10.5" fill="none" stroke="#000" stroke-width="1.0" stroke-linejoin="round" />
<text x="410.3" y="271" font-size="8.3" font-weight="normal" fill="#000" text-anchor="middle" >ns</text>
<circle cx="376.5" cy="292.5" r="3.1" fill="#a3141a"/>
<circle cx="376.5" cy="306.9" r="3.1" fill="#a3141a"/>
<circle cx="376.7" cy="318.5" r="3.1" fill="#a3141a"/>
<circle cx="383.2" cy="326.7" r="3.1" fill="#a3141a"/>
<circle cx="370.8" cy="330.2" r="3.1" fill="#a3141a"/>
<circle cx="383.0" cy="334.3" r="3.1" fill="#a3141a"/>
<circle cx="376.6" cy="341.8" r="3.1" fill="#a3141a"/>
<line x1="365" y1="314.9" x2="388" y2="314.9" stroke="#a3141a" stroke-width="1.2" />
<line x1="365" y1="327.8" x2="388" y2="327.8" stroke="#a3141a" stroke-width="1.2" />
<line x1="376.5" y1="314.9" x2="376.5" y2="327.8" stroke="#a3141a" stroke-width="1.2" />
<line x1="354" y1="321.6" x2="398.8" y2="321.6" stroke="#000" stroke-width="1.3" />
<rect x="440.5" y="284.1" width="6" height="6" fill="#ff8412"/>
<rect x="440.5" y="304.6" width="6" height="6" fill="#ff8412"/>
<rect x="440.5" y="312.1" width="6" height="6" fill="#ff8412"/>
<rect x="434.7" y="320.3" width="6" height="6" fill="#ff8412"/>
<rect x="447.1" y="320.3" width="6" height="6" fill="#ff8412"/>
<rect x="434.7" y="328.5" width="6" height="6" fill="#ff8412"/>
<rect x="447.1" y="328.5" width="6" height="6" fill="#ff8412"/>
<line x1="432" y1="311.2" x2="455" y2="311.2" stroke="#ff8412" stroke-width="1.2" />
<line x1="432" y1="323" x2="455" y2="323" stroke="#ff8412" stroke-width="1.2" />
<line x1="443.5" y1="311.2" x2="443.5" y2="323" stroke="#ff8412" stroke-width="1.2" />
<line x1="422" y1="317.4" x2="466.7" y2="317.4" stroke="#000" stroke-width="1.3" />
<circle cx="351.2" cy="402.6" r="3" fill="#a3141a"/>
<text x="362.5" y="405.6" font-size="8.2" font-weight="normal" fill="#222" text-anchor="start" >F1304ANAP</text>
<rect x="416.6" y="399.7" width="5.8" height="5.8" fill="#ff8412"/>
<text x="430.6" y="405.6" font-size="8.2" font-weight="normal" fill="#222" text-anchor="start" >L1319ANAP</text>
<text x="538.2" y="243.7" font-size="12.0" font-weight="bold" fill="#000" text-anchor="start" >Fluoro/FI Kinetics</text>
<text transform="translate(498.3,319.5) rotate(-90)" x="0" y="0" font-size="10.9" font-weight="bold" text-anchor="middle" >Time Constant (ms)</text>
<line x1="518.3" y1="250.5" x2="518.3" y2="389.45" stroke="#000" stroke-width="1.3" />
<line x1="517.65" y1="388.8" x2="676" y2="388.8" stroke="#000" stroke-width="1.3" />
<line x1="514.3" y1="251.3" x2="518.3" y2="251.3" stroke="#000" stroke-width="1.1" />
<text x="513" y="254.0" font-size="7.6" font-weight="bold" fill="#000" text-anchor="end" >10</text>
<line x1="514.3" y1="320.05" x2="518.3" y2="320.05" stroke="#000" stroke-width="1.1" />
<text x="513" y="322.75" font-size="7.6" font-weight="bold" fill="#000" text-anchor="end" >1</text>
<line x1="514.3" y1="388.8" x2="518.3" y2="388.8" stroke="#000" stroke-width="1.1" />
<text x="513" y="391.5" font-size="7.6" font-weight="bold" fill="#000" text-anchor="end" >0.1</text>
<line x1="518.1400000000001" y1="388.8" x2="518.1400000000001" y2="392.6" stroke="#000" stroke-width="1.1" />
<text x="518.1400000000001" y="401.8" font-size="7.6" font-weight="bold" fill="#000" text-anchor="middle" >-40</text>
<line x1="544.4200000000001" y1="388.8" x2="544.4200000000001" y2="392.6" stroke="#000" stroke-width="1.1" />
<text x="544.4200000000001" y="401.8" font-size="7.6" font-weight="bold" fill="#000" text-anchor="middle" >-20</text>
<line x1="570.7" y1="388.8" x2="570.7" y2="392.6" stroke="#000" stroke-width="1.1" />
<text x="570.7" y="401.8" font-size="7.6" font-weight="bold" fill="#000" text-anchor="middle" >0</text>
<line x1="596.98" y1="388.8" x2="596.98" y2="392.6" stroke="#000" stroke-width="1.1" />
<text x="596.98" y="401.8" font-size="7.6" font-weight="bold" fill="#000" text-anchor="middle" >20</text>
<line x1="623.26" y1="388.8" x2="623.26" y2="392.6" stroke="#000" stroke-width="1.1" />
<text x="623.26" y="401.8" font-size="7.6" font-weight="bold" fill="#000" text-anchor="middle" >40</text>
<line x1="649.5400000000001" y1="388.8" x2="649.5400000000001" y2="392.6" stroke="#000" stroke-width="1.1" />
<text x="649.5400000000001" y="401.8" font-size="7.6" font-weight="bold" fill="#000" text-anchor="middle" >60</text>
<line x1="675.82" y1="388.8" x2="675.82" y2="392.6" stroke="#000" stroke-width="1.1" />
<text x="675.82" y="401.8" font-size="7.6" font-weight="bold" fill="#000" text-anchor="middle" >80</text>
<text x="639" y="414.6" font-size="11.1" font-weight="bold" fill="#000" text-anchor="start" >V (mV)</text>
<line x1="544.4200000000001" y1="290.95184616684446" x2="544.4200000000001" y2="300.1101204688269" stroke="#ff8412" stroke-width="1.1" />
<line x1="541.22" y1="290.95184616684446" x2="547.6200000000001" y2="290.95184616684446" stroke="#ff8412" stroke-width="1.1" />
<line x1="541.22" y1="300.1101204688269" x2="547.6200000000001" y2="300.1101204688269" stroke="#ff8412" stroke-width="1.1" />
<line x1="557.5600000000001" y1="290.95184616684446" x2="557.5600000000001" y2="301.6819436722928" stroke="#ff8412" stroke-width="1.1" />
<line x1="554.36" y1="290.95184616684446" x2="560.7600000000001" y2="290.95184616684446" stroke="#ff8412" stroke-width="1.1" />
<line x1="554.36" y1="301.6819436722928" x2="560.7600000000001" y2="301.6819436722928" stroke="#ff8412" stroke-width="1.1" />
<line x1="570.7" y1="302.83362484126354" x2="570.7" y2="315.1081119977039" stroke="#ff8412" stroke-width="1.1" />
<line x1="567.5" y1="302.83362484126354" x2="573.9000000000001" y2="302.83362484126354" stroke="#ff8412" stroke-width="1.1" />
<line x1="567.5" y1="315.1081119977039" x2="573.9000000000001" y2="315.1081119977039" stroke="#ff8412" stroke-width="1.1" />
<line x1="583.84" y1="309.5801763236649" x2="583.84" y2="322.5395868699931" stroke="#ff8412" stroke-width="1.1" />
<line x1="580.64" y1="309.5801763236649" x2="587.0400000000001" y2="309.5801763236649" stroke="#ff8412" stroke-width="1.1" />
<line x1="580.64" y1="322.5395868699931" x2="587.0400000000001" y2="322.5395868699931" stroke="#ff8412" stroke-width="1.1" />
<line x1="596.98" y1="319.75290555244334" x2="596.98" y2="332.9122067308037" stroke="#ff8412" stroke-width="1.1" />
<line x1="593.78" y1="319.75290555244334" x2="600.1800000000001" y2="319.75290555244334" stroke="#ff8412" stroke-width="1.1" />
<line x1="593.78" y1="332.9122067308037" x2="600.1800000000001" y2="332.9122067308037" stroke="#ff8412" stroke-width="1.1" />
<line x1="610.12" y1="313.3874366056961" x2="610.12" y2="324.90244885714236" stroke="#ff8412" stroke-width="1.1" />
<line x1="606.92" y1="313.3874366056961" x2="613.32" y2="313.3874366056961" stroke="#ff8412" stroke-width="1.1" />
<line x1="606.92" y1="324.90244885714236" x2="613.32" y2="324.90244885714236" stroke="#ff8412" stroke-width="1.1" />
<line x1="623.26" y1="314.6062893342258" x2="623.26" y2="330.69950974901985" stroke="#ff8412" stroke-width="1.1" />
<line x1="620.06" y1="314.6062893342258" x2="626.46" y2="314.6062893342258" stroke="#ff8412" stroke-width="1.1" />
<line x1="620.06" y1="330.69950974901985" x2="626.46" y2="330.69950974901985" stroke="#ff8412" stroke-width="1.1" />
<line x1="636.4000000000001" y1="317.75211681027224" x2="636.4000000000001" y2="333.37512678860776" stroke="#ff8412" stroke-width="1.1" />
<line x1="633.2" y1="317.75211681027224" x2="639.6000000000001" y2="317.75211681027224" stroke="#ff8412" stroke-width="1.1" />
<line x1="633.2" y1="333.37512678860776" x2="639.6000000000001" y2="333.37512678860776" stroke="#ff8412" stroke-width="1.1" />
<line x1="649.5400000000001" y1="313.8690235885414" x2="649.5400000000001" y2="333.84533722506626" stroke="#ff8412" stroke-width="1.1" />
<line x1="646.34" y1="313.8690235885414" x2="652.7400000000001" y2="313.8690235885414" stroke="#ff8412" stroke-width="1.1" />
<line x1="646.34" y1="333.84533722506626" x2="652.7400000000001" y2="333.84533722506626" stroke="#ff8412" stroke-width="1.1" />
<circle cx="544.4" cy="295.2" r="3.2" fill="#ff8412"/>
<circle cx="557.6" cy="295.8" r="3.2" fill="#ff8412"/>
<circle cx="570.7" cy="308.3" r="3.2" fill="#ff8412"/>
<circle cx="583.8" cy="315.4" r="3.2" fill="#ff8412"/>
<circle cx="597.0" cy="325.6" r="3.2" fill="#ff8412"/>
<circle cx="610.1" cy="318.6" r="3.2" fill="#ff8412"/>
<circle cx="623.3" cy="321.6" r="3.2" fill="#ff8412"/>
<circle cx="636.4" cy="324.6" r="3.2" fill="#ff8412"/>
<circle cx="649.5" cy="322.2" r="3.2" fill="#ff8412"/>
<line x1="544.4200000000001" y1="287.2479137380232" x2="544.4200000000001" y2="292.69162440379745" stroke="#000" stroke-width="1.1" />
<line x1="541.22" y1="287.2479137380232" x2="547.6200000000001" y2="287.2479137380232" stroke="#000" stroke-width="1.1" />
<line x1="541.22" y1="292.69162440379745" x2="547.6200000000001" y2="292.69162440379745" stroke="#000" stroke-width="1.1" />
<circle cx="544.4" cy="289.8" r="3.2" fill="#000"/>
<line x1="557.5600000000001" y1="282.64532195091857" x2="557.5600000000001" y2="291.5205823270063" stroke="#000" stroke-width="1.1" />
<line x1="554.36" y1="282.64532195091857" x2="560.7600000000001" y2="282.64532195091857" stroke="#000" stroke-width="1.1" />
<line x1="554.36" y1="291.5205823270063" x2="560.7600000000001" y2="291.5205823270063" stroke="#000" stroke-width="1.1" />
<circle cx="557.6" cy="286.8" r="3.2" fill="#000"/>
<line x1="570.7" y1="285.791149426965" x2="570.7" y2="292.10036259516556" stroke="#000" stroke-width="1.1" />
<line x1="567.5" y1="285.791149426965" x2="573.9000000000001" y2="285.791149426965" stroke="#000" stroke-width="1.1" />
<line x1="567.5" y1="292.10036259516556" x2="573.9000000000001" y2="292.10036259516556" stroke="#000" stroke-width="1.1" />
<circle cx="570.7" cy="288.8" r="3.2" fill="#000"/>
<line x1="583.84" y1="286.7543860449085" x2="583.84" y2="297.19485588080215" stroke="#000" stroke-width="1.1" />
<line x1="580.64" y1="286.7543860449085" x2="587.0400000000001" y2="286.7543860449085" stroke="#000" stroke-width="1.1" />
<line x1="580.64" y1="297.19485588080215" x2="587.0400000000001" y2="297.19485588080215" stroke="#000" stroke-width="1.1" />
<circle cx="583.8" cy="291.5" r="3.2" fill="#000"/>
<line x1="596.98" y1="293.9104771323271" x2="596.98" y2="306.0167511924052" stroke="#000" stroke-width="1.1" />
<line x1="593.78" y1="293.9104771323271" x2="600.1800000000001" y2="293.9104771323271" stroke="#000" stroke-width="1.1" />
<line x1="593.78" y1="306.0167511924052" x2="600.1800000000001" y2="306.0167511924052" stroke="#000" stroke-width="1.1" />
<circle cx="597.0" cy="299.4" r="3.2" fill="#000"/>
<line x1="610.12" y1="302.5000152741477" x2="610.12" y2="307.94372593992193" stroke="#000" stroke-width="1.1" />
<line x1="606.92" y1="302.5000152741477" x2="613.32" y2="302.5000152741477" stroke="#000" stroke-width="1.1" />
<line x1="606.92" y1="307.94372593992193" x2="613.32" y2="307.94372593992193" stroke="#000" stroke-width="1.1" />
<circle cx="610.1" cy="305.1" r="3.2" fill="#000"/>
<line x1="623.26" y1="303.0018379376258" x2="623.26" y2="308.5469332360629" stroke="#000" stroke-width="1.1" />
<line x1="620.06" y1="303.0018379376258" x2="626.46" y2="303.0018379376258" stroke="#000" stroke-width="1.1" />
<line x1="620.06" y1="308.5469332360629" x2="626.46" y2="308.5469332360629" stroke="#000" stroke-width="1.1" />
<circle cx="623.3" cy="305.6" r="3.2" fill="#000"/>
<line x1="636.4000000000001" y1="303.6843304098953" x2="636.4000000000001" y2="309.370647424277" stroke="#000" stroke-width="1.1" />
<line x1="633.2" y1="303.6843304098953" x2="639.6000000000001" y2="303.6843304098953" stroke="#000" stroke-width="1.1" />
<line x1="633.2" y1="309.370647424277" x2="639.6000000000001" y2="309.370647424277" stroke="#000" stroke-width="1.1" />
<circle cx="636.4" cy="306.4" r="3.2" fill="#000"/>
<line x1="649.5400000000001" y1="308.5469332360629" x2="649.5400000000001" y2="310.650461007997" stroke="#000" stroke-width="1.1" />
<line x1="646.34" y1="308.5469332360629" x2="652.7400000000001" y2="308.5469332360629" stroke="#000" stroke-width="1.1" />
<line x1="646.34" y1="310.650461007997" x2="652.7400000000001" y2="310.650461007997" stroke="#000" stroke-width="1.1" />
<circle cx="649.5" cy="309.6" r="3.2" fill="#000"/>
<circle cx="598" cy="367.3" r="3.2" fill="#ff8412"/>
<text x="609.5" y="370.3" font-size="8.3" font-weight="normal" fill="#222" text-anchor="start" >Fluore</text>
<circle cx="598" cy="380.5" r="3.2" fill="#000"/>
<text x="609.5" y="383.5" font-size="8.3" font-weight="normal" fill="#222" text-anchor="start" >Fast Inactivation</text>
<text x="112.3" y="439" font-size="12.2" font-weight="bold" fill="#ff8412" text-anchor="start" >L1319ANAP</text>
<text x="108.6" y="453.1" font-size="10.95" font-weight="bold" fill="#000" text-anchor="start" >Gating Current</text>
<path d="M121,510.4l3.5,0 0-13.9 34.5,0 0,13.9 16.1,0" fill="none" stroke="#000" stroke-width="1.3" stroke-linejoin="round" />
<line x1="124.5" y1="504.4" x2="159" y2="504.4" stroke="#000" stroke-width="1.2" />
<text x="136.7" y="491.2" font-size="6.6" font-weight="bold" fill="#000" text-anchor="middle" >-130 to 40mV</text>
<text x="102.5" y="517" font-size="6.5" font-weight="bold" fill="#000" text-anchor="start" >-130mV</text>
<text x="151" y="517" font-size="6.5" font-weight="bold" fill="#000" text-anchor="start" >-130mV</text>
<path d="M234.4,487l0,18.1 26.8,0" fill="none" stroke="#000" stroke-width="1.2" stroke-linejoin="round" />
<text x="236.9" y="498.4" font-size="6.6" font-weight="bold" fill="#000" text-anchor="start" >1 µA</text>
<text x="239.4" y="511.3" font-size="6.6" font-weight="bold" fill="#000" text-anchor="start" >5 ms</text>
<rect x="199.2" y="428.2" width="96" height="57.9" fill="none" stroke="#000" stroke-width="1.3"/>
<path d="M202.5,481.6l14.4,0 .5-49 .5,0 .1,2.8 .7,14 .7,9.9 .7,6.9 .7,4.9 .7,3.5 .7,2.4 .7,1.7 .7,1.2 .7,.9 .7,.6 .7,.4 .7,.3 .7,.2 .7,.1 .7,.2 .7,0 .7,.1 .7,0 4,.1 4,0 4,0 4,0 4,0 4,0 4,0 4,0 4,0 4,0 4,0 4,0 4,0 4,0 4,0" fill="none" stroke="#111" stroke-width="1.5" stroke-linejoin="round" />
<path d="M202.5,433l.6,.8 .6,.5 .6-.2 .6-.6 .6-.9 .6-.7 .6-.2 .6,.4 .6,.8 .6,.9 .6,.5 .6-.1 .6-.6 .6-.9 .6-.7 .6-.3 .6,.3 .6,.8 .6,.9 .6,.5 .6,0 .6-.5 .6-.9 .6,.2 .6,4 .6,10.3 .6,7.9 .6,6 .6,4.7 .6,3.6 .6,2.8 .6,2.1 .6,1.7 .6,1.2 .6,.9 .6,.6 .6,.2 .6-.3 .6-.6 .6-.7 .6-.7 .6-.1 .6,.4 .6,.9 .6,1.2 .6,.9 .6,.8 .6,.4 .6,.2 .6,.1 .6,0 .6,.1 .6,0 .6,0 .6,0 .6-.1 .6-.1 .6-.2 .6-.4 .6-.7 .6-.7 .6-.6 .6-.2 .6,.3 .6,.7 .6,.8 .6,.6 .6,.3 .6,.2 .6,.1 .6,0 .6-.1 .6-.1 .6-.3 .6-.5 .6-.8 .6-1.1 .6-1.2 .6-.7 .6-.2 .6,.6 .6,1.1 .6,1.1 .6,.9 .6,.6 .6,.3 .6-.2 .6-.5 .6-.6 .6-.6 .6-.2 .6,.4 .6,.6 .6,.7 .6,.4 .6,.2 .6,0 .6-.2 .6-.6 .6-1 .6-1.4 .6-1.3 .6-.7 .6,.1 .6,1 .6,1.4 .6,1.3 .6,.8 .6,.5 .6,.2 .6,0 .6-.3 .6-.4 .6-.9 .6-1.1 .6-1 .6-.7 .6,.2 .6,.8 .6,1.1 .6,1.1 .6,.6 .6,.3 .6,0 .6-.4 .6-.6 .6-.7 .6-.4 .6,.1 .6,.6 .6,.7 .6,.5 .6,.3 .6,0 .6-.3 .6-.6 .6-.9 .6-1 .6-.7 .6-.2 .6,.6 .6,.9 .6,1 .6,.8 .6,.4 .6,.2 .6-.1 .6-.3 .6-.8 .6-1.1 .6-.9 .6-.1" fill="none" stroke="#ff8412" stroke-width="1.3" stroke-linejoin="round" />
<path d="M35.4,529l.3,0 .3-62.5 .3-21.4 .3-3.5 .3,4 .3,6.7 .3,7.5 .3,7.3 .3,6.7 .3,6.1 .3,5.5 .3,4.9 .3,4.4 .3,3.9 .3,3.4 .3,3.1 .3,2.7 .3,2.4 .3,2.1 .3,1.9 .3,1.7 .3,1.4 .3,1.4 .3,1.1 .3,1.1 .3,.9 .3,.8 .3,.7 .8,1.6 .8,1.1 .8,.8 .8,.6 .8,.5 .8,.3 .8,.2 .8,.2 .8,.1 .8,.1 .8,0 .8,.1" fill="none" stroke="#6a6a6a" stroke-width="0.35" stroke-linejoin="round" />
<path d="M35.4,529l.3,0 .3-57.4 .3-20.7 .3-4.3 .3,2.7 .3,5.4 .3,6.3 .3,6.3 .3,6 .3,5.5 .3,5 .3,4.5 .3,4.1 .3,3.7 .3,3.3 .3,3 .3,2.7 .3,2.4 .3,2.2 .3,1.9 .3,1.8 .3,1.6 .3,1.4 .3,1.2 .3,1.2 .3,1 .3,.9 .3,.9 .8,1.8 .8,1.4 .8,1 .8,.8 .8,.6 .8,.4 .8,.4 .8,.2 .8,.2 .8,.2 .8,.1 .8,.1 .8,0 .8,.1" fill="none" stroke="#6a6a6a" stroke-width="0.35" stroke-linejoin="round" />
<path d="M35.4,529l.3,0 .3-52.7 .3-19.8 .3-4.9 .3,1.7 .3,4.4 .3,5.3 .3,5.5 .3,5.3 .3,4.9 .3,4.5 .3,4.2 .3,3.7 .3,3.5 .3,3.1 .3,2.9 .3,2.6 .3,2.3 .3,2.2 .3,1.9 .3,1.8 .3,1.6 .3,1.4 .3,1.4 .3,1.2 .3,1.1 .3,1 .3,.9 .8,2 .8,1.6 .8,1.2 .8,.9 .8,.8 .8,.5 .8,.5 .8,.3 .8,.3 .8,.2 .8,.2 .8,.1 .8,.1 .8,0 .8,.1 .8,0 .8,.1" fill="none" stroke="#6a6a6a" stroke-width="0.35" stroke-linejoin="round" />
<path d="M35.4,529l.3,0 .3-48.4 .3-18.8 .3-5.1 .3,.9 .3,3.6 .3,4.5 .3,4.7 .3,4.6 .3,4.4 .3,4.1 .3,3.7 .3,3.5 .3,3.2 .3,2.9 .3,2.6 .3,2.5 .3,2.2 .3,2.1 .3,1.9 .3,1.7 .3,1.6 .3,1.5 .3,1.3 .3,1.3 .3,1.1 .3,1 .3,1 .8,2.1 .8,1.7 .8,1.4 .8,1.1 .8,.8 .8,.7 .8,.5 .8,.5 .8,.3 .8,.3 .8,.2 .8,.1 .8,.2 .8,.1 .8,.1 .8,0 .8,.1 .8,0 .8,.1" fill="none" stroke="#6a6a6a" stroke-width="0.35" stroke-linejoin="round" />
<path d="M35.4,529l.3,0 .3-44.4 .3-17.7 .3-5.3 .3,.5 .3,2.8 .3,3.8 .3,4.1 .3,4.1 .3,3.8 .3,3.7 .3,3.3 .3,3.2 .3,2.9 .3,2.7 .3,2.4 .3,2.3 .3,2.2 .3,1.9 .3,1.8 .3,1.7 .3,1.5 .3,1.5 .3,1.3 .3,1.2 .3,1.1 .3,1 .3,1 .8,2.2 .8,1.8 .8,1.5 .8,1.1 .8,1 .8,.7 .8,.7 .8,.5 .8,.4 .8,.3 .8,.3 .8,.2 .8,.2 .8,.1 .8,.1 .8,.1 .8,.1 .8,0 .8,.1 .8,0 .8,.1" fill="none" stroke="#6a6a6a" stroke-width="0.35" stroke-linejoin="round" />
<path d="M35.4,529l.3,0 .3-40.7 .3-16.5 .3-5.2 .3-.1 .3,2.3 .3,3.3 .3,3.5 .3,3.6 .3,3.4 .3,3.2 .3,3 .3,2.8 .3,2.7 .3,2.4 .3,2.3 .3,2.1 .3,2 .3,1.8 .3,1.7 .3,1.6 .3,1.5 .3,1.3 .3,1.3 .3,1.2 .3,1.1 .3,1 .3,.9 .8,2.2 .8,1.9 .8,1.5 .8,1.2 .8,1 .8,.8 .8,.7 .8,.6 .8,.4 .8,.4 .8,.3 .8,.3 .8,.2 .8,.2 .8,.1 .8,.2 .8,0 .8,.1 .8,.1 .8,0 .8,.1 .8,0 .8,.1" fill="none" stroke="#6a6a6a" stroke-width="0.35" stroke-linejoin="round" />
<path d="M35.4,529l.3,0 .3-37.1 .3-15.4 .3-5.1 .3-.3 .3,1.8 .3,2.7 .3,3.1 .3,3.1 .3,3 .3,2.8 .3,2.7 .3,2.5 .3,2.4 .3,2.2 .3,2.1 .3,1.9 .3,1.8 .3,1.7 .3,1.6 .3,1.5 .3,1.4 .3,1.2 .3,1.3 .3,1.1 .3,1 .3,1 .3,.9 .8,2.2 .8,1.8 .8,1.5 .8,1.3 .8,1 .8,.9 .8,.7 .8,.6 .8,.5 .8,.5 .8,.3 .8,.3 .8,.3 .8,.2 .8,.1 .8,.2 .8,.1 .8,.1 .8,.1 .8,0 .8,.1 .8,.1 .8,0 .8,0 .8,.1" fill="none" stroke="#6a6a6a" stroke-width="0.35" stroke-linejoin="round" />
<path d="M35.4,529l.3,0 .3-33.8 .3-14.2 .3-4.9 .3-.6 .3,1.5 .3,2.3 .3,2.6 .3,2.7 .3,2.6 .3,2.6 .3,2.3 .3,2.3 .3,2.1 .3,2 .3,1.9 .3,1.7 .3,1.7 .3,1.5 .3,1.5 .3,1.3 .3,1.3 .3,1.2 .3,1.1 .3,1.1 .3,1 .3,.9 .3,.9 .8,2.1 .8,1.7 .8,1.5 .8,1.3 .8,1 .8,.9 .8,.8 .8,.6 .8,.6 .8,.4 .8,.4 .8,.3 .8,.3 .8,.2 .8,.2 .8,.2 .8,.1 .8,.2 .8,.1 .8,0 .8,.1 .8,.1 .8,0 .8,.1 .8,0 .8,0 .8,.1" fill="none" stroke="#6a6a6a" stroke-width="0.35" stroke-linejoin="round" />
<path d="M35.4,529l.3,0 .3-30.6 .3-13.1 .3-4.6 .3-.7 .3,1.1 .3,2 .3,2.2 .3,2.4 .3,2.2 .3,2.2 .3,2.1 .3,2 .3,1.9 .3,1.8 .3,1.7 .3,1.5 .3,1.5 .3,1.4 .3,1.4 .3,1.2 .3,1.2 .3,1.1 .3,1 .3,1 .3,.9 .3,.9 .3,.8 .8,2 .8,1.7 .8,1.4 .8,1.2 .8,1.1 .8,.9 .8,.7 .8,.7 .8,.6 .8,.4 .8,.4 .8,.4 .8,.3 .8,.2 .8,.2 .8,.2 .8,.2 .8,.1 .8,.1 .8,.1 .8,.1 .8,.1 .8,0 .8,.1 .8,0 .8,.1 .8,0 .8,0 .8,.1" fill="none" stroke="#6a6a6a" stroke-width="0.35" stroke-linejoin="round" />
<path d="M35.4,529l.3,0 .3-27.6 .3-11.9 .3-4.3 .3-.8 .3,.9 .3,1.6 .3,1.9 .3,2 .3,2 .3,1.9 .3,1.9 .3,1.7 .3,1.7 .3,1.5 .3,1.5 .3,1.4 .3,1.4 .3,1.2 .3,1.2 .3,1.1 .3,1.1 .3,1 .3,1 .3,.9 .3,.8 .3,.8 .3,.8 .8,1.8 .8,1.6 .8,1.4 .8,1.2 .8,1 .8,.8 .8,.8 .8,.7 .8,.5 .8,.5 .8,.4 .8,.4 .8,.3 .8,.2 .8,.3 .8,.2 .8,.1 .8,.2 .8,.1 .8,.1 .8,.1 .8,.1 .8,.1 .8,0 .8,.1 .8,0 .8,.1 .8,0 .8,0 .8,0 .8,.1" fill="none" stroke="#6a6a6a" stroke-width="0.35" stroke-linejoin="round" />
<path d="M35.4,529l.3,0 .3-24.7 .3-10.8 .3-4 .3-.8 .3,.6 .3,1.4 .3,1.6 .3,1.8 .3,1.7 .3,1.6 .3,1.6 .3,1.6 .3,1.4 .3,1.4 .3,1.3 .3,1.3 .3,1.1 .3,1.2 .3,1 .3,1 .3,1 .3,.9 .3,.9 .3,.8 .3,.7 .3,.8 .3,.7 .8,1.7 .8,1.4 .8,1.3 .8,1.1 .8,1 .8,.8 .8,.8 .8,.6 .8,.5 .8,.5 .8,.4 .8,.4 .8,.3 .8,.3 .8,.2 .8,.2 .8,.2 .8,.2 .8,.1 .8,.1 .8,.1 .8,.1 .8,.1 .8,.1 .8,0 .8,.1 .8,0 .8,0 .8,.1 .8,0 .8,0 .8,.1" fill="none" stroke="#6a6a6a" stroke-width="0.35" stroke-linejoin="round" />
<path d="M35.4,529l.3,0 .3-21.9 .3-9.7 .3-3.7 .3-.8 .3,.5 .3,1.1 .3,1.4 .3,1.4 .3,1.5 .3,1.4 .3,1.4 .3,1.3 .3,1.3 .3,1.2 .3,1.2 .3,1 .3,1.1 .3,1 .3,.9 .3,.9 .3,.9 .3,.8 .3,.7 .3,.8 .3,.7 .3,.6 .3,.7 .8,1.5 .8,1.3 .8,1.2 .8,1 .8,.9 .8,.8 .8,.7 .8,.6 .8,.6 .8,.4 .8,.4 .8,.4 .8,.3 .8,.3 .8,.2 .8,.2 .8,.2 .8,.2 .8,.1 .8,.1 .8,.1 .8,.1 .8,.1 .8,.1 .8,.1 .8,0 .8,.1 .8,0 .8,0 .8,.1 .8,0 .8,0 .8,0 .8,.1" fill="none" stroke="#6a6a6a" stroke-width="0.35" stroke-linejoin="round" />
<path d="M35.4,529l.3,0 .3-19.3 .3-8.6 .3-3.3 .3-.8 .3,.3 .3,1 .3,1.1 .3,1.2 .3,1.3 .3,1.2 .3,1.2 .3,1.1 .3,1.1 .3,1.1 .3,.9 .3,1 .3,.9 .3,.9 .3,.8 .3,.8 .3,.7 .3,.7 .3,.7 .3,.6 .3,.7 .3,.5 .3,.6 .8,1.4 .8,1.2 .8,1.1 .8,.9 .8,.8 .8,.8 .8,.6 .8,.6 .8,.5 .8,.4 .8,.4 .8,.3 .8,.4 .8,.2 .8,.3 .8,.2 .8,.1 .8,.2 .8,.1 .8,.2 .8,.1 .8,.1 .8,.1 .8,0 .8,.1 .8,.1 .8,0 .8,.1 .8,0 .8,0 .8,.1 .8,0 .8,0 .8,0 .8,.1" fill="none" stroke="#6a6a6a" stroke-width="0.35" stroke-linejoin="round" />
<path d="M35.4,529l.3,0 .3-16.8 .3-7.5 .3-3 .3-.8 .3,.3 .3,.8 .3,.9 .3,1 .3,1.1 .3,1 .3,1 .3,1 .3,.9 .3,.9 .3,.8 .3,.8 .3,.8 .3,.8 .3,.7 .3,.6 .3,.7 .3,.6 .3,.6 .3,.6 .3,.5 .3,.5 .3,.5 .8,1.2 .8,1.1 .8,.9 .8,.9 .8,.7 .8,.7 .8,.6 .8,.5 .8,.5 .8,.4 .8,.3 .8,.4 .8,.3 .8,.2 .8,.2 .8,.2 .8,.2 .8,.2 .8,.1 .8,.1 .8,.1 .8,.1 .8,.1 .8,.1 .8,.1 .8,0 .8,.1 .8,0 .8,.1 .8,0 .8,0 .8,.1 .8,0 .8,0 .8,0 .8,.1" fill="none" stroke="#6a6a6a" stroke-width="0.35" stroke-linejoin="round" />
<path d="M35.4,529l.3,0 .3-14.4 .3-6.5 .3-2.6 .3-.7 .3,.2 .3,.6 .3,.7 .3,.9 .3,.9 .3,.8 .3,.9 .3,.8 .3,.7 .3,.8 .3,.7 .3,.7 .3,.6 .3,.6 .3,.6 .3,.6 .3,.6 .3,.5 .3,.5 .3,.5 .3,.5 .3,.4 .3,.4 .8,1.1 .8,.9 .8,.8 .8,.8 .8,.6 .8,.6 .8,.6 .8,.4 .8,.4 .8,.4 .8,.4 .8,.3 .8,.2 .8,.3 .8,.2 .8,.2 .8,.1 .8,.2 .8,.1 .8,.1 .8,.1 .8,.1 .8,.1 .8,.1 .8,0 .8,.1 .8,.1 .8,0 .8,.1 .8,0 .8,0 .8,.1 .8,0 .8,0 .8,0 .8,0 .8,.1" fill="none" stroke="#6a6a6a" stroke-width="0.35" stroke-linejoin="round" />
<path d="M35.4,529l.3,0 .3-12.1 .3-5.5 .3-2.2 .3-.7 .3,.1 .3,.5 .3,.6 .3,.7 .3,.7 .3,.7 .3,.7 .3,.6 .3,.7 .3,.6 .3,.6 .3,.5 .3,.6 .3,.5 .3,.5 .3,.5 .3,.4 .3,.5 .3,.4 .3,.4 .3,.4 .3,.4 .3,.3 .8,.9 .8,.8 .8,.7 .8,.7 .8,.6 .8,.5 .8,.4 .8,.4 .8,.4 .8,.3 .8,.3 .8,.3 .8,.2 .8,.3 .8,.1 .8,.2 .8,.2 .8,.1 .8,.1 .8,.1 .8,.1 .8,.1 .8,.1 .8,.1 .8,0 .8,.1 .8,.1 .8,0 .8,0 .8,.1 .8,0 .8,0 .8,.1 .8,0 .8,0 .8,0 .8,.1" fill="none" stroke="#6a6a6a" stroke-width="0.35" stroke-linejoin="round" />
<path d="M35.4,529l.3,0 .3-10 .3-4.5 .3-1.9 .3-.5 .3,0 .3,.4 .3,.5 .3,.5 .3,.6 .3,.5 .3,.6 .3,.5 .3,.5 .3,.5 .3,.5 .3,.4 .3,.5 .3,.4 .3,.4 .3,.4 .3,.4 .3,.3 .3,.4 .3,.3 .3,.3 .3,.3 .3,.3 .8,.8 .8,.6 .8,.6 .8,.6 .8,.4 .8,.5 .8,.4 .8,.3 .8,.3 .8,.3 .8,.3 .8,.2 .8,.2 .8,.2 .8,.2 .8,.1 .8,.2 .8,.1 .8,.1 .8,.1 .8,.1 .8,.1 .8,0 .8,.1 .8,.1 .8,0 .8,.1 .8,0 .8,0 .8,.1 .8,0 .8,0 .8,.1 .8,0 .8,0 .8,0 .8,0 .8,.1" fill="none" stroke="#6a6a6a" stroke-width="0.35" stroke-linejoin="round" />
<path d="M35.4,529l.3,0 .3-8 .3-3.6 .3-1.5 .3-.5 .3,.1 .3,.2 .3,.4 .3,.4 .3,.5 .3,.4 .3,.4 .3,.4 .3,.4 .3,.4 .3,.4 .3,.3 .3,.4 .3,.3 .3,.3 .3,.3 .3,.3 .3,.3 .3,.3 .3,.2 .3,.3 .3,.2 .3,.3 .8,.6 .8,.5 .8,.5 .8,.4 .8,.4 .8,.4 .8,.3 .8,.3 .8,.2 .8,.3 .8,.2 .8,.2 .8,.1 .8,.2 .8,.2 .8,.1 .8,.1 .8,.1 .8,.1 .8,.1 .8,.1 .8,0 .8,.1 .8,.1 .8,0 .8,.1 .8,0 .8,0 .8,.1 .8,0 .8,0 .8,.1 .8,0 .8,0 .8,0 .8,0 .8,.1" fill="none" stroke="#6a6a6a" stroke-width="0.35" stroke-linejoin="round" />
<path d="M35.4,529l.3,0 .3-6.1 .3-2.8 .3-1.1 .3-.4 .3,0 .3,.2 .3,.3 .3,.3 .3,.3 .3,.3 .3,.3 .3,.3 .3,.3 .3,.3 .3,.3 .3,.3 .3,.2 .3,.3 .3,.2 .3,.2 .3,.3 .3,.2 .3,.2 .3,.2 .3,.2 .3,.2 .3,.2 .8,.4 .8,.4 .8,.4 .8,.3 .8,.3 .8,.3 .8,.2 .8,.3 .8,.2 .8,.2 .8,.1 .8,.2 .8,.1 .8,.2 .8,.1 .8,.1 .8,.1 .8,.1 .8,0 .8,.1 .8,.1 .8,0 .8,.1 .8,0 .8,.1 .8,0 .8,0 .8,.1 .8,0 .8,0 .8,.1 .8,0 .8,0 .8,0 .8,0 .8,.1" fill="none" stroke="#6a6a6a" stroke-width="0.35" stroke-linejoin="round" />
<path d="M35.4,529l.3,0 .3-4.3 .3-2 .3-.9 .3-.3 .3,0 .3,.2 .3,.1 .3,.3 .3,.2 .3,.2 .3,.2 .3,.2 .3,.2 .3,.2 .3,.2 .3,.2 .3,.2 .3,.2 .3,.2 .3,.1 .3,.2 .3,.1 .3,.2 .3,.1 .3,.2 .3,.1 .3,.1 .8,.3 .8,.3 .8,.3 .8,.2 .8,.2 .8,.2 .8,.2 .8,.2 .8,.1 .8,.2 .8,.1 .8,.1 .8,.1 .8,.1 .8,.1 .8,.1 .8,.1 .8,0 .8,.1 .8,0 .8,.1 .8,0 .8,.1 .8,0 .8,.1 .8,0 .8,0 .8,0 .8,.1 .8,0 .8,0 .8,0 .8,0 .8,0 .8,.1" fill="none" stroke="#6a6a6a" stroke-width="0.35" stroke-linejoin="round" />
<path d="M35.4,529l.3,0 .3-2.8 .3-1.3 .3-.5 .3-.2 .3,0 .3,.1 .3,.1 .3,.1 .3,.1 .3,.2 .3,.1 .3,.2 .3,.1 .3,.1 .3,.1 .3,.2 .3,.1 .3,.1 .3,.1 .3,.1 .3,.1 .3,.1 .3,.1 .3,.1 .3,.1 .3,0 .3,.1 .8,.2 .8,.2 .8,.2 .8,.1 .8,.2 .8,.1 .8,.1 .8,.1 .8,.1 .8,.1 .8,.1 .8,.1 .8,.1 .8,0 .8,.1 .8,0 .8,.1 .8,0 .8,.1 .8,0 .8,0 .8,.1 .8,0 .8,0 .8,0 .8,.1 .8,0 .8,0 .8,0 .8,0 .8,.1" fill="none" stroke="#6a6a6a" stroke-width="0.35" stroke-linejoin="round" />
<path d="M35.4,529l.3,0 .3-1.5 .3-.6 .3-.3 .3-.1 .3-.1 .3,.1 .3,0 .3,.1 .3,.1 .3,.1 .3,0 .3,.1 .3,.1 .3,0 .3,.1 .3,.1 .3,0 .3,.1 .3,0 .3,.1 .3,0 .3,.1 .3,0 .3,.1 .3,0 .3,.1 .3,0 .8,.1 .8,.1 .8,.1 .8,.1 .8,.1 .8,0 .8,.1 .8,.1 .8,0 .8,.1 .8,0 .8,0 .8,.1 .8,0 .8,0 .8,.1 .8,0 .8,0 .8,.1 .8,0 .8,0 .8,0 .8,0 .8,0 .8,.1" fill="none" stroke="#6a6a6a" stroke-width="0.35" stroke-linejoin="round" />
<path d="M35.4,529l.3,0 .3-5.9 .3-2.7 .3-1.1 .3-.3 .3,.1 .3,.2 .3,.3 .3,.4 .3,.4 .3,.3 .3,.3 .3,.4 .3,.3 .3,.3 .3,.3 .3,.3 .3,.2 .3,.3 .3,.3 .3,.2 .3,.2 .3,.2 .3,.2 .3,.2 .3,.2 .3,.2 .3,.2 .8,.4 .8,.4 .8,.4 .8,.3 .8,.2 .8,.3 .8,.2 .8,.2 .8,.2 .8,.1 .8,.2 .8,.1 .8,.1 .8,.1 .8,.1 .8,.1 .8,0 .8,.1 .8,0 .8,.1 .8,0 .8,.1 .8,0 .8,0 .8,.1 .8,0 .8,0 .8,0 .8,.1" fill="none" stroke="#222" stroke-width="1.0" stroke-linejoin="round" />
<path d="M35.4,529l.3,0 .3-3.9 .3-1.9 .3-.8 .3-.3 .3-.1 .3,.1 .3,.1 .3,.1 .3,.2 .3,.2 .3,.1 .3,.2 .3,.2 .3,.1 .3,.2 .3,.1 .3,.2 .3,.1 .3,.1 .3,.2 .3,.1 .3,.1 .3,.2 .3,.1 .3,.1 .3,.1 .3,.1 .8,.3 .8,.3 .8,.2 .8,.2 .8,.2 .8,.2 .8,.2 .8,.2 .8,.1 .8,.2 .8,.1 .8,.1 .8,.2 .8,.1 .8,.1 .8,.1 .8,0 .8,.1 .8,.1 .8,.1 .8,0 .8,.1 .8,.1 .8,0 .8,.1 .8,0 .8,0 .8,.1 .8,0 .8,.1 .8,0 .8,0 .8,0 .8,.1 .8,0 .8,0 .8,0 .8,0 .8,.1 .8,0 .8,0 .8,0 .8,0 .8,0 .8,0 .8,.1" fill="none" stroke="#222" stroke-width="1.0" stroke-linejoin="round" />
<path d="M35.4,529l.3,0 .3-2.7 .3-1.3 .3-.6 .3-.3 .3-.1 .3,0 .3,.1 .3,0 .3,.1 .3,.1 .3,.1 .3,.1 .3,0 .3,.1 .3,.1 .3,.1 .3,.1 .3,0 .3,.1 .3,.1 .3,.1 .3,0 .3,.1 .3,.1 .3,0 .3,.1 .3,.1 .8,.1 .8,.2 .8,.1 .8,.2 .8,.1 .8,.2 .8,.1 .8,.1 .8,.1 .8,.1 .8,.1 .8,.1 .8,.1 .8,.1 .8,.1 .8,.1 .8,0 .8,.1 .8,.1 .8,0 .8,.1 .8,.1 .8,0 .8,.1 .8,0 .8,.1 .8,0 .8,.1 .8,0 .8,0 .8,.1 .8,0 .8,0 .8,.1 .8,0 .8,0 .8,.1 .8,0 .8,0 .8,0 .8,.1 .8,0 .8,0 .8,0 .8,0 .8,.1 .8,0 .8,0 .8,0 .8,0 .8,0 .8,0 .8,.1 .8,0 .8,0 .8,0 .8,0 .8,0 .8,0 .8,0 .8,0 .8,0 .8,.1" fill="none" stroke="#222" stroke-width="1.0" stroke-linejoin="round" />
<path d="M35.4,529l.3,0 .3-1.8 .3-1 .3-.4 .3-.2 .3-.1 .3,0 .3,0 .3,0 .3,.1 .3,0 .3,.1 .3,0 .3,0 .3,.1 .3,0 .3,.1 .3,0 .3,0 .3,.1 .3,0 .3,0 .3,.1 .3,0 .3,.1 .3,0 .3,0 .3,.1 .8,0 .8,.1 .8,.1 .8,.1 .8,.1 .8,.1 .8,0 .8,.1 .8,.1 .8,0 .8,.1 .8,.1 .8,0 .8,.1 .8,0 .8,.1 .8,0 .8,.1 .8,0 .8,.1 .8,0 .8,.1 .8,0 .8,.1 .8,0 .8,0 .8,.1 .8,0 .8,.1 .8,0 .8,0 .8,.1 .8,0 .8,0 .8,0 .8,.1 .8,0 .8,0 .8,.1 .8,0 .8,0 .8,0 .8,0 .8,.1 .8,0 .8,0 .8,0 .8,0 .8,.1 .8,0 .8,0 .8,0 .8,0 .8,0 .8,.1 .8,0 .8,0 .8,0 .8,0 .8,0 .8,0 .8,.1 .8,0 .8,0 .8,0 .8,0 .8,0 .8,0 .8,0 .8,0 .8,0 .8,.1 .8,0 .8,0 .8,0 .8,0 .8,0 .8,0 .8,0 .8,0 .8,0 .8,0 .8,0 .8,0 .8,0 .8,0 .8,0 .8,.1" fill="none" stroke="#222" stroke-width="1.0" stroke-linejoin="round" />
<path d="M35.4,529l.3,0 .3-1.3 .3-.6 .3-.3 .3-.2 .3-.1 .3,0 .3,0 .3,0 .3,0 .3,0 .3,.1 .3,0 .3,0 .3,0 .3,0 .3,0 .3,.1 .3,0 .3,0 .3,0 .3,0 .3,0 .3,.1 .3,0 .3,0 .3,0 .3,0 .8,.1 .8,0 .8,.1 .8,0 .8,0 .8,.1 .8,0 .8,0 .8,.1 .8,0 .8,.1 .8,0 .8,0 .8,.1 .8,0 .8,0 .8,.1 .8,0 .8,0 .8,0 .8,.1 .8,0 .8,0 .8,.1 .8,0 .8,0 .8,0 .8,.1 .8,0 .8,0 .8,0 .8,.1 .8,0 .8,0 .8,0 .8,0 .8,.1 .8,0 .8,0 .8,0 .8,0 .8,.1 .8,0 .8,0 .8,0 .8,0 .8,.1 .8,0 .8,0 .8,0 .8,0 .8,0 .8,0 .8,.1 .8,0 .8,0 .8,0 .8,0 .8,0 .8,0 .8,.1 .8,0 .8,0 .8,0 .8,0 .8,0 .8,0 .8,0 .8,.1 .8,0 .8,0 .8,0 .8,0 .8,0 .8,0 .8,0 .8,0 .8,0 .8,.1 .8,0 .8,0 .8,0 .8,0 .8,0 .8,0 .8,0 .8,0 .8,0 .8,0 .8,0 .8,0 .8,.1 .8,0 .8,0 .8,0 .8,0 .8,0 .8,0 .8,0 .8,0 .8,0 .8,0 .8,0 .8,0 .8,0 .8,0 .8,0 .8,0 .8,.1 .8,0 .8,0 .8,0 .8,0 .8,0 .8,0 .8,0 .8,0 .8,0 .8,0 .8,0 .8,0 .8,0 .8,0 .8,0 .8,0 .8,0 .8,0 .8,0 .8,0 .8,0 .8,0 .8,0 .8,0 .8,.1" fill="none" stroke="#222" stroke-width="1.0" stroke-linejoin="round" />
<path d="M197.7,529l.3,0 .3,44.5 .3,14.1 .3,2.4 .3-2 .3-3.4 .3-3.8 .3-3.8 .3-3.6 .3-3.3 .3-3.1 .3-2.9 .3-2.7 .3-2.4 .3-2.3 .3-2.1 .3-1.9 .3-1.8 .3-1.7 .3-1.5 .3-1.4 .3-1.4 .3-1.2 .3-1.1 .3-1 .3-1 .3-.9 .3-.8 .8-1.9 .8-1.5 .8-1.2 .8-1 .8-.8 .8-.7 .8-.5 .8-.5 .8-.3 .8-.3 .8-.2 .8-.2 .8-.2 .8-.1 .8-.1 .8-.1 .8,0 .8-.1 .8,0 .8-.1" fill="none" stroke="#555" stroke-width="0.4" stroke-linejoin="round" />
<path d="M197.7,529l.3,0 .3,41.1 .3,13.4 .3,2.6 .3-1.4 .3-2.9 .3-3.3 .3-3.3 .3-3.2 .3-2.9 .3-2.8 .3-2.6 .3-2.4 .3-2.3 .3-2.1 .3-1.9 .3-1.8 .3-1.7 .3-1.6 .3-1.4 .3-1.4 .3-1.3 .3-1.1 .3-1.1 .3-1 .3-1 .3-.9 .3-.8 .8-1.9 .8-1.6 .8-1.3 .8-1.1 .8-.8 .8-.8 .8-.6 .8-.5 .8-.4 .8-.3 .8-.3 .8-.2 .8-.2 .8-.2 .8-.1 .8-.1 .8-.1 .8-.1 .8,0 .8-.1 .8,0 .8,0 .8-.1" fill="none" stroke="#555" stroke-width="0.4" stroke-linejoin="round" />
<path d="M197.7,529l.3,0 .3,38 .3,12.6 .3,2.7 .3-1.1 .3-2.4 .3-2.8 .3-2.9 .3-2.8 .3-2.6 .3-2.5 .3-2.3 .3-2.2 .3-2.1 .3-1.9 .3-1.8 .3-1.6 .3-1.6 .3-1.5 .3-1.3 .3-1.3 .3-1.2 .3-1.1 .3-1.1 .3-1 .3-.9 .3-.8 .3-.8 .8-1.9 .8-1.6 .8-1.4 .8-1.1 .8-.9 .8-.8 .8-.6 .8-.6 .8-.4 .8-.4 .8-.4 .8-.2 .8-.2 .8-.2 .8-.2 .8-.1 .8-.1 .8-.1 .8-.1 .8-.1 .8,0 .8-.1 .8,0 .8,0 .8-.1" fill="none" stroke="#555" stroke-width="0.4" stroke-linejoin="round" />
<path d="M197.7,529l.3,0 .3,34.9 .3,11.9 .3,2.7 .3-.7 .3-2.1 .3-2.4 .3-2.5 .3-2.5 .3-2.3 .3-2.2 .3-2.1 .3-2 .3-1.8 .3-1.7 .3-1.7 .3-1.5 .3-1.4 .3-1.4 .3-1.3 .3-1.2 .3-1.1 .3-1 .3-1 .3-1 .3-.8 .3-.9 .3-.7 .8-1.9 .8-1.6 .8-1.3 .8-1.1 .8-1 .8-.8 .8-.7 .8-.6 .8-.4 .8-.5 .8-.3 .8-.3 .8-.3 .8-.2 .8-.2 .8-.1 .8-.2 .8-.1 .8-.1 .8-.1 .8,0 .8-.1 .8,0 .8-.1 .8,0 .8,0 .8-.1" fill="none" stroke="#555" stroke-width="0.4" stroke-linejoin="round" />
<path d="M197.7,529l.3,0 .3,32.1 .3,11 .3,2.7 .3-.5 .3-1.7 .3-2.1 .3-2.2 .3-2.2 .3-2 .3-2 .3-1.8 .3-1.8 .3-1.6 .3-1.6 .3-1.5 .3-1.4 .3-1.3 .3-1.2 .3-1.2 .3-1.1 .3-1 .3-1 .3-.9 .3-.9 .3-.9 .3-.7 .3-.8 .8-1.7 .8-1.6 .8-1.3 .8-1.1 .8-.9 .8-.9 .8-.7 .8-.6 .8-.5 .8-.4 .8-.4 .8-.3 .8-.3 .8-.3 .8-.2 .8-.1 .8-.2 .8-.1 .8-.1 .8-.1 .8-.1 .8-.1 .8,0 .8-.1 .8,0 .8-.1 .8,0 .8,0 .8-.1" fill="none" stroke="#555" stroke-width="0.4" stroke-linejoin="round" />
<path d="M197.7,529l.3,0 .3,29.3 .3,10.2 .3,2.7 .3-.3 .3-1.5 .3-1.8 .3-1.9 .3-1.9 .3-1.8 .3-1.7 .3-1.7 .3-1.5 .3-1.5 .3-1.4 .3-1.3 .3-1.3 .3-1.2 .3-1.1 .3-1.1 .3-1 .3-.9 .3-.9 .3-.9 .3-.8 .3-.8 .3-.7 .3-.7 .8-1.7 .8-1.4 .8-1.3 .8-1.1 .8-.9 .8-.8 .8-.7 .8-.7 .8-.5 .8-.4 .8-.4 .8-.4 .8-.3 .8-.2 .8-.3 .8-.2 .8-.1 .8-.2 .8-.1 .8-.1 .8-.1 .8-.1 .8,0 .8-.1 .8-.1 .8,0 .8,0 .8-.1 .8,0 .8,0 .8-.1" fill="none" stroke="#555" stroke-width="0.4" stroke-linejoin="round" />
<path d="M197.7,529l.3,0 .3,26.6 .3,9.5 .3,2.5 .3-.2 .3-1.2 .3-1.5 .3-1.7 .3-1.6 .3-1.6 .3-1.5 .3-1.5 .3-1.3 .3-1.4 .3-1.2 .3-1.2 .3-1.1 .3-1.1 .3-1 .3-1 .3-.9 .3-.9 .3-.8 .3-.8 .3-.7 .3-.7 .3-.7 .3-.7 .8-1.5 .8-1.4 .8-1.2 .8-1 .8-.9 .8-.8 .8-.7 .8-.6 .8-.6 .8-.4 .8-.4 .8-.4 .8-.3 .8-.3 .8-.2 .8-.2 .8-.2 .8-.1 .8-.2 .8-.1 .8-.1 .8-.1 .8-.1 .8,0 .8-.1 .8,0 .8-.1 .8,0 .8-.1 .8,0 .8,0 .8,0 .8-.1" fill="none" stroke="#555" stroke-width="0.4" stroke-linejoin="round" />
<path d="M197.7,529l.3,0 .3,24.1 .3,8.6 .3,2.4 .3,0 .3-1 .3-1.4 .3-1.4 .3-1.4 .3-1.4 .3-1.3 .3-1.3 .3-1.2 .3-1.2 .3-1.1 .3-1 .3-1 .3-1 .3-.9 .3-.9 .3-.8 .3-.8 .3-.7 .3-.7 .3-.7 .3-.7 .3-.6 .3-.6 .8-1.4 .8-1.3 .8-1.1 .8-1 .8-.9 .8-.7 .8-.7 .8-.6 .8-.5 .8-.5 .8-.4 .8-.3 .8-.3 .8-.3 .8-.2 .8-.3 .8-.1 .8-.2 .8-.1 .8-.2 .8-.1 .8-.1 .8-.1 .8,0 .8-.1 .8-.1 .8,0 .8-.1 .8,0 .8,0 .8-.1 .8,0 .8,0 .8,0 .8-.1" fill="none" stroke="#555" stroke-width="0.4" stroke-linejoin="round" />
<path d="M197.7,529l.3,0 .3,21.6 .3,7.9 .3,2.2 .3,0 .3-.8 .3-1.1 .3-1.3 .3-1.2 .3-1.2 .3-1.1 .3-1.1 .3-1.1 .3-1 .3-1 .3-.9 .3-.9 .3-.8 .3-.8 .3-.8 .3-.7 .3-.8 .3-.6 .3-.7 .3-.6 .3-.6 .3-.5 .3-.6 .8-1.3 .8-1.2 .8-1 .8-.9 .8-.8 .8-.7 .8-.7 .8-.5 .8-.5 .8-.5 .8-.4 .8-.3 .8-.3 .8-.3 .8-.2 .8-.2 .8-.2 .8-.2 .8-.1 .8-.2 .8-.1 .8-.1 .8-.1 .8-.1 .8,0 .8-.1 .8-.1 .8,0 .8-.1 .8,0 .8,0 .8-.1 .8,0 .8,0 .8,0 .8-.1" fill="none" stroke="#555" stroke-width="0.4" stroke-linejoin="round" />
<path d="M197.7,529l.3,0 .3,19.3 .3,7 .3,2.1 .3,.1 .3-.7 .3-1 .3-1 .3-1.1 .3-1 .3-1 .3-.9 .3-1 .3-.8 .3-.9 .3-.8 .3-.8 .3-.7 .3-.7 .3-.7 .3-.6 .3-.7 .3-.6 .3-.5 .3-.6 .3-.5 .3-.5 .3-.5 .8-1.2 .8-1 .8-1 .8-.8 .8-.8 .8-.6 .8-.6 .8-.6 .8-.4 .8-.5 .8-.3 .8-.4 .8-.3 .8-.2 .8-.3 .8-.2 .8-.2 .8-.1 .8-.2 .8-.1 .8-.1 .8-.1 .8-.1 .8-.1 .8-.1 .8-.1 .8,0 .8-.1 .8,0 .8-.1 .8,0 .8,0 .8-.1 .8,0 .8,0 .8,0 .8,0 .8-.1" fill="none" stroke="#555" stroke-width="0.4" stroke-linejoin="round" />
<path d="M197.7,529l.3,0 .3,17 .3,6.3 .3,1.9 .3,.1 .3-.5 .3-.9 .3-.8 .3-.9 .3-.9 .3-.9 .3-.8 .3-.8 .3-.7 .3-.8 .3-.7 .3-.6 .3-.7 .3-.6 .3-.6 .3-.6 .3-.5 .3-.5 .3-.5 .3-.5 .3-.5 .3-.4 .3-.4 .8-1.1 .8-.9 .8-.9 .8-.7 .8-.7 .8-.6 .8-.6 .8-.5 .8-.4 .8-.4 .8-.4 .8-.3 .8-.3 .8-.2 .8-.2 .8-.2 .8-.2 .8-.2 .8-.1 .8-.2 .8-.1 .8-.1 .8-.1 .8-.1 .8,0 .8-.1 .8-.1 .8,0 .8-.1 .8,0 .8-.1 .8,0 .8,0 .8-.1 .8,0 .8,0 .8,0 .8,0 .8-.1" fill="none" stroke="#555" stroke-width="0.4" stroke-linejoin="round" />
<path d="M197.7,529l.3,0 .3,14.9 .3,5.5 .3,1.6 .3,.2 .3-.4 .3-.7 .3-.7 .3-.8 .3-.7 .3-.8 .3-.7 .3-.6 .3-.7 .3-.6 .3-.6 .3-.6 .3-.5 .3-.5 .3-.6 .3-.4 .3-.5 .3-.5 .3-.4 .3-.4 .3-.4 .3-.4 .3-.4 .8-.9 .8-.8 .8-.8 .8-.7 .8-.6 .8-.5 .8-.5 .8-.5 .8-.4 .8-.3 .8-.4 .8-.2 .8-.3 .8-.2 .8-.3 .8-.2 .8-.1 .8-.2 .8-.1 .8-.1 .8-.2 .8-.1 .8-.1 .8,0 .8-.1 .8-.1 .8,0 .8-.1 .8-.1 .8,0 .8,0 .8-.1 .8,0 .8,0 .8-.1 .8,0 .8,0 .8,0 .8,0 .8-.1" fill="none" stroke="#555" stroke-width="0.4" stroke-linejoin="round" />
<path d="M197.7,529l.3,0 .3,12.8 .3,4.7 .3,1.5 .3,.2 .3-.3 .3-.6 .3-.6 .3-.6 .3-.7 .3-.6 .3-.5 .3-.6 .3-.5 .3-.6 .3-.5 .3-.4 .3-.5 .3-.5 .3-.4 .3-.4 .3-.4 .3-.4 .3-.4 .3-.3 .3-.4 .3-.3 .3-.3 .8-.8 .8-.7 .8-.7 .8-.6 .8-.5 .8-.5 .8-.4 .8-.4 .8-.4 .8-.3 .8-.3 .8-.3 .8-.2 .8-.2 .8-.2 .8-.2 .8-.2 .8-.1 .8-.1 .8-.2 .8-.1 .8-.1 .8-.1 .8,0 .8-.1 .8-.1 .8,0 .8-.1 .8,0 .8-.1 .8,0 .8-.1 .8,0 .8,0 .8,0 .8-.1 .8,0 .8,0 .8,0 .8,0 .8-.1" fill="none" stroke="#555" stroke-width="0.4" stroke-linejoin="round" />
<path d="M197.7,529l.3,0 .3,10.8 .3,4.1 .3,1.2 .3,.2 .3-.3 .3-.4 .3-.5 .3-.5 .3-.5 .3-.5 .3-.5 .3-.5 .3-.4 .3-.4 .3-.4 .3-.4 .3-.4 .3-.4 .3-.4 .3-.3 .3-.3 .3-.4 .3-.3 .3-.3 .3-.3 .3-.3 .3-.2 .8-.7 .8-.6 .8-.6 .8-.5 .8-.4 .8-.4 .8-.4 .8-.4 .8-.3 .8-.3 .8-.2 .8-.3 .8-.2 .8-.2 .8-.1 .8-.2 .8-.2 .8-.1 .8-.1 .8-.1 .8-.1 .8-.1 .8-.1 .8-.1 .8,0 .8-.1 .8,0 .8-.1 .8,0 .8-.1 .8,0 .8-.1 .8,0 .8,0 .8,0 .8-.1 .8,0 .8,0 .8,0 .8,0 .8-.1" fill="none" stroke="#555" stroke-width="0.4" stroke-linejoin="round" />
<path d="M197.7,529l.3,0 .3,8.9 .3,3.4 .3,1.1 .3,.1 .3-.2 .3-.3 .3-.4 .3-.4 .3-.4 .3-.4 .3-.4 .3-.4 .3-.3 .3-.4 .3-.3 .3-.4 .3-.3 .3-.3 .3-.3 .3-.2 .3-.3 .3-.3 .3-.2 .3-.3 .3-.2 .3-.2 .3-.3 .8-.5 .8-.5 .8-.5 .8-.4 .8-.4 .8-.4 .8-.3 .8-.3 .8-.2 .8-.3 .8-.2 .8-.2 .8-.2 .8-.2 .8-.1 .8-.1 .8-.2 .8-.1 .8-.1 .8-.1 .8-.1 .8-.1 .8,0 .8-.1 .8-.1 .8,0 .8-.1 .8,0 .8-.1 .8,0 .8,0 .8-.1 .8,0 .8,0 .8,0 .8-.1 .8,0 .8,0 .8,0 .8,0 .8-.1" fill="none" stroke="#555" stroke-width="0.4" stroke-linejoin="round" />
<path d="M197.7,529l.3,0 .3,7.2 .3,2.7 .3,.8 .3,.2 .3-.2 .3-.2 .3-.3 .3-.4 .3-.3 .3-.3 .3-.3 .3-.3 .3-.2 .3-.3 .3-.3 .3-.2 .3-.3 .3-.2 .3-.3 .3-.2 .3-.2 .3-.2 .3-.2 .3-.2 .3-.2 .3-.2 .3-.1 .8-.5 .8-.4 .8-.4 .8-.3 .8-.3 .8-.3 .8-.3 .8-.2 .8-.2 .8-.2 .8-.2 .8-.2 .8-.1 .8-.2 .8-.1 .8-.1 .8-.1 .8-.1 .8-.1 .8-.1 .8-.1 .8,0 .8-.1 .8-.1 .8,0 .8-.1 .8,0 .8-.1 .8,0 .8,0 .8-.1 .8,0 .8,0 .8,0 .8-.1 .8,0 .8,0 .8,0 .8,0 .8,0 .8-.1" fill="none" stroke="#555" stroke-width="0.4" stroke-linejoin="round" />
<path d="M197.7,529l.3,0 .3,5.5 .3,2.1 .3,.7 .3,.1 .3-.1 .3-.2 .3-.2 .3-.3 .3-.2 .3-.2 .3-.3 .3-.2 .3-.2 .3-.2 .3-.2 .3-.2 .3-.2 .3-.1 .3-.2 .3-.2 .3-.2 .3-.1 .3-.2 .3-.1 .3-.2 .3-.1 .3-.1 .8-.4 .8-.3 .8-.3 .8-.2 .8-.3 .8-.2 .8-.2 .8-.2 .8-.2 .8-.1 .8-.2 .8-.1 .8-.1 .8-.1 .8-.1 .8-.1 .8-.1 .8-.1 .8-.1 .8,0 .8-.1 .8-.1 .8,0 .8-.1 .8,0 .8,0 .8-.1 .8,0 .8,0 .8-.1 .8,0 .8,0 .8,0 .8-.1 .8,0 .8,0 .8,0 .8,0 .8,0 .8-.1" fill="none" stroke="#555" stroke-width="0.4" stroke-linejoin="round" />
<path d="M197.7,529l.3,0 .3,4 .3,1.5 .3,.5 .3,.1 .3-.1 .3-.1 .3-.2 .3-.1 .3-.2 .3-.2 .3-.1 .3-.2 .3-.1 .3-.2 .3-.1 .3-.1 .3-.2 .3-.1 .3-.1 .3-.2 .3-.1 .3-.1 .3-.1 .3-.1 .3-.1 .3-.1 .3-.1 .8-.2 .8-.3 .8-.2 .8-.2 .8-.1 .8-.2 .8-.2 .8-.1 .8-.1 .8-.1 .8-.1 .8-.1 .8-.1 .8-.1 .8-.1 .8-.1 .8,0 .8-.1 .8,0 .8-.1 .8,0 .8-.1 .8,0 .8-.1 .8,0 .8,0 .8-.1 .8,0 .8,0 .8,0 .8-.1 .8,0 .8,0 .8,0 .8,0 .8,0 .8-.1" fill="none" stroke="#555" stroke-width="0.4" stroke-linejoin="round" />
<path d="M197.7,529l.3,0 .3,2.6 .3,1 .3,.3 .3,.1 .3,0 .3-.1 .3-.1 .3-.1 .3-.1 .3-.1 .3-.1 .3-.1 .3-.1 .3-.1 .3-.1 .3-.1 .3-.1 .3-.1 .3,0 .3-.1 .3-.1 .3-.1 .3,0 .3-.1 .3-.1 .3,0 .3-.1 .8-.2 .8-.1 .8-.2 .8-.1 .8-.1 .8-.1 .8-.1 .8-.1 .8-.1 .8-.1 .8,0 .8-.1 .8-.1 .8,0 .8-.1 .8,0 .8-.1 .8,0 .8,0 .8-.1 .8,0 .8,0 .8-.1 .8,0 .8,0 .8,0 .8-.1 .8,0 .8,0 .8,0 .8,0 .8,0 .8,0 .8-.1" fill="none" stroke="#555" stroke-width="0.4" stroke-linejoin="round" />
<path d="M197.7,529l.3,0 .3,1.4 .3,.6 .3,.2 .3,0 .3,0 .3,0 .3-.1 .3-.1 .3,0 .3-.1 .3,0 .3-.1 .3,0 .3-.1 .3,0 .3-.1 .3,0 .3-.1 .3,0 .3,0 .3-.1 .3,0 .3-.1 .3,0 .3,0 .3-.1 .3,0 .8-.1 .8-.1 .8-.1 .8,0 .8-.1 .8-.1 .8,0 .8-.1 .8,0 .8,0 .8-.1 .8,0 .8-.1 .8,0 .8,0 .8-.1 .8,0 .8,0 .8,0 .8,0 .8-.1 .8,0 .8,0 .8,0 .8,0 .8,0 .8,0 .8-.1" fill="none" stroke="#555" stroke-width="0.4" stroke-linejoin="round" />
<path d="M200,567.8l.5-4 .5-3.5 .5-3.3 .5-2.9 .5-2.5 .5-2.4 .5-2 .5-1.9 .5-1.7 .5-1.5 .5-1.3 .5-1.3 .5-1 .5-1 .5-.9 .5-.8 .5-.7 .5-.6 .5-.6 .5-.5 .5-.4 .5-.4 .5-.4 .5-.3 .5-.3 .5-.3 .5-.2 .5-.2 .5-.2 .5-.2 .5-.2 .5-.1 .5-.1 .5-.1 .5-.1 .5-.1 .5-.1 .5-.1 .5,0 .5-.1 .5,0 .5-.1 .5,0 .5-.1 .5,0 .5,0 .5-.1 .5,0 .5,0 .5,0 .5,0 .5-.1 .5,0 .5,0 .5,0 .5,0 .5,0 .5,0 .5,0 .5,0 .5,0 .5-.1 .5,0 .5,0 .5,0 .5,0 .5,0 .5,0 .5,0 .5,0 .5,0 .5,0 .5,0 .5,0 .5,0 .5,0 .5,0 .5,0 .5,0 .5,0 .5,0 .5,0 .5,0 .5,0 .5,0" fill="none" stroke="#222" stroke-width="0.9" stroke-linejoin="round" />
<path d="M200,564l.5-3 .5-2.7 .5-2.5 .5-2.3 .5-2.1 .5-1.9 .5-1.8 .5-1.6 .5-1.4 .5-1.4 .5-1.2 .5-1.1 .5-1 .5-1 .5-.8 .5-.8 .5-.7 .5-.7 .5-.6 .5-.5 .5-.5 .5-.5 .5-.4 .5-.4 .5-.3 .5-.4 .5-.3 .5-.2 .5-.3 .5-.2 .5-.2 .5-.2 .5-.2 .5-.1 .5-.2 .5-.1 .5-.1 .5-.1 .5-.1 .5-.1 .5-.1 .5-.1 .5,0 .5-.1 .5-.1 .5,0 .5-.1 .5,0 .5-.1 .5,0 .5,0 .5-.1 .5,0 .5,0 .5,0 .5-.1 .5,0 .5,0 .5,0 .5,0 .5,0 .5-.1 .5,0 .5,0 .5,0 .5,0 .5,0 .5,0 .5,0 .5,0 .5,0 .5,0 .5,0 .5-.1 .5,0 .5,0 .5,0 .5,0 .5,0 .5,0 .5,0 .5,0 .5,0 .5,0 .5,0" fill="none" stroke="#222" stroke-width="0.9" stroke-linejoin="round" />
<line x1="8.4" y1="529.1" x2="36" y2="529.1" stroke="#000" stroke-width="1.4" />
<line x1="36" y1="529.6" x2="198" y2="529.6" stroke="#000" stroke-width="3.0" />
<line x1="198" y1="529.3" x2="278.7" y2="529.3" stroke="#000" stroke-width="1.9" />
<text x="341" y="433" font-size="11.99" font-weight="bold" fill="#000" text-anchor="start" >QV/FV/1-h-infinity Curve</text>
<text transform="translate(310.4,504) rotate(-90)" font-size="11.2" font-weight="bold" text-anchor="middle">Q<tspan font-size="7.1" dy="2.6">norm</tspan><tspan dy="-2.6">/F</tspan><tspan font-size="7.1" dy="2.6">norm</tspan><tspan dy="-2.6">/I</tspan><tspan font-size="7.1" dy="2.6">norm</tspan></text>
<line x1="332.8" y1="441.7" x2="332.8" y2="566.9" stroke="#000" stroke-width="1.3" />
<line x1="332.15000000000003" y1="566.2" x2="485.5" y2="566.2" stroke="#000" stroke-width="1.3" />
<line x1="328.8" y1="560.6" x2="332.8" y2="560.6" stroke="#000" stroke-width="1.0" />
<line x1="330.3" y1="549.46" x2="332.8" y2="549.46" stroke="#000" stroke-width="1.0" />
<line x1="330.3" y1="538.32" x2="332.8" y2="538.32" stroke="#000" stroke-width="1.0" />
<line x1="330.3" y1="527.1800000000001" x2="332.8" y2="527.1800000000001" stroke="#000" stroke-width="1.0" />
<line x1="330.3" y1="516.04" x2="332.8" y2="516.04" stroke="#000" stroke-width="1.0" />
<line x1="328.8" y1="504.90000000000003" x2="332.8" y2="504.90000000000003" stroke="#000" stroke-width="1.0" />
<line x1="330.3" y1="493.76" x2="332.8" y2="493.76" stroke="#000" stroke-width="1.0" />
<line x1="330.3" y1="482.62" x2="332.8" y2="482.62" stroke="#000" stroke-width="1.0" />
<line x1="330.3" y1="471.48" x2="332.8" y2="471.48" stroke="#000" stroke-width="1.0" />
<line x1="330.3" y1="460.34000000000003" x2="332.8" y2="460.34000000000003" stroke="#000" stroke-width="1.0" />
<line x1="328.8" y1="449.20000000000005" x2="332.8" y2="449.20000000000005" stroke="#000" stroke-width="1.0" />
<text x="328" y="451.90000000000003" font-size="7.6" font-weight="bold" fill="#000" text-anchor="end" >1.0</text>
<text x="328" y="507.6" font-size="7.6" font-weight="bold" fill="#000" text-anchor="end" >0.5</text>
<text x="328" y="563.3000000000001" font-size="7.6" font-weight="bold" fill="#000" text-anchor="end" >0.0</text>
<line x1="332.65000000000003" y1="566.2" x2="332.65000000000003" y2="570.2" stroke="#000" stroke-width="1.0" />
<line x1="338.76" y1="566.2" x2="338.76" y2="568.7" stroke="#000" stroke-width="1.0" />
<line x1="344.87" y1="566.2" x2="344.87" y2="568.7" stroke="#000" stroke-width="1.0" />
<line x1="350.98" y1="566.2" x2="350.98" y2="568.7" stroke="#000" stroke-width="1.0" />
<line x1="357.09000000000003" y1="566.2" x2="357.09000000000003" y2="568.7" stroke="#000" stroke-width="1.0" />
<line x1="363.2" y1="566.2" x2="363.2" y2="570.2" stroke="#000" stroke-width="1.0" />
<line x1="369.31" y1="566.2" x2="369.31" y2="568.7" stroke="#000" stroke-width="1.0" />
<line x1="375.42" y1="566.2" x2="375.42" y2="568.7" stroke="#000" stroke-width="1.0" />
<line x1="381.53000000000003" y1="566.2" x2="381.53000000000003" y2="568.7" stroke="#000" stroke-width="1.0" />
<line x1="387.64" y1="566.2" x2="387.64" y2="568.7" stroke="#000" stroke-width="1.0" />
<line x1="393.75" y1="566.2" x2="393.75" y2="570.2" stroke="#000" stroke-width="1.0" />
<line x1="399.86" y1="566.2" x2="399.86" y2="568.7" stroke="#000" stroke-width="1.0" />
<line x1="405.97" y1="566.2" x2="405.97" y2="568.7" stroke="#000" stroke-width="1.0" />
<line x1="412.08000000000004" y1="566.2" x2="412.08000000000004" y2="568.7" stroke="#000" stroke-width="1.0" />
<line x1="418.19" y1="566.2" x2="418.19" y2="568.7" stroke="#000" stroke-width="1.0" />
<line x1="424.3" y1="566.2" x2="424.3" y2="570.2" stroke="#000" stroke-width="1.0" />
<line x1="430.41" y1="566.2" x2="430.41" y2="568.7" stroke="#000" stroke-width="1.0" />
<line x1="436.52" y1="566.2" x2="436.52" y2="568.7" stroke="#000" stroke-width="1.0" />
<line x1="442.63" y1="566.2" x2="442.63" y2="568.7" stroke="#000" stroke-width="1.0" />
<line x1="448.74" y1="566.2" x2="448.74" y2="568.7" stroke="#000" stroke-width="1.0" />
<line x1="454.85" y1="566.2" x2="454.85" y2="570.2" stroke="#000" stroke-width="1.0" />
<line x1="460.96000000000004" y1="566.2" x2="460.96000000000004" y2="568.7" stroke="#000" stroke-width="1.0" />
<line x1="467.07" y1="566.2" x2="467.07" y2="568.7" stroke="#000" stroke-width="1.0" />
<line x1="473.18" y1="566.2" x2="473.18" y2="568.7" stroke="#000" stroke-width="1.0" />
<line x1="479.29" y1="566.2" x2="479.29" y2="568.7" stroke="#000" stroke-width="1.0" />
<line x1="485.40000000000003" y1="566.2" x2="485.40000000000003" y2="570.2" stroke="#000" stroke-width="1.0" />
<text x="331.15000000000003" y="580" font-size="7.6" font-weight="bold" fill="#000" text-anchor="middle" >-150</text>
<text x="361.7" y="580" font-size="7.6" font-weight="bold" fill="#000" text-anchor="middle" >-100</text>
<text x="392.25" y="580" font-size="7.6" font-weight="bold" fill="#000" text-anchor="middle" >-50</text>
<text x="424.3" y="580" font-size="7.6" font-weight="bold" fill="#000" text-anchor="middle" >0</text>
<text x="454.85" y="580" font-size="7.6" font-weight="bold" fill="#000" text-anchor="middle" >50</text>
<text x="485.40000000000003" y="580" font-size="7.6" font-weight="bold" fill="#000" text-anchor="middle" >100</text>
<text x="448.4" y="594" font-size="12.3" font-weight="bold" fill="#000" text-anchor="start" >V (mV)</text>
<line x1="332.8" y1="560.6" x2="485" y2="560.6" stroke="#000" stroke-width="0.9" stroke-dasharray="1.2,1.8"/>
<path d="M347.9,560.6l.6,0 .6,0 .7,0 .6,0 .6,0 .6,0 .6,0 .6,0 .6,0 .6,0 .6,0 .7-.1 .6,0 .6,0 .6,0 .6,0 .6,0 .6,0 .6,0 .6-.1 .7,0 .6,0 .6,0 .6-.1 .6,0 .6-.1 .6,0 .6-.1 .6-.1 .7,0 .6-.1 .6-.2 .6-.1 .6-.1 .6-.2 .6-.2 .6-.2 .6-.2 .7-.3 .6-.4 .6-.3 .6-.5 .6-.4 .6-.6 .6-.6 .6-.7 .6-.8 .7-.9 .6-1.1 .6-1.1 .6-1.3 .6-1.4 .6-1.6 .6-1.8 .6-2 .6-2.2 .7-2.3 .6-2.6 .6-2.8 .6-3 .6-3.1 .6-3.4 .6-3.5 .6-3.7 .6-3.7 .7-3.8 .6-3.9 .6-3.9 .6-3.8 .6-3.7 .6-3.7 .6-3.5 .6-3.4 .6-3.1 .7-3 .6-2.8 .6-2.6 .6-2.3 .6-2.2 .6-2 .6-1.8 .6-1.6 .6-1.4 .6-1.3 .7-1.1 .6-1.1 .6-.9 .6-.8 .6-.7 .6-.6 .6-.6 .6-.4 .6-.5 .7-.3 .6-.4 .6-.3 .6-.2 .6-.2 .6-.2 .6-.2 .6-.1 .6-.1 .7-.2 .6-.1 .6,0 .6-.1 .6-.1 .6,0 .6-.1 .6,0 .6-.1 .7,0 .6,0 .6,0 .6-.1 .6,0 .6,0 .6,0 .6,0 .6,0 .7,0 .6,0 .6-.1 .6,0 .6,0 .6,0 .6,0 .6,0 .6,0 .7,0 .6,0 .6,0 .6,0 .6,0 .6,0 .6,0 .6,0 .6,0 .7,0 .6,0 .6,0 .6,0 .6,0 .6,0 .6,0 .6,0 .6,0 .7,0 .6,0 .6,0 .6,0 .6,0 .6,0 .6,0 .6,0 .6,0 .7,0 .6,0 .6,0 .6,0 .6,0 .6,0 .6,0 .6,0 .6,0" fill="none" stroke="#a9a9a9" stroke-width="0.9" stroke-linejoin="round" />
<circle cx="347.9" cy="560.6" r="2.9" fill="#a9a9a9"/>
<circle cx="351.0" cy="560.6" r="2.9" fill="#a9a9a9"/>
<circle cx="354.0" cy="560.6" r="2.9" fill="#a9a9a9"/>
<circle cx="357.1" cy="560.5" r="2.9" fill="#a9a9a9"/>
<circle cx="360.1" cy="560.4" r="2.9" fill="#a9a9a9"/>
<circle cx="363.2" cy="560.3" r="2.9" fill="#a9a9a9"/>
<circle cx="366.3" cy="560.0" r="2.9" fill="#a9a9a9"/>
<circle cx="369.3" cy="559.3" r="2.9" fill="#a9a9a9"/>
<circle cx="372.4" cy="558.0" r="2.9" fill="#a9a9a9"/>
<circle cx="375.4" cy="555.6" r="2.9" fill="#a9a9a9"/>
<line x1="378.475" y1="545.9858077695102" x2="378.475" y2="556.0118077695101" stroke="#a9a9a9" stroke-width="0.9" />
<line x1="375.975" y1="545.9858077695102" x2="380.975" y2="545.9858077695102" stroke="#a9a9a9" stroke-width="0.9" />
<line x1="375.975" y1="556.0118077695101" x2="380.975" y2="556.0118077695101" stroke="#a9a9a9" stroke-width="0.9" />
<circle cx="378.5" cy="551.0" r="2.9" fill="#a9a9a9"/>
<line x1="381.53000000000003" y1="537.888981716266" x2="381.53000000000003" y2="547.9149817162661" stroke="#a9a9a9" stroke-width="0.9" />
<line x1="379.03000000000003" y1="537.888981716266" x2="384.03000000000003" y2="537.888981716266" stroke="#a9a9a9" stroke-width="0.9" />
<line x1="379.03000000000003" y1="547.9149817162661" x2="384.03000000000003" y2="547.9149817162661" stroke="#a9a9a9" stroke-width="0.9" />
<circle cx="381.5" cy="542.9" r="2.9" fill="#a9a9a9"/>
<line x1="384.58500000000004" y1="525.0146304345038" x2="384.58500000000004" y2="535.0406304345039" stroke="#a9a9a9" stroke-width="0.9" />
<line x1="382.08500000000004" y1="525.0146304345038" x2="387.08500000000004" y2="525.0146304345038" stroke="#a9a9a9" stroke-width="0.9" />
<line x1="382.08500000000004" y1="535.0406304345039" x2="387.08500000000004" y2="535.0406304345039" stroke="#a9a9a9" stroke-width="0.9" />
<circle cx="384.6" cy="530.0" r="2.9" fill="#a9a9a9"/>
<line x1="387.64" y1="507.57374844809647" x2="387.64" y2="517.5997484480964" stroke="#a9a9a9" stroke-width="0.9" />
<line x1="385.14" y1="507.57374844809647" x2="390.14" y2="507.57374844809647" stroke="#a9a9a9" stroke-width="0.9" />
<line x1="385.14" y1="517.5997484480964" x2="390.14" y2="517.5997484480964" stroke="#a9a9a9" stroke-width="0.9" />
<circle cx="387.6" cy="512.6" r="2.9" fill="#a9a9a9"/>
<line x1="390.695" y1="488.44785334919607" x2="390.695" y2="498.4738533491961" stroke="#a9a9a9" stroke-width="0.9" />
<line x1="388.195" y1="488.44785334919607" x2="393.195" y2="488.44785334919607" stroke="#a9a9a9" stroke-width="0.9" />
<line x1="388.195" y1="498.4738533491961" x2="393.195" y2="498.4738533491961" stroke="#a9a9a9" stroke-width="0.9" />
<circle cx="390.7" cy="493.5" r="2.9" fill="#a9a9a9"/>
<line x1="393.75" y1="471.7767474468926" x2="393.75" y2="481.80274744689257" stroke="#a9a9a9" stroke-width="0.9" />
<line x1="391.25" y1="471.7767474468926" x2="396.25" y2="471.7767474468926" stroke="#a9a9a9" stroke-width="0.9" />
<line x1="391.25" y1="481.80274744689257" x2="396.25" y2="481.80274744689257" stroke="#a9a9a9" stroke-width="0.9" />
<circle cx="393.8" cy="476.8" r="2.9" fill="#a9a9a9"/>
<line x1="396.805" y1="459.9140214882232" x2="396.805" y2="469.94002148822324" stroke="#a9a9a9" stroke-width="0.9" />
<line x1="394.305" y1="459.9140214882232" x2="399.305" y2="459.9140214882232" stroke="#a9a9a9" stroke-width="0.9" />
<line x1="394.305" y1="469.94002148822324" x2="399.305" y2="469.94002148822324" stroke="#a9a9a9" stroke-width="0.9" />
<circle cx="396.8" cy="464.9" r="2.9" fill="#a9a9a9"/>
<line x1="399.86" y1="452.63760125436653" x2="399.86" y2="462.66360125436654" stroke="#a9a9a9" stroke-width="0.9" />
<line x1="397.36" y1="452.63760125436653" x2="402.36" y2="452.63760125436653" stroke="#a9a9a9" stroke-width="0.9" />
<line x1="397.36" y1="462.66360125436654" x2="402.36" y2="462.66360125436654" stroke="#a9a9a9" stroke-width="0.9" />
<circle cx="399.9" cy="457.7" r="2.9" fill="#a9a9a9"/>
<line x1="402.915" y1="448.5734111226095" x2="402.915" y2="458.59941112260947" stroke="#a9a9a9" stroke-width="0.9" />
<line x1="400.415" y1="448.5734111226095" x2="405.415" y2="448.5734111226095" stroke="#a9a9a9" stroke-width="0.9" />
<line x1="400.415" y1="458.59941112260947" x2="405.415" y2="458.59941112260947" stroke="#a9a9a9" stroke-width="0.9" />
<circle cx="402.9" cy="453.6" r="2.9" fill="#a9a9a9"/>
<circle cx="406.0" cy="451.4" r="2.9" fill="#a9a9a9"/>
<circle cx="409.0" cy="450.3" r="2.9" fill="#a9a9a9"/>
<circle cx="412.1" cy="449.8" r="2.9" fill="#a9a9a9"/>
<circle cx="415.1" cy="449.5" r="2.9" fill="#a9a9a9"/>
<circle cx="418.2" cy="449.3" r="2.9" fill="#a9a9a9"/>
<circle cx="421.2" cy="449.3" r="2.9" fill="#a9a9a9"/>
<circle cx="424.3" cy="449.2" r="2.9" fill="#a9a9a9"/>
<circle cx="427.4" cy="449.2" r="2.9" fill="#a9a9a9"/>
<circle cx="430.4" cy="449.2" r="2.9" fill="#a9a9a9"/>
<circle cx="433.5" cy="449.2" r="2.9" fill="#a9a9a9"/>
<circle cx="436.5" cy="449.2" r="2.9" fill="#a9a9a9"/>
<circle cx="439.6" cy="449.2" r="2.9" fill="#a9a9a9"/>
<circle cx="442.6" cy="449.2" r="2.9" fill="#a9a9a9"/>
<circle cx="445.7" cy="449.2" r="2.9" fill="#a9a9a9"/>
<circle cx="448.7" cy="449.2" r="2.9" fill="#a9a9a9"/>
<path d="M351,560.6l6.1-2.2 6.1-4.3 6.1-8.9 6.1-7.2 6.1-19.2 6.1-16.7 6.2-14.6 6.1-11.1 6.1-6.7 6.1-1.6 6.1-4.9 6.1-.7 6.1-3.4 6.1-.5 6.1-1.6 6.1-3.5 6.2,2.8 6.1-6.9" fill="none" stroke="#ff8412" stroke-width="1.0" stroke-linejoin="round" />
<circle cx="351.0" cy="560.6" r="3.0" fill="#ff8412"/>
<circle cx="357.1" cy="558.4" r="3.0" fill="#ff8412"/>
<circle cx="363.2" cy="554.1" r="3.0" fill="#ff8412"/>
<circle cx="369.3" cy="545.2" r="3.0" fill="#ff8412"/>
<circle cx="375.4" cy="538.0" r="3.0" fill="#ff8412"/>
<circle cx="381.5" cy="518.8" r="3.0" fill="#ff8412"/>
<circle cx="387.6" cy="502.1" r="3.0" fill="#ff8412"/>
<circle cx="393.8" cy="487.5" r="3.0" fill="#ff8412"/>
<circle cx="399.9" cy="476.4" r="3.0" fill="#ff8412"/>
<circle cx="406.0" cy="469.7" r="3.0" fill="#ff8412"/>
<circle cx="412.1" cy="468.1" r="3.0" fill="#ff8412"/>
<circle cx="418.2" cy="463.2" r="3.0" fill="#ff8412"/>
<circle cx="424.3" cy="462.5" r="3.0" fill="#ff8412"/>
<circle cx="430.4" cy="459.1" r="3.0" fill="#ff8412"/>
<circle cx="436.5" cy="458.6" r="3.0" fill="#ff8412"/>
<circle cx="442.6" cy="457.0" r="3.0" fill="#ff8412"/>
<circle cx="448.7" cy="453.5" r="3.0" fill="#ff8412"/>
<circle cx="454.9" cy="456.3" r="3.0" fill="#ff8412"/>
<circle cx="461.0" cy="449.4" r="3.0" fill="#ff8412"/>
<path d="M344.9,560.6l6.1-2.8 6.1-5 6.1-5.6 6.1-8.9 6.1-11.1 6.1-14.5 6.1-15.2 6.2-13.3 6.1-10.3 6.1-7.9 6.1-5.4 6.1-2.3 6.1-2.4 6.1-2.4 6.1-2.2 6.1-1 6.1-1.1" fill="none" stroke="#000" stroke-width="0.9" stroke-linejoin="round" />
<circle cx="344.9" cy="560.6" r="3.0" fill="#000"/>
<circle cx="351.0" cy="557.8" r="3.0" fill="#000"/>
<circle cx="357.1" cy="552.8" r="3.0" fill="#000"/>
<circle cx="363.2" cy="547.2" r="3.0" fill="#000"/>
<circle cx="369.3" cy="538.3" r="3.0" fill="#000"/>
<circle cx="375.4" cy="527.2" r="3.0" fill="#000"/>
<circle cx="381.5" cy="512.7" r="3.0" fill="#000"/>
<circle cx="387.6" cy="497.5" r="3.0" fill="#000"/>
<circle cx="393.8" cy="484.2" r="3.0" fill="#000"/>
<circle cx="399.9" cy="473.9" r="3.0" fill="#000"/>
<circle cx="406.0" cy="466.0" r="3.0" fill="#000"/>
<circle cx="412.1" cy="460.6" r="3.0" fill="#000"/>
<circle cx="418.2" cy="458.3" r="3.0" fill="#000"/>
<circle cx="424.3" cy="455.9" r="3.0" fill="#000"/>
<circle cx="430.4" cy="453.5" r="3.0" fill="#000"/>
<circle cx="436.5" cy="451.3" r="3.0" fill="#000"/>
<circle cx="442.6" cy="450.3" r="3.0" fill="#000"/>
<circle cx="448.7" cy="449.2" r="3.0" fill="#000"/>
<line x1="435" y1="518.5" x2="446.8" y2="518.5" stroke="#000" stroke-width="0.9" />
<circle cx="441" cy="518.5" r="2.4" fill="#000"/>
<line x1="435" y1="532.3" x2="446.8" y2="532.3" stroke="#ff8412" stroke-width="0.9" />
<circle cx="441" cy="532.3" r="2.4" fill="#ff8412"/>
<line x1="435" y1="546.3" x2="446.8" y2="546.3" stroke="#a9a9a9" stroke-width="0.9" />
<circle cx="441" cy="546.3" r="2.4" fill="#a9a9a9"/>
<text x="452.7" y="521.6" font-size="8.4" font-weight="normal" fill="#222" text-anchor="start" >QV</text>
<text x="452.7" y="535.2" font-size="8.4" font-weight="normal" fill="#222" text-anchor="start" >FV</text>
<text x="452.7" y="549.1" font-size="8.4" fill="#222">1-h<tspan font-size="6" dy="0.8">∞</tspan></text>
<text x="535.6" y="432.4" font-size="12.05" font-weight="bold" fill="#000" text-anchor="start" >Fluore/Gating Kinetics</text>
<text transform="translate(497.8,507.9) rotate(-90)" x="0" y="0" font-size="10.85" font-weight="bold" text-anchor="middle" >Time Constant (ms)</text>
<line x1="518.3" y1="449.5" x2="518.3" y2="567.95" stroke="#000" stroke-width="1.3" />
<line x1="517.65" y1="567.3" x2="674.9" y2="567.3" stroke="#000" stroke-width="1.3" />
<line x1="514.3" y1="462.29999999999995" x2="518.3" y2="462.29999999999995" stroke="#000" stroke-width="1.1" />
<text x="513" y="464.99999999999994" font-size="7.6" font-weight="bold" fill="#000" text-anchor="end" >10</text>
<line x1="514.3" y1="514.8" x2="518.3" y2="514.8" stroke="#000" stroke-width="1.1" />
<text x="513" y="517.5" font-size="7.6" font-weight="bold" fill="#000" text-anchor="end" >1</text>
<line x1="514.3" y1="567.3" x2="518.3" y2="567.3" stroke="#000" stroke-width="1.1" />
<text x="513" y="570.0" font-size="7.6" font-weight="bold" fill="#000" text-anchor="end" >0.1</text>
<line x1="517.2" y1="567.3" x2="517.2" y2="571.5" stroke="#000" stroke-width="1.1" />
<text x="517.2" y="580" font-size="7.6" font-weight="bold" fill="#000" text-anchor="middle" >-100</text>
<line x1="548.6" y1="567.3" x2="548.6" y2="571.5" stroke="#000" stroke-width="1.1" />
<text x="548.6" y="580" font-size="7.6" font-weight="bold" fill="#000" text-anchor="middle" >-80</text>
<line x1="580.0" y1="567.3" x2="580.0" y2="571.5" stroke="#000" stroke-width="1.1" />
<text x="580.0" y="580" font-size="7.6" font-weight="bold" fill="#000" text-anchor="middle" >-60</text>
<line x1="611.4000000000001" y1="567.3" x2="611.4000000000001" y2="571.5" stroke="#000" stroke-width="1.1" />
<text x="611.4000000000001" y="580" font-size="7.6" font-weight="bold" fill="#000" text-anchor="middle" >-40</text>
<line x1="642.8000000000001" y1="567.3" x2="642.8000000000001" y2="571.5" stroke="#000" stroke-width="1.1" />
<text x="642.8000000000001" y="580" font-size="7.6" font-weight="bold" fill="#000" text-anchor="middle" >-20</text>
<line x1="674.2" y1="567.3" x2="674.2" y2="571.5" stroke="#000" stroke-width="1.1" />
<text x="674.2" y="580" font-size="7.6" font-weight="bold" fill="#000" text-anchor="middle" >0</text>
<text x="637.4" y="594.3" font-size="11.3" font-weight="bold" fill="#000" text-anchor="start" >V (mV)</text>
<line x1="548.6" y1="475.50407477235893" x2="548.6" y2="478.10407477235896" stroke="#ff8412" stroke-width="0.9" />
<line x1="545.9" y1="475.50407477235893" x2="551.3000000000001" y2="475.50407477235893" stroke="#ff8412" stroke-width="0.9" />
<line x1="545.9" y1="478.10407477235896" x2="551.3000000000001" y2="478.10407477235896" stroke="#ff8412" stroke-width="0.9" />
<line x1="564.3000000000001" y1="469.12204877625004" x2="564.3000000000001" y2="475.12204877625004" stroke="#ff8412" stroke-width="0.9" />
<line x1="561.6" y1="469.12204877625004" x2="567.0000000000001" y2="469.12204877625004" stroke="#ff8412" stroke-width="0.9" />
<line x1="561.6" y1="475.12204877625004" x2="567.0000000000001" y2="475.12204877625004" stroke="#ff8412" stroke-width="0.9" />
<line x1="580.0" y1="470.23026938878735" x2="580.0" y2="478.83026938878737" stroke="#ff8412" stroke-width="0.9" />
<line x1="577.3" y1="470.23026938878735" x2="582.7" y2="470.23026938878735" stroke="#ff8412" stroke-width="0.9" />
<line x1="577.3" y1="478.83026938878737" x2="582.7" y2="478.83026938878737" stroke="#ff8412" stroke-width="0.9" />
<line x1="611.4000000000001" y1="481.6633584442947" x2="611.4000000000001" y2="487.6633584442947" stroke="#ff8412" stroke-width="0.9" />
<line x1="608.7" y1="481.6633584442947" x2="614.1000000000001" y2="481.6633584442947" stroke="#ff8412" stroke-width="0.9" />
<line x1="608.7" y1="487.6633584442947" x2="614.1000000000001" y2="487.6633584442947" stroke="#ff8412" stroke-width="0.9" />
<circle cx="548.6" cy="478.1" r="2.8" fill="#ff8412"/>
<circle cx="564.3" cy="472.1" r="2.8" fill="#ff8412"/>
<circle cx="580.0" cy="474.3" r="2.8" fill="#ff8412"/>
<circle cx="595.7" cy="483.8" r="2.8" fill="#ff8412"/>
<circle cx="611.4" cy="484.7" r="2.8" fill="#ff8412"/>
<circle cx="627.1" cy="491.3" r="2.8" fill="#ff8412"/>
<circle cx="642.8" cy="494.8" r="2.8" fill="#ff8412"/>
<circle cx="658.5" cy="502.0" r="2.8" fill="#ff8412"/>
<circle cx="674.2" cy="502.0" r="2.8" fill="#ff8412"/>
<circle cx="548.6" cy="482.4" r="2.8" fill="#000"/>
<circle cx="564.3" cy="481.8" r="2.8" fill="#000"/>
<circle cx="580.0" cy="484.1" r="2.8" fill="#000"/>
<circle cx="595.7" cy="487.6" r="2.8" fill="#000"/>
<circle cx="611.4" cy="491.7" r="2.8" fill="#000"/>
<circle cx="627.1" cy="495.8" r="2.8" fill="#000"/>
<circle cx="642.8" cy="499.0" r="2.8" fill="#000"/>
<line x1="658.5" y1="496.37318290346775" x2="658.5" y2="502.7731829034677" stroke="#000" stroke-width="0.9" />
<line x1="655.8" y1="496.37318290346775" x2="661.2" y2="496.37318290346775" stroke="#000" stroke-width="0.9" />
<line x1="655.8" y1="502.7731829034677" x2="661.2" y2="502.7731829034677" stroke="#000" stroke-width="0.9" />
<circle cx="658.5" cy="499.6" r="2.8" fill="#000"/>
<line x1="674.2" y1="492.1189372307338" x2="674.2" y2="498.5189372307338" stroke="#000" stroke-width="0.9" />
<line x1="671.5" y1="492.1189372307338" x2="676.9000000000001" y2="492.1189372307338" stroke="#000" stroke-width="0.9" />
<line x1="671.5" y1="498.5189372307338" x2="676.9000000000001" y2="498.5189372307338" stroke="#000" stroke-width="0.9" />
<circle cx="674.2" cy="495.3" r="2.8" fill="#000"/>
<line x1="548.6" y1="533.9694094864827" x2="548.6" y2="540.4694094864827" stroke="#000" stroke-width="0.9" />
<line x1="545.9" y1="533.9694094864827" x2="551.3000000000001" y2="533.9694094864827" stroke="#000" stroke-width="0.9" />
<line x1="545.9" y1="540.4694094864827" x2="551.3000000000001" y2="540.4694094864827" stroke="#000" stroke-width="0.9" />
<path d="M548.6,534.8 L551.3,539.5 L545.9,539.5 Z" fill="#000"/>
<path d="M564.3,533.0 L567.0,537.7 L561.6,537.7 Z" fill="#000"/>
<path d="M580.0,531.9 L582.7,536.6 L577.3,536.6 Z" fill="#000"/>
<path d="M595.7,530.8 L598.4,535.5 L593.0,535.5 Z" fill="#000"/>
<path d="M611.4,528.8 L614.1,533.6 L608.7,533.6 Z" fill="#000"/>
<path d="M627.1,526.6 L629.8,531.3 L624.4,531.3 Z" fill="#000"/>
<path d="M642.8,524.5 L645.5,529.2 L640.1,529.2 Z" fill="#000"/>
<line x1="658.5" y1="522.5701836619347" x2="658.5" y2="529.0701836619347" stroke="#000" stroke-width="0.9" />
<line x1="655.8" y1="522.5701836619347" x2="661.2" y2="522.5701836619347" stroke="#000" stroke-width="0.9" />
<line x1="655.8" y1="529.0701836619347" x2="661.2" y2="529.0701836619347" stroke="#000" stroke-width="0.9" />
<path d="M658.5,523.4 L661.2,528.1 L655.8,528.1 Z" fill="#000"/>
<path d="M674.2,519.3 L676.9,524.0 L671.5,524.0 Z" fill="#000"/>
<circle cx="622.3" cy="455" r="2.8" fill="#000"/>
<text x="634" y="457.5" font-size="8.4" fill="#222">GatingTau<tspan font-size="7" dy="1.6">Slow</tspan></text>
<circle cx="622.3" cy="468.8" r="2.8" fill="#ff8412"/>
<text x="634" y="471.6" font-size="8.4" font-weight="normal" fill="#222" text-anchor="start" >Fluore Tau</text>
<path d="M602.9,556.4 L605.6,561.1 L600.2,561.1 Z" fill="#000"/>
<text x="614.4" y="562" font-size="8.4" fill="#222">Gating Tau<tspan font-size="7" dy="1.6">Fast</tspan></text>
</svg></body></html>
